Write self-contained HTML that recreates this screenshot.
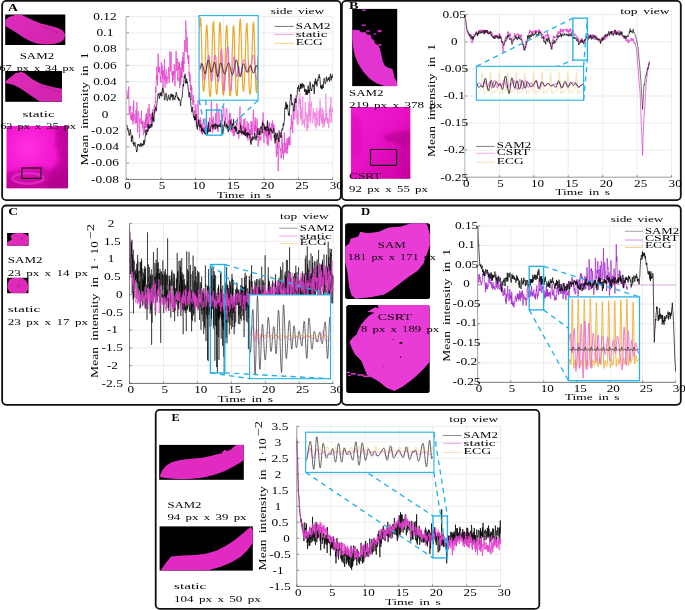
<!DOCTYPE html>
<html><head><meta charset="utf-8"><title>figure</title>
<style>html,body{margin:0;padding:0;background:#fff;}svg{display:block;will-change:transform;opacity:0.999;}text{font-family:"Liberation Serif",serif;}</style></head>
<body>
<svg width="685" height="610" viewBox="0 0 685 610">
<defs>
<linearGradient id="gA" x1="0" y1="0" x2="1" y2="1"><stop offset="0" stop-color="#e02cbc"/><stop offset="1" stop-color="#cf25aa"/></linearGradient>
<linearGradient id="gB2" x1="0" y1="0" x2="1" y2="1"><stop offset="0" stop-color="#f31bd3"/><stop offset="0.45" stop-color="#ea12c6"/><stop offset="1" stop-color="#c8009f"/></linearGradient>
<radialGradient id="gA3" cx="0.35" cy="0.35" r="0.75"><stop offset="0" stop-color="#ff2fe0"/><stop offset="0.6" stop-color="#f316cf"/><stop offset="1" stop-color="#c00498"/></radialGradient>
<filter id="bl" x="-5%" y="-5%" width="110%" height="110%"><feGaussianBlur stdDeviation="0.45"/></filter>
<filter id="bl2" x="-10%" y="-10%" width="120%" height="120%"><feGaussianBlur stdDeviation="1.6"/></filter>
<clipPath id="cA1"><rect x="5.2" y="14.5" width="60.1" height="30.5"/></clipPath>
<clipPath id="cA2"><rect x="5.2" y="71" width="56.8" height="30.8"/></clipPath>
<clipPath id="cA3"><rect x="6.5" y="126" width="61.5" height="62.3"/></clipPath>
<clipPath id="cB1"><rect x="352.2" y="8.9" width="45" height="77.2"/></clipPath>
<clipPath id="cB2"><rect x="350.9" y="107" width="59.4" height="71.8"/></clipPath>
<clipPath id="cC1"><rect x="7.1" y="233" width="21.4" height="12.7"/></clipPath>
<clipPath id="cC2"><rect x="7.1" y="277.8" width="21.4" height="15.4"/></clipPath>
<clipPath id="cD1"><rect x="345.1" y="223.2" width="85" height="75.8" rx="2.5"/></clipPath>
<clipPath id="cD2"><rect x="346.2" y="305.1" width="83.5" height="88" rx="2.5"/></clipPath>
<clipPath id="cE1"><rect x="159.2" y="444.9" width="84.6" height="34.9"/></clipPath>
<clipPath id="cE2"><rect x="159.6" y="526.4" width="93.2" height="44.2"/></clipPath>
<clipPath id="ciA"><rect x="199.1" y="15.6" width="59.00000000000003" height="84.60000000000001"/></clipPath>
<clipPath id="ciB"><rect x="476.4" y="66.3" width="107.20000000000005" height="33.900000000000006"/></clipPath>
<clipPath id="ciC"><rect x="249.6" y="294.9" width="81.00000000000003" height="83.80000000000001"/></clipPath>
<clipPath id="ciD"><rect x="568.5" y="296.9" width="71.0" height="83.80000000000001"/></clipPath>
<clipPath id="ciE"><rect x="305.7" y="432.2" width="128.2" height="40.19999999999999"/></clipPath>
</defs>
<rect x="0" y="0" width="685" height="610" fill="#fff"/>
<rect x="5.2" y="14.5" width="60.1" height="30.5" fill="#000"/>
<g clip-path="url(#cA1)" filter="url(#bl)">
<polygon points="4.9,20.2 9.0,16.9 14.8,15.1 21.3,15.1 26.2,16.9 32.8,20.2 41.0,23.4 49.2,25.6 57.4,27.7 63.1,30.5 65.1,34.6 64.3,38.7 61.0,42.1 54.1,44.1 45.9,44.6 37.7,43.8 30.3,41.3 23.0,37.2 15.6,32.3 9.0,28.2 4.9,25.7" fill="url(#gA)"/>
<path d="M40 26 Q50 29 58 33" stroke="#b91d97" stroke-width="2.2" fill="none" opacity="0.5"/>
</g>
<rect x="5.2" y="71" width="56.8" height="30.8" fill="#000"/>
<g clip-path="url(#cA2)" filter="url(#bl)">
<polygon points="4.9,81.8 15.6,73.0 20.5,71.8 24.6,73.0 32.0,78.9 41.0,83.8 52.5,87.0 63.1,89.0 63.1,103.4 43.0,103.4 36.9,99.8 27.9,93.6 19.7,88.0 13.1,84.8 4.9,83.1" fill="url(#gA)"/>
<path d="M40 86 Q50 89 60 92" stroke="#b91d97" stroke-width="2.2" fill="none" opacity="0.5"/>
</g>
<rect x="6.5" y="126" width="61.5" height="62.3" fill="url(#gA3)"/>
<g clip-path="url(#cA3)">
<path d="M56 126 L68 126 L68 189 L44 189 L52 170 L60 160 L55 145 Z" fill="#b0058c" opacity="0.55" filter="url(#bl2)"/>
<path d="M6 172 L40 166 L68 176 L68 189 L6 189 Z" fill="#b0058c" opacity="0.5" filter="url(#bl2)"/>
<ellipse cx="28" cy="178.5" rx="15.5" ry="5.2" fill="none" stroke="#f23fd6" stroke-width="2.4" opacity="0.55" filter="url(#bl)"/>
</g>
<rect x="21.8" y="168" width="19.1" height="10.4" fill="none" stroke="#111" stroke-width="1.1"/>
<rect x="352.2" y="8.9" width="45" height="77.2" fill="#000"/>
<g clip-path="url(#cB1)">
<polygon points="352.0,29.8 358.9,30.1 361.0,32.2 365.9,32.2 366.6,34.2 370.8,34.9 371.5,38.4 374.2,40.5 374.9,43.3 378.4,45.4 379.8,48.2 381.2,53.7 382.6,60.7 384.7,65.6 388.2,67.7 392.4,69.1 393.7,73.2 394.4,77.4 396.5,80.9 397.6,86.5 392.4,86.5 384.0,85.8 376.3,83.3 369.4,78.4 363.1,71.4 358.2,63.8 354.7,55.4 353.1,47.1 352.0,38.4" fill="#e235d0"/>
<rect x="377.7" y="30.1" width="3.8" height="2.1" fill="#d52fc4"/>
<rect x="373.6" y="33.3" width="2.8" height="1.3" fill="#d52fc4"/>
<rect x="361.7" y="24.5" width="4.2" height="1.4" fill="#d52fc4"/>
<rect x="361.7" y="9.6" width="4.2" height="1.3" fill="#d52fc4"/>
<rect x="378.4" y="44.0" width="3.1" height="1.7" fill="#d52fc4"/>
<rect x="365.9" y="30.3" width="4.2" height="1.4" fill="#d52fc4"/>
<rect x="371.5" y="39.8" width="2.5" height="1.1" fill="#d52fc4"/>
</g>
<rect x="350.9" y="107" width="59.4" height="71.8" fill="url(#gB2)"/>
<g clip-path="url(#cB2)">
<polygon points="382.7,135.6 392.4,133.2 410.6,129.6 410.6,148.1 403.6,146.3 395.2,143.5 386.8,140.7" fill="#b0008c" opacity="0.6" filter="url(#bl2)"/>
<polygon points="398.0,146.0 410.6,147.4 410.6,179.5 400.8,179.5 399.4,162.8" fill="#b8009a" opacity="0.35" filter="url(#bl2)"/>
<polygon points="350.9,113.9 358.9,116.7 363.1,134.9 360.3,155.8 350.9,158.6" fill="#c800a8" opacity="0.3" filter="url(#bl2)"/>
</g>
<rect x="370.5" y="149.5" width="26.1" height="15.8" rx="1" fill="none" stroke="#111" stroke-width="1.15"/>
<rect x="7.1" y="233" width="21.4" height="12.7" fill="#000"/>
<g clip-path="url(#cC1)" filter="url(#bl)">
<polygon points="6.8,245.9 6.8,242.2 11.7,239.7 10.4,236.1 13.5,233.6 20.9,232.6 26.4,234.6 28.7,237.3 28.7,242.8 27.0,245.9" fill="#dd2bb9"/>
<circle cx="22" cy="238.6" r="1.6" fill="#b81d98" opacity="0.6"/>
</g>
<rect x="7.1" y="277.8" width="21.4" height="15.4" fill="#000"/>
<g clip-path="url(#cC2)" filter="url(#bl)">
<polygon points="7.6,284.2 9.2,279.7 13.5,277.8 22.1,277.8 26.4,280.9 28.3,285.2 27.9,290.1 25.8,293.3 12.3,293.3 9.2,291.6 7.4,287.7" fill="#dd2bb9"/>
<circle cx="18.5" cy="285.8" r="1.8" fill="#b81d98" opacity="0.6"/>
</g>
<rect x="345.1" y="223.2" width="85" height="75.8" rx="2.5" fill="#000"/>
<g clip-path="url(#cD1)">
<polygon points="344.4,247.2 349.2,243.5 350.6,238.7 358.2,236.6 360.2,231.8 367.8,233.2 378.8,231.8 388.5,227.6 400.9,226.5 411.9,223.0 425.6,223.0 427.7,226.3 429.8,234.5 429.8,245.5 427.0,253.8 423.6,263.5 417.4,271.0 409.1,276.5 400.9,282.7 391.2,290.3 384.3,294.4 370.5,297.2 355.4,298.7 351.3,295.1 349.2,286.9 347.1,270.3 344.4,259.3" fill="#e93cd6"/>
</g>
<rect x="346.2" y="305.1" width="83.5" height="88" rx="2.5" fill="#000"/>
<g clip-path="url(#cD2)">
<polygon points="367.1,312.0 375.1,307.2 378.6,308.3 377.5,304.8 430.5,304.8 430.5,361.0 424.9,367.4 418.5,373.9 410.4,381.1 402.4,386.7 394.4,391.0 386.4,387.8 379.9,382.2 371.9,377.4 367.1,375.0 363.9,367.4 361.5,361.0 355.0,354.6 351.8,348.2 349.4,342.1 352.6,337.7 356.6,334.5 359.1,327.3 363.9,320.9 368.7,316.1 374.3,312.5" fill="#e93cd6"/>
<rect x="346.2" y="371.8" width="4.0" height="1.3" fill="#d936c8"/>
<rect x="351.0" y="373.1" width="4.8" height="1.6" fill="#d936c8"/>
<rect x="357.5" y="374.2" width="6.4" height="1.6" fill="#d936c8"/>
<rect x="363.1" y="375.5" width="7.2" height="1.6" fill="#d936c8"/>
<rect x="347.8" y="375.1" width="3.2" height="1.0" fill="#d936c8"/>
<ellipse cx="400.9" cy="343.0" rx="1.6" ry="1.0" fill="#000"/><circle cx="400.5" cy="357.0" r="0.7" fill="#000"/><circle cx="393.2" cy="339.4" r="0.5" fill="#000"/><circle cx="383" cy="366.5" r="0.4" fill="#000"/>
</g>
<rect x="159.2" y="444.9" width="84.6" height="34.9" fill="#000"/>
<g clip-path="url(#cE1)" filter="url(#bl)">
<polygon points="159.9,475.4 162.6,469.8 166.1,465.7 171.6,462.2 180.0,460.1 191.1,458.7 202.2,457.8 210.5,456.0 216.0,454.6 221.6,453.2 224.3,449.7 227.1,451.1 230.6,449.7 234.8,445.8 238.2,444.7 245.2,445.3 245.2,459.4 239.6,462.9 232.7,467.0 224.3,471.2 214.6,474.7 203.5,477.4 192.4,478.8 182.7,479.3 173.0,478.8 165.4,478.1 160.5,477.2" fill="#e02ac2"/>
</g>
<rect x="159.6" y="526.4" width="93.2" height="44.2" fill="#000"/>
<g clip-path="url(#cE2)" filter="url(#bl)">
<polygon points="159.6,572.1 165.7,562.9 171.1,556.5 182.6,555.6 194.9,554.9 205.6,553.7 216.3,550.7 225.5,546.1 234.7,539.9 242.4,533.8 248.5,528.4 251.3,527.1 253.9,533.8 253.9,541.5 247.0,550.7 240.8,556.8 231.6,562.2 220.9,566.8 210.2,569.8 201.0,572.1" fill="#e02ac2"/>
</g>
<rect x="2.15" y="0.85" width="338.75" height="199.35" rx="4.2" ry="4.2" fill="none" stroke="#111" stroke-width="1.8"/>
<rect x="341.9" y="0.85" width="338.9" height="199.35" rx="4.2" ry="4.2" fill="none" stroke="#111" stroke-width="1.8"/>
<rect x="2.15" y="205.5" width="338.75" height="199.3" rx="4.2" ry="4.2" fill="none" stroke="#111" stroke-width="1.8"/>
<rect x="341.9" y="205.5" width="338.9" height="199.3" rx="4.2" ry="4.2" fill="none" stroke="#111" stroke-width="1.8"/>
<rect x="155.7" y="409.9" width="383.59999999999997" height="199.0" rx="4.2" ry="4.2" fill="none" stroke="#111" stroke-width="1.8"/>
<text x="7.9" y="10.8" textLength="9.9" lengthAdjust="spacingAndGlyphs" font-size="10.6" font-weight="bold" fill="#000">A</text>
<text x="19.7" y="58.9" textLength="34.4" lengthAdjust="spacingAndGlyphs" font-size="9.2" fill="#000">SAM2</text>
<text x="-0.6" y="71.0" textLength="75.2" lengthAdjust="spacingAndGlyphs" font-size="9.2" fill="#000" word-spacing="1.5">67 px x 34 px</text>
<text x="22.6" y="116.7" textLength="32.2" lengthAdjust="spacingAndGlyphs" font-size="9.2" fill="#000">static</text>
<text x="0.2" y="128.8" textLength="75.8" lengthAdjust="spacingAndGlyphs" font-size="9.2" fill="#000" word-spacing="1.5">63 px x 35 px</text>
<text x="349.1" y="8.6" textLength="9.5" lengthAdjust="spacingAndGlyphs" font-size="10.2" font-weight="bold" fill="#000">B</text>
<text x="349.1" y="95.8" textLength="34.5" lengthAdjust="spacingAndGlyphs" font-size="9.2" fill="#000">SAM2</text>
<text x="349.1" y="108.4" textLength="93.4" lengthAdjust="spacingAndGlyphs" font-size="9.2" fill="#000" word-spacing="1.5">219 px x 378 px</text>
<text x="349.1" y="179.2" textLength="32.3" lengthAdjust="spacingAndGlyphs" font-size="9.2" fill="#000">CSRT</text>
<text x="349.1" y="191.9" textLength="78.8" lengthAdjust="spacingAndGlyphs" font-size="9.2" fill="#000" word-spacing="1.5">92 px x 55 px</text>
<text x="8.2" y="214.9" textLength="9.8" lengthAdjust="spacingAndGlyphs" font-size="10.6" font-weight="bold" fill="#000">C</text>
<text x="7.8" y="263.4" textLength="34.7" lengthAdjust="spacingAndGlyphs" font-size="9.2" fill="#000">SAM2</text>
<text x="7.8" y="275.6" textLength="80.1" lengthAdjust="spacingAndGlyphs" font-size="9.2" fill="#000" word-spacing="1.5">23 px x 14 px</text>
<text x="7.8" y="312.4" textLength="32.5" lengthAdjust="spacingAndGlyphs" font-size="9.2" fill="#000">static</text>
<text x="7.8" y="324.6" textLength="80.1" lengthAdjust="spacingAndGlyphs" font-size="9.2" fill="#000" word-spacing="1.5">23 px x 17 px</text>
<text x="361.0" y="214.9" textLength="9.2" lengthAdjust="spacingAndGlyphs" font-size="10.6" font-weight="bold" fill="#000">D</text>
<text x="377.8" y="248.0" textLength="28.0" lengthAdjust="spacingAndGlyphs" font-size="9.2" fill="#000">SAM</text>
<text x="347.8" y="260.3" textLength="88.2" lengthAdjust="spacingAndGlyphs" font-size="9.2" fill="#000" word-spacing="1.5">181 px x 171 px</text>
<text x="377.8" y="319.5" textLength="34.1" lengthAdjust="spacingAndGlyphs" font-size="9.2" fill="#000">CSRT</text>
<text x="348.3" y="331.8" textLength="90.8" lengthAdjust="spacingAndGlyphs" font-size="9.2" fill="#000" word-spacing="1.5">178 px x 189 px</text>
<text x="171.5" y="421.0" textLength="8.1" lengthAdjust="spacingAndGlyphs" font-size="10.6" font-weight="bold" fill="#000">E</text>
<text x="167.4" y="507.8" textLength="34.1" lengthAdjust="spacingAndGlyphs" font-size="9.2" fill="#000">SAM2</text>
<text x="167.4" y="520.4" textLength="79.1" lengthAdjust="spacingAndGlyphs" font-size="9.2" fill="#000" word-spacing="1.5">94 px x 39 px</text>
<text x="174.1" y="589.3" textLength="32.1" lengthAdjust="spacingAndGlyphs" font-size="9.2" fill="#000">static</text>
<text x="174.1" y="601.6" textLength="86.7" lengthAdjust="spacingAndGlyphs" font-size="9.2" fill="#000" word-spacing="1.5">104 px x 50 px</text>
<line x1="160.9" y1="16.6" x2="160.9" y2="179.4" stroke="#e3e3e3" stroke-width="0.7"/>
<line x1="195.3" y1="16.6" x2="195.3" y2="179.4" stroke="#e3e3e3" stroke-width="0.7"/>
<line x1="229.6" y1="16.6" x2="229.6" y2="179.4" stroke="#e3e3e3" stroke-width="0.7"/>
<line x1="264.0" y1="16.6" x2="264.0" y2="179.4" stroke="#e3e3e3" stroke-width="0.7"/>
<line x1="298.4" y1="16.6" x2="298.4" y2="179.4" stroke="#e3e3e3" stroke-width="0.7"/>
<line x1="332.7" y1="16.6" x2="332.7" y2="179.4" stroke="#e3e3e3" stroke-width="0.7"/>
<line x1="126.6" y1="179.4" x2="332.7" y2="179.4" stroke="#e3e3e3" stroke-width="0.7"/>
<line x1="126.6" y1="163.1" x2="332.7" y2="163.1" stroke="#e3e3e3" stroke-width="0.7"/>
<line x1="126.6" y1="146.8" x2="332.7" y2="146.8" stroke="#e3e3e3" stroke-width="0.7"/>
<line x1="126.6" y1="130.6" x2="332.7" y2="130.6" stroke="#e3e3e3" stroke-width="0.7"/>
<line x1="126.6" y1="114.3" x2="332.7" y2="114.3" stroke="#e3e3e3" stroke-width="0.7"/>
<line x1="126.6" y1="98.0" x2="332.7" y2="98.0" stroke="#e3e3e3" stroke-width="0.7"/>
<line x1="126.6" y1="81.7" x2="332.7" y2="81.7" stroke="#e3e3e3" stroke-width="0.7"/>
<line x1="126.6" y1="65.4" x2="332.7" y2="65.4" stroke="#e3e3e3" stroke-width="0.7"/>
<line x1="126.6" y1="49.2" x2="332.7" y2="49.2" stroke="#e3e3e3" stroke-width="0.7"/>
<line x1="126.6" y1="32.9" x2="332.7" y2="32.9" stroke="#e3e3e3" stroke-width="0.7"/>
<line x1="126.6" y1="16.6" x2="332.7" y2="16.6" stroke="#e3e3e3" stroke-width="0.7"/>
<path d="M126.6 93.0 L126.8 90.4 L127.1 92.3 L127.3 92.9 L127.5 97.3 L127.7 98.7 L128.0 95.3 L128.2 96.9 L128.4 95.9 L128.7 86.5 L128.9 96.8 L129.1 114.5 L129.3 114.2 L129.6 112.0 L129.8 106.8 L130.0 109.0 L130.3 105.8 L130.5 108.0 L130.7 113.2 L131.0 119.5 L131.2 114.2 L131.4 120.3 L131.6 117.8 L131.9 112.1 L132.1 118.4 L132.3 120.3 L132.6 121.4 L132.8 114.2 L133.0 124.5 L133.2 106.0 L133.5 110.9 L133.7 100.6 L133.9 120.5 L134.2 116.2 L134.4 113.9 L134.6 114.2 L134.8 115.9 L135.1 122.3 L135.3 123.7 L135.5 120.5 L135.8 114.5 L136.0 109.9 L136.2 114.1 L136.4 123.1 L136.7 113.7 L136.9 102.1 L137.1 113.7 L137.4 129.3 L137.6 132.2 L137.8 115.9 L138.0 114.2 L138.3 111.0 L138.5 114.3 L138.7 115.6 L139.0 127.8 L139.2 127.6 L139.4 138.2 L139.7 132.6 L139.9 118.0 L140.1 118.1 L140.3 122.3 L140.6 122.6 L140.8 122.6 L141.0 123.6 L141.3 117.7 L141.5 110.6 L141.7 124.3 L141.9 122.1 L142.2 122.4 L142.4 121.7 L142.6 128.5 L142.9 120.7 L143.1 129.2 L143.3 131.3 L143.5 135.2 L143.8 134.0 L144.0 127.1 L144.2 121.8 L144.5 132.5 L144.7 126.6 L144.9 127.6 L145.1 128.1 L145.4 118.9 L145.6 127.9 L145.8 117.2 L146.1 113.8 L146.3 121.5 L146.5 113.5 L146.8 127.6 L147.0 122.7 L147.2 127.4 L147.4 117.3 L147.7 119.1 L147.9 108.5 L148.1 124.1 L148.4 131.2 L148.6 119.2 L148.8 120.0 L149.0 104.2 L149.3 110.2 L149.5 116.4 L149.7 114.7 L150.0 124.7 L150.2 121.6 L150.4 117.0 L150.6 115.0 L150.9 113.8 L151.1 119.6 L151.3 118.1 L151.6 119.1 L151.8 116.9 L152.0 119.3 L152.2 125.4 L152.5 126.9 L152.7 121.9 L152.9 109.2 L153.2 115.6 L153.4 115.7 L153.6 118.6 L153.9 114.5 L154.1 113.0 L154.3 104.8 L154.5 111.9 L154.8 112.9 L155.0 108.7 L155.2 101.0 L155.5 102.5 L155.7 86.9 L155.9 92.4 L156.1 86.6 L156.4 77.1 L156.6 79.6 L156.8 66.6 L157.1 77.8 L157.3 74.4 L157.5 85.5 L157.7 78.8 L158.0 61.0 L158.2 53.8 L158.4 68.0 L158.7 71.7 L158.9 67.3 L159.1 71.8 L159.3 72.8 L159.6 66.8 L159.8 69.7 L160.0 72.0 L160.3 78.2 L160.5 81.3 L160.7 76.7 L160.9 82.9 L161.2 69.3 L161.4 62.1 L161.6 71.1 L161.9 74.0 L162.1 64.8 L162.3 78.2 L162.6 70.9 L162.8 88.3 L163.0 92.9 L163.2 90.4 L163.5 70.2 L163.7 73.4 L163.9 76.4 L164.2 80.2 L164.4 59.1 L164.6 74.3 L164.8 78.4 L165.1 87.7 L165.3 82.3 L165.5 75.4 L165.8 78.4 L166.0 72.6 L166.2 69.1 L166.4 81.8 L166.7 77.9 L166.9 84.0 L167.1 82.4 L167.4 77.6 L167.6 77.8 L167.8 76.6 L168.0 78.7 L168.3 73.9 L168.5 72.2 L168.7 67.0 L169.0 72.7 L169.2 83.1 L169.4 72.5 L169.7 68.4 L169.9 51.3 L170.1 59.1 L170.3 63.0 L170.6 71.3 L170.8 62.3 L171.0 51.9 L171.3 55.0 L171.5 59.6 L171.7 68.6 L171.9 75.0 L172.2 73.0 L172.4 78.0 L172.6 82.5 L172.9 71.2 L173.1 80.1 L173.3 71.5 L173.5 76.1 L173.8 71.5 L174.0 73.6 L174.2 64.1 L174.5 71.1 L174.7 80.8 L174.9 86.2 L175.1 86.2 L175.4 77.1 L175.6 67.2 L175.8 65.1 L176.1 50.9 L176.3 64.7 L176.5 71.0 L176.8 61.7 L177.0 62.6 L177.2 58.0 L177.4 66.1 L177.7 79.4 L177.9 77.9 L178.1 81.3 L178.4 66.7 L178.6 69.4 L178.8 61.8 L179.0 69.9 L179.3 68.2 L179.5 62.8 L179.7 88.1 L180.0 76.6 L180.2 80.6 L180.4 67.5 L180.6 84.6 L180.9 80.7 L181.1 80.8 L181.3 71.9 L181.6 77.6 L181.8 61.2 L182.0 77.8 L182.2 66.0 L182.5 68.5 L182.7 57.3 L182.9 70.1 L183.2 51.9 L183.4 66.4 L183.6 72.3 L183.8 61.2 L184.1 64.0 L184.3 62.2 L184.5 44.9 L184.8 40.0 L185.0 50.1 L185.2 51.8 L185.5 41.4 L185.7 20.5 L185.9 26.1 L186.1 31.9 L186.4 31.2 L186.6 34.7 L186.8 52.3 L187.1 37.1 L187.3 49.3 L187.5 49.1 L187.7 58.8 L188.0 55.3 L188.2 57.7 L188.4 64.0 L188.7 55.3 L188.9 59.2 L189.1 76.3 L189.3 71.7 L189.6 73.1 L189.8 82.5 L190.0 74.4 L190.3 86.4 L190.5 84.4 L190.7 90.0 L190.9 87.1 L191.2 100.2 L191.4 85.4 L191.6 90.1 L191.9 87.5 L192.1 97.1 L192.3 97.2 L192.6 99.3 L192.8 104.8 L193.0 97.7 L193.2 95.1 L193.5 95.1 L193.7 102.3 L193.9 100.0 L194.2 109.6 L194.4 116.9 L194.6 119.1 L194.8 110.2 L195.1 112.0 L195.3 116.1 L195.5 116.6 L195.8 104.5 L196.0 108.9 L196.2 110.1 L196.4 116.8 L196.7 124.2 L196.9 120.4 L197.1 127.6 L197.4 116.3 L197.6 115.3 L197.8 112.2 L198.0 100.3 L198.3 112.4 L198.5 124.2 L198.7 124.3 L199.0 120.0 L199.2 123.8 L199.4 130.5 L199.7 123.9 L199.9 123.6 L200.1 118.6 L200.3 117.6 L200.6 125.3 L200.8 120.0 L201.0 131.7 L201.3 132.9 L201.5 130.3 L201.7 133.5 L201.9 125.5 L202.2 128.6 L202.4 134.7 L202.6 128.9 L202.9 122.2 L203.1 132.1 L203.3 129.1 L203.5 131.2 L203.8 126.8 L204.0 129.2 L204.2 132.6 L204.5 129.3 L204.7 127.5 L204.9 118.3 L205.1 126.7 L205.4 132.2 L205.6 126.0 L205.8 126.5 L206.1 131.5 L206.3 126.0 L206.5 133.4 L206.8 130.8 L207.0 125.7 L207.2 127.4 L207.4 127.8 L207.7 132.2 L207.9 125.9 L208.1 124.5 L208.4 126.1 L208.6 128.5 L208.8 129.4 L209.0 132.0 L209.3 129.7 L209.5 126.1 L209.7 117.7 L210.0 122.3 L210.2 126.9 L210.4 128.2 L210.6 132.5 L210.9 123.2 L211.1 117.5 L211.3 101.2 L211.6 108.0 L211.8 122.3 L212.0 118.8 L212.2 127.6 L212.5 120.7 L212.7 132.5 L212.9 124.2 L213.2 116.4 L213.4 116.8 L213.6 124.6 L213.8 125.8 L214.1 129.8 L214.3 125.0 L214.5 126.5 L214.8 127.1 L215.0 123.6 L215.2 120.3 L215.5 117.7 L215.7 113.2 L215.9 124.2 L216.1 123.5 L216.4 120.1 L216.6 120.0 L216.8 103.5 L217.1 105.5 L217.3 120.0 L217.5 129.7 L217.7 124.6 L218.0 132.0 L218.2 128.5 L218.4 124.8 L218.7 120.9 L218.9 109.2 L219.1 111.1 L219.3 117.5 L219.6 118.7 L219.8 125.8 L220.0 126.6 L220.3 126.8 L220.5 120.1 L220.7 124.2 L220.9 128.0 L221.2 127.3 L221.4 128.1 L221.6 122.2 L221.9 124.3 L222.1 114.7 L222.3 120.7 L222.6 114.8 L222.8 117.2 L223.0 112.5 L223.2 106.4 L223.5 106.6 L223.7 108.3 L223.9 107.5 L224.2 120.4 L224.4 126.3 L224.6 125.4 L224.8 120.0 L225.1 123.2 L225.3 117.6 L225.5 120.1 L225.8 114.6 L226.0 111.8 L226.2 109.9 L226.4 111.3 L226.7 108.3 L226.9 108.6 L227.1 114.1 L227.4 124.1 L227.6 126.7 L227.8 128.6 L228.0 129.6 L228.3 128.4 L228.5 120.8 L228.7 122.6 L229.0 121.3 L229.2 118.9 L229.4 113.6 L229.6 120.3 L229.9 124.4 L230.1 113.0 L230.3 119.7 L230.6 127.9 L230.8 128.6 L231.0 132.1 L231.3 119.9 L231.5 118.7 L231.7 124.5 L231.9 125.3 L232.2 125.4 L232.4 130.0 L232.6 132.9 L232.9 132.7 L233.1 128.2 L233.3 136.1 L233.5 132.0 L233.8 129.8 L234.0 127.7 L234.2 127.1 L234.5 134.9 L234.7 135.6 L234.9 129.4 L235.1 130.5 L235.4 129.8 L235.6 129.1 L235.8 132.7 L236.1 128.7 L236.3 128.8 L236.5 122.3 L236.7 125.2 L237.0 123.0 L237.2 122.5 L237.4 117.6 L237.7 124.8 L237.9 124.6 L238.1 127.7 L238.4 129.0 L238.6 133.2 L238.8 138.5 L239.0 135.9 L239.3 131.2 L239.5 120.5 L239.7 115.4 L240.0 106.5 L240.2 124.4 L240.4 122.4 L240.6 127.8 L240.9 117.1 L241.1 117.7 L241.3 119.3 L241.6 129.2 L241.8 134.5 L242.0 135.4 L242.2 132.2 L242.5 128.1 L242.7 125.9 L242.9 126.2 L243.2 132.1 L243.4 124.2 L243.6 128.0 L243.8 118.9 L244.1 126.2 L244.3 135.7 L244.5 128.3 L244.8 119.5 L245.0 118.4 L245.2 127.8 L245.5 132.1 L245.7 127.0 L245.9 128.9 L246.1 131.4 L246.4 134.7 L246.6 128.8 L246.8 130.1 L247.1 121.2 L247.3 129.9 L247.5 132.1 L247.7 138.1 L248.0 140.4 L248.2 131.4 L248.4 123.0 L248.7 126.8 L248.9 131.3 L249.1 133.2 L249.3 138.3 L249.6 129.5 L249.8 134.2 L250.0 128.9 L250.3 134.1 L250.5 142.0 L250.7 140.3 L250.9 120.9 L251.2 126.7 L251.4 124.9 L251.6 135.0 L251.9 121.7 L252.1 125.6 L252.3 135.3 L252.5 139.2 L252.8 126.5 L253.0 121.4 L253.2 110.7 L253.5 109.8 L253.7 119.7 L253.9 128.9 L254.2 129.4 L254.4 135.0 L254.6 124.8 L254.8 132.2 L255.1 117.4 L255.3 130.8 L255.5 129.8 L255.8 121.1 L256.0 128.5 L256.2 127.3 L256.4 136.2 L256.7 134.6 L256.9 125.4 L257.1 118.4 L257.4 126.5 L257.6 131.7 L257.8 138.7 L258.0 146.6 L258.3 146.4 L258.5 144.4 L258.7 136.2 L259.0 137.5 L259.2 137.0 L259.4 128.1 L259.6 140.3 L259.9 140.9 L260.1 137.4 L260.3 137.0 L260.6 139.4 L260.8 140.3 L261.0 134.1 L261.3 128.2 L261.5 129.4 L261.7 128.7 L261.9 123.4 L262.2 124.6 L262.4 125.1 L262.6 120.8 L262.9 125.7 L263.1 112.4 L263.3 127.2 L263.5 132.9 L263.8 138.5 L264.0 142.9 L264.2 125.5 L264.5 133.9 L264.7 132.6 L264.9 127.5 L265.1 133.4 L265.4 136.0 L265.6 133.9 L265.8 128.7 L266.1 131.7 L266.3 138.1 L266.5 129.6 L266.7 134.2 L267.0 136.0 L267.2 144.4 L267.4 135.9 L267.7 124.5 L267.9 133.7 L268.1 145.7 L268.4 141.8 L268.6 137.1 L268.8 132.6 L269.0 127.3 L269.3 122.4 L269.5 125.7 L269.7 122.5 L270.0 136.4 L270.2 138.2 L270.4 134.9 L270.6 127.1 L270.9 137.8 L271.1 140.7 L271.3 138.0 L271.6 136.1 L271.8 123.7 L272.0 131.4 L272.2 122.4 L272.5 120.5 L272.7 128.0 L272.9 128.0 L273.2 123.8 L273.4 133.0 L273.6 133.0 L273.8 128.8 L274.1 124.8 L274.3 134.6 L274.5 140.6 L274.8 140.7 L275.0 137.2 L275.2 139.9 L275.5 141.3 L275.7 141.1 L275.9 140.6 L276.1 150.8 L276.4 156.7 L276.6 149.6 L276.8 148.9 L277.1 139.5 L277.3 148.3 L277.5 143.0 L277.7 153.9 L278.0 151.9 L278.2 171.1 L278.4 154.9 L278.7 139.2 L278.9 129.8 L279.1 139.9 L279.3 144.8 L279.6 147.9 L279.8 148.4 L280.0 148.8 L280.3 150.6 L280.5 148.1 L280.7 153.3 L280.9 157.2 L281.2 158.5 L281.4 155.4 L281.6 157.3 L281.9 135.0 L282.1 149.1 L282.3 153.6 L282.5 152.0 L282.8 142.6 L283.0 150.1 L283.2 155.1 L283.5 159.4 L283.7 151.6 L283.9 153.5 L284.2 139.7 L284.4 132.5 L284.6 146.0 L284.8 152.2 L285.1 152.2 L285.3 142.7 L285.5 148.5 L285.8 152.8 L286.0 153.2 L286.2 150.0 L286.4 147.8 L286.7 149.5 L286.9 138.6 L287.1 154.0 L287.4 145.8 L287.6 143.0 L287.8 148.8 L288.0 138.0 L288.3 145.3 L288.5 141.7 L288.7 137.6 L289.0 143.6 L289.2 144.6 L289.4 136.4 L289.6 140.4 L289.9 143.0 L290.1 145.4 L290.3 132.9 L290.6 127.7 L290.8 126.6 L291.0 129.5 L291.3 118.2 L291.5 114.9 L291.7 125.3 L291.9 121.0 L292.2 120.7 L292.4 121.8 L292.6 133.1 L292.9 131.8 L293.1 110.6 L293.3 112.6 L293.5 118.0 L293.8 120.0 L294.0 108.0 L294.2 98.6 L294.5 105.3 L294.7 103.9" fill="none" stroke="#e23fcc" stroke-width="0.7" stroke-linejoin="round"/>
<path d="M294.7 103.9 L294.9 118.5 L295.1 115.0 L295.4 104.1 L295.6 104.3 L295.8 95.2 L296.1 110.5 L296.3 105.2 L296.5 117.4 L296.7 115.8 L297.0 123.5 L297.2 124.1 L297.4 119.1 L297.7 110.2 L297.9 117.4 L298.1 124.9 L298.4 120.6 L298.6 116.2 L298.8 110.1 L299.0 98.3 L299.3 104.1 L299.5 101.7 L299.7 101.1 L300.0 92.8 L300.2 108.5 L300.4 99.6 L300.6 118.3 L300.9 111.5 L301.1 120.8 L301.3 106.8 L301.6 114.0 L301.8 113.9 L302.0 124.2 L302.2 125.4 L302.5 111.1 L302.7 96.3 L302.9 99.3 L303.2 123.0 L303.4 121.9 L303.6 123.9 L303.8 120.6 L304.1 121.7 L304.3 119.2 L304.5 127.2 L304.8 117.4 L305.0 116.0 L305.2 101.9 L305.4 116.9 L305.7 118.0 L305.9 120.2 L306.1 111.8 L306.4 115.4 L306.6 127.1 L306.8 130.8 L307.1 131.2 L307.3 124.8 L307.5 128.3 L307.7 114.1 L308.0 128.2 L308.2 123.3 L308.4 115.4 L308.7 102.4 L308.9 101.9 L309.1 121.5 L309.3 110.7 L309.6 116.0 L309.8 92.6 L310.0 103.8 L310.3 112.1 L310.5 123.4 L310.7 109.6 L310.9 103.9 L311.2 105.7 L311.4 101.3 L311.6 111.5 L311.9 112.9 L312.1 115.1 L312.3 120.5 L312.5 123.3 L312.8 121.0 L313.0 113.7 L313.2 107.8 L313.5 113.3 L313.7 112.4 L313.9 119.3 L314.2 114.0 L314.4 113.4 L314.6 111.8 L314.8 121.8 L315.1 126.6 L315.3 120.4 L315.5 112.9 L315.8 114.4 L316.0 119.9 L316.2 128.5 L316.4 115.1 L316.7 107.7 L316.9 120.4 L317.1 118.0 L317.4 125.0 L317.6 123.7 L317.8 125.0 L318.0 112.2 L318.3 110.9 L318.5 117.4 L318.7 118.1 L319.0 120.2 L319.2 126.7 L319.4 108.7 L319.6 125.0 L319.9 119.0 L320.1 99.3 L320.3 115.1 L320.6 117.4 L320.8 115.6 L321.0 108.6 L321.2 120.2 L321.5 116.1 L321.7 123.4 L321.9 110.0 L322.2 107.7 L322.4 122.9 L322.6 114.1 L322.9 127.7 L323.1 122.2 L323.3 124.1 L323.5 110.4 L323.8 122.7 L324.0 123.3 L324.2 117.8 L324.5 126.6 L324.7 118.5 L324.9 122.1 L325.1 118.4 L325.4 121.2 L325.6 109.4 L325.8 93.6 L326.1 99.9 L326.3 105.7 L326.5 119.8 L326.7 115.2 L327.0 112.7 L327.2 123.1 L327.4 117.7 L327.7 121.9 L327.9 123.8 L328.1 120.7 L328.3 118.5 L328.6 128.2 L328.8 127.1 L329.0 126.0 L329.3 111.1 L329.5 113.0 L329.7 108.5 L330.0 122.7 L330.2 117.0 L330.4 105.4 L330.6 111.7 L330.9 96.9 L331.1 101.6 L331.3 109.9 L331.6 122.4 L331.8 114.2 L332.0 111.6 L332.2 109.5 L332.5 111.8 L332.7 107.9" fill="none" stroke="#ee72dc" stroke-width="0.6" stroke-linejoin="round"/>
<path d="M126.6 125.1 L126.8 125.9 L127.1 125.3 L127.3 128.5 L127.5 129.5 L127.7 128.2 L128.0 128.1 L128.2 128.7 L128.4 129.9 L128.7 133.2 L128.9 134.5 L129.1 134.4 L129.3 135.6 L129.6 133.8 L129.8 134.2 L130.0 131.2 L130.3 129.4 L130.5 130.2 L130.7 133.2 L131.0 134.1 L131.2 135.2 L131.4 141.9 L131.6 139.9 L131.9 136.9 L132.1 138.3 L132.3 135.8 L132.6 135.5 L132.8 137.7 L133.0 142.5 L133.2 144.0 L133.5 142.5 L133.7 143.6 L133.9 146.0 L134.2 144.4 L134.4 144.5 L134.6 143.9 L134.8 142.2 L135.1 142.4 L135.3 145.2 L135.5 146.8 L135.8 146.3 L136.0 147.4 L136.2 148.5 L136.4 150.8 L136.7 152.1 L136.9 150.7 L137.1 151.3 L137.4 148.6 L137.6 144.5 L137.8 145.1 L138.0 145.5 L138.3 144.0 L138.5 144.3 L138.7 145.1 L139.0 145.4 L139.2 145.4 L139.4 145.9 L139.7 144.5 L139.9 145.7 L140.1 146.9 L140.3 145.2 L140.6 143.0 L140.8 143.6 L141.0 144.7 L141.3 143.6 L141.5 145.4 L141.7 146.4 L141.9 146.5 L142.2 144.6 L142.4 144.6 L142.6 145.1 L142.9 143.8 L143.1 145.5 L143.3 144.2 L143.5 141.9 L143.8 140.2 L144.0 144.0 L144.2 144.6 L144.5 141.5 L144.7 140.8 L144.9 141.5 L145.1 137.5 L145.4 136.2 L145.6 134.5 L145.8 129.9 L146.1 132.4 L146.3 135.0 L146.5 135.1 L146.8 133.9 L147.0 129.1 L147.2 129.4 L147.4 132.0 L147.7 131.2 L147.9 127.7 L148.1 124.0 L148.4 124.8 L148.6 126.1 L148.8 128.6 L149.0 126.2 L149.3 127.9 L149.5 128.4 L149.7 126.2 L150.0 124.6 L150.2 124.4 L150.4 124.5 L150.6 127.2 L150.9 127.9 L151.1 125.6 L151.3 124.1 L151.6 126.5 L151.8 124.0 L152.0 116.8 L152.2 113.1 L152.5 112.6 L152.7 118.1 L152.9 120.5 L153.2 120.8 L153.4 117.4 L153.6 118.5 L153.9 121.9 L154.1 116.5 L154.3 114.6 L154.5 113.1 L154.8 110.8 L155.0 110.4 L155.2 109.3 L155.5 108.6 L155.7 107.4 L155.9 110.8 L156.1 111.2 L156.4 111.0 L156.6 110.0 L156.8 104.3 L157.1 102.9 L157.3 100.1 L157.5 97.7 L157.7 95.8 L158.0 94.4 L158.2 95.2 L158.4 93.3 L158.7 94.9 L158.9 94.9 L159.1 95.3 L159.3 98.6 L159.6 97.9 L159.8 95.4 L160.0 92.6 L160.3 93.2 L160.5 95.4 L160.7 95.8 L160.9 92.5 L161.2 92.5 L161.4 92.6 L161.6 95.1 L161.9 96.3 L162.1 92.3 L162.3 89.5 L162.6 89.5 L162.8 87.8 L163.0 90.5 L163.2 90.7 L163.5 90.2 L163.7 91.4 L163.9 92.3 L164.2 95.1 L164.4 97.0 L164.6 99.0 L164.8 100.2 L165.1 97.9 L165.3 96.5 L165.5 95.7 L165.8 94.2 L166.0 93.3 L166.2 93.2 L166.4 95.1 L166.7 97.0 L166.9 98.8 L167.1 100.8 L167.4 100.6 L167.6 99.8 L167.8 99.8 L168.0 98.2 L168.3 95.5 L168.5 95.3 L168.7 94.8 L169.0 97.5 L169.2 98.5 L169.4 97.8 L169.7 98.0 L169.9 99.1 L170.1 100.3 L170.3 98.9 L170.6 95.2 L170.8 93.9 L171.0 95.1 L171.3 95.1 L171.5 97.1 L171.7 94.4 L171.9 93.9 L172.2 96.1 L172.4 95.2 L172.6 97.2 L172.9 100.3 L173.1 99.6 L173.3 94.8 L173.5 95.1 L173.8 97.2 L174.0 97.7 L174.2 99.2 L174.5 99.0 L174.7 99.8 L174.9 99.5 L175.1 97.8 L175.4 95.9 L175.6 97.2 L175.8 96.8 L176.1 92.4 L176.3 92.1 L176.5 94.0 L176.8 94.1 L177.0 95.4 L177.2 95.9 L177.4 96.5 L177.7 98.7 L177.9 98.8 L178.1 97.0 L178.4 98.7 L178.6 100.3 L178.8 99.2 L179.0 100.3 L179.3 98.9 L179.5 98.9 L179.7 100.5 L180.0 101.7 L180.2 102.6 L180.4 105.4 L180.6 106.1 L180.9 101.4 L181.1 101.3 L181.3 100.0 L181.6 98.6 L181.8 98.3 L182.0 97.6 L182.2 96.0 L182.5 91.5 L182.7 89.8 L182.9 87.3 L183.2 84.2 L183.4 86.2 L183.6 86.4 L183.8 82.4 L184.1 79.3 L184.3 76.0 L184.5 77.8 L184.8 77.5 L185.0 73.8 L185.2 75.5 L185.5 79.3 L185.7 83.4 L185.9 81.0 L186.1 80.7 L186.4 83.2 L186.6 78.6 L186.8 81.8 L187.1 82.9 L187.3 81.8 L187.5 83.2 L187.7 84.0 L188.0 86.9 L188.2 89.0 L188.4 90.1 L188.7 91.0 L188.9 95.5 L189.1 97.2 L189.3 92.6 L189.6 92.5 L189.8 93.4 L190.0 95.3 L190.3 97.6 L190.5 99.0 L190.7 100.7 L190.9 105.6 L191.2 106.6 L191.4 107.6 L191.6 109.1 L191.9 112.3 L192.1 108.5 L192.3 106.9 L192.6 110.1 L192.8 111.0 L193.0 112.6 L193.2 113.5 L193.5 116.6 L193.7 117.9 L193.9 118.0 L194.2 117.5 L194.4 116.1 L194.6 120.4 L194.8 118.1 L195.1 116.9 L195.3 117.2 L195.5 120.0 L195.8 119.5 L196.0 114.5 L196.2 120.6 L196.4 125.2 L196.7 125.0 L196.9 127.0 L197.1 127.6 L197.4 129.5 L197.6 125.4 L197.8 126.4 L198.0 124.9 L198.3 122.4 L198.5 123.9 L198.7 119.6 L199.0 121.9 L199.2 125.9 L199.4 125.6 L199.7 126.6 L199.9 125.5 L200.1 125.3 L200.3 127.8 L200.6 126.5 L200.8 124.5 L201.0 124.3 L201.3 129.9 L201.5 131.4 L201.7 127.8 L201.9 129.3 L202.2 130.8 L202.4 130.5 L202.6 129.4 L202.9 128.3 L203.1 131.0 L203.3 130.9 L203.5 132.1 L203.8 129.6 L204.0 129.5 L204.2 132.8 L204.5 132.8 L204.7 134.0 L204.9 132.3 L205.1 132.8 L205.4 130.8 L205.6 132.1 L205.8 134.6 L206.1 131.3 L206.3 129.7 L206.5 131.6 L206.8 129.1 L207.0 128.1 L207.2 129.9 L207.4 134.1 L207.7 134.3 L207.9 129.8 L208.1 126.6 L208.4 122.2 L208.6 121.9 L208.8 127.5 L209.0 131.8 L209.3 130.3 L209.5 130.3 L209.7 129.6 L210.0 130.5 L210.2 131.1 L210.4 130.9 L210.6 129.7 L210.9 127.4 L211.1 127.2 L211.3 126.4 L211.6 125.7 L211.8 125.2 L212.0 124.5 L212.2 125.7 L212.5 125.1 L212.7 124.9 L212.9 128.9 L213.2 125.6 L213.4 127.1 L213.6 126.2 L213.8 124.5 L214.1 125.8 L214.3 125.6 L214.5 126.2 L214.8 124.7 L215.0 123.4 L215.2 126.7 L215.5 129.3 L215.7 128.4 L215.9 124.0 L216.1 124.7 L216.4 126.1 L216.6 124.8 L216.8 124.7 L217.1 128.4 L217.3 128.2 L217.5 126.6 L217.7 126.9 L218.0 125.4 L218.2 126.3 L218.4 125.2 L218.7 126.1 L218.9 126.1 L219.1 126.8 L219.3 126.4 L219.6 125.3 L219.8 124.2 L220.0 125.2 L220.3 126.8 L220.5 125.5 L220.7 124.0 L220.9 123.3 L221.2 122.8 L221.4 123.2 L221.6 125.6 L221.9 126.9 L222.1 124.9 L222.3 125.9 L222.6 132.9 L222.8 133.6 L223.0 132.2 L223.2 131.1 L223.5 129.3 L223.7 129.4 L223.9 125.6 L224.2 124.4 L224.4 125.2 L224.6 123.8 L224.8 121.6 L225.1 125.0 L225.3 125.7 L225.5 126.1 L225.8 126.6 L226.0 125.3 L226.2 127.3 L226.4 126.6 L226.7 123.6 L226.9 125.6 L227.1 128.9 L227.4 127.8 L227.6 128.6 L227.8 125.7 L228.0 129.8 L228.3 132.1 L228.5 129.9 L228.7 127.6 L229.0 126.6 L229.2 130.0 L229.4 130.0 L229.6 127.5 L229.9 124.4 L230.1 123.8 L230.3 121.3 L230.6 120.5 L230.8 121.9 L231.0 125.3 L231.3 127.8 L231.5 128.8 L231.7 129.8 L231.9 128.9 L232.2 127.4 L232.4 123.8 L232.6 125.4 L232.9 123.8 L233.1 125.0 L233.3 123.9 L233.5 119.2 L233.8 125.2 L234.0 127.7 L234.2 127.2 L234.5 128.6 L234.7 128.8 L234.9 126.6 L235.1 128.2 L235.4 129.7 L235.6 125.8 L235.8 129.1 L236.1 131.5 L236.3 127.5 L236.5 128.2 L236.7 128.5 L237.0 130.3 L237.2 134.1 L237.4 133.1 L237.7 133.5 L237.9 133.2 L238.1 134.1 L238.4 132.3 L238.6 133.4 L238.8 132.3 L239.0 130.5 L239.3 132.3 L239.5 131.5 L239.7 130.5 L240.0 131.3 L240.2 133.1 L240.4 130.2 L240.6 124.8 L240.9 126.2 L241.1 127.4 L241.3 129.4 L241.6 131.4 L241.8 133.9 L242.0 132.2 L242.2 130.9 L242.5 131.9 L242.7 133.1 L242.9 133.5 L243.2 132.4 L243.4 132.4 L243.6 133.0 L243.8 134.4 L244.1 131.0 L244.3 131.9 L244.5 134.4 L244.8 135.1 L245.0 131.5 L245.2 128.7 L245.5 133.7 L245.7 136.1 L245.9 135.1 L246.1 133.0 L246.4 133.4 L246.6 133.1 L246.8 133.7 L247.1 137.5 L247.3 134.3 L247.5 135.1 L247.7 132.1 L248.0 133.3 L248.2 135.3 L248.4 133.5 L248.7 134.8 L248.9 134.0 L249.1 134.9 L249.3 134.4 L249.6 133.7 L249.8 136.0 L250.0 136.6 L250.3 140.6 L250.5 142.7 L250.7 141.9 L250.9 144.3 L251.2 144.6 L251.4 139.9 L251.6 139.6 L251.9 137.7 L252.1 139.6 L252.3 140.7 L252.5 137.4 L252.8 136.5 L253.0 136.6 L253.2 137.2 L253.5 137.4 L253.7 137.3 L253.9 139.6 L254.2 137.4 L254.4 137.4 L254.6 133.4 L254.8 133.0 L255.1 135.8 L255.3 138.1 L255.5 137.1 L255.8 138.1 L256.0 140.4 L256.2 138.6 L256.4 136.3 L256.7 138.0 L256.9 137.1 L257.1 135.6 L257.4 130.7 L257.6 129.7 L257.8 129.6 L258.0 128.3 L258.3 130.8 L258.5 133.8 L258.7 135.0 L259.0 134.5 L259.2 134.7 L259.4 132.7 L259.6 131.1 L259.9 135.0 L260.1 134.0 L260.3 127.6 L260.6 127.8 L260.8 126.5 L261.0 126.6 L261.3 127.1 L261.5 126.8 L261.7 127.8 L261.9 129.3 L262.2 133.4 L262.4 127.7 L262.6 122.3 L262.9 123.7 L263.1 124.3 L263.3 124.2 L263.5 125.1 L263.8 125.0 L264.0 124.3 L264.2 126.5 L264.5 129.2 L264.7 126.5 L264.9 129.6 L265.1 129.2 L265.4 126.8 L265.6 130.2 L265.8 130.7 L266.1 129.8 L266.3 130.6 L266.5 128.8 L266.7 126.4 L267.0 127.9 L267.2 123.2 L267.4 120.6 L267.7 124.1 L267.9 127.9 L268.1 131.2 L268.4 127.5 L268.6 129.4 L268.8 135.2 L269.0 133.9 L269.3 133.2 L269.5 132.6 L269.7 129.0 L270.0 129.0 L270.2 129.5 L270.4 129.3 L270.6 128.3 L270.9 129.0 L271.1 131.0 L271.3 129.8 L271.6 131.3 L271.8 130.9 L272.0 131.5 L272.2 133.3 L272.5 133.0 L272.7 132.2 L272.9 130.9 L273.2 131.0 L273.4 130.5 L273.6 128.7 L273.8 128.2 L274.1 132.6 L274.3 137.7 L274.5 135.0 L274.8 138.3 L275.0 143.2 L275.2 143.2 L275.5 139.9 L275.7 133.7 L275.9 132.6 L276.1 136.0 L276.4 135.4 L276.6 139.1 L276.8 139.9 L277.1 136.9 L277.3 133.1 L277.5 135.1 L277.7 136.0 L278.0 137.1 L278.2 139.1 L278.4 138.1 L278.7 138.7 L278.9 142.1 L279.1 139.1 L279.3 136.6 L279.6 134.2 L279.8 131.7 L280.0 132.5 L280.3 132.8 L280.5 136.1 L280.7 137.7 L280.9 136.7 L281.2 137.4 L281.4 137.0 L281.6 131.7 L281.9 129.5 L282.1 130.3 L282.3 129.1 L282.5 128.4 L282.8 129.2 L283.0 128.0 L283.2 123.3 L283.5 123.5 L283.7 125.7 L283.9 123.0 L284.2 122.6 L284.4 120.1 L284.6 113.5 L284.8 108.0 L285.1 109.0 L285.3 107.7 L285.5 104.5 L285.8 101.9 L286.0 102.2 L286.2 106.8 L286.4 109.3 L286.7 105.4 L286.9 103.8 L287.1 108.0 L287.4 106.2 L287.6 105.1 L287.8 109.1 L288.0 110.7 L288.3 111.9 L288.5 114.9 L288.7 113.6 L289.0 113.3 L289.2 116.1 L289.4 113.0 L289.6 109.8 L289.9 103.7 L290.1 100.4 L290.3 99.6 L290.6 94.2 L290.8 95.8 L291.0 95.7 L291.3 94.8 L291.5 101.1 L291.7 104.9 L291.9 105.2 L292.2 103.9 L292.4 102.9 L292.6 104.4 L292.9 104.3 L293.1 105.8 L293.3 110.4 L293.5 111.2 L293.8 109.9 L294.0 110.7 L294.2 109.3 L294.5 103.8 L294.7 102.5 L294.9 103.0 L295.1 102.6 L295.4 98.6 L295.6 99.3 L295.8 100.9 L296.1 103.1 L296.3 98.8 L296.5 97.6 L296.7 97.1 L297.0 95.5 L297.2 95.0 L297.4 89.2 L297.7 87.3 L297.9 87.6 L298.1 88.9 L298.4 87.7 L298.6 85.4 L298.8 87.2 L299.0 89.8 L299.3 91.7 L299.5 91.0 L299.7 88.5 L300.0 89.0 L300.2 86.4 L300.4 83.8 L300.6 88.7 L300.9 85.6 L301.1 84.1 L301.3 85.7 L301.6 85.0 L301.8 88.4 L302.0 84.9 L302.2 83.1 L302.5 86.4 L302.7 86.2 L302.9 87.6 L303.2 87.6 L303.4 85.1 L303.6 84.2 L303.8 85.7 L304.1 85.2 L304.3 87.0 L304.5 91.7 L304.8 90.9 L305.0 89.2 L305.2 90.3 L305.4 89.5 L305.7 91.4 L305.9 94.9 L306.1 89.6 L306.4 90.1 L306.6 94.5 L306.8 93.2 L307.1 90.1 L307.3 91.5 L307.5 94.7 L307.7 93.2 L308.0 89.6 L308.2 85.6 L308.4 92.9 L308.7 92.9 L308.9 89.6 L309.1 91.2 L309.3 92.8 L309.6 91.2 L309.8 86.5 L310.0 81.9 L310.3 83.9 L310.5 85.6 L310.7 87.2 L310.9 90.0 L311.2 91.0 L311.4 89.8 L311.6 91.0 L311.9 88.9 L312.1 87.8 L312.3 87.4 L312.5 84.4 L312.8 85.8 L313.0 86.1 L313.2 86.2 L313.5 84.9 L313.7 85.4 L313.9 87.9 L314.2 94.0 L314.4 92.7 L314.6 83.3 L314.8 81.4 L315.1 84.5 L315.3 80.0 L315.5 78.6 L315.8 80.1 L316.0 83.3 L316.2 84.3 L316.4 81.6 L316.7 84.5 L316.9 86.4 L317.1 84.7 L317.4 80.4 L317.6 79.5 L317.8 80.9 L318.0 80.8 L318.3 77.7 L318.5 76.9 L318.7 77.7 L319.0 75.1 L319.2 74.3 L319.4 75.1 L319.6 78.2 L319.9 77.5 L320.1 79.6 L320.3 84.0 L320.6 86.1 L320.8 88.2 L321.0 85.2 L321.2 85.1 L321.5 88.8 L321.7 86.6 L321.9 88.1 L322.2 89.2 L322.4 86.9 L322.6 87.6 L322.9 84.4 L323.1 87.9 L323.3 85.5 L323.5 81.7 L323.8 80.8 L324.0 78.3 L324.2 78.4 L324.5 80.3 L324.7 81.4 L324.9 83.0 L325.1 83.3 L325.4 84.1 L325.6 82.6 L325.8 82.5 L326.1 80.4 L326.3 77.0 L326.5 76.7 L326.7 79.7 L327.0 81.6 L327.2 81.0 L327.4 79.4 L327.7 79.2 L327.9 78.7 L328.1 78.5 L328.3 79.8 L328.6 77.4 L328.8 78.5 L329.0 78.8 L329.3 81.0 L329.5 81.3 L329.7 77.3 L330.0 77.9 L330.2 77.0 L330.4 74.0 L330.6 73.7 L330.9 78.2 L331.1 80.4 L331.3 79.0 L331.6 76.6 L331.8 75.9 L332.0 77.5 L332.2 77.6 L332.5 74.5 L332.7 74.7" fill="none" stroke="#000" stroke-width="0.72" stroke-linejoin="round"/>
<line x1="126.10" y1="16.6" x2="126.10" y2="179.45" stroke="#b8b8b8" stroke-width="1.2"/>
<line x1="125.50" y1="179.45" x2="332.7" y2="179.45" stroke="#666" stroke-width="0.8"/>
<line x1="126.6" y1="179.4" x2="126.6" y2="177.4" stroke="#555" stroke-width="0.6"/>
<line x1="160.9" y1="179.4" x2="160.9" y2="177.4" stroke="#555" stroke-width="0.6"/>
<line x1="195.3" y1="179.4" x2="195.3" y2="177.4" stroke="#555" stroke-width="0.6"/>
<line x1="229.6" y1="179.4" x2="229.6" y2="177.4" stroke="#555" stroke-width="0.6"/>
<line x1="264.0" y1="179.4" x2="264.0" y2="177.4" stroke="#555" stroke-width="0.6"/>
<line x1="298.4" y1="179.4" x2="298.4" y2="177.4" stroke="#555" stroke-width="0.6"/>
<line x1="332.7" y1="179.4" x2="332.7" y2="177.4" stroke="#555" stroke-width="0.6"/>
<line x1="126.6" y1="179.4" x2="129.0" y2="179.4" stroke="#555" stroke-width="0.6"/>
<line x1="126.6" y1="163.1" x2="129.0" y2="163.1" stroke="#555" stroke-width="0.6"/>
<line x1="126.6" y1="146.8" x2="129.0" y2="146.8" stroke="#555" stroke-width="0.6"/>
<line x1="126.6" y1="130.6" x2="129.0" y2="130.6" stroke="#555" stroke-width="0.6"/>
<line x1="126.6" y1="114.3" x2="129.0" y2="114.3" stroke="#555" stroke-width="0.6"/>
<line x1="126.6" y1="98.0" x2="129.0" y2="98.0" stroke="#555" stroke-width="0.6"/>
<line x1="126.6" y1="81.7" x2="129.0" y2="81.7" stroke="#555" stroke-width="0.6"/>
<line x1="126.6" y1="65.4" x2="129.0" y2="65.4" stroke="#555" stroke-width="0.6"/>
<line x1="126.6" y1="49.2" x2="129.0" y2="49.2" stroke="#555" stroke-width="0.6"/>
<line x1="126.6" y1="32.9" x2="129.0" y2="32.9" stroke="#555" stroke-width="0.6"/>
<line x1="126.6" y1="16.6" x2="129.0" y2="16.6" stroke="#555" stroke-width="0.6"/>
<text x="91.0" y="182.7" textLength="27.9" lengthAdjust="spacingAndGlyphs" font-size="9.8" fill="#000">-0.08</text>
<text x="91.0" y="166.4" textLength="27.9" lengthAdjust="spacingAndGlyphs" font-size="9.8" fill="#000">-0.06</text>
<text x="91.0" y="150.1" textLength="27.9" lengthAdjust="spacingAndGlyphs" font-size="9.8" fill="#000">-0.04</text>
<text x="91.0" y="133.8" textLength="27.9" lengthAdjust="spacingAndGlyphs" font-size="9.8" fill="#000">-0.02</text>
<text x="101.7" y="117.5" textLength="6.6" lengthAdjust="spacingAndGlyphs" font-size="9.8" fill="#000">0</text>
<text x="93.3" y="101.2" textLength="23.3" lengthAdjust="spacingAndGlyphs" font-size="9.8" fill="#000">0.02</text>
<text x="93.3" y="85.0" textLength="23.3" lengthAdjust="spacingAndGlyphs" font-size="9.8" fill="#000">0.04</text>
<text x="93.3" y="68.7" textLength="23.3" lengthAdjust="spacingAndGlyphs" font-size="9.8" fill="#000">0.06</text>
<text x="93.3" y="52.4" textLength="23.3" lengthAdjust="spacingAndGlyphs" font-size="9.8" fill="#000">0.08</text>
<text x="96.6" y="36.1" textLength="16.8" lengthAdjust="spacingAndGlyphs" font-size="9.8" fill="#000">0.1</text>
<text x="93.3" y="19.9" textLength="23.3" lengthAdjust="spacingAndGlyphs" font-size="9.8" fill="#000">0.12</text>
<text x="124.3" y="188.8" textLength="6.6" lengthAdjust="spacingAndGlyphs" font-size="9.8" fill="#000">0</text>
<text x="158.7" y="188.8" textLength="6.6" lengthAdjust="spacingAndGlyphs" font-size="9.8" fill="#000">5</text>
<text x="192.3" y="188.8" textLength="13.1" lengthAdjust="spacingAndGlyphs" font-size="9.8" fill="#000">10</text>
<text x="226.7" y="188.8" textLength="13.1" lengthAdjust="spacingAndGlyphs" font-size="9.8" fill="#000">15</text>
<text x="261.1" y="188.8" textLength="13.1" lengthAdjust="spacingAndGlyphs" font-size="9.8" fill="#000">20</text>
<text x="295.4" y="188.8" textLength="13.1" lengthAdjust="spacingAndGlyphs" font-size="9.8" fill="#000">25</text>
<text x="329.8" y="188.8" textLength="13.1" lengthAdjust="spacingAndGlyphs" font-size="9.8" fill="#000">30</text>
<text x="216.7" y="197.5" textLength="54.5" lengthAdjust="spacingAndGlyphs" font-size="9.2" fill="#000" word-spacing="1.5">Time in s</text>
<text transform="translate(88.0,165.6) rotate(-90)" x="0" y="0" textLength="113.0" lengthAdjust="spacingAndGlyphs" font-size="11.0" word-spacing="2.2">Mean intensity in 1</text>
<line x1="199.1" y1="15.6" x2="206.4" y2="110.1" stroke="#25b2e8" stroke-width="1.35" stroke-dasharray="5.2 4.2"/>
<line x1="258.1" y1="15.6" x2="221.5" y2="110.1" stroke="#25b2e8" stroke-width="1.35" stroke-dasharray="5.2 4.2"/>
<line x1="199.1" y1="100.2" x2="206.4" y2="135.2" stroke="#25b2e8" stroke-width="1.35" stroke-dasharray="5.2 4.2"/>
<line x1="258.1" y1="100.2" x2="221.5" y2="135.2" stroke="#25b2e8" stroke-width="1.35" stroke-dasharray="5.2 4.2"/>
<rect x="206.4" y="110.1" width="15.1" height="25.1" fill="none" stroke="#25b2e8" stroke-width="1.35"/>
<rect x="199.1" y="15.6" width="59.0" height="84.6" fill="#fff"/>
<g clip-path="url(#ciA)">
<line x1="199.1" y1="48.9" x2="258.1" y2="48.9" stroke="#e6e6e6" stroke-width="0.6"/>
<line x1="199.1" y1="81.4" x2="258.1" y2="81.4" stroke="#e6e6e6" stroke-width="0.6"/>
<line x1="223.5" y1="15.6" x2="223.5" y2="100.2" stroke="#e6e6e6" stroke-width="0.6"/>
<path d="M199.5 27.1 L199.6 27.1 L199.6 27.1 L199.6 27.0 L199.7 26.8 L199.7 26.6 L199.8 26.3 L199.8 25.9 L199.8 25.5 L199.9 25.0 L199.9 24.4 L200.0 23.8 L200.0 23.2 L200.0 22.6 L200.1 21.9 L200.1 21.3 L200.1 20.6 L200.2 20.0 L200.2 19.5 L200.3 19.0 L200.3 18.6 L200.3 18.2 L200.4 18.0 L200.4 17.8 L200.5 17.8 L200.6 18.2 L200.7 19.4 L200.8 21.3 L201.0 23.9 L201.1 27.1 L201.2 31.0 L201.4 35.3 L201.5 39.9 L201.6 44.9 L201.8 50.0 L201.9 55.2 L202.0 60.3 L202.1 65.2 L202.3 69.9 L202.4 74.2 L202.5 78.1 L202.7 81.5 L202.8 84.4 L202.9 86.8 L203.1 88.6 L203.2 89.8 L203.3 90.6 L203.4 91.0 L203.6 91.1 L203.7 91.0 L203.8 90.7 L204.0 90.0 L204.1 88.8 L204.2 87.2 L204.4 85.1 L204.5 82.5 L204.6 79.4 L204.7 75.8 L204.9 71.9 L205.0 67.7 L205.1 63.2 L205.3 58.6 L205.4 53.9 L205.5 49.3 L205.7 44.8 L205.8 40.6 L205.9 36.7 L206.0 33.3 L206.2 30.3 L206.3 27.9 L206.4 26.2 L206.6 25.2 L206.7 24.8 L206.8 25.2 L207.0 26.3 L207.1 28.2 L207.3 30.8 L207.4 34.0 L207.6 37.7 L207.7 41.9 L207.8 46.5 L208.0 51.3 L208.1 56.3 L208.3 61.4 L208.4 66.4 L208.6 71.2 L208.7 75.8 L208.8 80.0 L209.0 83.9 L209.1 87.2 L209.3 90.0 L209.4 92.3 L209.6 94.1 L209.7 95.3 L209.8 96.1 L210.0 96.5 L210.1 96.5 L210.3 96.4 L210.4 96.1 L210.5 95.3 L210.7 94.0 L210.8 92.1 L210.9 89.7 L211.1 86.8 L211.2 83.3 L211.4 79.3 L211.5 74.9 L211.6 70.1 L211.8 65.1 L211.9 59.8 L212.0 54.6 L212.2 49.4 L212.3 44.3 L212.4 39.5 L212.6 35.1 L212.7 31.2 L212.9 27.9 L213.0 25.2 L213.1 23.3 L213.3 22.1 L213.4 21.7 L213.5 22.1 L213.7 23.2 L213.8 25.1 L213.9 27.7 L214.1 30.9 L214.2 34.7 L214.4 39.0 L214.5 43.6 L214.6 48.5 L214.8 53.5 L214.9 58.7 L215.0 63.7 L215.2 68.6 L215.3 73.2 L215.4 77.5 L215.6 81.4 L215.7 84.8 L215.9 87.6 L216.0 89.9 L216.1 91.7 L216.3 93.0 L216.4 93.7 L216.5 94.1 L216.7 94.2 L216.8 94.1 L216.9 93.7 L217.1 93.0 L217.2 91.7 L217.4 90.0 L217.5 87.7 L217.6 84.8 L217.8 81.5 L217.9 77.6 L218.0 73.4 L218.2 68.8 L218.3 63.9 L218.4 58.9 L218.6 53.8 L218.7 48.8 L218.9 43.9 L219.0 39.3 L219.1 35.1 L219.3 31.3 L219.4 28.1 L219.5 25.6 L219.7 23.7 L219.8 22.5 L219.9 22.2 L220.1 22.5 L220.2 23.7 L220.4 25.6 L220.5 28.2 L220.6 31.4 L220.8 35.2 L220.9 39.5 L221.0 44.2 L221.2 49.1 L221.3 54.2 L221.4 59.3 L221.6 64.4 L221.7 69.3 L221.9 73.9 L222.0 78.2 L222.1 82.1 L222.3 85.5 L222.4 88.4 L222.5 90.7 L222.7 92.5 L222.8 93.7 L222.9 94.5 L223.1 94.9 L223.2 95.0 L223.4 94.9 L223.5 94.5 L223.6 93.8 L223.8 92.6 L223.9 90.9 L224.1 88.7 L224.2 85.9 L224.4 82.7 L224.5 78.9 L224.6 74.8 L224.8 70.4 L224.9 65.7 L225.1 60.8 L225.2 55.9 L225.4 51.0 L225.5 46.3 L225.6 41.9 L225.8 37.8 L225.9 34.2 L226.1 31.1 L226.2 28.6 L226.4 26.8 L226.5 25.7 L226.6 25.3 L226.8 25.7 L226.9 26.8 L227.1 28.6 L227.2 31.1 L227.4 34.3 L227.5 37.9 L227.6 42.1 L227.8 46.6 L227.9 51.3 L228.1 56.2 L228.2 61.2 L228.4 66.1 L228.5 70.9 L228.7 75.4 L228.8 79.5 L228.9 83.3 L229.1 86.6 L229.2 89.4 L229.4 91.6 L229.5 93.3 L229.7 94.6 L229.8 95.3 L229.9 95.7 L230.1 95.7 L230.2 95.7 L230.4 95.3 L230.5 94.6 L230.7 93.4 L230.8 91.6 L230.9 89.4 L231.1 86.6 L231.2 83.3 L231.4 79.6 L231.5 75.5 L231.7 71.0 L231.8 66.3 L231.9 61.4 L232.1 56.4 L232.2 51.5 L232.4 46.8 L232.5 42.3 L232.7 38.2 L232.8 34.5 L232.9 31.4 L233.1 28.9 L233.2 27.1 L233.4 26.0 L233.5 25.6 L233.6 26.0 L233.8 27.1 L233.9 28.9 L234.1 31.4 L234.2 34.5 L234.3 38.2 L234.5 42.3 L234.6 46.8 L234.7 51.5 L234.9 56.4 L235.0 61.4 L235.1 66.3 L235.3 71.0 L235.4 75.5 L235.6 79.6 L235.7 83.3 L235.8 86.6 L236.0 89.4 L236.1 91.6 L236.2 93.4 L236.4 94.6 L236.5 95.3 L236.6 95.7 L236.8 95.7 L236.9 95.7 L237.1 95.3 L237.2 94.5 L237.4 93.1 L237.5 91.3 L237.6 88.8 L237.8 85.8 L237.9 82.2 L238.1 78.1 L238.2 73.6 L238.4 68.7 L238.5 63.5 L238.6 58.2 L238.8 52.7 L238.9 47.4 L239.1 42.2 L239.2 37.3 L239.4 32.8 L239.5 28.8 L239.6 25.4 L239.8 22.7 L239.9 20.7 L240.1 19.5 L240.2 19.0 L240.4 19.4 L240.5 20.6 L240.6 22.5 L240.8 25.0 L240.9 28.2 L241.0 32.0 L241.2 36.2 L241.3 40.8 L241.4 45.7 L241.6 50.7 L241.7 55.8 L241.9 60.8 L242.0 65.6 L242.1 70.2 L242.3 74.5 L242.4 78.3 L242.5 81.7 L242.7 84.5 L242.8 86.9 L242.9 88.6 L243.1 89.9 L243.2 90.6 L243.4 91.0 L243.5 91.1 L243.6 91.0 L243.8 90.7 L243.9 89.9 L244.0 88.8 L244.2 87.1 L244.3 84.9 L244.4 82.2 L244.6 79.1 L244.7 75.5 L244.9 71.5 L245.0 67.1 L245.1 62.6 L245.3 57.8 L245.4 53.1 L245.5 48.3 L245.7 43.7 L245.8 39.4 L245.9 35.4 L246.1 31.9 L246.2 28.9 L246.4 26.5 L246.5 24.7 L246.6 23.6 L246.8 23.3 L246.9 23.6 L247.0 24.8 L247.2 26.6 L247.3 29.1 L247.4 32.3 L247.6 36.0 L247.7 40.2 L247.9 44.7 L248.0 49.5 L248.1 54.4 L248.3 59.4 L248.4 64.4 L248.5 69.1 L248.7 73.7 L248.8 77.9 L248.9 81.7 L249.1 85.0 L249.2 87.8 L249.4 90.0 L249.5 91.8 L249.6 93.0 L249.8 93.8 L249.9 94.1 L250.0 94.2 L250.2 94.1 L250.3 93.7 L250.5 93.0 L250.6 91.7 L250.8 90.0 L250.9 87.7 L251.0 84.8 L251.2 81.5 L251.3 77.6 L251.5 73.4 L251.6 68.8 L251.8 63.9 L251.9 58.9 L252.0 53.8 L252.2 48.8 L252.3 43.9 L252.5 39.3 L252.6 35.1 L252.8 31.3 L252.9 28.1 L253.0 25.6 L253.2 23.7 L253.3 22.5 L253.5 22.2 L253.6 22.5 L253.7 23.7 L253.9 25.5 L254.0 28.0 L254.1 31.1 L254.2 34.8 L254.4 38.9 L254.5 43.4 L254.6 48.2 L254.8 53.1 L254.9 58.1 L255.0 63.0 L255.2 67.8 L255.3 72.3 L255.4 76.4 L255.5 80.2 L255.7 83.5 L255.8 86.2 L255.9 88.5 L256.1 90.2 L256.2 91.4 L256.3 92.2 L256.5 92.6 L256.6 92.6 L256.6 92.6 L256.7 92.4 L256.8 92.0 L256.8 91.4 L256.9 90.5 L256.9 89.4 L257.0 88.0 L257.1 86.3 L257.1 84.4 L257.2 82.3 L257.2 80.0 L257.3 77.6 L257.3 75.1 L257.4 72.5 L257.5 70.0 L257.5 67.6 L257.6 65.3 L257.6 63.2 L257.7 61.3 L257.8 59.7 L257.8 58.5 L257.9 57.5 L257.9 57.0 L258.0 56.8" fill="none" stroke="#eba92a" stroke-width="1.2" stroke-linejoin="round"/>
<path d="M199.4 66.9 L199.4 66.9 L199.5 66.8 L199.6 66.8 L199.7 66.6 L199.8 66.5 L199.8 66.3 L199.9 66.1 L200.0 65.9 L200.1 65.7 L200.1 65.5 L200.2 65.2 L200.3 65.0 L200.4 64.7 L200.5 64.5 L200.5 64.2 L200.6 64.0 L200.7 63.8 L200.8 63.6 L200.8 63.4 L200.9 63.3 L201.0 63.2 L201.1 63.1 L201.2 63.0 L201.2 63.0 L201.4 63.1 L201.5 63.3 L201.6 63.7 L201.8 64.2 L201.9 64.8 L202.0 65.5 L202.1 66.4 L202.3 67.3 L202.4 68.3 L202.5 69.4 L202.7 70.5 L202.8 71.6 L202.9 72.7 L203.1 73.8 L203.2 74.9 L203.3 75.9 L203.4 76.8 L203.6 77.6 L203.7 78.4 L203.8 79.0 L204.0 79.5 L204.1 79.9 L204.2 80.1 L204.4 80.2 L204.5 80.1 L204.7 79.7 L204.9 79.2 L205.1 78.5 L205.3 77.6 L205.5 76.5 L205.7 75.3 L205.9 73.9 L206.1 72.5 L206.3 70.9 L206.5 69.3 L206.7 67.7 L206.9 66.1 L207.1 64.5 L207.3 62.9 L207.5 61.4 L207.7 60.1 L207.9 58.9 L208.1 57.8 L208.3 56.9 L208.4 56.2 L208.6 55.6 L208.8 55.3 L209.0 55.2 L209.1 55.3 L209.2 55.7 L209.3 56.2 L209.4 57.0 L209.5 58.0 L209.6 59.1 L209.7 60.4 L209.8 61.8 L209.9 63.4 L210.0 65.0 L210.1 66.7 L210.2 68.5 L210.3 70.2 L210.4 71.9 L210.5 73.5 L210.6 75.1 L210.7 76.5 L210.8 77.8 L210.9 79.0 L211.0 79.9 L211.1 80.7 L211.2 81.3 L211.3 81.6 L211.4 81.7 L211.5 81.6 L211.7 81.3 L211.9 80.7 L212.0 79.9 L212.2 79.0 L212.3 77.8 L212.5 76.5 L212.7 75.1 L212.8 73.5 L213.0 71.9 L213.2 70.2 L213.3 68.5 L213.5 66.7 L213.6 65.0 L213.8 63.4 L214.0 61.8 L214.1 60.4 L214.3 59.1 L214.5 58.0 L214.6 57.0 L214.8 56.2 L214.9 55.7 L215.1 55.3 L215.3 55.2 L215.4 55.3 L215.5 55.7 L215.7 56.2 L215.8 57.0 L215.9 58.0 L216.0 59.1 L216.2 60.4 L216.3 61.8 L216.4 63.4 L216.6 65.0 L216.7 66.7 L216.8 68.5 L217.0 70.2 L217.1 71.9 L217.2 73.5 L217.3 75.1 L217.5 76.5 L217.6 77.8 L217.7 79.0 L217.9 79.9 L218.0 80.7 L218.1 81.3 L218.3 81.6 L218.4 81.7 L218.5 81.6 L218.6 81.2 L218.8 80.5 L218.9 79.5 L219.0 78.3 L219.2 76.9 L219.3 75.3 L219.4 73.5 L219.6 71.6 L219.7 69.6 L219.8 67.5 L219.9 65.3 L220.1 63.2 L220.2 61.1 L220.3 59.1 L220.5 57.2 L220.6 55.4 L220.7 53.8 L220.9 52.4 L221.0 51.2 L221.1 50.2 L221.2 49.5 L221.4 49.1 L221.5 49.0 L221.6 49.2 L221.7 49.7 L221.8 50.6 L221.9 51.8 L222.0 53.3 L222.1 55.1 L222.2 57.2 L222.3 59.5 L222.4 62.0 L222.5 64.6 L222.6 67.3 L222.7 70.0 L222.8 72.8 L222.9 75.5 L223.0 78.1 L223.1 80.5 L223.2 82.8 L223.3 84.9 L223.4 86.7 L223.5 88.3 L223.6 89.5 L223.6 90.4 L223.7 90.9 L223.8 91.1 L224.0 90.9 L224.2 90.3 L224.3 89.4 L224.5 88.1 L224.7 86.5 L224.8 84.6 L225.0 82.4 L225.1 80.0 L225.3 77.4 L225.5 74.6 L225.6 71.8 L225.8 68.9 L226.0 66.0 L226.1 63.1 L226.3 60.4 L226.4 57.7 L226.6 55.3 L226.8 53.1 L226.9 51.2 L227.1 49.6 L227.3 48.3 L227.4 47.4 L227.6 46.8 L227.7 46.6 L227.9 46.8 L228.0 47.4 L228.1 48.3 L228.2 49.6 L228.3 51.2 L228.4 53.1 L228.6 55.3 L228.7 57.7 L228.8 60.4 L228.9 63.1 L229.0 66.0 L229.1 68.9 L229.3 71.8 L229.4 74.6 L229.5 77.4 L229.6 80.0 L229.7 82.4 L229.8 84.6 L230.0 86.5 L230.1 88.1 L230.2 89.4 L230.3 90.3 L230.4 90.9 L230.5 91.1 L230.7 90.9 L230.8 90.5 L231.0 89.8 L231.1 88.8 L231.3 87.5 L231.4 86.0 L231.5 84.4 L231.7 82.5 L231.8 80.5 L232.0 78.4 L232.1 76.2 L232.3 73.9 L232.4 71.7 L232.5 69.5 L232.7 67.4 L232.8 65.3 L233.0 63.5 L233.1 61.8 L233.3 60.3 L233.4 59.1 L233.5 58.1 L233.7 57.4 L233.8 56.9 L234.0 56.8 L234.1 56.9 L234.2 57.1 L234.3 57.5 L234.4 58.1 L234.6 58.9 L234.7 59.7 L234.8 60.7 L234.9 61.8 L235.0 63.0 L235.1 64.3 L235.3 65.6 L235.4 66.9 L235.5 68.2 L235.6 69.5 L235.7 70.8 L235.8 72.0 L236.0 73.1 L236.1 74.1 L236.2 74.9 L236.3 75.7 L236.4 76.3 L236.5 76.7 L236.7 77.0 L236.8 77.0 L236.9 77.0 L236.9 76.9 L237.0 76.6 L237.1 76.3 L237.2 75.9 L237.3 75.4 L237.3 74.9 L237.4 74.3 L237.5 73.7 L237.6 73.0 L237.6 72.3 L237.7 71.6 L237.8 70.9 L237.9 70.2 L238.0 69.5 L238.0 68.9 L238.1 68.3 L238.2 67.7 L238.3 67.3 L238.3 66.9 L238.4 66.5 L238.5 66.3 L238.6 66.2 L238.7 66.1 L238.7 66.2 L238.8 66.3 L238.9 66.5 L239.0 66.8 L239.0 67.1 L239.1 67.5 L239.2 68.0 L239.3 68.5 L239.4 69.0 L239.4 69.6 L239.5 70.2 L239.6 70.8 L239.7 71.4 L239.7 72.0 L239.8 72.6 L239.9 73.1 L240.0 73.7 L240.1 74.1 L240.1 74.5 L240.2 74.9 L240.3 75.1 L240.4 75.3 L240.4 75.4 L240.5 75.5 L240.7 75.4 L240.8 75.2 L240.9 74.9 L241.0 74.4 L241.2 73.9 L241.3 73.2 L241.4 72.4 L241.6 71.6 L241.7 70.7 L241.8 69.7 L242.0 68.7 L242.1 67.7 L242.2 66.7 L242.3 65.7 L242.5 64.7 L242.6 63.8 L242.7 62.9 L242.9 62.2 L243.0 61.5 L243.1 60.9 L243.3 60.5 L243.4 60.2 L243.5 60.0 L243.6 59.9 L243.9 59.9 L244.1 60.1 L244.3 60.4 L244.5 60.7 L244.7 61.2 L244.9 61.7 L245.1 62.3 L245.4 63.0 L245.6 63.7 L245.8 64.5 L246.0 65.3 L246.2 66.1 L246.4 66.9 L246.6 67.7 L246.9 68.5 L247.1 69.2 L247.3 69.9 L247.5 70.5 L247.7 71.1 L247.9 71.5 L248.1 71.9 L248.4 72.2 L248.6 72.3 L248.8 72.4 L249.0 72.3 L249.2 72.1 L249.4 71.7 L249.6 71.2 L249.8 70.6 L250.0 69.9 L250.2 69.0 L250.3 68.1 L250.5 67.1 L250.7 66.0 L250.9 64.9 L251.1 63.8 L251.3 62.7 L251.5 61.6 L251.7 60.5 L251.9 59.5 L252.1 58.6 L252.3 57.7 L252.5 57.0 L252.7 56.4 L252.9 55.9 L253.1 55.5 L253.3 55.3 L253.5 55.2 L253.6 55.3 L253.8 55.6 L253.9 56.2 L254.0 56.9 L254.2 57.8 L254.3 58.9 L254.5 60.1 L254.6 61.4 L254.8 62.9 L254.9 64.5 L255.0 66.1 L255.2 67.7 L255.3 69.3 L255.5 70.9 L255.6 72.5 L255.8 73.9 L255.9 75.3 L256.0 76.5 L256.2 77.6 L256.3 78.5 L256.5 79.2 L256.6 79.7 L256.8 80.1 L256.9 80.2 L256.9 80.2 L257.0 80.1 L257.0 80.1 L257.1 80.1 L257.1 80.0 L257.2 79.9 L257.2 79.9 L257.3 79.8 L257.3 79.7 L257.4 79.6 L257.4 79.5 L257.4 79.4 L257.5 79.3 L257.5 79.2 L257.6 79.1 L257.6 79.0 L257.7 78.9 L257.7 78.8 L257.8 78.8 L257.8 78.7 L257.9 78.7 L257.9 78.6 L257.9 78.6 L258.0 78.6" fill="none" stroke="#e64fd0" stroke-width="0.9" stroke-linejoin="round"/>
<path d="M199.4 70.0 L199.5 70.0 L199.6 69.9 L199.7 69.8 L199.8 69.6 L199.9 69.4 L200.0 69.1 L200.1 68.8 L200.2 68.5 L200.4 68.1 L200.5 67.7 L200.6 67.3 L200.7 66.9 L200.8 66.5 L200.9 66.1 L201.0 65.7 L201.1 65.3 L201.2 65.0 L201.4 64.7 L201.5 64.4 L201.6 64.2 L201.7 64.0 L201.8 63.9 L201.9 63.8 L202.0 63.8 L202.1 63.8 L202.3 64.0 L202.4 64.2 L202.5 64.5 L202.7 64.8 L202.8 65.3 L202.9 65.8 L203.1 66.3 L203.2 66.9 L203.3 67.5 L203.4 68.2 L203.6 68.9 L203.7 69.5 L203.8 70.2 L204.0 70.8 L204.1 71.4 L204.2 71.9 L204.4 72.4 L204.5 72.9 L204.6 73.2 L204.7 73.5 L204.9 73.8 L205.0 73.9 L205.1 73.9 L205.3 73.9 L205.4 73.7 L205.5 73.4 L205.7 73.0 L205.8 72.5 L205.9 71.9 L206.0 71.2 L206.2 70.4 L206.3 69.6 L206.4 68.7 L206.6 67.8 L206.7 66.9 L206.8 66.0 L207.0 65.1 L207.1 64.2 L207.2 63.4 L207.3 62.6 L207.5 61.9 L207.6 61.3 L207.7 60.8 L207.9 60.4 L208.0 60.1 L208.1 60.0 L208.3 59.9 L208.4 59.9 L208.5 60.1 L208.6 60.4 L208.8 60.7 L208.9 61.2 L209.0 61.7 L209.2 62.3 L209.3 63.0 L209.4 63.7 L209.6 64.5 L209.7 65.3 L209.8 66.1 L209.9 66.9 L210.1 67.7 L210.2 68.5 L210.3 69.2 L210.5 69.9 L210.6 70.5 L210.7 71.1 L210.9 71.5 L211.0 71.9 L211.1 72.2 L211.2 72.3 L211.4 72.4 L211.5 72.3 L211.6 72.2 L211.8 72.0 L211.9 71.7 L212.0 71.3 L212.1 70.9 L212.3 70.4 L212.4 69.8 L212.5 69.2 L212.7 68.6 L212.8 68.0 L212.9 67.3 L213.1 66.6 L213.2 66.0 L213.3 65.4 L213.4 64.8 L213.6 64.2 L213.7 63.7 L213.8 63.3 L214.0 62.9 L214.1 62.6 L214.2 62.4 L214.4 62.3 L214.5 62.2 L214.6 62.3 L214.7 62.5 L214.9 62.8 L215.0 63.2 L215.1 63.8 L215.3 64.4 L215.4 65.1 L215.5 65.9 L215.7 66.8 L215.8 67.7 L215.9 68.7 L216.0 69.6 L216.2 70.6 L216.3 71.6 L216.4 72.5 L216.6 73.3 L216.7 74.1 L216.8 74.9 L217.0 75.5 L217.1 76.0 L217.2 76.5 L217.3 76.8 L217.5 77.0 L217.6 77.0 L217.7 77.0 L217.9 76.8 L218.0 76.5 L218.1 76.1 L218.3 75.6 L218.4 75.0 L218.5 74.3 L218.6 73.5 L218.8 72.7 L218.9 71.8 L219.0 70.9 L219.2 70.0 L219.3 69.1 L219.4 68.2 L219.6 67.3 L219.7 66.5 L219.8 65.8 L219.9 65.1 L220.1 64.5 L220.2 63.9 L220.3 63.5 L220.5 63.2 L220.6 63.1 L220.7 63.0 L220.9 63.1 L221.0 63.2 L221.2 63.4 L221.4 63.7 L221.5 64.1 L221.7 64.6 L221.9 65.1 L222.0 65.7 L222.2 66.4 L222.3 67.1 L222.5 67.8 L222.7 68.5 L222.8 69.2 L223.0 69.9 L223.2 70.6 L223.3 71.2 L223.5 71.8 L223.6 72.3 L223.8 72.8 L224.0 73.2 L224.1 73.5 L224.3 73.7 L224.5 73.9 L224.6 73.9 L224.8 73.9 L224.9 73.7 L225.1 73.5 L225.3 73.2 L225.4 72.8 L225.6 72.3 L225.8 71.8 L225.9 71.2 L226.1 70.6 L226.2 69.9 L226.4 69.2 L226.6 68.5 L226.7 67.8 L226.9 67.1 L227.1 66.4 L227.2 65.7 L227.4 65.1 L227.5 64.6 L227.7 64.1 L227.9 63.7 L228.0 63.4 L228.2 63.2 L228.4 63.1 L228.5 63.0 L228.7 63.1 L228.8 63.2 L229.0 63.5 L229.2 63.8 L229.3 64.2 L229.5 64.7 L229.7 65.3 L229.8 65.9 L230.0 66.6 L230.1 67.3 L230.3 68.1 L230.5 68.9 L230.6 69.6 L230.8 70.4 L231.0 71.1 L231.1 71.8 L231.3 72.4 L231.4 73.0 L231.6 73.5 L231.8 73.9 L231.9 74.3 L232.1 74.5 L232.3 74.7 L232.4 74.7 L232.6 74.6 L232.7 74.4 L232.9 74.1 L233.1 73.7 L233.2 73.2 L233.4 72.5 L233.6 71.8 L233.7 71.0 L233.9 70.1 L234.0 69.2 L234.2 68.3 L234.4 67.3 L234.5 66.3 L234.7 65.4 L234.9 64.5 L235.0 63.6 L235.2 62.8 L235.3 62.1 L235.5 61.4 L235.7 60.9 L235.8 60.5 L236.0 60.1 L236.2 60.0 L236.3 59.9 L236.5 60.0 L236.6 60.2 L236.8 60.5 L237.0 61.0 L237.1 61.7 L237.3 62.4 L237.5 63.2 L237.6 64.2 L237.8 65.2 L237.9 66.2 L238.1 67.3 L238.3 68.5 L238.4 69.6 L238.6 70.7 L238.8 71.7 L238.9 72.8 L239.1 73.7 L239.2 74.5 L239.4 75.3 L239.6 75.9 L239.7 76.4 L239.9 76.7 L240.1 77.0 L240.2 77.0 L240.3 77.0 L240.5 76.8 L240.6 76.5 L240.7 76.2 L240.9 75.7 L241.0 75.1 L241.1 74.4 L241.3 73.7 L241.4 73.0 L241.5 72.1 L241.6 71.3 L241.8 70.4 L241.9 69.5 L242.0 68.7 L242.2 67.9 L242.3 67.1 L242.4 66.4 L242.6 65.7 L242.7 65.2 L242.8 64.7 L242.9 64.3 L243.1 64.0 L243.2 63.8 L243.3 63.8 L243.5 63.8 L243.7 63.9 L243.8 64.1 L244.0 64.4 L244.1 64.7 L244.3 65.0 L244.5 65.5 L244.6 65.9 L244.8 66.4 L245.0 67.0 L245.1 67.5 L245.3 68.1 L245.4 68.6 L245.6 69.2 L245.8 69.7 L245.9 70.2 L246.1 70.7 L246.3 71.1 L246.4 71.5 L246.6 71.8 L246.7 72.0 L246.9 72.2 L247.1 72.3 L247.2 72.4 L247.4 72.3 L247.5 72.2 L247.6 72.1 L247.7 71.9 L247.9 71.6 L248.0 71.3 L248.1 71.0 L248.3 70.6 L248.4 70.2 L248.5 69.8 L248.7 69.3 L248.8 68.9 L248.9 68.4 L249.0 67.9 L249.2 67.5 L249.3 67.1 L249.4 66.7 L249.6 66.4 L249.7 66.1 L249.8 65.8 L250.0 65.6 L250.1 65.5 L250.2 65.4 L250.3 65.3 L250.5 65.4 L250.6 65.5 L250.7 65.6 L250.9 65.9 L251.0 66.2 L251.1 66.5 L251.3 66.9 L251.4 67.3 L251.5 67.8 L251.6 68.2 L251.8 68.7 L251.9 69.2 L252.0 69.8 L252.2 70.3 L252.3 70.7 L252.4 71.2 L252.6 71.6 L252.7 72.0 L252.8 72.3 L252.9 72.6 L253.1 72.8 L253.2 73.0 L253.3 73.1 L253.5 73.1 L253.6 73.1 L253.7 73.0 L253.9 72.8 L254.0 72.6 L254.1 72.3 L254.2 72.0 L254.4 71.6 L254.5 71.2 L254.6 70.7 L254.8 70.3 L254.9 69.8 L255.0 69.2 L255.2 68.7 L255.3 68.2 L255.4 67.8 L255.5 67.3 L255.7 66.9 L255.8 66.5 L255.9 66.2 L256.1 65.9 L256.2 65.6 L256.3 65.5 L256.5 65.4 L256.6 65.3 L256.6 65.4 L256.7 65.4 L256.8 65.5 L256.8 65.6 L256.9 65.8 L256.9 65.9 L257.0 66.1 L257.1 66.3 L257.1 66.6 L257.2 66.8 L257.2 67.0 L257.3 67.3 L257.3 67.6 L257.4 67.8 L257.5 68.0 L257.5 68.3 L257.6 68.5 L257.6 68.7 L257.7 68.8 L257.8 69.0 L257.8 69.1 L257.9 69.2 L257.9 69.2 L258.0 69.2" fill="none" stroke="#111" stroke-width="0.85" stroke-linejoin="round"/>
</g>
<rect x="199.1" y="15.6" width="59.0" height="84.6" fill="none" stroke="#25b2e8" stroke-width="1.1"/>
<text x="270.7" y="13.8" textLength="53.5" lengthAdjust="spacingAndGlyphs" font-size="9.2" fill="#000" word-spacing="1.5">side view</text>
<line x1="274.6" y1="26.4" x2="293.7" y2="26.4" stroke="#444" stroke-width="0.75"/>
<text x="295.7" y="28.9" textLength="34.8" lengthAdjust="spacingAndGlyphs" font-size="9.2" fill="#000">SAM2</text>
<line x1="274.6" y1="34.4" x2="293.7" y2="34.4" stroke="#f07fe2" stroke-width="0.75"/>
<text x="295.7" y="36.8" textLength="31.7" lengthAdjust="spacingAndGlyphs" font-size="9.2" fill="#000">static</text>
<line x1="274.6" y1="43.3" x2="293.7" y2="43.3" stroke="#f2bd55" stroke-width="0.75"/>
<text x="295.7" y="45.0" textLength="27.3" lengthAdjust="spacingAndGlyphs" font-size="9.2" fill="#000">ECG</text>
<line x1="499.4" y1="14.7" x2="499.4" y2="177.2" stroke="#e3e3e3" stroke-width="0.7"/>
<line x1="533.8" y1="14.7" x2="533.8" y2="177.2" stroke="#e3e3e3" stroke-width="0.7"/>
<line x1="568.2" y1="14.7" x2="568.2" y2="177.2" stroke="#e3e3e3" stroke-width="0.7"/>
<line x1="602.7" y1="14.7" x2="602.7" y2="177.2" stroke="#e3e3e3" stroke-width="0.7"/>
<line x1="637.1" y1="14.7" x2="637.1" y2="177.2" stroke="#e3e3e3" stroke-width="0.7"/>
<line x1="671.5" y1="14.7" x2="671.5" y2="177.2" stroke="#e3e3e3" stroke-width="0.7"/>
<line x1="465.0" y1="177.2" x2="671.5" y2="177.2" stroke="#e3e3e3" stroke-width="0.7"/>
<line x1="465.0" y1="150.1" x2="671.5" y2="150.1" stroke="#e3e3e3" stroke-width="0.7"/>
<line x1="465.0" y1="123.0" x2="671.5" y2="123.0" stroke="#e3e3e3" stroke-width="0.7"/>
<line x1="465.0" y1="96.0" x2="671.5" y2="96.0" stroke="#e3e3e3" stroke-width="0.7"/>
<line x1="465.0" y1="68.9" x2="671.5" y2="68.9" stroke="#e3e3e3" stroke-width="0.7"/>
<line x1="465.0" y1="41.8" x2="671.5" y2="41.8" stroke="#e3e3e3" stroke-width="0.7"/>
<line x1="465.0" y1="14.7" x2="671.5" y2="14.7" stroke="#e3e3e3" stroke-width="0.7"/>
<path d="M465.0 15.1 L465.2 17.5 L465.5 19.0 L465.7 20.9 L465.9 22.9 L466.1 24.1 L466.4 26.1 L466.6 27.2 L466.8 28.8 L467.1 30.0 L467.3 32.2 L467.5 32.6 L467.8 33.3 L468.0 33.0 L468.2 33.6 L468.4 32.3 L468.7 35.0 L468.9 33.5 L469.1 33.7 L469.4 33.9 L469.6 35.1 L469.8 33.4 L470.0 36.5 L470.3 38.1 L470.5 37.4 L470.7 38.6 L471.0 37.2 L471.2 40.1 L471.4 42.3 L471.7 42.8 L471.9 42.9 L472.1 43.3 L472.3 43.0 L472.6 41.3 L472.8 41.7 L473.0 40.1 L473.3 37.8 L473.5 38.2 L473.7 36.1 L473.9 34.2 L474.2 35.2 L474.4 34.4 L474.6 34.9 L474.9 34.9 L475.1 34.6 L475.3 34.7 L475.6 34.3 L475.8 35.6 L476.0 33.6 L476.2 34.3 L476.5 31.6 L476.7 31.4 L476.9 32.5 L477.2 34.4 L477.4 34.4 L477.6 36.2 L477.8 32.9 L478.1 33.6 L478.3 33.9 L478.5 33.2 L478.8 33.9 L479.0 33.0 L479.2 31.4 L479.5 30.4 L479.7 29.7 L479.9 32.0 L480.1 30.0 L480.4 31.2 L480.6 30.9 L480.8 30.0 L481.1 31.2 L481.3 33.3 L481.5 32.2 L481.7 29.5 L482.0 31.8 L482.2 31.7 L482.4 29.8 L482.7 31.3 L482.9 32.0 L483.1 30.8 L483.4 31.2 L483.6 31.7 L483.8 30.8 L484.0 32.2 L484.3 31.0 L484.5 29.5 L484.7 31.2 L485.0 31.1 L485.2 31.1 L485.4 31.5 L485.6 32.7 L485.9 31.6 L486.1 31.0 L486.3 32.2 L486.6 31.2 L486.8 30.3 L487.0 30.5 L487.3 32.9 L487.5 31.1 L487.7 32.5 L487.9 31.3 L488.2 33.6 L488.4 31.2 L488.6 32.6 L488.9 33.1 L489.1 32.9 L489.3 34.0 L489.6 32.8 L489.8 32.7 L490.0 32.4 L490.2 33.5 L490.5 32.6 L490.7 31.8 L490.9 33.2 L491.2 32.0 L491.4 31.7 L491.6 34.9 L491.8 35.2 L492.1 32.7 L492.3 35.2 L492.5 36.6 L492.8 38.0 L493.0 37.1 L493.2 38.0 L493.5 35.9 L493.7 35.9 L493.9 34.9 L494.1 35.0 L494.4 36.9 L494.6 36.4 L494.8 36.4 L495.1 36.9 L495.3 38.3 L495.5 37.4 L495.7 35.4 L496.0 36.9 L496.2 36.3 L496.4 35.2 L496.7 37.3 L496.9 36.8 L497.1 37.0 L497.4 37.1 L497.6 35.2 L497.8 36.3 L498.0 36.7 L498.3 38.7 L498.5 37.5 L498.7 37.0 L499.0 35.8 L499.2 33.2 L499.4 36.7 L499.6 36.7 L499.9 33.9 L500.1 37.5 L500.3 35.8 L500.6 36.8 L500.8 37.1 L501.0 39.1 L501.3 39.2 L501.5 42.2 L501.7 40.7 L501.9 41.7 L502.2 43.4 L502.4 45.8 L502.6 47.8 L502.9 52.1 L503.1 51.9 L503.3 49.7 L503.5 46.3 L503.8 45.3 L504.0 43.9 L504.2 43.8 L504.5 41.1 L504.7 42.3 L504.9 40.5 L505.2 38.9 L505.4 37.3 L505.6 38.5 L505.8 37.8 L506.1 36.1 L506.3 37.0 L506.5 38.4 L506.8 38.6 L507.0 36.4 L507.2 35.9 L507.4 32.9 L507.7 33.1 L507.9 31.4 L508.1 32.2 L508.4 33.4 L508.6 32.3 L508.8 33.3 L509.1 36.0 L509.3 33.7 L509.5 34.9 L509.7 34.2 L510.0 35.7 L510.2 34.2 L510.4 33.8 L510.7 37.0 L510.9 37.7 L511.1 38.0 L511.3 39.3 L511.6 38.6 L511.8 43.1 L512.0 40.8 L512.3 40.1 L512.5 40.6 L512.7 39.1 L513.0 37.5 L513.2 36.7 L513.4 36.5 L513.6 36.6 L513.9 36.7 L514.1 36.1 L514.3 36.3 L514.6 33.0 L514.8 33.3 L515.0 34.7 L515.2 35.7 L515.5 37.7 L515.7 37.5 L515.9 35.8 L516.2 36.5 L516.4 36.0 L516.6 34.3 L516.9 33.8 L517.1 34.7 L517.3 34.3 L517.5 34.3 L517.8 33.6 L518.0 34.2 L518.2 34.1 L518.5 35.0 L518.7 34.3 L518.9 35.5 L519.1 34.4 L519.4 36.3 L519.6 35.4 L519.8 35.6 L520.1 37.1 L520.3 35.4 L520.5 34.9 L520.8 37.1 L521.0 35.7 L521.2 34.7 L521.4 34.6 L521.7 35.7 L521.9 39.8 L522.1 39.5 L522.4 40.3 L522.6 43.3 L522.8 44.7 L523.0 45.8 L523.3 46.3 L523.5 50.0 L523.7 49.5 L524.0 48.7 L524.2 49.2 L524.4 46.6 L524.7 47.2 L524.9 47.4 L525.1 46.0 L525.3 43.8 L525.6 41.3 L525.8 42.8 L526.0 42.3 L526.3 42.7 L526.5 41.1 L526.7 41.6 L527.0 41.8 L527.2 40.1 L527.4 39.2 L527.6 36.6 L527.9 35.1 L528.1 36.5 L528.3 36.8 L528.6 34.2 L528.8 34.3 L529.0 34.1 L529.2 32.0 L529.5 33.6 L529.7 32.1 L529.9 29.9 L530.2 32.4 L530.4 30.8 L530.6 31.8 L530.9 31.1 L531.1 31.1 L531.3 32.7 L531.5 32.1 L531.8 33.2 L532.0 31.8 L532.2 33.5 L532.5 32.4 L532.7 31.1 L532.9 32.8 L533.1 33.6 L533.4 33.7 L533.6 32.4 L533.8 31.6 L534.1 31.9 L534.3 30.8 L534.5 31.7 L534.8 30.4 L535.0 30.3 L535.2 30.3 L535.4 31.7 L535.7 31.9 L535.9 30.2 L536.1 30.4 L536.4 33.0 L536.6 32.3 L536.8 30.8 L537.0 30.4 L537.3 30.3 L537.5 31.6 L537.7 31.3 L538.0 32.3 L538.2 31.9 L538.4 30.7 L538.7 31.8 L538.9 30.1 L539.1 29.2 L539.3 30.3 L539.6 32.5 L539.8 31.2 L540.0 31.1 L540.3 31.6 L540.5 31.3 L540.7 31.0 L540.9 31.3 L541.2 33.7 L541.4 33.3 L541.6 34.4 L541.9 33.6 L542.1 34.0 L542.3 35.2 L542.6 34.0 L542.8 34.4 L543.0 34.2 L543.2 35.5 L543.5 37.5 L543.7 36.0 L543.9 38.5 L544.2 39.5 L544.4 37.2 L544.6 36.9 L544.8 38.8 L545.1 37.3 L545.3 35.4 L545.5 36.0 L545.8 35.1 L546.0 35.3 L546.2 35.1 L546.5 36.1 L546.7 35.3 L546.9 34.7 L547.1 35.1 L547.4 32.5 L547.6 37.4 L547.8 33.9 L548.1 36.3 L548.3 37.7 L548.5 35.6 L548.7 35.3 L549.0 37.5 L549.2 37.2 L549.4 38.2 L549.7 40.7 L549.9 41.2 L550.1 42.4 L550.4 43.7 L550.6 46.8 L550.8 46.4 L551.0 49.6 L551.3 48.8 L551.5 47.3 L551.7 46.0 L552.0 41.9 L552.2 43.7 L552.4 40.6 L552.6 40.6 L552.9 41.0 L553.1 37.8 L553.3 38.3 L553.6 35.8 L553.8 35.9 L554.0 38.1 L554.3 36.5 L554.5 37.9 L554.7 37.9 L554.9 37.5 L555.2 37.9 L555.4 38.0 L555.6 37.6 L555.9 37.7 L556.1 36.6 L556.3 37.3 L556.5 35.1 L556.8 36.5 L557.0 36.2 L557.2 33.9 L557.5 32.9 L557.7 31.8 L557.9 31.7 L558.2 31.6 L558.4 31.4 L558.6 32.0 L558.8 34.1 L559.1 32.9 L559.3 32.6 L559.5 32.6 L559.8 31.4 L560.0 33.8 L560.2 31.7 L560.4 28.7 L560.7 32.1 L560.9 29.4 L561.1 29.2 L561.4 29.9 L561.6 30.4 L561.8 31.0 L562.1 32.1 L562.3 29.5 L562.5 30.2 L562.7 29.5 L563.0 32.3 L563.2 32.2 L563.4 32.7 L563.7 29.5 L563.9 29.6 L564.1 30.1 L564.3 29.7 L564.6 30.5 L564.8 30.8 L565.0 30.5 L565.3 30.4 L565.5 29.8 L565.7 28.5 L566.0 30.1 L566.2 30.4 L566.4 30.1 L566.6 29.9 L566.9 32.2 L567.1 28.8 L567.3 29.1 L567.6 30.7 L567.8 30.7 L568.0 32.2 L568.2 30.3 L568.5 31.2 L568.7 30.8 L568.9 32.7 L569.2 30.5 L569.4 29.1 L569.6 31.6 L569.9 30.3 L570.1 29.2 L570.3 30.1 L570.5 30.8 L570.8 28.4 L571.0 30.1 L571.2 31.6 L571.5 34.4 L571.7 32.5 L571.9 33.2 L572.2 33.6 L572.4 30.9 L572.6 33.5 L572.8 32.5 L573.1 30.1 L573.3 32.8 L573.5 33.2 L573.8 35.0 L574.0 35.3 L574.2 36.2 L574.4 34.3 L574.7 34.9 L574.9 33.7 L575.1 34.1 L575.4 35.1 L575.6 35.2 L575.8 35.8 L576.1 35.2 L576.3 35.4 L576.5 35.9 L576.7 35.7 L577.0 36.7 L577.2 37.0 L577.4 36.8 L577.7 39.1 L577.9 38.8 L578.1 40.3 L578.3 39.1 L578.6 38.3 L578.8 39.4 L579.0 39.5 L579.3 40.5 L579.5 41.2 L579.7 43.1 L580.0 41.3 L580.2 41.3 L580.4 41.3 L580.6 42.7 L580.9 42.8 L581.1 39.5 L581.3 38.5 L581.6 41.5 L581.8 41.4 L582.0 39.8 L582.2 38.6 L582.5 42.2 L582.7 41.8 L582.9 40.2 L583.2 41.7 L583.4 42.3 L583.6 41.3 L583.9 43.0 L584.1 42.4 L584.3 39.5 L584.5 43.1 L584.8 40.3 L585.0 41.3 L585.2 38.9 L585.5 39.4 L585.7 39.1 L585.9 36.3 L586.1 36.8 L586.4 36.6 L586.6 38.5 L586.8 36.7 L587.1 37.6 L587.3 35.8 L587.5 36.8 L587.8 36.5 L588.0 34.0 L588.2 36.1 L588.4 36.5 L588.7 38.2 L588.9 35.3 L589.1 35.3 L589.4 37.2 L589.6 35.4 L589.8 35.9 L590.0 35.0 L590.3 35.9 L590.5 34.1 L590.7 37.9 L591.0 38.0 L591.2 37.0 L591.4 35.9 L591.7 36.5 L591.9 35.2 L592.1 35.9 L592.3 37.8 L592.6 34.3 L592.8 34.8 L593.0 35.6 L593.3 35.6 L593.5 35.5 L593.7 37.2 L593.9 36.3 L594.2 35.9 L594.4 37.5 L594.6 38.1 L594.9 40.0 L595.1 39.5 L595.3 39.1 L595.6 37.8 L595.8 35.5 L596.0 36.5 L596.2 37.0 L596.5 37.7 L596.7 36.7 L596.9 37.2 L597.2 37.4 L597.4 36.9 L597.6 39.6 L597.8 39.8 L598.1 39.5 L598.3 40.9 L598.5 41.5 L598.8 41.0 L599.0 40.6 L599.2 38.7 L599.5 39.5 L599.7 39.1 L599.9 40.7 L600.1 41.2 L600.4 39.9 L600.6 41.6 L600.8 41.5 L601.1 39.2 L601.3 40.6 L601.5 40.0 L601.7 37.5 L602.0 38.0 L602.2 38.2 L602.4 37.6 L602.7 39.5 L602.9 37.2 L603.1 38.2 L603.4 38.1 L603.6 37.9 L603.8 36.7 L604.0 40.0 L604.3 37.9 L604.5 36.8 L604.7 39.5 L605.0 38.7 L605.2 38.0 L605.4 38.8 L605.6 34.1 L605.9 35.8 L606.1 36.2 L606.3 37.0 L606.6 37.5 L606.8 38.1 L607.0 37.6 L607.3 36.9 L607.5 34.5 L607.7 35.9 L607.9 34.2 L608.2 33.1 L608.4 34.1 L608.6 33.3 L608.9 32.7 L609.1 34.3 L609.3 34.6 L609.5 35.6 L609.8 34.5 L610.0 32.1 L610.2 32.4 L610.5 32.1 L610.7 31.9 L610.9 33.4 L611.2 32.9 L611.4 31.2 L611.6 32.9 L611.8 33.3 L612.1 34.1 L612.3 33.7 L612.5 31.3 L612.8 32.0 L613.0 31.7 L613.2 31.7 L613.5 31.2 L613.7 32.5 L613.9 31.1 L614.1 33.5 L614.4 32.3 L614.6 33.1 L614.8 32.1 L615.1 33.4 L615.3 32.9 L615.5 30.7 L615.7 31.1 L616.0 31.7 L616.2 31.1 L616.4 34.6 L616.7 34.1 L616.9 31.2 L617.1 34.0 L617.4 34.3 L617.6 32.3 L617.8 34.8 L618.0 32.6 L618.3 32.3 L618.5 31.7 L618.7 31.2 L619.0 30.1 L619.2 30.8 L619.4 30.9 L619.6 34.0 L619.9 33.8 L620.1 33.4 L620.3 31.6 L620.6 31.8 L620.8 32.4 L621.0 34.0 L621.3 33.5 L621.5 35.5 L621.7 35.4 L621.9 35.9 L622.2 36.2 L622.4 36.2 L622.6 35.7 L622.9 36.3 L623.1 37.2 L623.3 36.6 L623.5 38.3 L623.8 36.8 L624.0 36.3 L624.2 35.9 L624.5 37.1 L624.7 35.4 L624.9 36.2 L625.2 36.2 L625.4 38.1 L625.6 39.7 L625.8 40.4 L626.1 41.0 L626.3 41.2 L626.5 39.9 L626.8 38.3 L627.0 40.1 L627.2 40.0 L627.4 41.5 L627.7 40.9 L627.9 40.4 L628.1 41.8 L628.4 43.3 L628.6 41.9 L628.8 39.5 L629.1 40.4 L629.3 40.7 L629.5 40.8 L629.7 41.9 L630.0 41.2 L630.2 39.7 L630.4 39.5 L630.7 38.8 L630.9 38.8 L631.1 38.2 L631.3 38.1 L631.6 39.1 L631.8 41.0 L632.0 39.2 L632.3 38.9 L632.5 39.0 L632.7 40.6 L633.0 40.5 L633.2 38.5 L633.4 41.1 L633.6 40.8 L633.9 42.7 L634.1 42.5 L634.3 41.9 L634.6 42.7 L634.8 43.5 L635.0 44.0 L635.2 42.9 L635.5 45.3 L635.7 46.4 L635.9 47.4 L636.2 47.4 L636.4 48.1 L636.6 50.4 L636.9 53.0 L637.1 55.6 L637.3 58.2 L637.5 62.2 L637.8 65.6 L638.0 66.5 L638.2 69.6 L638.5 73.0 L638.7 76.5 L638.9 78.2 L639.1 81.9 L639.4 84.5 L639.6 88.3 L639.8 89.3 L640.1 92.2 L640.3 98.0 L640.5 104.1 L640.8 109.9 L641.0 116.6 L641.2 122.3 L641.4 126.7 L641.7 133.0 L641.9 137.7 L642.1 143.8 L642.4 148.9 L642.6 155.4 L642.8 148.7 L643.0 140.4 L643.3 133.9 L643.5 127.1 L643.7 121.3 L644.0 117.3 L644.2 114.7 L644.4 111.5 L644.7 108.7 L644.9 105.3 L645.1 100.5 L645.3 97.3 L645.6 93.4 L645.8 89.2 L646.0 84.8 L646.3 82.9 L646.5 79.9 L646.7 78.4 L646.9 76.4 L647.2 75.0 L647.4 72.6 L647.6 71.7 L647.9 69.4 L648.1 68.2 L648.3 67.0 L648.6 66.1 L648.8 63.8 L649.0 65.3 L649.2 61.6 L649.5 63.3" fill="none" stroke="#e23fcc" stroke-width="0.75" stroke-linejoin="round"/>
<path d="M465.0 15.1 L465.2 16.9 L465.5 18.8 L465.7 20.6 L465.9 21.9 L466.1 24.6 L466.4 25.1 L466.6 26.4 L466.8 28.9 L467.1 30.4 L467.3 31.3 L467.5 31.4 L467.8 31.0 L468.0 32.1 L468.2 31.8 L468.4 33.4 L468.7 34.1 L468.9 35.2 L469.1 35.1 L469.4 34.8 L469.6 34.9 L469.8 36.4 L470.0 34.9 L470.3 35.8 L470.5 36.6 L470.7 36.2 L471.0 34.5 L471.2 36.3 L471.4 37.1 L471.7 38.7 L471.9 36.0 L472.1 38.8 L472.3 37.9 L472.6 36.5 L472.8 40.3 L473.0 36.5 L473.3 37.5 L473.5 38.6 L473.7 37.4 L473.9 36.7 L474.2 36.6 L474.4 36.0 L474.6 36.8 L474.9 34.9 L475.1 34.8 L475.3 34.2 L475.6 35.0 L475.8 33.1 L476.0 31.8 L476.2 33.3 L476.5 32.7 L476.7 33.3 L476.9 34.1 L477.2 33.3 L477.4 35.9 L477.6 34.4 L477.8 33.1 L478.1 34.8 L478.3 33.8 L478.5 30.9 L478.8 33.3 L479.0 32.9 L479.2 31.5 L479.5 32.5 L479.7 33.4 L479.9 33.3 L480.1 33.6 L480.4 33.4 L480.6 31.9 L480.8 31.4 L481.1 32.8 L481.3 31.7 L481.5 33.0 L481.7 32.0 L482.0 32.0 L482.2 32.4 L482.4 31.7 L482.7 32.2 L482.9 33.3 L483.1 31.0 L483.4 30.8 L483.6 30.4 L483.8 31.8 L484.0 34.3 L484.3 30.1 L484.5 32.2 L484.7 33.5 L485.0 31.7 L485.2 33.0 L485.4 30.7 L485.6 31.9 L485.9 30.0 L486.1 30.7 L486.3 31.4 L486.6 31.1 L486.8 30.1 L487.0 33.2 L487.3 30.1 L487.5 31.7 L487.7 33.2 L487.9 33.2 L488.2 34.3 L488.4 33.2 L488.6 33.0 L488.9 34.1 L489.1 32.8 L489.3 33.1 L489.6 33.0 L489.8 31.9 L490.0 33.5 L490.2 32.2 L490.5 31.0 L490.7 34.2 L490.9 34.4 L491.2 35.6 L491.4 34.6 L491.6 35.5 L491.8 35.7 L492.1 37.0 L492.3 36.7 L492.5 36.5 L492.8 36.8 L493.0 36.1 L493.2 36.2 L493.5 37.4 L493.7 38.6 L493.9 36.8 L494.1 36.9 L494.4 38.5 L494.6 37.2 L494.8 38.8 L495.1 37.4 L495.3 37.4 L495.5 35.2 L495.7 36.5 L496.0 36.1 L496.2 35.8 L496.4 35.9 L496.7 35.5 L496.9 37.9 L497.1 36.2 L497.4 36.4 L497.6 36.1 L497.8 36.2 L498.0 38.5 L498.3 38.5 L498.5 39.1 L498.7 38.7 L499.0 36.5 L499.2 37.9 L499.4 38.3 L499.6 35.3 L499.9 38.4 L500.1 37.1 L500.3 37.1 L500.6 38.4 L500.8 36.7 L501.0 37.1 L501.3 38.6 L501.5 38.7 L501.7 39.9 L501.9 42.1 L502.2 41.1 L502.4 43.1 L502.6 43.0 L502.9 42.0 L503.1 42.6 L503.3 45.2 L503.5 44.7 L503.8 45.7 L504.0 45.2 L504.2 44.7 L504.5 43.7 L504.7 43.0 L504.9 42.9 L505.2 40.9 L505.4 39.6 L505.6 40.6 L505.8 40.7 L506.1 40.4 L506.3 40.7 L506.5 40.1 L506.8 40.1 L507.0 37.5 L507.2 38.5 L507.4 37.6 L507.7 35.6 L507.9 37.1 L508.1 34.9 L508.4 36.8 L508.6 36.3 L508.8 34.9 L509.1 36.6 L509.3 38.6 L509.5 39.2 L509.7 38.7 L510.0 40.0 L510.2 38.3 L510.4 38.7 L510.7 38.9 L510.9 38.9 L511.1 38.9 L511.3 40.5 L511.6 42.6 L511.8 42.9 L512.0 44.7 L512.3 44.0 L512.5 42.9 L512.7 42.4 L513.0 40.8 L513.2 41.2 L513.4 41.0 L513.6 40.2 L513.9 39.2 L514.1 40.2 L514.3 38.5 L514.6 38.6 L514.8 38.8 L515.0 37.4 L515.2 35.5 L515.5 38.2 L515.7 37.8 L515.9 38.5 L516.2 38.8 L516.4 38.8 L516.6 36.9 L516.9 39.3 L517.1 37.9 L517.3 38.5 L517.5 39.8 L517.8 38.4 L518.0 37.3 L518.2 38.1 L518.5 35.8 L518.7 37.7 L518.9 37.9 L519.1 39.0 L519.4 38.2 L519.6 38.9 L519.8 36.8 L520.1 39.4 L520.3 38.5 L520.5 38.7 L520.8 39.5 L521.0 39.7 L521.2 40.1 L521.4 39.2 L521.7 40.8 L521.9 41.4 L522.1 42.1 L522.4 43.0 L522.6 44.4 L522.8 44.0 L523.0 43.5 L523.3 45.4 L523.5 44.9 L523.7 47.1 L524.0 48.0 L524.2 49.5 L524.4 48.7 L524.7 50.3 L524.9 50.7 L525.1 49.5 L525.3 46.4 L525.6 47.7 L525.8 47.6 L526.0 44.8 L526.3 44.2 L526.5 45.0 L526.7 42.0 L527.0 42.5 L527.2 40.1 L527.4 39.2 L527.6 36.4 L527.9 38.1 L528.1 35.6 L528.3 37.9 L528.6 38.0 L528.8 39.1 L529.0 38.6 L529.2 37.2 L529.5 35.2 L529.7 36.7 L529.9 38.3 L530.2 35.2 L530.4 35.1 L530.6 36.5 L530.9 34.5 L531.1 34.2 L531.3 34.6 L531.5 36.8 L531.8 35.3 L532.0 35.5 L532.2 33.0 L532.5 33.9 L532.7 35.2 L532.9 34.2 L533.1 34.1 L533.4 36.0 L533.6 35.5 L533.8 34.8 L534.1 34.5 L534.3 34.1 L534.5 34.7 L534.8 34.9 L535.0 33.2 L535.2 32.3 L535.4 33.7 L535.7 32.6 L535.9 31.4 L536.1 34.6 L536.4 35.4 L536.6 35.9 L536.8 35.0 L537.0 34.0 L537.3 34.4 L537.5 35.1 L537.7 34.0 L538.0 34.4 L538.2 34.4 L538.4 32.2 L538.7 34.8 L538.9 32.9 L539.1 33.5 L539.3 33.2 L539.6 31.5 L539.8 32.7 L540.0 33.1 L540.3 32.9 L540.5 32.1 L540.7 32.4 L540.9 34.7 L541.2 35.1 L541.4 34.7 L541.6 36.6 L541.9 38.4 L542.1 37.9 L542.3 37.7 L542.6 37.1 L542.8 38.0 L543.0 36.3 L543.2 38.5 L543.5 37.8 L543.7 41.2 L543.9 40.3 L544.2 42.5 L544.4 42.2 L544.6 41.1 L544.8 41.0 L545.1 41.6 L545.3 43.0 L545.5 42.2 L545.8 44.5 L546.0 39.1 L546.2 39.2 L546.5 40.0 L546.7 40.8 L546.9 38.0 L547.1 40.2 L547.4 39.5 L547.6 42.0 L547.8 40.8 L548.1 39.2 L548.3 38.2 L548.5 39.6 L548.7 38.5 L549.0 38.1 L549.2 41.8 L549.4 40.1 L549.7 43.2 L549.9 42.3 L550.1 44.0 L550.4 43.6 L550.6 45.6 L550.8 45.5 L551.0 45.5 L551.3 47.2 L551.5 47.2 L551.7 49.1 L552.0 49.4 L552.2 46.8 L552.4 46.3 L552.6 43.5 L552.9 43.2 L553.1 42.3 L553.3 44.1 L553.6 42.0 L553.8 40.0 L554.0 40.2 L554.3 40.3 L554.5 40.3 L554.7 43.6 L554.9 41.4 L555.2 41.2 L555.4 41.8 L555.6 42.3 L555.9 41.2 L556.1 41.2 L556.3 39.1 L556.5 39.7 L556.8 40.2 L557.0 39.9 L557.2 39.0 L557.5 37.1 L557.7 37.7 L557.9 34.5 L558.2 37.7 L558.4 36.9 L558.6 36.4 L558.8 36.1 L559.1 37.0 L559.3 36.2 L559.5 35.4 L559.8 35.5 L560.0 36.5 L560.2 35.7 L560.4 35.1 L560.7 33.2 L560.9 36.4 L561.1 35.8 L561.4 34.6 L561.6 37.2 L561.8 34.6 L562.1 33.7 L562.3 35.5 L562.5 35.2 L562.7 34.2 L563.0 35.1 L563.2 35.0 L563.4 35.6 L563.7 35.3 L563.9 35.8 L564.1 34.7 L564.3 33.1 L564.6 34.6 L564.8 35.0 L565.0 34.0 L565.3 34.5 L565.5 34.7 L565.7 34.8 L566.0 35.5 L566.2 35.0 L566.4 33.7 L566.6 34.5 L566.9 35.6 L567.1 35.4 L567.3 35.1 L567.6 35.8 L567.8 33.8 L568.0 33.7 L568.2 35.8 L568.5 35.5 L568.7 36.4 L568.9 34.4 L569.2 33.3 L569.4 35.6 L569.6 35.3 L569.9 35.9 L570.1 34.6 L570.3 35.3 L570.5 35.7 L570.8 36.3 L571.0 33.4 L571.2 34.6 L571.5 35.8 L571.7 35.8 L571.9 35.2 L572.2 36.2 L572.4 36.6 L572.6 38.7 L572.8 36.5 L573.1 36.7 L573.3 37.3 L573.5 38.6 L573.8 38.8 L574.0 37.4 L574.2 38.7 L574.4 37.3 L574.7 38.3 L574.9 37.9 L575.1 38.8 L575.4 38.2 L575.6 38.4 L575.8 37.8 L576.1 37.1 L576.3 39.5 L576.5 40.8 L576.7 39.2 L577.0 40.2 L577.2 40.0 L577.4 40.1 L577.7 39.6 L577.9 41.9 L578.1 40.5 L578.3 41.4 L578.6 45.0 L578.8 43.7 L579.0 44.7 L579.3 44.1 L579.5 44.0 L579.7 44.0 L580.0 42.2 L580.2 41.8 L580.4 42.5 L580.6 42.8 L580.9 40.3 L581.1 40.9 L581.3 42.1 L581.6 39.6 L581.8 39.8 L582.0 41.3 L582.2 40.1 L582.5 41.5 L582.7 42.8 L582.9 41.3 L583.2 42.0 L583.4 43.2 L583.6 44.2 L583.9 43.5 L584.1 42.4 L584.3 41.0 L584.5 40.0 L584.8 40.0 L585.0 39.4 L585.2 40.7 L585.5 39.7 L585.7 39.6 L585.9 38.0 L586.1 38.0 L586.4 36.9 L586.6 37.4 L586.8 35.9 L587.1 37.9 L587.3 36.3 L587.5 37.2 L587.8 37.3 L588.0 38.3 L588.2 37.6 L588.4 39.6 L588.7 38.1 L588.9 38.2 L589.1 37.5 L589.4 38.2 L589.6 36.6 L589.8 36.5 L590.0 38.2 L590.3 34.9 L590.5 36.1 L590.7 37.2 L591.0 35.3 L591.2 36.1 L591.4 39.5 L591.7 38.2 L591.9 38.3 L592.1 37.0 L592.3 38.0 L592.6 37.1 L592.8 36.9 L593.0 39.2 L593.3 36.3 L593.5 35.0 L593.7 36.2 L593.9 35.2 L594.2 35.1 L594.4 36.2 L594.6 36.7 L594.9 37.2 L595.1 38.1 L595.3 35.9 L595.6 37.6 L595.8 38.3 L596.0 38.0 L596.2 37.4 L596.5 39.7 L596.7 39.2 L596.9 38.6 L597.2 38.6 L597.4 40.1 L597.6 40.0 L597.8 38.2 L598.1 38.5 L598.3 40.2 L598.5 39.7 L598.8 40.1 L599.0 40.1 L599.2 39.5 L599.5 38.9 L599.7 39.7 L599.9 39.3 L600.1 42.2 L600.4 43.9 L600.6 41.3 L600.8 42.9 L601.1 41.9 L601.3 40.9 L601.5 40.8 L601.7 40.3 L602.0 38.7 L602.2 41.0 L602.4 37.9 L602.7 40.7 L602.9 37.5 L603.1 38.5 L603.4 39.6 L603.6 38.1 L603.8 38.0 L604.0 38.1 L604.3 35.3 L604.5 36.1 L604.7 36.1 L605.0 36.9 L605.2 36.6 L605.4 34.8 L605.6 34.5 L605.9 35.0 L606.1 36.4 L606.3 36.7 L606.6 36.6 L606.8 34.2 L607.0 34.4 L607.3 35.1 L607.5 34.7 L607.7 35.9 L607.9 33.8 L608.2 33.9 L608.4 33.8 L608.6 31.2 L608.9 32.3 L609.1 33.6 L609.3 35.0 L609.5 35.4 L609.8 33.0 L610.0 33.2 L610.2 31.7 L610.5 33.0 L610.7 32.5 L610.9 33.5 L611.2 31.2 L611.4 34.5 L611.6 32.2 L611.8 31.5 L612.1 34.0 L612.3 34.7 L612.5 34.8 L612.8 35.3 L613.0 33.8 L613.2 35.0 L613.5 35.5 L613.7 34.8 L613.9 33.0 L614.1 33.7 L614.4 33.0 L614.6 29.7 L614.8 31.4 L615.1 30.9 L615.3 29.9 L615.5 31.5 L615.7 34.4 L616.0 33.6 L616.2 35.0 L616.4 34.0 L616.7 32.5 L616.9 34.8 L617.1 31.6 L617.4 31.8 L617.6 32.5 L617.8 33.4 L618.0 33.1 L618.3 32.8 L618.5 32.7 L618.7 33.2 L619.0 35.7 L619.2 34.2 L619.4 34.3 L619.6 33.3 L619.9 34.1 L620.1 32.4 L620.3 35.2 L620.6 33.5 L620.8 33.1 L621.0 33.6 L621.3 31.3 L621.5 34.5 L621.7 33.7 L621.9 32.9 L622.2 32.1 L622.4 35.8 L622.6 36.1 L622.9 36.2 L623.1 35.8 L623.3 35.8 L623.5 36.3 L623.8 35.5 L624.0 36.6 L624.2 36.0 L624.5 38.2 L624.7 37.1 L624.9 36.8 L625.2 39.1 L625.4 36.8 L625.6 35.9 L625.8 37.1 L626.1 36.7 L626.3 37.1 L626.5 38.2 L626.8 36.2 L627.0 37.0 L627.2 35.6 L627.4 35.3 L627.7 35.1 L627.9 36.6 L628.1 36.9 L628.4 35.3 L628.6 35.2 L628.8 35.0 L629.1 33.6 L629.3 31.1 L629.5 32.0 L629.7 33.2 L630.0 30.7 L630.2 28.5 L630.4 32.0 L630.7 30.6 L630.9 31.9 L631.1 31.1 L631.3 30.8 L631.6 30.9 L631.8 32.5 L632.0 31.1 L632.3 31.5 L632.5 32.4 L632.7 33.2 L633.0 32.4 L633.2 29.0 L633.4 31.3 L633.6 31.1 L633.9 32.5 L634.1 32.2 L634.3 32.7 L634.6 32.9 L634.8 33.8 L635.0 34.6 L635.2 35.0 L635.5 35.8 L635.7 37.1 L635.9 37.9 L636.2 38.0 L636.4 39.7 L636.6 40.2 L636.9 41.9 L637.1 42.9 L637.3 42.8 L637.5 45.4 L637.8 46.2 L638.0 46.6 L638.2 49.5 L638.5 52.7 L638.7 54.9 L638.9 58.0 L639.1 60.2 L639.4 62.5 L639.6 64.5 L639.8 67.1 L640.1 70.8 L640.3 72.9 L640.5 77.1 L640.8 79.4 L641.0 82.6 L641.2 86.5 L641.4 90.4 L641.7 93.2 L641.9 97.3 L642.1 101.0 L642.4 105.1 L642.6 109.5 L642.8 105.6 L643.0 102.2 L643.3 96.7 L643.5 92.7 L643.7 90.0 L644.0 84.3 L644.2 84.5 L644.4 85.2 L644.7 83.9 L644.9 80.7 L645.1 79.7 L645.3 77.5 L645.6 75.8 L645.8 75.8 L646.0 76.1 L646.3 74.6 L646.5 74.9 L646.7 71.7 L646.9 71.3 L647.2 69.7 L647.4 70.1 L647.6 69.0 L647.9 67.5 L648.1 68.9 L648.3 66.7 L648.6 66.2 L648.8 64.5 L649.0 64.3 L649.2 62.5 L649.5 62.3" fill="none" stroke="#111" stroke-width="0.6" stroke-linejoin="round"/>
<line x1="464.80" y1="14.7" x2="464.80" y2="177.20" stroke="#b4b4b4" stroke-width="1.0"/>
<line x1="464.30" y1="177.20" x2="671.5" y2="177.20" stroke="#8a8a8a" stroke-width="0.8"/>
<line x1="465.0" y1="177.2" x2="465.0" y2="175.2" stroke="#555" stroke-width="0.6"/>
<line x1="499.4" y1="177.2" x2="499.4" y2="175.2" stroke="#555" stroke-width="0.6"/>
<line x1="533.8" y1="177.2" x2="533.8" y2="175.2" stroke="#555" stroke-width="0.6"/>
<line x1="568.2" y1="177.2" x2="568.2" y2="175.2" stroke="#555" stroke-width="0.6"/>
<line x1="602.7" y1="177.2" x2="602.7" y2="175.2" stroke="#555" stroke-width="0.6"/>
<line x1="637.1" y1="177.2" x2="637.1" y2="175.2" stroke="#555" stroke-width="0.6"/>
<line x1="671.5" y1="177.2" x2="671.5" y2="175.2" stroke="#555" stroke-width="0.6"/>
<line x1="465.0" y1="177.2" x2="467.4" y2="177.2" stroke="#555" stroke-width="0.6"/>
<line x1="465.0" y1="150.1" x2="467.4" y2="150.1" stroke="#555" stroke-width="0.6"/>
<line x1="465.0" y1="123.0" x2="467.4" y2="123.0" stroke="#555" stroke-width="0.6"/>
<line x1="465.0" y1="96.0" x2="467.4" y2="96.0" stroke="#555" stroke-width="0.6"/>
<line x1="465.0" y1="68.9" x2="467.4" y2="68.9" stroke="#555" stroke-width="0.6"/>
<line x1="465.0" y1="41.8" x2="467.4" y2="41.8" stroke="#555" stroke-width="0.6"/>
<line x1="465.0" y1="14.7" x2="467.4" y2="14.7" stroke="#555" stroke-width="0.6"/>
<text x="440.2" y="180.5" textLength="28.0" lengthAdjust="spacingAndGlyphs" font-size="9.8" fill="#000">-0.25</text>
<text x="443.5" y="153.4" textLength="21.4" lengthAdjust="spacingAndGlyphs" font-size="9.8" fill="#000">-0.2</text>
<text x="440.2" y="126.3" textLength="28.0" lengthAdjust="spacingAndGlyphs" font-size="9.8" fill="#000">-0.15</text>
<text x="443.5" y="99.2" textLength="21.4" lengthAdjust="spacingAndGlyphs" font-size="9.8" fill="#000">-0.1</text>
<text x="440.2" y="72.1" textLength="28.0" lengthAdjust="spacingAndGlyphs" font-size="9.8" fill="#000">-0.05</text>
<text x="450.9" y="45.0" textLength="6.5" lengthAdjust="spacingAndGlyphs" font-size="9.8" fill="#000">0</text>
<text x="442.5" y="17.9" textLength="23.4" lengthAdjust="spacingAndGlyphs" font-size="9.8" fill="#000">0.05</text>
<text x="462.9" y="187.2" textLength="6.5" lengthAdjust="spacingAndGlyphs" font-size="9.8" fill="#000">0</text>
<text x="497.3" y="187.2" textLength="6.5" lengthAdjust="spacingAndGlyphs" font-size="9.8" fill="#000">5</text>
<text x="530.9" y="187.2" textLength="13.1" lengthAdjust="spacingAndGlyphs" font-size="9.8" fill="#000">10</text>
<text x="565.3" y="187.2" textLength="13.1" lengthAdjust="spacingAndGlyphs" font-size="9.8" fill="#000">15</text>
<text x="599.7" y="187.2" textLength="13.1" lengthAdjust="spacingAndGlyphs" font-size="9.8" fill="#000">20</text>
<text x="634.1" y="187.2" textLength="13.1" lengthAdjust="spacingAndGlyphs" font-size="9.8" fill="#000">25</text>
<text x="668.6" y="187.2" textLength="13.1" lengthAdjust="spacingAndGlyphs" font-size="9.8" fill="#000">30</text>
<text x="555.3" y="195.2" textLength="54.8" lengthAdjust="spacingAndGlyphs" font-size="9.2" fill="#000" word-spacing="1.5">Time in s</text>
<text transform="translate(435.3,156.9) rotate(-90)" x="0" y="0" textLength="112.9" lengthAdjust="spacingAndGlyphs" font-size="11.0" word-spacing="2.2">Mean intensity in 1</text>
<line x1="476.4" y1="66.3" x2="572.9" y2="18.2" stroke="#25b2e8" stroke-width="1.35" stroke-dasharray="5.2 4.2"/>
<line x1="583.6" y1="66.3" x2="587.4" y2="18.2" stroke="#25b2e8" stroke-width="1.35" stroke-dasharray="5.2 4.2"/>
<line x1="476.4" y1="100.2" x2="572.9" y2="60.1" stroke="#25b2e8" stroke-width="1.35" stroke-dasharray="5.2 4.2"/>
<line x1="583.6" y1="100.2" x2="587.4" y2="60.1" stroke="#25b2e8" stroke-width="1.35" stroke-dasharray="5.2 4.2"/>
<rect x="572.9" y="18.2" width="14.5" height="41.9" fill="none" stroke="#25b2e8" stroke-width="1.35"/>
<rect x="476.4" y="66.3" width="107.2" height="33.9" fill="#fff"/>
<g clip-path="url(#ciB)">
<line x1="499.5" y1="66.3" x2="499.5" y2="100.2" stroke="#e6e6e6" stroke-width="0.6"/>
<line x1="533.6" y1="66.3" x2="533.6" y2="100.2" stroke="#e6e6e6" stroke-width="0.6"/>
<line x1="568.0" y1="66.3" x2="568.0" y2="100.2" stroke="#e6e6e6" stroke-width="0.6"/>
<path d="M476.6 94.5 L477.3 94.2 L477.9 93.4 L478.6 92.2 L479.3 91.1 L480.0 90.3 L480.6 90.0 L480.9 88.8 L481.2 85.7 L481.5 81.3 L481.8 77.0 L482.0 73.8 L482.3 72.6 L482.6 74.0 L482.9 77.8 L483.1 83.1 L483.4 88.3 L483.7 92.2 L483.9 93.6 L484.2 93.4 L484.4 93.0 L484.6 92.4 L484.9 91.8 L485.1 91.4 L485.3 91.2 L485.5 91.3 L485.7 91.5 L485.9 91.9 L486.1 92.2 L486.3 92.5 L486.5 92.6 L486.8 92.4 L487.0 92.0 L487.2 91.4 L487.5 90.8 L487.7 90.4 L487.9 90.2 L488.1 90.2 L488.3 90.2 L488.4 90.1 L488.6 90.0 L488.8 90.0 L488.9 90.0 L489.2 88.8 L489.5 85.7 L489.8 81.3 L490.1 77.0 L490.4 73.8 L490.6 72.6 L490.9 74.0 L491.2 77.8 L491.4 83.1 L491.7 88.3 L492.0 92.2 L492.2 93.6 L492.5 93.4 L492.7 93.0 L492.9 92.4 L493.2 91.8 L493.4 91.4 L493.6 91.2 L493.8 91.3 L494.0 91.5 L494.2 91.9 L494.4 92.2 L494.6 92.5 L494.8 92.6 L495.1 92.4 L495.3 92.0 L495.5 91.4 L495.8 90.8 L496.0 90.4 L496.2 90.2 L496.5 90.2 L496.7 90.2 L497.0 90.1 L497.2 90.0 L497.5 90.0 L497.7 90.0 L498.0 88.8 L498.3 85.7 L498.6 81.3 L498.8 77.0 L499.1 73.8 L499.4 72.6 L499.7 74.0 L499.9 77.8 L500.2 83.1 L500.5 88.3 L500.7 92.2 L501.0 93.6 L501.2 93.4 L501.5 93.0 L501.7 92.4 L501.9 91.8 L502.2 91.4 L502.4 91.2 L502.6 91.3 L502.8 91.5 L503.0 91.9 L503.2 92.2 L503.4 92.5 L503.6 92.6 L503.8 92.4 L504.1 92.0 L504.3 91.4 L504.5 90.8 L504.8 90.4 L505.0 90.2 L505.2 90.2 L505.3 90.2 L505.5 90.1 L505.7 90.0 L505.9 90.0 L506.0 90.0 L506.3 88.8 L506.6 85.7 L506.9 81.3 L507.2 77.0 L507.4 73.8 L507.7 72.6 L508.0 74.0 L508.3 77.8 L508.5 83.1 L508.8 88.3 L509.1 92.2 L509.3 93.6 L509.6 93.4 L509.8 93.0 L510.0 92.4 L510.3 91.8 L510.5 91.4 L510.7 91.2 L510.9 91.3 L511.1 91.5 L511.3 91.9 L511.5 92.2 L511.7 92.5 L511.9 92.6 L512.2 92.4 L512.4 92.0 L512.6 91.4 L512.9 90.8 L513.1 90.4 L513.3 90.2 L513.6 90.2 L513.8 90.2 L514.1 90.1 L514.3 90.0 L514.5 90.0 L514.8 90.0 L515.1 88.8 L515.3 85.7 L515.6 81.3 L515.9 77.0 L516.2 73.8 L516.5 72.6 L516.7 74.0 L517.0 77.8 L517.3 83.1 L517.5 88.3 L517.8 92.2 L518.1 93.6 L518.3 93.4 L518.5 93.0 L518.8 92.4 L519.0 91.8 L519.2 91.4 L519.5 91.2 L519.7 91.3 L519.9 91.5 L520.1 91.9 L520.3 92.2 L520.5 92.5 L520.7 92.6 L520.9 92.4 L521.1 92.0 L521.4 91.4 L521.6 90.8 L521.8 90.4 L522.1 90.2 L522.3 90.2 L522.4 90.2 L522.6 90.1 L522.8 90.0 L522.9 90.0 L523.1 90.0 L523.4 88.8 L523.7 85.7 L524.0 81.3 L524.2 77.0 L524.5 73.8 L524.8 72.6 L525.1 74.0 L525.3 77.8 L525.6 83.1 L525.9 88.3 L526.1 92.2 L526.4 93.6 L526.6 93.4 L526.9 93.0 L527.1 92.4 L527.3 91.8 L527.6 91.4 L527.8 91.2 L528.0 91.3 L528.2 91.5 L528.4 91.9 L528.6 92.2 L528.8 92.5 L529.0 92.6 L529.2 92.4 L529.5 92.0 L529.7 91.4 L529.9 90.8 L530.2 90.4 L530.4 90.2 L530.6 90.2 L530.9 90.2 L531.1 90.1 L531.4 90.0 L531.6 90.0 L531.9 90.0 L532.1 88.8 L532.4 85.7 L532.7 81.3 L533.0 77.0 L533.3 73.8 L533.6 72.6 L533.8 74.0 L534.1 77.8 L534.4 83.1 L534.6 88.3 L534.9 92.2 L535.2 93.6 L535.4 93.4 L535.6 93.0 L535.9 92.4 L536.1 91.8 L536.3 91.4 L536.6 91.2 L536.8 91.3 L537.0 91.5 L537.2 91.9 L537.4 92.2 L537.6 92.5 L537.8 92.6 L538.0 92.4 L538.2 92.0 L538.5 91.4 L538.7 90.8 L538.9 90.4 L539.2 90.2 L539.4 90.2 L539.6 90.2 L539.8 90.1 L540.0 90.0 L540.2 90.0 L540.4 90.0 L540.7 88.8 L541.0 85.7 L541.2 81.3 L541.5 77.0 L541.8 73.8 L542.1 72.6 L542.4 74.0 L542.6 77.8 L542.9 83.1 L543.2 88.3 L543.4 92.2 L543.7 93.6 L543.9 93.4 L544.2 93.0 L544.4 92.4 L544.6 91.8 L544.9 91.4 L545.1 91.2 L545.3 91.3 L545.5 91.5 L545.7 91.9 L545.9 92.2 L546.1 92.5 L546.3 92.6 L546.5 92.4 L546.8 92.0 L547.0 91.4 L547.2 90.8 L547.5 90.4 L547.7 90.2 L547.9 90.2 L548.1 90.2 L548.3 90.1 L548.5 90.0 L548.7 90.0 L548.9 90.0 L549.2 88.8 L549.5 85.7 L549.7 81.3 L550.0 77.0 L550.3 73.8 L550.6 72.6 L550.9 74.0 L551.1 77.8 L551.4 83.1 L551.7 88.3 L551.9 92.2 L552.2 93.6 L552.4 93.4 L552.7 93.0 L552.9 92.4 L553.1 91.8 L553.4 91.4 L553.6 91.2 L553.8 91.3 L554.0 91.5 L554.2 91.9 L554.4 92.2 L554.6 92.5 L554.8 92.6 L555.0 92.4 L555.3 92.0 L555.5 91.4 L555.7 90.8 L556.0 90.4 L556.2 90.2 L556.4 90.2 L556.7 90.2 L556.9 90.1 L557.2 90.0 L557.4 90.0 L557.6 90.0 L557.9 88.8 L558.2 85.7 L558.5 81.3 L558.8 77.0 L559.1 73.8 L559.3 72.6 L559.6 74.0 L559.9 77.8 L560.1 83.1 L560.4 88.3 L560.7 92.2 L560.9 93.6 L561.2 93.4 L561.4 93.0 L561.6 92.4 L561.9 91.8 L562.1 91.4 L562.3 91.2 L562.5 91.3 L562.7 91.5 L562.9 91.9 L563.1 92.2 L563.3 92.5 L563.5 92.6 L563.8 92.4 L564.0 92.0 L564.2 91.4 L564.5 90.8 L564.7 90.4 L564.9 90.2 L565.1 90.2 L565.3 90.2 L565.5 90.1 L565.7 90.0 L565.9 90.0 L566.1 90.0 L566.4 88.8 L566.7 85.7 L567.0 81.3 L567.3 77.0 L567.6 73.8 L567.8 72.6 L568.1 74.0 L568.4 77.8 L568.6 83.1 L568.9 88.3 L569.2 92.2 L569.4 93.6 L569.7 93.4 L569.9 93.0 L570.1 92.4 L570.4 91.8 L570.6 91.4 L570.8 91.2 L571.0 91.3 L571.2 91.5 L571.4 91.9 L571.6 92.2 L571.8 92.5 L572.0 92.6 L572.3 92.4 L572.5 92.0 L572.7 91.4 L573.0 90.8 L573.2 90.4 L573.4 90.2 L573.7 90.2 L573.9 90.2 L574.1 90.1 L574.3 90.0 L574.5 90.0 L574.7 90.0 L575.0 88.8 L575.3 85.7 L575.6 81.3 L575.9 77.0 L576.1 73.8 L576.4 72.6 L576.7 74.0 L577.0 77.8 L577.2 83.1 L577.5 88.3 L577.8 92.2 L578.0 93.6 L578.3 93.4 L578.5 93.0 L578.7 92.4 L579.0 91.8 L579.2 91.4 L579.4 91.2 L579.6 91.3 L579.8 91.5 L580.0 91.9 L580.2 92.2 L580.4 92.5 L580.6 92.6 L580.9 92.4 L581.1 92.0 L581.3 91.4 L581.6 90.8 L581.8 90.4 L582.0 90.2 L582.2 90.1 L582.4 89.9 L582.6 89.6 L582.8 89.3 L583.0 89.1 L583.2 89.0" fill="none" stroke="#f8d8a0" stroke-width="0.75" stroke-linejoin="round"/>
<path d="M476.5 85.6 L476.8 85.5 L477.2 85.2 L477.5 84.7 L477.9 84.1 L478.2 83.5 L478.6 83.0 L478.9 82.7 L479.3 82.6 L479.6 82.8 L480.0 83.2 L480.4 83.9 L480.8 84.8 L481.2 85.6 L481.6 86.3 L481.9 86.8 L482.3 87.0 L482.6 86.7 L482.9 86.1 L483.1 85.1 L483.4 83.9 L483.7 82.7 L484.0 81.7 L484.2 81.1 L484.5 80.8 L484.8 81.1 L485.2 81.8 L485.5 82.9 L485.8 84.1 L486.2 85.4 L486.5 86.4 L486.8 87.2 L487.1 87.4 L487.5 87.2 L487.8 86.6 L488.1 85.8 L488.5 84.8 L488.8 83.8 L489.1 82.9 L489.4 82.3 L489.8 82.1 L490.0 82.4 L490.3 83.0 L490.6 84.0 L490.9 85.2 L491.1 86.4 L491.4 87.4 L491.7 88.0 L492.0 88.3 L492.3 88.0 L492.6 87.1 L492.9 85.7 L493.3 84.1 L493.6 82.5 L493.9 81.2 L494.3 80.3 L494.6 80.0 L494.9 80.3 L495.2 81.1 L495.6 82.4 L495.9 83.9 L496.2 85.4 L496.6 86.7 L496.9 87.5 L497.2 87.8 L497.5 87.7 L497.8 87.1 L498.0 86.4 L498.3 85.4 L498.6 84.5 L498.9 83.7 L499.1 83.2 L499.4 83.0 L499.7 83.2 L499.9 83.5 L500.2 84.1 L500.5 84.8 L500.8 85.4 L501.0 86.0 L501.3 86.4 L501.6 86.5 L501.9 86.3 L502.2 85.5 L502.6 84.4 L502.9 83.0 L503.2 81.7 L503.6 80.5 L503.9 79.8 L504.2 79.5 L504.5 79.9 L504.9 80.8 L505.2 82.2 L505.5 83.9 L505.9 85.6 L506.2 87.0 L506.5 87.9 L506.8 88.3 L507.2 88.1 L507.5 87.6 L507.8 86.9 L508.2 86.1 L508.5 85.2 L508.8 84.5 L509.1 84.1 L509.5 83.9 L509.7 83.9 L509.9 84.1 L510.1 84.2 L510.3 84.4 L510.6 84.6 L510.8 84.8 L511.0 84.9 L511.2 84.9 L511.6 84.8 L511.9 84.3 L512.2 83.5 L512.5 82.7 L512.9 81.8 L513.2 81.1 L513.5 80.6 L513.9 80.4 L514.3 80.8 L514.7 81.8 L515.2 83.4 L515.6 85.2 L516.0 87.1 L516.5 88.6 L516.9 89.7 L517.4 90.0 L517.7 89.6 L518.0 88.4 L518.3 86.6 L518.7 84.6 L519.0 82.5 L519.3 80.7 L519.7 79.5 L520.0 79.1 L520.3 79.5 L520.6 80.6 L521.0 82.2 L521.3 84.1 L521.6 86.0 L522.0 87.7 L522.3 88.8 L522.6 89.2 L523.0 88.8 L523.4 87.9 L523.8 86.4 L524.1 84.8 L524.5 83.1 L524.9 81.7 L525.3 80.7 L525.7 80.4 L526.0 80.7 L526.3 81.5 L526.7 82.7 L527.0 84.1 L527.3 85.5 L527.6 86.7 L528.0 87.6 L528.3 87.8 L528.6 87.6 L529.0 87.1 L529.3 86.2 L529.6 85.2 L529.9 84.2 L530.3 83.4 L530.6 82.8 L530.9 82.6 L531.2 82.8 L531.5 83.2 L531.7 83.9 L532.0 84.8 L532.3 85.6 L532.5 86.3 L532.8 86.8 L533.1 87.0 L533.4 86.7 L533.8 85.9 L534.2 84.8 L534.6 83.5 L535.0 82.1 L535.4 81.0 L535.7 80.2 L536.1 80.0 L536.5 80.3 L536.9 81.3 L537.3 82.8 L537.7 84.6 L538.0 86.3 L538.4 87.8 L538.8 88.8 L539.2 89.2 L539.6 88.9 L540.0 88.2 L540.3 87.1 L540.7 85.9 L541.1 84.6 L541.5 83.5 L541.9 82.8 L542.3 82.6 L542.6 82.7 L543.0 83.2 L543.4 83.8 L543.8 84.6 L544.2 85.3 L544.6 85.9 L544.9 86.4 L545.3 86.5 L545.7 86.4 L546.0 86.0 L546.3 85.4 L546.6 84.8 L547.0 84.1 L547.3 83.5 L547.6 83.2 L548.0 83.0 L548.4 83.2 L548.8 83.5 L549.3 84.1 L549.7 84.8 L550.1 85.4 L550.6 86.0 L551.0 86.4 L551.5 86.5 L551.9 86.4 L552.3 86.1 L552.8 85.7 L553.2 85.2 L553.6 84.7 L554.1 84.3 L554.5 84.0 L555.0 83.9 L555.5 83.9 L555.9 83.8 L556.4 83.6 L556.9 83.5 L557.4 83.3 L557.9 83.1 L558.4 83.1 L558.9 83.0 L559.3 83.2 L559.7 83.6 L560.1 84.2 L560.4 85.0 L560.8 85.7 L561.2 86.4 L561.6 86.8 L562.0 87.0 L562.4 86.8 L562.8 86.4 L563.3 85.9 L563.7 85.2 L564.2 84.5 L564.6 84.0 L565.0 83.6 L565.5 83.5 L565.9 83.5 L566.2 83.8 L566.6 84.1 L567.0 84.6 L567.4 85.0 L567.8 85.3 L568.2 85.6 L568.5 85.6 L569.0 85.5 L569.4 85.3 L569.9 84.8 L570.3 84.3 L570.7 83.8 L571.2 83.4 L571.6 83.1 L572.0 83.0 L572.4 83.0 L572.7 83.0 L573.0 82.9 L573.4 82.8 L573.7 82.7 L574.0 82.6 L574.3 82.6 L574.7 82.6 L575.1 82.8 L575.5 83.3 L576.0 84.1 L576.4 85.0 L576.9 85.9 L577.3 86.7 L577.7 87.2 L578.2 87.4 L578.8 87.3 L579.4 87.0 L580.0 86.5 L580.6 85.9 L581.2 85.3 L581.8 84.8 L582.4 84.5 L583.0 84.3" fill="none" stroke="#e64fd0" stroke-width="0.8" stroke-linejoin="round"/>
<path d="M476.5 83.0 L476.7 83.2 L477.0 83.7 L477.3 84.4 L477.6 85.2 L477.9 86.0 L478.2 86.8 L478.5 87.2 L478.8 87.4 L479.1 87.3 L479.4 87.1 L479.6 86.9 L479.9 86.5 L480.2 86.2 L480.5 85.9 L480.7 85.7 L481.0 85.6 L481.2 85.7 L481.4 85.9 L481.7 86.2 L481.9 86.5 L482.1 86.9 L482.3 87.1 L482.5 87.3 L482.8 87.4 L483.1 87.1 L483.4 86.1 L483.7 84.6 L484.1 82.8 L484.4 81.0 L484.7 79.6 L485.1 78.6 L485.4 78.2 L485.8 78.7 L486.2 80.1 L486.5 82.1 L486.9 84.6 L487.3 87.0 L487.7 89.0 L488.1 90.4 L488.5 90.9 L488.8 90.5 L489.1 89.4 L489.4 87.7 L489.8 85.6 L490.1 83.6 L490.4 81.9 L490.8 80.8 L491.1 80.4 L491.4 80.7 L491.7 81.4 L492.1 82.6 L492.4 83.9 L492.7 85.2 L493.1 86.4 L493.4 87.1 L493.7 87.4 L494.0 87.2 L494.4 86.6 L494.7 85.6 L495.0 84.6 L495.3 83.5 L495.7 82.5 L496.0 81.9 L496.3 81.7 L496.7 81.9 L497.0 82.3 L497.3 82.9 L497.6 83.7 L498.0 84.4 L498.3 85.1 L498.6 85.5 L499.0 85.6 L499.1 85.6 L499.3 85.4 L499.5 85.1 L499.6 84.8 L499.8 84.4 L499.9 84.2 L500.1 84.0 L500.3 83.9 L500.6 84.1 L500.8 84.7 L501.1 85.7 L501.4 86.7 L501.6 87.8 L501.9 88.8 L502.2 89.4 L502.5 89.6 L502.8 89.1 L503.2 87.6 L503.6 85.4 L504.0 82.8 L504.4 80.2 L504.8 78.0 L505.1 76.5 L505.5 76.0 L506.0 76.7 L506.4 78.6 L506.8 81.4 L507.3 84.8 L507.7 88.1 L508.2 91.0 L508.6 92.9 L509.0 93.5 L509.4 92.9 L509.7 91.2 L510.1 88.7 L510.4 85.6 L510.8 82.6 L511.1 80.1 L511.5 78.4 L511.8 77.8 L512.2 78.2 L512.6 79.3 L512.9 81.0 L513.3 83.0 L513.6 85.0 L514.0 86.7 L514.4 87.9 L514.7 88.3 L515.0 88.0 L515.3 87.2 L515.5 86.0 L515.8 84.6 L516.1 83.1 L516.4 81.9 L516.6 81.1 L516.9 80.8 L517.2 81.1 L517.6 82.1 L517.9 83.4 L518.2 85.0 L518.6 86.6 L518.9 87.9 L519.2 88.8 L519.5 89.2 L519.9 88.8 L520.2 87.9 L520.5 86.4 L520.9 84.8 L521.2 83.1 L521.5 81.7 L521.8 80.7 L522.2 80.4 L522.6 80.7 L522.9 81.5 L523.3 82.8 L523.7 84.3 L524.1 85.8 L524.5 87.1 L524.9 88.0 L525.2 88.3 L525.5 88.0 L525.8 87.3 L526.1 86.2 L526.3 85.0 L526.6 83.7 L526.9 82.7 L527.2 82.0 L527.4 81.7 L527.9 81.9 L528.3 82.5 L528.7 83.3 L529.2 84.3 L529.6 85.3 L530.1 86.2 L530.5 86.8 L530.9 87.0 L531.1 86.9 L531.4 86.7 L531.6 86.4 L531.8 86.1 L532.0 85.8 L532.2 85.5 L532.4 85.3 L532.6 85.2 L533.1 85.0 L533.5 84.6 L533.9 83.9 L534.4 83.0 L534.8 82.2 L535.3 81.5 L535.7 81.0 L536.1 80.8 L536.5 81.1 L536.8 82.0 L537.1 83.3 L537.4 84.8 L537.8 86.3 L538.1 87.6 L538.4 88.4 L538.8 88.7 L539.1 88.4 L539.5 87.7 L539.9 86.6 L540.3 85.2 L540.7 83.9 L541.1 82.7 L541.4 82.0 L541.8 81.7 L542.2 81.9 L542.6 82.3 L543.0 83.1 L543.4 83.9 L543.7 84.7 L544.1 85.4 L544.5 85.9 L544.9 86.1 L545.3 86.0 L545.7 85.7 L546.0 85.3 L546.4 84.8 L546.8 84.3 L547.2 83.8 L547.6 83.6 L548.0 83.5 L548.3 83.5 L548.7 83.8 L549.1 84.1 L549.5 84.6 L549.9 85.0 L550.3 85.3 L550.6 85.6 L551.0 85.6 L551.3 85.6 L551.6 85.5 L551.8 85.4 L552.1 85.2 L552.4 85.0 L552.7 84.9 L552.9 84.8 L553.2 84.8 L553.5 84.9 L553.9 85.2 L554.2 85.6 L554.5 86.1 L554.9 86.6 L555.2 87.0 L555.5 87.3 L555.8 87.4 L556.2 87.2 L556.5 86.4 L556.8 85.4 L557.2 84.1 L557.5 82.9 L557.8 81.8 L558.1 81.1 L558.5 80.8 L558.9 81.1 L559.3 81.9 L559.8 83.1 L560.2 84.6 L560.7 86.0 L561.1 87.2 L561.5 88.0 L562.0 88.3 L562.4 88.0 L562.7 87.3 L563.1 86.1 L563.5 84.8 L563.9 83.4 L564.3 82.3 L564.7 81.5 L565.0 81.3 L565.4 81.5 L565.8 82.2 L566.2 83.2 L566.6 84.3 L567.0 85.5 L567.3 86.5 L567.7 87.2 L568.1 87.4 L568.4 87.2 L568.8 86.6 L569.1 85.8 L569.4 84.8 L569.7 83.8 L570.1 82.9 L570.4 82.3 L570.7 82.1 L571.1 82.3 L571.4 82.7 L571.7 83.2 L572.0 83.9 L572.4 84.6 L572.7 85.1 L573.0 85.5 L573.4 85.6 L573.6 85.5 L573.9 85.3 L574.2 84.8 L574.5 84.3 L574.7 83.8 L575.0 83.4 L575.3 83.1 L575.5 83.0 L575.9 83.2 L576.3 83.6 L576.7 84.2 L577.1 85.0 L577.5 85.7 L577.8 86.4 L578.2 86.8 L578.6 87.0 L579.2 86.9 L579.7 86.6 L580.3 86.2 L580.8 85.6 L581.3 85.1 L581.9 84.7 L582.4 84.4 L583.0 84.3" fill="none" stroke="#222" stroke-width="0.85" stroke-linejoin="round"/>
</g>
<rect x="476.4" y="66.3" width="107.2" height="33.9" fill="none" stroke="#25b2e8" stroke-width="1.1"/>
<text x="620.2" y="14.0" textLength="49.4" lengthAdjust="spacingAndGlyphs" font-size="9.2" fill="#000" word-spacing="1.5">top view</text>
<line x1="475.9" y1="146.4" x2="494.5" y2="146.4" stroke="#555" stroke-width="0.75"/>
<text x="496.8" y="147.5" textLength="34.3" lengthAdjust="spacingAndGlyphs" font-size="9.2" fill="#000">SAM2</text>
<line x1="475.9" y1="153.3" x2="494.5" y2="153.3" stroke="#f48de6" stroke-width="0.75"/>
<text x="496.8" y="155.4" textLength="33.0" lengthAdjust="spacingAndGlyphs" font-size="9.2" fill="#000">CSRT</text>
<line x1="475.9" y1="162.3" x2="494.5" y2="162.3" stroke="#f9d59c" stroke-width="0.75"/>
<text x="496.8" y="163.5" textLength="26.8" lengthAdjust="spacingAndGlyphs" font-size="9.2" fill="#000">ECG</text>
<line x1="163.5" y1="223.5" x2="163.5" y2="383.4" stroke="#e3e3e3" stroke-width="0.7"/>
<line x1="197.4" y1="223.5" x2="197.4" y2="383.4" stroke="#e3e3e3" stroke-width="0.7"/>
<line x1="231.4" y1="223.5" x2="231.4" y2="383.4" stroke="#e3e3e3" stroke-width="0.7"/>
<line x1="265.3" y1="223.5" x2="265.3" y2="383.4" stroke="#e3e3e3" stroke-width="0.7"/>
<line x1="299.2" y1="223.5" x2="299.2" y2="383.4" stroke="#e3e3e3" stroke-width="0.7"/>
<line x1="333.1" y1="223.5" x2="333.1" y2="383.4" stroke="#e3e3e3" stroke-width="0.7"/>
<line x1="129.6" y1="383.4" x2="333.1" y2="383.4" stroke="#e3e3e3" stroke-width="0.7"/>
<line x1="129.6" y1="365.6" x2="333.1" y2="365.6" stroke="#e3e3e3" stroke-width="0.7"/>
<line x1="129.6" y1="347.9" x2="333.1" y2="347.9" stroke="#e3e3e3" stroke-width="0.7"/>
<line x1="129.6" y1="330.1" x2="333.1" y2="330.1" stroke="#e3e3e3" stroke-width="0.7"/>
<line x1="129.6" y1="312.3" x2="333.1" y2="312.3" stroke="#e3e3e3" stroke-width="0.7"/>
<line x1="129.6" y1="294.6" x2="333.1" y2="294.6" stroke="#e3e3e3" stroke-width="0.7"/>
<line x1="129.6" y1="276.8" x2="333.1" y2="276.8" stroke="#e3e3e3" stroke-width="0.7"/>
<line x1="129.6" y1="259.0" x2="333.1" y2="259.0" stroke="#e3e3e3" stroke-width="0.7"/>
<line x1="129.6" y1="241.3" x2="333.1" y2="241.3" stroke="#e3e3e3" stroke-width="0.7"/>
<line x1="129.6" y1="223.5" x2="333.1" y2="223.5" stroke="#e3e3e3" stroke-width="0.7"/>
<path d="M129.6 260.4 L129.7 261.2 L129.9 232.4 L130.0 258.2 L130.1 274.0 L130.3 266.6 L130.4 263.3 L130.5 254.8 L130.7 255.4 L130.8 274.6 L131.0 266.9 L131.1 242.6 L131.2 257.7 L131.4 241.8 L131.5 250.5 L131.6 261.2 L131.8 274.6 L131.9 260.3 L132.0 239.7 L132.2 293.4 L132.3 272.3 L132.4 254.6 L132.6 272.8 L132.7 276.9 L132.9 274.9 L133.0 258.6 L133.1 299.5 L133.3 249.7 L133.4 263.5 L133.5 313.7 L133.7 281.4 L133.8 282.7 L133.9 287.2 L134.1 297.4 L134.2 288.2 L134.3 260.6 L134.5 264.7 L134.6 274.1 L134.8 274.7 L134.9 288.6 L135.0 279.6 L135.2 271.9 L135.3 275.1 L135.4 269.8 L135.6 280.7 L135.7 277.4 L135.8 273.8 L136.0 282.3 L136.1 275.0 L136.2 274.5 L136.4 277.9 L136.5 270.4 L136.7 263.7 L136.8 278.1 L136.9 299.1 L137.1 297.7 L137.2 269.0 L137.3 281.8 L137.5 271.6 L137.6 255.0 L137.7 283.9 L137.9 261.3 L138.0 287.8 L138.1 288.5 L138.3 294.2 L138.4 282.4 L138.6 271.1 L138.7 271.1 L138.8 280.1 L139.0 301.5 L139.1 285.5 L139.2 290.9 L139.4 281.0 L139.5 289.6 L139.6 272.4 L139.8 271.0 L139.9 270.8 L140.0 273.0 L140.2 261.8 L140.3 276.8 L140.5 308.1 L140.6 287.6 L140.7 264.0 L140.9 262.8 L141.0 301.5 L141.1 295.9 L141.3 261.1 L141.4 276.8 L141.5 258.7 L141.7 259.0 L141.8 280.1 L141.9 287.0 L142.1 298.1 L142.2 278.2 L142.4 306.2 L142.5 281.0 L142.6 281.6 L142.8 268.6 L142.9 280.0 L143.0 298.4 L143.2 280.4 L143.3 292.0 L143.4 272.6 L143.6 296.3 L143.7 284.9 L143.8 284.9 L144.0 280.2 L144.1 304.1 L144.3 275.1 L144.4 277.2 L144.5 286.9 L144.7 266.0 L144.8 280.3 L144.9 268.9 L145.1 308.3 L145.2 277.3 L145.3 284.7 L145.5 273.6 L145.6 267.8 L145.7 284.8 L145.9 290.8 L146.0 289.8 L146.2 309.6 L146.3 297.6 L146.4 301.0 L146.6 284.7 L146.7 289.4 L146.8 291.0 L147.0 319.8 L147.1 307.6 L147.2 292.9 L147.4 291.0 L147.5 232.4 L147.6 306.2 L147.8 309.1 L147.9 299.9 L148.1 280.3 L148.2 277.4 L148.3 281.6 L148.5 264.4 L148.6 269.3 L148.7 276.6 L148.9 287.4 L149.0 282.5 L149.1 293.5 L149.3 280.2 L149.4 267.1 L149.5 292.8 L149.7 285.2 L149.8 289.2 L149.9 304.4 L150.1 306.1 L150.2 313.6 L150.4 280.5 L150.5 274.6 L150.6 274.6 L150.8 310.0 L150.9 302.1 L151.0 275.8 L151.2 289.1 L151.3 270.4 L151.4 269.4 L151.6 344.9 L151.7 303.9 L151.8 295.0 L152.0 301.7 L152.1 322.7 L152.3 301.3 L152.4 296.7 L152.5 274.7 L152.7 287.7 L152.8 287.4 L152.9 288.6 L153.1 302.5 L153.2 265.7 L153.3 265.5 L153.5 252.1 L153.6 273.6 L153.7 277.2 L153.9 296.9 L154.0 291.9 L154.2 296.0 L154.3 296.4 L154.4 276.9 L154.6 281.0 L154.7 290.6 L154.8 263.1 L155.0 296.4 L155.1 309.8 L155.2 308.6 L155.4 315.4 L155.5 276.6 L155.6 292.7 L155.8 286.4 L155.9 270.3 L156.1 259.8 L156.2 279.4 L156.3 273.4 L156.5 291.6 L156.6 289.0 L156.7 286.0 L156.9 302.7 L157.0 263.3 L157.1 300.7 L157.3 247.8 L157.4 294.3 L157.5 294.4 L157.7 291.9 L157.8 268.7 L158.0 282.9 L158.1 296.7 L158.2 278.8 L158.4 262.2 L158.5 272.3 L158.6 274.2 L158.8 276.8 L158.9 279.0 L159.0 273.3 L159.2 288.8 L159.3 277.0 L159.4 273.2 L159.6 303.1 L159.7 278.7 L159.9 284.0 L160.0 268.7 L160.1 292.6 L160.3 292.8 L160.4 289.5 L160.5 294.4 L160.7 342.9 L160.8 292.0 L160.9 271.5 L161.1 285.5 L161.2 277.7 L161.3 271.5 L161.5 272.6 L161.6 276.5 L161.8 280.7 L161.9 286.5 L162.0 297.9 L162.2 293.4 L162.3 297.5 L162.4 274.1 L162.6 284.6 L162.7 290.3 L162.8 260.4 L163.0 285.4 L163.1 275.2 L163.2 305.1 L163.4 295.4 L163.5 301.1 L163.7 313.1 L163.8 295.4 L163.9 296.9 L164.1 303.5 L164.2 298.5 L164.3 271.3 L164.5 303.4 L164.6 275.7 L164.7 273.6 L164.9 278.0 L165.0 295.0 L165.1 303.5 L165.3 282.6 L165.4 269.0 L165.6 298.4 L165.7 291.0 L165.8 285.2 L166.0 276.1 L166.1 296.4 L166.2 287.6 L166.4 274.1 L166.5 301.5 L166.6 291.0 L166.8 308.1 L166.9 292.3 L167.0 289.3 L167.2 293.8 L167.3 301.1 L167.5 297.8 L167.6 238.4 L167.7 284.5 L167.9 275.4 L168.0 300.9 L168.1 292.5 L168.3 308.3 L168.4 302.2 L168.5 293.8 L168.7 300.9 L168.8 310.9 L168.9 291.1 L169.1 284.3 L169.2 290.8 L169.4 275.8 L169.5 285.4 L169.6 279.2 L169.8 281.9 L169.9 288.0 L170.0 303.2 L170.2 280.7 L170.3 292.7 L170.4 302.4 L170.6 306.8 L170.7 298.4 L170.8 317.6 L171.0 281.7 L171.1 278.8 L171.2 275.4 L171.4 286.0 L171.5 282.6 L171.7 271.9 L171.8 280.3 L171.9 270.0 L172.1 285.8 L172.2 278.4 L172.3 300.4 L172.5 306.6 L172.6 303.1 L172.7 302.2 L172.9 302.3 L173.0 312.0 L173.1 310.2 L173.3 304.6 L173.4 288.5 L173.6 273.1 L173.7 290.7 L173.8 281.4 L174.0 282.4 L174.1 290.1 L174.2 311.8 L174.4 295.3 L174.5 274.2 L174.6 321.1 L174.8 294.9 L174.9 288.2 L175.0 308.0 L175.2 310.5 L175.3 293.3 L175.5 297.4 L175.6 288.6 L175.7 291.7 L175.9 302.4 L176.0 296.9 L176.1 304.6 L176.3 277.9 L176.4 295.5 L176.5 301.0 L176.7 287.9 L176.8 279.9 L176.9 295.3 L177.1 278.9 L177.2 253.1 L177.4 282.5 L177.5 272.5 L177.6 290.0 L177.8 316.4 L177.9 302.9 L178.0 270.7 L178.2 307.3 L178.3 293.7 L178.4 304.4 L178.6 293.8 L178.7 309.6 L178.8 301.7 L179.0 260.9 L179.1 269.0 L179.3 280.8 L179.4 290.7 L179.5 283.0 L179.7 303.1 L179.8 286.7 L179.9 287.5 L180.1 300.4 L180.2 260.6 L180.3 283.4 L180.5 266.9 L180.6 290.7 L180.7 308.1 L180.9 316.0 L181.0 273.3 L181.2 272.1 L181.3 304.9 L181.4 276.7 L181.6 302.2 L181.7 258.3 L181.8 294.7 L182.0 285.9 L182.1 290.8 L182.2 294.4 L182.4 273.2 L182.5 298.4 L182.6 309.4 L182.8 280.1 L182.9 318.1 L183.1 318.5 L183.2 334.3 L183.3 301.8 L183.5 291.9 L183.6 274.5 L183.7 298.5 L183.9 292.2 L184.0 311.1 L184.1 300.3 L184.3 287.6 L184.4 279.1 L184.5 309.7 L184.7 300.8 L184.8 283.7 L185.0 284.1 L185.1 305.1 L185.2 298.7 L185.4 313.0 L185.5 286.6 L185.6 296.7 L185.8 285.4 L185.9 310.1 L186.0 291.5 L186.2 292.0 L186.3 331.2 L186.4 289.8 L186.6 292.9 L186.7 251.3 L186.9 278.7 L187.0 310.4 L187.1 302.9 L187.3 304.5 L187.4 281.2 L187.5 309.2 L187.7 269.0 L187.8 303.7 L187.9 301.9 L188.1 298.1 L188.2 299.1 L188.3 271.2 L188.5 277.0 L188.6 289.2 L188.8 306.8 L188.9 299.5 L189.0 251.9 L189.2 307.7 L189.3 312.0 L189.4 308.2 L189.6 306.6 L189.7 310.8 L189.8 300.0 L190.0 288.1 L190.1 299.0 L190.2 287.5 L190.4 265.0 L190.5 307.0 L190.7 312.3 L190.8 302.7 L190.9 275.5 L191.1 274.2 L191.2 309.4 L191.3 293.8 L191.5 290.4 L191.6 331.4 L191.7 297.4 L191.9 319.9 L192.0 303.1 L192.1 295.7 L192.3 321.1 L192.4 298.2 L192.5 305.9 L192.7 283.4 L192.8 271.0 L193.0 293.5 L193.1 255.6 L193.2 285.2 L193.4 289.8 L193.5 315.4 L193.6 310.4 L193.8 309.3 L193.9 292.6 L194.0 313.2 L194.2 281.4 L194.3 280.6 L194.4 296.0 L194.6 292.0 L194.7 266.1 L194.9 285.9 L195.0 322.1 L195.1 305.3 L195.3 298.4 L195.4 289.5 L195.5 294.9 L195.7 267.0 L195.8 288.0 L195.9 288.6 L196.1 276.2 L196.2 283.4 L196.3 306.3 L196.5 296.2 L196.6 291.4 L196.8 288.5 L196.9 282.1 L197.0 304.8 L197.2 287.6 L197.3 298.2 L197.4 278.8 L197.6 270.8 L197.7 308.2 L197.8 291.5 L198.0 292.9 L198.1 304.8 L198.2 309.5 L198.4 294.1 L198.5 273.0 L198.7 280.7 L198.8 294.4 L198.9 271.8 L199.1 277.5 L199.2 299.0 L199.3 296.5 L199.5 320.0 L199.6 313.7 L199.7 302.4 L199.9 299.5 L200.0 290.2 L200.1 290.3 L200.3 282.9 L200.4 282.0 L200.6 306.2 L200.7 305.7 L200.8 303.6 L201.0 329.7 L201.1 296.2 L201.2 284.1 L201.4 310.7 L201.5 293.8 L201.6 276.7 L201.8 293.7 L201.9 306.0 L202.0 314.6 L202.2 303.6 L202.3 297.4 L202.5 292.8 L202.6 305.2 L202.7 290.8 L202.9 321.5 L203.0 309.3 L203.1 304.4 L203.3 307.2 L203.4 293.6 L203.5 306.3 L203.7 334.1 L203.8 291.9 L203.9 288.2 L204.1 297.9 L204.2 310.6 L204.4 298.8 L204.5 326.2 L204.6 314.7 L204.8 300.1 L204.9 306.9 L205.0 328.5 L205.2 297.2 L205.3 282.5 L205.4 265.3 L205.6 299.0 L205.7 284.1 L205.8 314.7 L206.0 341.1 L206.1 309.7 L206.3 309.3 L206.4 305.4 L206.5 314.9 L206.7 311.9 L206.8 307.9 L206.9 296.3 L207.1 311.0 L207.2 318.6 L207.3 285.8 L207.5 359.7 L207.6 288.1 L207.7 297.6 L207.9 285.7 L208.0 304.2 L208.2 361.1 L208.3 306.2 L208.4 296.2 L208.6 269.0 L208.7 288.9 L208.8 293.6 L209.0 315.2 L209.1 286.7 L209.2 290.1 L209.4 312.2 L209.5 290.1 L209.6 305.2 L209.8 292.3 L209.9 326.8 L210.1 325.5 L210.2 297.4 L210.3 319.8 L210.5 313.6 L210.6 270.8 L210.7 315.8 L210.9 307.5 L211.0 325.9 L211.1 295.2 L211.3 316.4 L211.4 292.2 L211.5 318.9 L211.7 267.2 L211.8 309.2 L211.9 275.5 L212.1 307.0 L212.2 301.8 L212.4 305.8 L212.5 309.2 L212.6 300.1 L212.8 298.4 L212.9 286.4 L213.0 277.5 L213.2 267.0 L213.3 292.7 L213.4 328.7 L213.6 288.0 L213.7 325.1 L213.8 278.7 L214.0 303.8 L214.1 271.2 L214.3 297.8 L214.4 289.3 L214.5 274.7 L214.7 277.7 L214.8 350.3 L214.9 360.7 L215.1 302.5 L215.2 325.3 L215.3 297.7 L215.5 293.2 L215.6 275.3 L215.7 305.4 L215.9 314.4 L216.0 326.3 L216.2 297.3 L216.3 305.9 L216.4 329.2 L216.6 367.1 L216.7 295.9 L216.8 334.9 L217.0 292.8 L217.1 293.3 L217.2 307.6 L217.4 373.2 L217.5 318.0 L217.6 317.8 L217.8 297.1 L217.9 288.3 L218.1 316.7 L218.2 293.9 L218.3 320.5 L218.5 284.5 L218.6 337.1 L218.7 286.6 L218.9 296.4 L219.0 360.1 L219.1 295.7 L219.3 300.4 L219.4 319.1 L219.5 304.6 L219.7 302.7 L219.8 314.2 L220.0 293.8 L220.1 316.6 L220.2 311.7 L220.4 293.1 L220.5 291.4 L220.6 273.7 L220.8 313.5 L220.9 271.4 L221.0 277.2 L221.2 338.7 L221.3 293.6 L221.4 289.1 L221.6 319.6 L221.7 304.3 L221.9 300.6 L222.0 296.8 L222.1 302.2 L222.3 327.1 L222.4 298.8 L222.5 346.0 L222.7 286.9 L222.8 285.5 L222.9 322.3 L223.1 313.6 L223.2 318.5 L223.3 309.6 L223.5 322.1 L223.6 330.1 L223.8 322.0 L223.9 356.8 L224.0 294.0 L224.2 374.5 L224.3 321.8 L224.4 314.1 L224.6 306.0 L224.7 287.8 L224.8 298.7 L225.0 312.9 L225.1 343.5 L225.2 289.4 L225.4 282.7 L225.5 310.0 L225.7 305.8 L225.8 288.7 L225.9 316.7 L226.1 337.7 L226.2 304.8 L226.3 322.9 L226.5 312.2 L226.6 267.0 L226.7 280.1 L226.9 301.0 L227.0 343.3 L227.1 297.1 L227.3 284.6 L227.4 309.4 L227.6 310.3 L227.7 292.4 L227.8 285.2 L228.0 299.5 L228.1 322.5 L228.2 306.6 L228.4 310.9 L228.5 316.9 L228.6 288.0 L228.8 294.5 L228.9 299.7 L229.0 294.4 L229.2 312.7 L229.3 334.3 L229.5 307.4 L229.6 280.5 L229.7 304.6 L229.9 312.3 L230.0 325.0 L230.1 304.3 L230.3 302.4 L230.4 282.1 L230.5 312.1 L230.7 285.6 L230.8 317.8 L230.9 303.2 L231.1 303.4 L231.2 308.3 L231.4 329.2 L231.5 292.8 L231.6 291.2 L231.8 280.6 L231.9 282.0 L232.0 273.9 L232.2 320.2 L232.3 278.2 L232.4 296.8 L232.6 288.6 L232.7 327.1 L232.8 308.4 L233.0 298.8 L233.1 291.8 L233.2 280.0 L233.4 313.2 L233.5 311.9 L233.7 304.6 L233.8 302.1 L233.9 321.9 L234.1 322.9 L234.2 334.3 L234.3 322.8 L234.5 301.7 L234.6 310.7 L234.7 327.2 L234.9 302.3 L235.0 304.0 L235.1 297.7 L235.3 308.7 L235.4 289.1 L235.6 300.5 L235.7 322.6 L235.8 312.4 L236.0 305.4 L236.1 300.3 L236.2 297.3 L236.4 291.9 L236.5 292.3 L236.6 287.6 L236.8 289.4 L236.9 304.8 L237.0 282.5 L237.2 305.0 L237.3 295.0 L237.5 297.2 L237.6 289.3 L237.7 289.6 L237.9 304.7 L238.0 291.0 L238.1 299.7 L238.3 289.5 L238.4 323.9 L238.5 306.6 L238.7 308.7 L238.8 303.3 L238.9 315.5 L239.1 308.1 L239.2 293.7 L239.4 303.6 L239.5 303.6 L239.6 317.7 L239.8 324.4 L239.9 292.2 L240.0 294.7 L240.2 298.3 L240.3 289.9 L240.4 294.5 L240.6 318.9 L240.7 285.2 L240.8 297.1 L241.0 305.2 L241.1 312.6 L241.3 320.7 L241.4 307.8 L241.5 296.5 L241.7 288.3 L241.8 310.9 L241.9 278.0 L242.1 311.2 L242.2 286.7 L242.3 303.0 L242.5 311.2 L242.6 285.9 L242.7 316.0 L242.9 313.8 L243.0 310.1 L243.2 292.4 L243.3 294.6 L243.4 296.9 L243.6 287.2 L243.7 320.2 L243.8 306.5 L244.0 287.0 L244.1 337.1 L244.2 312.0 L244.4 304.2 L244.5 277.3 L244.6 285.6 L244.8 288.9 L244.9 302.1 L245.1 300.8 L245.2 272.8 L245.3 306.8 L245.5 307.4 L245.6 285.5 L245.7 292.7 L245.9 310.7 L246.0 289.1 L246.1 311.4 L246.3 320.9 L246.4 275.4 L246.5 306.2 L246.7 296.9 L246.8 298.9 L247.0 307.6 L247.1 303.3 L247.2 322.6 L247.4 314.4 L247.5 295.1 L247.6 288.3 L247.8 289.6 L247.9 290.8 L248.0 298.9 L248.2 292.0 L248.3 297.6 L248.4 349.2 L248.6 305.3 L248.7 308.2 L248.9 318.2 L249.0 303.2 L249.1 288.9 L249.3 276.2 L249.4 309.6 L249.5 280.2 L249.7 303.6 L249.8 315.2 L249.9 280.9 L250.1 293.3 L250.2 295.8 L250.3 307.6 L250.5 293.8 L250.6 312.8 L250.8 293.5 L250.9 320.3 L251.0 295.7 L251.2 273.8 L251.3 289.4 L251.4 278.7 L251.6 265.2 L251.7 282.8 L251.8 310.3 L252.0 299.3 L252.1 307.4 L252.2 281.4 L252.4 291.7 L252.5 294.4 L252.6 317.5 L252.8 288.9 L252.9 297.0 L253.1 291.7 L253.2 300.2 L253.3 304.8 L253.5 295.8 L253.6 290.4 L253.7 295.1 L253.9 297.0 L254.0 301.8 L254.1 299.2 L254.3 288.5 L254.4 310.3 L254.5 313.4 L254.7 301.9 L254.8 280.4 L255.0 319.4 L255.1 288.3 L255.2 340.8 L255.4 305.9 L255.5 289.2 L255.6 298.1 L255.8 286.2 L255.9 282.0 L256.0 315.8 L256.2 293.8 L256.3 284.4 L256.4 294.7 L256.6 279.0 L256.7 289.7 L256.9 296.6 L257.0 310.1 L257.1 302.6 L257.3 299.1 L257.4 289.0 L257.5 299.8 L257.7 305.8 L257.8 289.5 L257.9 279.0 L258.1 288.3 L258.2 315.1 L258.3 305.5 L258.5 308.7 L258.6 304.5 L258.8 300.9 L258.9 287.3 L259.0 311.2 L259.2 280.3 L259.3 285.5 L259.4 297.3 L259.6 303.9 L259.7 292.3 L259.8 311.3 L260.0 278.2 L260.1 285.9 L260.2 318.6 L260.4 292.0 L260.5 300.7 L260.7 309.2 L260.8 311.0 L260.9 289.7 L261.1 298.4 L261.2 305.1 L261.3 289.9 L261.5 298.8 L261.6 310.0 L261.7 266.7 L261.9 323.9 L262.0 319.2 L262.1 286.8 L262.3 299.2 L262.4 300.1 L262.6 309.3 L262.7 281.2 L262.8 293.1 L263.0 284.9 L263.1 279.9 L263.2 300.9 L263.4 301.2 L263.5 314.2 L263.6 289.0 L263.8 289.0 L263.9 299.6 L264.0 282.5 L264.2 295.8 L264.3 306.1 L264.5 315.0 L264.6 307.2 L264.7 306.5 L264.9 294.9 L265.0 285.3 L265.1 255.3 L265.3 325.4 L265.4 306.6 L265.5 298.4 L265.7 331.2 L265.8 299.1 L265.9 304.9 L266.1 301.2 L266.2 294.2 L266.4 308.7 L266.5 301.1 L266.6 297.5 L266.8 292.6 L266.9 307.1 L267.0 297.8 L267.2 306.1 L267.3 292.5 L267.4 302.6 L267.6 296.6 L267.7 301.8 L267.8 317.4 L268.0 300.2 L268.1 289.9 L268.3 267.2 L268.4 297.4 L268.5 279.0 L268.7 297.0 L268.8 299.4 L268.9 305.7 L269.1 285.4 L269.2 283.6 L269.3 300.0 L269.5 281.0 L269.6 301.8 L269.7 304.1 L269.9 290.6 L270.0 288.0 L270.2 333.8 L270.3 286.5 L270.4 286.3 L270.6 305.2 L270.7 288.0 L270.8 294.6 L271.0 296.9 L271.1 296.3 L271.2 299.9 L271.4 293.3 L271.5 300.5 L271.6 296.6 L271.8 298.5 L271.9 298.8 L272.1 295.0 L272.2 283.8 L272.3 288.4 L272.5 280.5 L272.6 292.9 L272.7 305.6 L272.9 289.1 L273.0 294.0 L273.1 296.7 L273.3 297.3 L273.4 306.5 L273.5 310.1 L273.7 297.1 L273.8 317.5 L273.9 315.9 L274.1 301.4 L274.2 309.0 L274.4 309.8 L274.5 297.2 L274.6 301.2 L274.8 301.9 L274.9 288.5 L275.0 283.7 L275.2 293.3 L275.3 280.4 L275.4 300.9 L275.6 274.2 L275.7 290.0 L275.8 289.7 L276.0 306.3 L276.1 291.4 L276.3 297.9 L276.4 295.1 L276.5 288.0 L276.7 300.9 L276.8 324.2 L276.9 285.7 L277.1 288.4 L277.2 289.3 L277.3 311.9 L277.5 292.7 L277.6 305.5 L277.7 289.6 L277.9 297.0 L278.0 291.9 L278.2 279.8 L278.3 310.0 L278.4 280.9 L278.6 282.9 L278.7 288.4 L278.8 309.0 L279.0 296.4 L279.1 277.7 L279.2 296.7 L279.4 294.2 L279.5 285.0 L279.6 299.8 L279.8 296.1 L279.9 294.2 L280.1 306.1 L280.2 285.7 L280.3 276.5 L280.5 266.7 L280.6 302.0 L280.7 298.1 L280.9 304.7 L281.0 286.5 L281.1 302.7 L281.3 269.8 L281.4 307.0 L281.5 290.9 L281.7 304.3 L281.8 304.2 L282.0 313.1 L282.1 301.6 L282.2 289.2 L282.4 284.0 L282.5 298.0 L282.6 317.5 L282.8 262.3 L282.9 323.3 L283.0 293.1 L283.2 291.5 L283.3 301.7 L283.4 307.7 L283.6 297.6 L283.7 282.3 L283.9 292.5 L284.0 295.9 L284.1 283.1 L284.3 299.5 L284.4 291.4 L284.5 296.9 L284.7 316.3 L284.8 299.8 L284.9 274.7 L285.1 293.7 L285.2 271.6 L285.3 289.1 L285.5 287.3 L285.6 303.4 L285.8 300.4 L285.9 276.9 L286.0 297.6 L286.2 277.7 L286.3 292.0 L286.4 259.9 L286.6 313.0 L286.7 293.8 L286.8 301.8 L287.0 308.0 L287.1 296.0 L287.2 284.6 L287.4 275.9 L287.5 260.1 L287.7 286.9 L287.8 289.4 L287.9 307.8 L288.1 311.1 L288.2 292.8 L288.3 310.5 L288.5 281.0 L288.6 270.7 L288.7 277.4 L288.9 311.1 L289.0 293.6 L289.1 277.0 L289.3 296.3 L289.4 311.6 L289.6 247.3 L289.7 296.4 L289.8 290.9 L290.0 286.5 L290.1 295.2 L290.2 272.1 L290.4 292.5 L290.5 292.6 L290.6 285.8 L290.8 291.9 L290.9 294.0 L291.0 290.4 L291.2 313.2 L291.3 278.9 L291.5 305.7 L291.6 313.3 L291.7 291.6 L291.9 283.6 L292.0 286.5 L292.1 305.3 L292.3 310.2 L292.4 295.9 L292.5 292.9 L292.7 287.1 L292.8 296.2 L292.9 292.9 L293.1 305.2 L293.2 306.9 L293.3 276.4 L293.5 277.0 L293.6 279.9 L293.8 279.9 L293.9 298.1 L294.0 296.3 L294.2 304.3 L294.3 283.8 L294.4 273.5 L294.6 293.1 L294.7 284.1 L294.8 292.2 L295.0 273.1 L295.1 302.9 L295.2 304.7 L295.4 295.6 L295.5 288.9 L295.7 292.4 L295.8 265.7 L295.9 297.4 L296.1 287.6 L296.2 282.6 L296.3 284.2 L296.5 295.1 L296.6 281.2 L296.7 291.0 L296.9 301.8 L297.0 272.2 L297.1 316.2 L297.3 306.8 L297.4 305.6 L297.6 297.5 L297.7 284.8 L297.8 298.2 L298.0 280.5 L298.1 278.9 L298.2 277.2 L298.4 292.5 L298.5 267.4 L298.6 283.0 L298.8 281.9 L298.9 289.9 L299.0 300.8 L299.2 287.5 L299.3 290.5 L299.5 298.7 L299.6 304.5 L299.7 280.5 L299.9 300.9 L300.0 289.8 L300.1 287.6 L300.3 298.9 L300.4 280.3 L300.5 301.7 L300.7 314.8 L300.8 289.6 L300.9 289.7 L301.1 296.0 L301.2 286.0 L301.4 282.2 L301.5 286.1 L301.6 277.7 L301.8 302.2 L301.9 292.8 L302.0 297.2 L302.2 289.5 L302.3 287.1 L302.4 271.3 L302.6 294.0 L302.7 279.6 L302.8 286.6 L303.0 280.2 L303.1 299.7 L303.3 303.4 L303.4 294.1 L303.5 317.1 L303.7 298.4 L303.8 301.7 L303.9 273.6 L304.1 303.6 L304.2 297.3 L304.3 311.0 L304.5 289.0 L304.6 276.5 L304.7 289.9 L304.9 278.2 L305.0 273.8 L305.2 286.5 L305.3 258.6 L305.4 299.8 L305.6 291.5 L305.7 306.9 L305.8 282.0 L306.0 255.6 L306.1 293.5 L306.2 281.8 L306.4 292.5 L306.5 272.7 L306.6 301.2 L306.8 273.5 L306.9 291.0 L307.1 304.2 L307.2 274.5 L307.3 246.3 L307.5 271.3 L307.6 264.5 L307.7 273.5 L307.9 300.4 L308.0 268.2 L308.1 287.0 L308.3 270.3 L308.4 277.6 L308.5 287.5 L308.7 298.6 L308.8 291.0 L309.0 276.9 L309.1 299.3 L309.2 260.3 L309.4 288.7 L309.5 308.5 L309.6 287.9 L309.8 303.2 L309.9 273.9 L310.0 284.2 L310.2 311.7 L310.3 276.3 L310.4 280.4 L310.6 285.8 L310.7 294.2 L310.9 289.4 L311.0 253.4 L311.1 305.8 L311.3 275.9 L311.4 273.2 L311.5 291.0 L311.7 298.4 L311.8 307.2 L311.9 276.7 L312.1 300.0 L312.2 277.7 L312.3 264.8 L312.5 256.3 L312.6 288.4 L312.8 263.2 L312.9 262.6 L313.0 301.3 L313.2 314.3 L313.3 292.8 L313.4 269.3 L313.6 274.9 L313.7 293.7 L313.8 303.7 L314.0 304.1 L314.1 319.8 L314.2 285.4 L314.4 285.4 L314.5 266.7 L314.6 260.9 L314.8 324.1 L314.9 272.9 L315.1 273.5 L315.2 287.7 L315.3 282.3 L315.5 288.0 L315.6 294.9 L315.7 267.3 L315.9 278.3 L316.0 261.7 L316.1 288.2 L316.3 282.7 L316.4 284.2 L316.5 288.5 L316.7 291.5 L316.8 272.4 L317.0 290.8 L317.1 263.7 L317.2 259.4 L317.4 290.7 L317.5 265.1 L317.6 276.7 L317.8 282.1 L317.9 309.6 L318.0 283.6 L318.2 270.9 L318.3 287.5 L318.4 272.3 L318.6 249.9 L318.7 274.9 L318.9 272.4 L319.0 271.0 L319.1 263.3 L319.3 289.4 L319.4 277.3 L319.5 290.4 L319.7 286.3 L319.8 293.9 L319.9 284.1 L320.1 284.3 L320.2 282.0 L320.3 267.8 L320.5 283.7 L320.6 295.9 L320.8 292.2 L320.9 294.3 L321.0 277.4 L321.2 264.5 L321.3 286.9 L321.4 276.5 L321.6 265.1 L321.7 270.8 L321.8 283.1 L322.0 273.2 L322.1 285.6 L322.2 262.7 L322.4 286.0 L322.5 259.8 L322.7 282.8 L322.8 268.0 L322.9 273.5 L323.1 279.4 L323.2 285.4 L323.3 305.4 L323.5 296.2 L323.6 291.6 L323.7 288.3 L323.9 301.1 L324.0 254.4 L324.1 276.0 L324.3 287.7 L324.4 270.5 L324.6 279.5 L324.7 292.2 L324.8 281.3 L325.0 277.1 L325.1 272.4 L325.2 299.4 L325.4 272.6 L325.5 275.1 L325.6 279.5 L325.8 277.5 L325.9 266.7 L326.0 272.7 L326.2 282.4 L326.3 270.2 L326.5 254.7 L326.6 279.6 L326.7 287.8 L326.9 332.1 L327.0 282.9 L327.1 273.1 L327.3 268.4 L327.4 268.1 L327.5 280.1 L327.7 275.7 L327.8 266.4 L327.9 279.4 L328.1 320.6 L328.2 241.8 L328.4 270.4 L328.5 276.3 L328.6 269.9 L328.8 256.9 L328.9 300.8 L329.0 297.2 L329.2 283.7 L329.3 310.0 L329.4 277.8 L329.6 263.9 L329.7 288.1 L329.8 276.1 L330.0 248.5 L330.1 275.4 L330.3 293.6 L330.4 281.6 L330.5 252.6 L330.7 271.6 L330.8 289.4 L330.9 269.3 L331.1 265.5 L331.2 254.9 L331.3 256.2 L331.5 249.0 L331.6 296.6 L331.7 303.2 L331.9 273.5 L332.0 282.1 L332.2 287.9 L332.3 281.2 L332.4 277.3 L332.6 274.9 L332.7 303.5 L332.8 275.5 L333.0 278.5 L333.1 284.8" fill="none" stroke="#000" stroke-width="0.5" stroke-linejoin="round"/>
<path d="M129.6 225.8 L129.8 235.8 L130.1 237.7 L130.3 246.4 L130.5 257.0 L130.7 256.0 L131.0 260.9 L131.2 267.5 L131.4 267.7 L131.6 276.5 L131.9 271.4 L132.1 275.1 L132.3 284.6 L132.5 272.1 L132.8 284.7 L133.0 281.5 L133.2 277.5 L133.4 284.5 L133.7 282.9 L133.9 291.7 L134.1 286.1 L134.3 285.1 L134.6 290.3 L134.8 290.3 L135.0 297.3 L135.3 280.1 L135.5 294.4 L135.7 300.0 L135.9 302.9 L136.2 296.4 L136.4 293.5 L136.6 296.7 L136.8 297.4 L137.1 289.3 L137.3 300.7 L137.5 304.1 L137.7 300.1 L138.0 292.3 L138.2 288.1 L138.4 295.7 L138.6 301.3 L138.9 299.3 L139.1 303.2 L139.3 294.9 L139.5 308.8 L139.8 301.0 L140.0 294.5 L140.2 299.7 L140.5 303.6 L140.7 296.7 L140.9 297.0 L141.1 293.5 L141.4 293.4 L141.6 295.7 L141.8 296.5 L142.0 299.8 L142.3 291.4 L142.5 295.2 L142.7 299.4 L142.9 291.2 L143.2 292.0 L143.4 304.0 L143.6 302.1 L143.8 304.9 L144.1 299.0 L144.3 305.5 L144.5 300.1 L144.7 295.6 L145.0 301.1 L145.2 299.0 L145.4 291.7 L145.7 286.8 L145.9 291.0 L146.1 294.6 L146.3 298.3 L146.6 298.9 L146.8 293.9 L147.0 309.8 L147.2 302.0 L147.5 297.7 L147.7 288.2 L147.9 299.2 L148.1 288.2 L148.4 289.5 L148.6 296.9 L148.8 299.7 L149.0 302.2 L149.3 295.5 L149.5 289.0 L149.7 305.0 L149.9 292.2 L150.2 292.3 L150.4 304.1 L150.6 300.2 L150.9 295.0 L151.1 292.3 L151.3 288.1 L151.5 301.4 L151.8 294.4 L152.0 289.8 L152.2 285.2 L152.4 292.9 L152.7 293.7 L152.9 304.8 L153.1 294.4 L153.3 298.0 L153.6 301.8 L153.8 294.4 L154.0 280.5 L154.2 289.8 L154.5 298.7 L154.7 292.2 L154.9 285.3 L155.2 291.7 L155.4 283.5 L155.6 289.9 L155.8 312.4 L156.1 295.4 L156.3 298.0 L156.5 302.7 L156.7 300.4 L157.0 299.0 L157.2 298.6 L157.4 298.8 L157.6 289.6 L157.9 293.9 L158.1 293.0 L158.3 289.5 L158.5 294.9 L158.8 294.4 L159.0 279.6 L159.2 313.1 L159.4 301.3 L159.7 292.8 L159.9 295.1 L160.1 287.3 L160.4 291.5 L160.6 293.4 L160.8 293.9 L161.0 304.6 L161.3 300.2 L161.5 301.1 L161.7 298.4 L161.9 301.2 L162.2 298.6 L162.4 303.5 L162.6 303.3 L162.8 300.6 L163.1 299.2 L163.3 301.4 L163.5 307.6 L163.7 304.6 L164.0 296.1 L164.2 301.6 L164.4 297.7 L164.6 306.7 L164.9 302.5 L165.1 301.0 L165.3 308.6 L165.6 309.7 L165.8 307.3 L166.0 307.6 L166.2 311.5 L166.5 306.5 L166.7 302.0 L166.9 298.8 L167.1 297.8 L167.4 295.5 L167.6 300.3 L167.8 294.6 L168.0 297.7 L168.3 293.0 L168.5 293.4 L168.7 297.9 L168.9 294.2 L169.2 304.0 L169.4 305.4 L169.6 292.6 L169.8 304.6 L170.1 302.6 L170.3 311.3 L170.5 303.8 L170.8 307.1 L171.0 285.6 L171.2 298.0 L171.4 301.8 L171.7 295.2 L171.9 301.6 L172.1 294.8 L172.3 305.4 L172.6 293.0 L172.8 293.6 L173.0 306.8 L173.2 311.3 L173.5 301.7 L173.7 310.5 L173.9 305.1 L174.1 296.2 L174.4 302.4 L174.6 302.6 L174.8 303.7 L175.0 308.0 L175.3 302.3 L175.5 307.7 L175.7 295.7 L176.0 293.8 L176.2 299.6 L176.4 291.4 L176.6 295.1 L176.9 297.3 L177.1 299.5 L177.3 291.6 L177.5 295.7 L177.8 301.2 L178.0 296.9 L178.2 300.7 L178.4 294.6 L178.7 295.7 L178.9 293.7 L179.1 296.1 L179.3 300.6 L179.6 299.1 L179.8 292.1 L180.0 308.2 L180.2 307.7 L180.5 309.1 L180.7 306.6 L180.9 304.4 L181.2 312.0 L181.4 303.0 L181.6 297.2 L181.8 303.8 L182.1 302.7 L182.3 298.9 L182.5 301.5 L182.7 302.2 L183.0 293.5 L183.2 303.5 L183.4 291.3 L183.6 298.1 L183.9 295.6 L184.1 299.1 L184.3 300.4 L184.5 296.7 L184.8 301.3 L185.0 303.8 L185.2 289.9 L185.4 306.1 L185.7 288.7 L185.9 294.6 L186.1 294.8 L186.4 291.1 L186.6 290.9 L186.8 292.7 L187.0 305.6 L187.3 303.0 L187.5 297.1 L187.7 296.3 L187.9 297.1 L188.2 304.1 L188.4 298.3 L188.6 291.6 L188.8 299.9 L189.1 293.7 L189.3 304.6 L189.5 294.6 L189.7 287.1 L190.0 299.1 L190.2 291.1 L190.4 297.1 L190.7 298.2 L190.9 298.6 L191.1 302.2 L191.3 299.8 L191.6 298.4 L191.8 298.1 L192.0 299.7 L192.2 304.2 L192.5 298.1 L192.7 296.6 L192.9 297.7 L193.1 291.0 L193.4 300.9 L193.6 296.1 L193.8 293.1 L194.0 301.6 L194.3 295.8 L194.5 304.8 L194.7 292.7 L194.9 307.0 L195.2 309.3 L195.4 304.4 L195.6 296.5 L195.9 304.2 L196.1 296.6 L196.3 305.3 L196.5 307.4 L196.8 302.3 L197.0 298.0 L197.2 297.8 L197.4 302.5 L197.7 310.9 L197.9 301.3 L198.1 297.6 L198.3 289.5 L198.6 295.6 L198.8 293.6 L199.0 300.7 L199.2 302.6 L199.5 294.0 L199.7 297.6 L199.9 302.6 L200.1 300.5 L200.4 298.9 L200.6 301.8 L200.8 297.8 L201.1 293.8 L201.3 305.6 L201.5 288.4 L201.7 288.9 L202.0 292.6 L202.2 289.6 L202.4 307.8 L202.6 305.9 L202.9 306.6 L203.1 305.6 L203.3 306.8 L203.5 307.2 L203.8 301.2 L204.0 303.8 L204.2 306.5 L204.4 299.0 L204.7 293.7 L204.9 296.2 L205.1 293.9 L205.3 293.3 L205.6 287.2 L205.8 296.4 L206.0 297.5 L206.3 300.6 L206.5 306.5 L206.7 293.8 L206.9 293.9 L207.2 298.0 L207.4 299.5 L207.6 290.6 L207.8 292.6 L208.1 302.1 L208.3 297.7 L208.5 294.4 L208.7 295.2 L209.0 302.2 L209.2 289.6 L209.4 307.2 L209.6 304.9 L209.9 304.5 L210.1 300.9 L210.3 305.1 L210.5 307.5 L210.8 295.1 L211.0 300.0 L211.2 297.6 L211.5 296.7 L211.7 305.7 L211.9 306.4 L212.1 300.1 L212.4 299.9 L212.6 299.3 L212.8 294.6 L213.0 297.9 L213.3 302.3 L213.5 291.0 L213.7 300.6 L213.9 300.9 L214.2 307.5 L214.4 299.3 L214.6 309.0 L214.8 301.2 L215.1 299.6 L215.3 304.9 L215.5 306.3 L215.7 301.2 L216.0 302.2 L216.2 301.0 L216.4 308.7 L216.7 302.7 L216.9 304.2 L217.1 292.6 L217.3 296.1 L217.6 302.8 L217.8 297.4 L218.0 300.3 L218.2 299.6 L218.5 302.8 L218.7 294.7 L218.9 297.3 L219.1 303.6 L219.4 306.1 L219.6 294.8 L219.8 301.7 L220.0 292.7 L220.3 302.4 L220.5 311.0 L220.7 309.0 L220.9 311.5 L221.2 306.5 L221.4 302.7 L221.6 307.9 L221.9 301.9 L222.1 302.1 L222.3 301.2 L222.5 289.9 L222.8 293.0 L223.0 306.5 L223.2 295.8 L223.4 300.5 L223.7 307.5 L223.9 300.5 L224.1 312.7 L224.3 303.8 L224.6 303.7 L224.8 298.0 L225.0 305.9 L225.2 298.7 L225.5 305.8 L225.7 294.5 L225.9 292.8 L226.1 299.1 L226.4 320.0 L226.6 289.6 L226.8 313.5 L227.1 303.4 L227.3 293.8 L227.5 303.7 L227.7 304.7 L228.0 299.8 L228.2 306.0 L228.4 301.9 L228.6 300.3 L228.9 297.3 L229.1 305.7 L229.3 307.3 L229.5 312.0 L229.8 305.1 L230.0 300.3 L230.2 308.8 L230.4 301.2 L230.7 294.1 L230.9 300.0 L231.1 300.1 L231.4 293.9 L231.6 300.6 L231.8 304.3 L232.0 300.0 L232.3 299.3 L232.5 296.2 L232.7 308.2 L232.9 307.3 L233.2 302.1 L233.4 302.1 L233.6 293.9 L233.8 292.7 L234.1 307.1 L234.3 304.0 L234.5 300.5 L234.7 296.3 L235.0 297.4 L235.2 298.7 L235.4 311.4 L235.6 307.2 L235.9 304.1 L236.1 298.9 L236.3 294.8 L236.6 294.0 L236.8 300.2 L237.0 301.0 L237.2 303.4 L237.5 292.7 L237.7 296.4 L237.9 296.1 L238.1 293.7 L238.4 299.3 L238.6 300.8 L238.8 301.5 L239.0 299.7 L239.3 295.5 L239.5 297.5 L239.7 299.5 L239.9 289.5 L240.2 296.9 L240.4 305.9 L240.6 305.7 L240.8 297.6 L241.1 294.4 L241.3 298.7 L241.5 301.0 L241.8 302.0 L242.0 304.4 L242.2 311.1 L242.4 309.0 L242.7 306.4 L242.9 308.7 L243.1 291.9 L243.3 298.9 L243.6 296.2 L243.8 304.2 L244.0 298.0 L244.2 299.8 L244.5 295.3 L244.7 306.4 L244.9 308.2 L245.1 302.1 L245.4 301.2 L245.6 301.6 L245.8 295.5 L246.0 302.1 L246.3 300.7 L246.5 297.3 L246.7 291.2 L247.0 295.4 L247.2 302.2 L247.4 300.4 L247.6 295.3 L247.9 293.0 L248.1 297.0 L248.3 296.7 L248.5 303.9 L248.8 299.2 L249.0 294.7 L249.2 296.7 L249.4 298.7 L249.7 300.6 L249.9 293.6 L250.1 297.5 L250.3 295.1 L250.6 311.6 L250.8 293.2 L251.0 304.3 L251.2 298.9 L251.5 294.4 L251.7 286.8 L251.9 298.9 L252.2 297.9 L252.4 301.4 L252.6 295.6 L252.8 303.8 L253.1 293.4 L253.3 290.4 L253.5 290.8 L253.7 299.2 L254.0 297.3 L254.2 304.0 L254.4 300.9 L254.6 288.6 L254.9 285.2 L255.1 303.9 L255.3 310.5 L255.5 303.1 L255.8 295.7 L256.0 294.3 L256.2 288.3 L256.4 298.1 L256.7 287.7 L256.9 285.4 L257.1 303.6 L257.4 287.5 L257.6 301.5 L257.8 303.9 L258.0 295.9 L258.3 298.1 L258.5 298.8 L258.7 293.8 L258.9 301.7 L259.2 293.9 L259.4 302.0 L259.6 293.6 L259.8 297.9 L260.1 299.2 L260.3 295.4 L260.5 297.8 L260.7 293.6 L261.0 307.0 L261.2 301.6 L261.4 292.8 L261.6 293.3 L261.9 284.8 L262.1 286.7 L262.3 298.9 L262.6 297.6 L262.8 309.8 L263.0 299.9 L263.2 303.2 L263.5 292.8 L263.7 292.4 L263.9 298.2 L264.1 284.9 L264.4 295.3 L264.6 290.1 L264.8 289.3 L265.0 291.0 L265.3 294.3 L265.5 292.2 L265.7 299.6 L265.9 294.8 L266.2 293.1 L266.4 292.3 L266.6 290.7 L266.8 290.5 L267.1 298.1 L267.3 304.1 L267.5 287.6 L267.8 302.8 L268.0 289.5 L268.2 293.9 L268.4 298.6 L268.7 299.4 L268.9 295.5 L269.1 291.4 L269.3 297.5 L269.6 296.9 L269.8 294.6 L270.0 285.9 L270.2 290.2 L270.5 299.8 L270.7 310.7 L270.9 293.3 L271.1 287.7 L271.4 290.2 L271.6 305.4 L271.8 292.7 L272.1 286.7 L272.3 297.6 L272.5 293.6 L272.7 293.5 L273.0 294.4 L273.2 289.2 L273.4 282.1 L273.6 285.7 L273.9 283.3 L274.1 293.8 L274.3 291.5 L274.5 302.1 L274.8 288.6 L275.0 290.7 L275.2 290.5 L275.4 287.0 L275.7 292.4 L275.9 288.3 L276.1 293.6 L276.3 300.0 L276.6 307.5 L276.8 304.1 L277.0 285.6 L277.3 282.0 L277.5 286.3 L277.7 281.4 L277.9 308.3 L278.2 294.8 L278.4 288.6 L278.6 281.2 L278.8 285.6 L279.1 284.1 L279.3 283.8 L279.5 286.0 L279.7 289.4 L280.0 289.9 L280.2 292.7 L280.4 285.0 L280.6 289.6 L280.9 297.2 L281.1 300.9 L281.3 289.2 L281.5 300.5 L281.8 290.4 L282.0 279.7 L282.2 301.7 L282.5 291.0 L282.7 289.8 L282.9 294.2 L283.1 294.6 L283.4 287.8 L283.6 295.7 L283.8 291.9 L284.0 280.6 L284.3 290.3 L284.5 299.7 L284.7 291.2 L284.9 293.8 L285.2 299.0 L285.4 296.7 L285.6 287.9 L285.8 289.4 L286.1 292.3 L286.3 292.2 L286.5 291.0 L286.7 289.2 L287.0 284.5 L287.2 284.3 L287.4 277.4 L287.7 286.5 L287.9 296.1 L288.1 288.3 L288.3 301.5 L288.6 279.5 L288.8 272.6 L289.0 286.8 L289.2 273.4 L289.5 281.1 L289.7 288.2 L289.9 291.4 L290.1 294.7 L290.4 292.4 L290.6 295.5 L290.8 281.2 L291.0 297.5 L291.3 284.0 L291.5 277.7 L291.7 294.6 L291.9 286.4 L292.2 272.7 L292.4 285.7 L292.6 281.3 L292.9 283.1 L293.1 291.2 L293.3 290.7 L293.5 307.7 L293.8 285.3 L294.0 282.8 L294.2 277.7 L294.4 277.9 L294.7 279.6 L294.9 294.6 L295.1 300.9 L295.3 295.6 L295.6 298.6 L295.8 282.8 L296.0 288.7 L296.2 281.0 L296.5 290.8 L296.7 278.5 L296.9 284.7 L297.1 304.9 L297.4 287.3 L297.6 291.4 L297.8 284.3 L298.1 286.9 L298.3 288.0 L298.5 274.0 L298.7 281.3 L299.0 287.6 L299.2 281.8 L299.4 282.4 L299.6 297.5 L299.9 287.1 L300.1 282.9 L300.3 278.2 L300.5 277.1 L300.8 285.7 L301.0 273.1 L301.2 280.8 L301.4 290.4 L301.7 283.1 L301.9 281.1 L302.1 284.2 L302.3 281.6 L302.6 291.5 L302.8 292.7 L303.0 279.3 L303.3 284.1 L303.5 289.9 L303.7 288.4 L303.9 284.0 L304.2 283.0 L304.4 286.0 L304.6 291.5 L304.8 298.9 L305.1 290.0 L305.3 290.2 L305.5 275.2 L305.7 284.5 L306.0 273.8 L306.2 286.8 L306.4 283.5 L306.6 286.5 L306.9 297.8 L307.1 293.5 L307.3 294.2 L307.5 280.6 L307.8 282.6 L308.0 297.0 L308.2 297.7 L308.5 282.6 L308.7 287.0 L308.9 282.7 L309.1 272.3 L309.4 273.0 L309.6 275.0 L309.8 285.7 L310.0 284.9 L310.3 282.7 L310.5 289.0 L310.7 289.5 L310.9 288.5 L311.2 278.7 L311.4 287.0 L311.6 287.0 L311.8 295.6 L312.1 283.9 L312.3 286.1 L312.5 277.4 L312.8 297.0 L313.0 277.9 L313.2 273.6 L313.4 289.0 L313.7 269.1 L313.9 267.0 L314.1 272.4 L314.3 284.9 L314.6 291.0 L314.8 283.6 L315.0 273.5 L315.2 276.2 L315.5 280.8 L315.7 267.0 L315.9 273.3 L316.1 274.1 L316.4 291.4 L316.6 277.7 L316.8 288.7 L317.0 283.2 L317.3 283.6 L317.5 277.5 L317.7 281.3 L318.0 281.6 L318.2 298.5 L318.4 293.7 L318.6 263.1 L318.9 278.3 L319.1 278.8 L319.3 277.8 L319.5 298.8 L319.8 278.8 L320.0 286.8 L320.2 278.0 L320.4 264.1 L320.7 287.6 L320.9 295.8 L321.1 272.4 L321.3 284.7 L321.6 270.2 L321.8 271.9 L322.0 276.7 L322.2 277.7 L322.5 285.4 L322.7 291.9 L322.9 276.7 L323.2 291.0 L323.4 279.8 L323.6 282.5 L323.8 276.7 L324.1 270.2 L324.3 267.2 L324.5 275.4 L324.7 270.0 L325.0 270.5 L325.2 285.4 L325.4 265.6 L325.6 267.8 L325.9 284.6 L326.1 268.9 L326.3 267.0 L326.5 273.9 L326.8 291.6 L327.0 272.4 L327.2 290.4 L327.4 297.8 L327.7 280.4 L327.9 290.5 L328.1 285.9 L328.4 281.9 L328.6 266.3 L328.8 275.2 L329.0 271.9 L329.3 273.6 L329.5 289.8 L329.7 270.7 L329.9 278.4 L330.2 276.0 L330.4 282.0 L330.6 275.0 L330.8 284.3 L331.1 296.5 L331.3 291.4 L331.5 288.2 L331.7 285.1 L332.0 260.7 L332.2 284.3 L332.4 283.7 L332.6 290.7 L332.9 292.3 L333.1 278.9" fill="none" stroke="#e63fd0" stroke-width="0.6" stroke-linejoin="round"/>
<line x1="129.50" y1="223.5" x2="129.50" y2="383.45" stroke="#666" stroke-width="0.8"/>
<line x1="129.10" y1="383.45" x2="333.1" y2="383.45" stroke="#555" stroke-width="0.8"/>
<line x1="129.6" y1="383.4" x2="129.6" y2="381.4" stroke="#555" stroke-width="0.6"/>
<line x1="163.5" y1="383.4" x2="163.5" y2="381.4" stroke="#555" stroke-width="0.6"/>
<line x1="197.4" y1="383.4" x2="197.4" y2="381.4" stroke="#555" stroke-width="0.6"/>
<line x1="231.4" y1="383.4" x2="231.4" y2="381.4" stroke="#555" stroke-width="0.6"/>
<line x1="265.3" y1="383.4" x2="265.3" y2="381.4" stroke="#555" stroke-width="0.6"/>
<line x1="299.2" y1="383.4" x2="299.2" y2="381.4" stroke="#555" stroke-width="0.6"/>
<line x1="333.1" y1="383.4" x2="333.1" y2="381.4" stroke="#555" stroke-width="0.6"/>
<line x1="129.6" y1="383.4" x2="132.0" y2="383.4" stroke="#555" stroke-width="0.6"/>
<line x1="129.6" y1="365.6" x2="132.0" y2="365.6" stroke="#555" stroke-width="0.6"/>
<line x1="129.6" y1="347.9" x2="132.0" y2="347.9" stroke="#555" stroke-width="0.6"/>
<line x1="129.6" y1="330.1" x2="132.0" y2="330.1" stroke="#555" stroke-width="0.6"/>
<line x1="129.6" y1="312.3" x2="132.0" y2="312.3" stroke="#555" stroke-width="0.6"/>
<line x1="129.6" y1="294.6" x2="132.0" y2="294.6" stroke="#555" stroke-width="0.6"/>
<line x1="129.6" y1="276.8" x2="132.0" y2="276.8" stroke="#555" stroke-width="0.6"/>
<line x1="129.6" y1="259.0" x2="132.0" y2="259.0" stroke="#555" stroke-width="0.6"/>
<line x1="129.6" y1="241.3" x2="132.0" y2="241.3" stroke="#555" stroke-width="0.6"/>
<line x1="129.6" y1="223.5" x2="132.0" y2="223.5" stroke="#555" stroke-width="0.6"/>
<text x="101.6" y="386.6" textLength="21.4" lengthAdjust="spacingAndGlyphs" font-size="9.8" fill="#000">-2.5</text>
<text x="106.7" y="368.9" textLength="11.2" lengthAdjust="spacingAndGlyphs" font-size="9.8" fill="#000">-2</text>
<text x="101.6" y="351.1" textLength="21.4" lengthAdjust="spacingAndGlyphs" font-size="9.8" fill="#000">-1.5</text>
<text x="106.7" y="333.4" textLength="11.2" lengthAdjust="spacingAndGlyphs" font-size="9.8" fill="#000">-1</text>
<text x="101.6" y="315.6" textLength="21.4" lengthAdjust="spacingAndGlyphs" font-size="9.8" fill="#000">-0.5</text>
<text x="116.0" y="297.8" textLength="6.6" lengthAdjust="spacingAndGlyphs" font-size="9.8" fill="#000">0</text>
<text x="103.9" y="280.1" textLength="16.8" lengthAdjust="spacingAndGlyphs" font-size="9.8" fill="#000">0.5</text>
<text x="107.8" y="262.3" textLength="6.6" lengthAdjust="spacingAndGlyphs" font-size="9.8" fill="#000">1</text>
<text x="103.9" y="244.5" textLength="16.8" lengthAdjust="spacingAndGlyphs" font-size="9.8" fill="#000">1.5</text>
<text x="107.8" y="226.8" textLength="6.6" lengthAdjust="spacingAndGlyphs" font-size="9.8" fill="#000">2</text>
<text x="127.6" y="392.8" textLength="6.6" lengthAdjust="spacingAndGlyphs" font-size="9.8" fill="#000">0</text>
<text x="161.5" y="392.8" textLength="6.6" lengthAdjust="spacingAndGlyphs" font-size="9.8" fill="#000">5</text>
<text x="194.3" y="392.8" textLength="13.1" lengthAdjust="spacingAndGlyphs" font-size="9.8" fill="#000">10</text>
<text x="228.2" y="392.8" textLength="13.1" lengthAdjust="spacingAndGlyphs" font-size="9.8" fill="#000">15</text>
<text x="262.1" y="392.8" textLength="13.1" lengthAdjust="spacingAndGlyphs" font-size="9.8" fill="#000">20</text>
<text x="296.0" y="392.8" textLength="13.1" lengthAdjust="spacingAndGlyphs" font-size="9.8" fill="#000">25</text>
<text x="329.9" y="392.8" textLength="13.1" lengthAdjust="spacingAndGlyphs" font-size="9.8" fill="#000">30</text>
<text x="217.5" y="401.6" textLength="55.5" lengthAdjust="spacingAndGlyphs" font-size="9.2" fill="#000" word-spacing="1.5">Time in s</text>
<line x1="210.4" y1="264.5" x2="249.6" y2="294.9" stroke="#25b2e8" stroke-width="1.35" stroke-dasharray="5.2 4.2"/>
<line x1="224.8" y1="264.5" x2="330.6" y2="294.9" stroke="#25b2e8" stroke-width="1.35" stroke-dasharray="5.2 4.2"/>
<line x1="210.4" y1="372.9" x2="249.6" y2="378.7" stroke="#25b2e8" stroke-width="1.35" stroke-dasharray="5.2 4.2"/>
<rect x="210.4" y="264.5" width="14.4" height="108.4" fill="none" stroke="#25b2e8" stroke-width="1.35"/>
<rect x="249.6" y="294.9" width="81.0" height="83.8" fill="#fff"/>
<g clip-path="url(#ciC)">
<line x1="265.0" y1="294.9" x2="265.0" y2="378.7" stroke="#e9e9e9" stroke-width="0.6"/>
<line x1="299.0" y1="294.9" x2="299.0" y2="378.7" stroke="#e9e9e9" stroke-width="0.6"/>
<line x1="249.6" y1="329.8" x2="330.6" y2="329.8" stroke="#e9e9e9" stroke-width="0.6"/>
<line x1="249.6" y1="347.5" x2="330.6" y2="347.5" stroke="#e9e9e9" stroke-width="0.6"/>
<path d="M249.2 336.7 L249.5 336.6 L249.8 336.1 L250.1 335.2 L250.4 334.2 L250.7 333.0 L251.0 331.7 L251.3 330.4 L251.6 329.1 L251.9 328.1 L252.2 327.3 L252.5 326.8 L252.8 326.6 L252.9 326.9 L253.1 327.6 L253.3 328.8 L253.4 330.3 L253.6 332.1 L253.7 334.0 L253.9 335.9 L254.0 337.7 L254.2 339.2 L254.3 340.4 L254.5 341.1 L254.7 341.4 L254.8 341.2 L255.0 340.6 L255.2 339.6 L255.3 338.3 L255.5 336.8 L255.7 335.2 L255.8 333.6 L256.0 332.1 L256.2 330.8 L256.3 329.8 L256.5 329.2 L256.7 328.9 L256.9 329.2 L257.1 330.0 L257.3 331.2 L257.5 332.8 L257.7 334.7 L257.9 336.7 L258.0 338.7 L258.2 340.6 L258.4 342.2 L258.6 343.5 L258.8 344.3 L259.0 344.5 L259.2 344.3 L259.4 343.8 L259.6 342.9 L259.8 341.8 L260.0 340.5 L260.2 339.1 L260.4 337.7 L260.6 336.3 L260.8 335.2 L261.0 334.3 L261.2 333.8 L261.4 333.6 L261.6 333.7 L261.9 333.9 L262.1 334.3 L262.4 334.8 L262.7 335.3 L262.9 336.0 L263.2 336.6 L263.4 337.1 L263.7 337.6 L264.0 338.0 L264.2 338.2 L264.5 338.3 L264.8 338.2 L265.1 337.9 L265.4 337.4 L265.8 336.7 L266.1 336.0 L266.4 335.2 L266.7 334.4 L267.1 333.6 L267.4 333.0 L267.7 332.5 L268.0 332.2 L268.4 332.1 L268.6 332.2 L268.9 332.5 L269.1 333.1 L269.4 333.8 L269.7 334.7 L269.9 335.6 L270.2 336.5 L270.4 337.3 L270.7 338.0 L271.0 338.6 L271.2 338.9 L271.5 339.1 L271.9 339.0 L272.3 338.8 L272.6 338.5 L273.0 338.1 L273.4 337.6 L273.8 337.1 L274.2 336.6 L274.6 336.1 L275.0 335.7 L275.4 335.4 L275.8 335.2 L276.2 335.2 L276.5 335.3 L276.9 335.5 L277.3 335.9 L277.7 336.3 L278.1 336.9 L278.5 337.5 L278.9 338.1 L279.3 338.7 L279.7 339.2 L280.0 339.5 L280.4 339.8 L280.8 339.8 L281.2 339.8 L281.6 339.6 L282.0 339.4 L282.4 339.1 L282.8 338.7 L283.2 338.3 L283.6 337.9 L283.9 337.5 L284.3 337.2 L284.7 336.9 L285.1 336.8 L285.5 336.7 L285.9 336.8 L286.3 336.9 L286.7 337.2 L287.1 337.5 L287.4 337.9 L287.8 338.3 L288.2 338.7 L288.6 339.1 L289.0 339.4 L289.4 339.6 L289.8 339.8 L290.2 339.8 L290.7 339.8 L291.2 339.6 L291.7 339.4 L292.2 339.1 L292.8 338.7 L293.3 338.3 L293.8 337.9 L294.3 337.5 L294.8 337.2 L295.4 336.9 L295.9 336.8 L296.4 336.7 L296.8 336.8 L297.2 336.9 L297.6 337.1 L298.0 337.3 L298.3 337.6 L298.7 337.9 L299.1 338.2 L299.5 338.5 L299.9 338.7 L300.3 338.9 L300.7 339.0 L301.1 339.1 L301.6 339.0 L302.1 338.9 L302.6 338.6 L303.2 338.3 L303.7 337.9 L304.2 337.5 L304.7 337.1 L305.2 336.7 L305.7 336.4 L306.3 336.2 L306.8 336.0 L307.3 336.0 L307.8 336.0 L308.3 336.1 L308.9 336.3 L309.4 336.5 L309.9 336.8 L310.4 337.1 L310.9 337.4 L311.5 337.7 L312.0 337.9 L312.5 338.1 L313.0 338.2 L313.5 338.3 L314.1 338.3 L314.6 338.5 L315.1 338.7 L315.6 339.1 L316.1 339.4 L316.7 339.8 L317.2 340.2 L317.7 340.6 L318.2 340.9 L318.7 341.2 L319.2 341.3 L319.8 341.4 L320.0 341.2 L320.3 340.7 L320.5 339.9 L320.8 338.9 L321.1 337.6 L321.3 336.3 L321.6 335.0 L321.8 333.8 L322.1 332.8 L322.4 332.0 L322.6 331.4 L322.9 331.3 L323.1 331.4 L323.4 332.0 L323.7 332.8 L323.9 333.8 L324.2 335.0 L324.4 336.3 L324.7 337.6 L325.0 338.9 L325.2 339.9 L325.5 340.7 L325.7 341.2 L326.0 341.4 L326.4 341.3 L326.8 341.2 L327.2 340.9 L327.7 340.6 L328.1 340.2 L328.5 339.8 L328.9 339.4 L329.3 339.1 L329.7 338.7 L330.2 338.5 L330.6 338.3 L331.0 338.3" fill="none" stroke="#ee7fe0" stroke-width="0.8" stroke-linejoin="round"/>
<path d="M249.2 336.7 L249.3 336.9 L249.4 337.5 L249.5 338.4 L249.6 339.7 L249.7 341.1 L249.7 342.8 L249.8 344.5 L249.9 346.3 L250.0 347.9 L250.1 349.4 L250.2 350.6 L250.3 351.5 L250.4 352.1 L250.5 352.3 L250.6 351.8 L250.8 350.2 L251.0 347.6 L251.1 344.2 L251.3 340.2 L251.5 335.7 L251.6 330.9 L251.8 326.1 L252.0 321.6 L252.1 317.5 L252.3 314.1 L252.5 311.6 L252.6 310.0 L252.8 309.5 L253.0 310.3 L253.1 312.7 L253.3 316.5 L253.5 321.6 L253.6 327.8 L253.8 334.6 L254.0 341.8 L254.1 349.0 L254.3 355.8 L254.5 361.9 L254.6 367.1 L254.8 370.9 L255.0 373.3 L255.1 374.1 L255.3 373.1 L255.5 370.3 L255.6 365.6 L255.8 359.5 L256.0 352.1 L256.1 343.8 L256.3 335.2 L256.5 326.5 L256.6 318.3 L256.8 310.9 L257.0 304.7 L257.1 300.1 L257.3 297.2 L257.5 296.2 L257.6 297.1 L257.8 299.9 L258.0 304.2 L258.1 310.0 L258.3 317.0 L258.5 324.7 L258.6 332.8 L258.8 341.0 L259.0 348.7 L259.1 355.7 L259.3 361.5 L259.5 365.8 L259.6 368.5 L259.8 369.4 L260.0 368.9 L260.2 367.2 L260.4 364.5 L260.6 360.9 L260.7 356.7 L260.9 351.9 L261.1 346.9 L261.3 341.8 L261.5 337.1 L261.7 332.8 L261.9 329.2 L262.1 326.5 L262.3 324.8 L262.4 324.3 L262.6 324.7 L262.8 326.0 L263.0 328.2 L263.2 331.0 L263.4 334.4 L263.6 338.2 L263.8 342.2 L264.0 346.2 L264.2 350.0 L264.4 353.3 L264.6 356.2 L264.8 358.3 L265.0 359.6 L265.2 360.1 L265.5 359.6 L265.7 358.0 L265.9 355.4 L266.1 352.0 L266.4 348.0 L266.6 343.4 L266.8 338.7 L267.0 333.9 L267.3 329.4 L267.5 325.3 L267.7 321.9 L267.9 319.4 L268.1 317.8 L268.4 317.3 L268.6 317.7 L268.7 319.0 L268.9 321.0 L269.1 323.7 L269.3 327.0 L269.5 330.6 L269.7 334.4 L269.9 338.2 L270.1 341.8 L270.3 345.1 L270.4 347.8 L270.6 349.8 L270.8 351.1 L271.0 351.5 L271.2 351.2 L271.4 350.3 L271.6 348.8 L271.8 346.8 L272.0 344.5 L272.2 341.8 L272.4 339.1 L272.6 336.3 L272.8 333.7 L273.0 331.3 L273.2 329.3 L273.4 327.8 L273.6 326.9 L273.8 326.6 L274.0 326.9 L274.1 328.0 L274.3 329.6 L274.5 331.7 L274.7 334.3 L274.8 337.2 L275.0 340.2 L275.2 343.3 L275.3 346.1 L275.5 348.7 L275.7 350.9 L275.8 352.5 L276.0 353.5 L276.2 353.9 L276.3 353.3 L276.5 351.7 L276.7 349.1 L276.8 345.7 L277.0 341.5 L277.2 336.9 L277.3 332.1 L277.5 327.2 L277.7 322.6 L277.8 318.5 L278.0 315.0 L278.2 312.4 L278.3 310.8 L278.5 310.2 L278.7 311.0 L278.9 313.3 L279.2 317.0 L279.4 322.0 L279.6 327.9 L279.8 334.5 L280.0 341.4 L280.3 348.3 L280.5 354.9 L280.7 360.8 L280.9 365.8 L281.2 369.5 L281.4 371.8 L281.6 372.6 L281.7 371.7 L281.9 369.2 L282.0 365.2 L282.1 359.8 L282.3 353.4 L282.4 346.2 L282.5 338.7 L282.7 331.1 L282.8 324.0 L282.9 317.6 L283.1 312.2 L283.2 308.2 L283.3 305.6 L283.5 304.8 L283.7 305.5 L283.9 307.5 L284.1 310.7 L284.3 314.9 L284.5 320.0 L284.7 325.7 L284.9 331.7 L285.1 337.6 L285.3 343.3 L285.5 348.4 L285.7 352.7 L285.9 355.9 L286.1 357.9 L286.3 358.5 L286.5 358.1 L286.7 356.6 L286.9 354.4 L287.2 351.4 L287.4 347.7 L287.6 343.7 L287.8 339.5 L288.1 335.2 L288.3 331.2 L288.5 327.6 L288.7 324.5 L288.9 322.3 L289.2 320.9 L289.4 320.4 L289.6 320.7 L289.7 321.8 L289.9 323.5 L290.1 325.8 L290.2 328.5 L290.4 331.6 L290.6 334.8 L290.7 338.0 L290.9 341.0 L291.1 343.8 L291.2 346.0 L291.4 347.8 L291.6 348.8 L291.7 349.2 L291.9 348.9 L292.1 348.0 L292.2 346.6 L292.4 344.8 L292.6 342.6 L292.7 340.1 L292.9 337.5 L293.1 334.9 L293.2 332.4 L293.4 330.2 L293.6 328.4 L293.7 327.0 L293.9 326.1 L294.1 325.8 L294.2 326.1 L294.4 326.9 L294.6 328.2 L294.7 329.9 L294.9 332.0 L295.1 334.3 L295.2 336.7 L295.4 339.2 L295.6 341.5 L295.7 343.5 L295.9 345.3 L296.1 346.6 L296.2 347.4 L296.4 347.6 L296.6 347.4 L296.8 346.8 L297.0 345.8 L297.2 344.6 L297.3 343.0 L297.5 341.3 L297.7 339.5 L297.9 337.6 L298.1 335.9 L298.3 334.4 L298.5 333.1 L298.7 332.1 L298.9 331.5 L299.0 331.3 L299.3 331.5 L299.5 332.0 L299.7 332.9 L299.9 334.1 L300.1 335.5 L300.3 337.0 L300.5 338.7 L300.7 340.3 L300.9 341.9 L301.1 343.3 L301.3 344.5 L301.5 345.3 L301.7 345.9 L301.9 346.1 L302.0 345.8 L302.2 344.8 L302.4 343.4 L302.5 341.4 L302.7 339.0 L302.9 336.4 L303.0 333.6 L303.2 330.8 L303.4 328.2 L303.5 325.8 L303.7 323.9 L303.9 322.4 L304.0 321.5 L304.2 321.2 L304.4 321.6 L304.6 323.0 L304.8 325.2 L304.9 328.2 L305.1 331.7 L305.3 335.7 L305.5 339.8 L305.7 344.0 L305.9 348.0 L306.1 351.5 L306.3 354.5 L306.5 356.7 L306.6 358.1 L306.8 358.5 L307.0 358.0 L307.1 356.5 L307.3 354.1 L307.4 350.9 L307.6 347.1 L307.7 342.8 L307.9 338.3 L308.0 333.8 L308.1 329.5 L308.3 325.7 L308.4 322.5 L308.6 320.0 L308.7 318.5 L308.9 318.0 L309.1 318.4 L309.3 319.6 L309.5 321.4 L309.8 323.9 L310.0 326.9 L310.2 330.1 L310.4 333.6 L310.6 337.1 L310.9 340.4 L311.1 343.3 L311.3 345.8 L311.5 347.6 L311.8 348.8 L312.0 349.2 L312.1 349.0 L312.3 348.3 L312.5 347.2 L312.6 345.8 L312.8 344.1 L313.0 342.2 L313.1 340.2 L313.3 338.2 L313.5 336.3 L313.6 334.6 L313.8 333.2 L314.0 332.2 L314.1 331.5 L314.3 331.3 L314.5 331.4 L314.7 331.8 L314.9 332.5 L315.1 333.3 L315.3 334.4 L315.4 335.5 L315.6 336.7 L315.8 337.9 L316.0 339.1 L316.2 340.1 L316.4 341.0 L316.6 341.6 L316.8 342.0 L317.0 342.2 L317.2 342.1 L317.4 341.7 L317.6 341.1 L317.8 340.3 L318.0 339.3 L318.2 338.2 L318.4 337.1 L318.6 336.0 L318.8 334.9 L319.0 334.0 L319.2 333.2 L319.4 332.6 L319.6 332.2 L319.8 332.1 L319.9 332.2 L320.1 332.6 L320.3 333.3 L320.4 334.3 L320.6 335.4 L320.8 336.6 L320.9 337.9 L321.1 339.2 L321.3 340.4 L321.4 341.5 L321.6 342.5 L321.8 343.2 L321.9 343.6 L322.1 343.7 L322.3 343.5 L322.5 342.7 L322.8 341.4 L323.0 339.6 L323.2 337.6 L323.4 335.3 L323.7 332.8 L323.9 330.4 L324.1 328.1 L324.3 326.0 L324.6 324.3 L324.8 323.0 L325.0 322.2 L325.2 321.9 L325.4 322.4 L325.6 323.7 L325.7 325.9 L325.9 328.8 L326.1 332.3 L326.2 336.2 L326.4 340.2 L326.6 344.3 L326.7 348.2 L326.9 351.6 L327.1 354.5 L327.2 356.7 L327.4 358.1 L327.6 358.5 L327.7 358.0 L327.9 356.5 L328.1 354.0 L328.2 350.8 L328.4 346.9 L328.6 342.5 L328.7 337.9 L328.9 333.3 L329.1 328.9 L329.2 325.0 L329.4 321.8 L329.6 319.3 L329.7 317.8 L329.9 317.3 L330.0 317.4 L330.0 317.9 L330.1 318.7 L330.2 319.8 L330.3 321.0 L330.4 322.4 L330.4 323.9 L330.5 325.4 L330.6 326.8 L330.7 328.0 L330.7 329.1 L330.8 329.8 L330.9 330.3 L331.0 330.5" fill="none" stroke="#3a3a3a" stroke-width="0.75" stroke-linejoin="round"/>
<path d="M250.4 336.0 L250.5 335.9 L250.7 335.7 L250.8 335.6 L250.9 335.5 L251.1 335.4 L251.2 335.3 L251.3 335.2 L251.5 335.1 L251.6 335.1 L251.7 335.0 L251.9 335.0 L252.0 335.0 L252.1 335.0 L252.3 335.1 L252.4 335.1 L252.5 335.2 L252.7 335.3 L252.8 335.4 L252.9 335.5 L253.1 335.6 L253.2 335.7 L253.3 335.9 L253.4 336.0 L253.6 336.1 L253.7 336.3 L253.8 336.4 L254.0 336.5 L254.1 336.6 L254.2 336.7 L254.4 336.8 L254.5 336.9 L254.6 336.9 L254.8 337.0 L254.9 337.0 L255.0 337.0 L255.2 337.0 L255.3 336.9 L255.4 336.9 L255.6 336.8 L255.7 336.7 L255.8 336.6 L256.0 336.5 L256.1 336.4 L256.2 336.3 L256.4 336.1 L256.5 336.0 L256.6 335.9 L256.8 335.7 L256.9 335.6 L257.0 335.5 L257.2 335.4 L257.3 335.3 L257.4 335.2 L257.6 335.1 L257.7 335.1 L257.8 335.0 L258.0 335.0 L258.1 335.0 L258.2 335.0 L258.4 335.1 L258.5 335.1 L258.6 335.2 L258.8 335.3 L258.9 335.4 L259.0 335.5 L259.1 335.6 L259.3 335.7 L259.4 335.8 L259.5 336.0 L259.7 336.1 L259.8 336.3 L259.9 336.4 L260.1 336.5 L260.2 336.6 L260.3 336.7 L260.5 336.8 L260.6 336.9 L260.7 336.9 L260.9 337.0 L261.0 337.0 L261.1 337.0 L261.3 337.0 L261.4 336.9 L261.5 336.9 L261.7 336.8 L261.8 336.7 L261.9 336.6 L262.1 336.5 L262.2 336.4 L262.3 336.3 L262.5 336.2 L262.6 336.0 L262.7 335.9 L262.9 335.8 L263.0 335.6 L263.1 335.5 L263.3 335.4 L263.4 335.3 L263.5 335.2 L263.7 335.1 L263.8 335.1 L263.9 335.0 L264.1 335.0 L264.2 335.0 L264.3 335.0 L264.5 335.0 L264.6 335.1 L264.7 335.2 L264.8 335.3 L265.0 335.3 L265.1 335.5 L265.2 335.6 L265.4 335.7 L265.5 335.8 L265.6 336.0 L265.8 336.1 L265.9 336.2 L266.0 336.4 L266.2 336.5 L266.3 336.6 L266.4 336.7 L266.6 336.8 L266.7 336.9 L266.8 336.9 L267.0 337.0 L267.1 337.0 L267.2 337.0 L267.4 337.0 L267.5 337.0 L267.6 336.9 L267.8 336.8 L267.9 336.8 L268.0 336.7 L268.2 336.5 L268.3 336.4 L268.4 336.3 L268.6 336.2 L268.7 336.0 L268.8 335.9 L269.0 335.8 L269.1 335.6 L269.2 335.5 L269.4 335.4 L269.5 335.3 L269.6 335.2 L269.8 335.1 L269.9 335.1 L270.0 335.0 L270.2 335.0 L270.3 335.0 L270.4 335.0 L270.5 335.0 L270.7 335.1 L270.8 335.2 L270.9 335.2 L271.1 335.3 L271.2 335.5 L271.3 335.6 L271.5 335.7 L271.6 335.8 L271.7 336.0 L271.9 336.1 L272.0 336.2 L272.1 336.4 L272.3 336.5 L272.4 336.6 L272.5 336.7 L272.7 336.8 L272.8 336.9 L272.9 336.9 L273.1 337.0 L273.2 337.0 L273.3 337.0 L273.5 337.0 L273.6 337.0 L273.7 336.9 L273.9 336.8 L274.0 336.8 L274.1 336.7 L274.3 336.6 L274.4 336.4 L274.5 336.3 L274.7 336.2 L274.8 336.0 L274.9 335.9 L275.1 335.8 L275.2 335.6 L275.3 335.5 L275.5 335.4 L275.6 335.3 L275.7 335.2 L275.9 335.1 L276.0 335.1 L276.1 335.0 L276.2 335.0 L276.4 335.0 L276.5 335.0 L276.6 335.0 L276.8 335.1 L276.9 335.2 L277.0 335.2 L277.2 335.3 L277.3 335.4 L277.4 335.6 L277.6 335.7 L277.7 335.8 L277.8 336.0 L278.0 336.1 L278.1 336.2 L278.2 336.4 L278.4 336.5 L278.5 336.6 L278.6 336.7 L278.8 336.8 L278.9 336.9 L279.0 336.9 L279.2 337.0 L279.3 337.0 L279.4 337.0 L279.6 337.0 L279.7 337.0 L279.8 336.9 L280.0 336.8 L280.1 336.8 L280.2 336.7 L280.4 336.6 L280.5 336.4 L280.6 336.3 L280.8 336.2 L280.9 336.1 L281.0 335.9 L281.2 335.8 L281.3 335.7 L281.4 335.5 L281.6 335.4 L281.7 335.3 L281.8 335.2 L281.9 335.1 L282.1 335.1 L282.2 335.0 L282.3 335.0 L282.5 335.0 L282.6 335.0 L282.7 335.0 L282.9 335.1 L283.0 335.2 L283.1 335.2 L283.3 335.3 L283.4 335.4 L283.5 335.5 L283.7 335.7 L283.8 335.8 L283.9 335.9 L284.1 336.1 L284.2 336.2 L284.3 336.3 L284.5 336.5 L284.6 336.6 L284.7 336.7 L284.9 336.8 L285.0 336.9 L285.1 336.9 L285.3 337.0 L285.4 337.0 L285.5 337.0 L285.7 337.0 L285.8 337.0 L285.9 336.9 L286.1 336.9 L286.2 336.8 L286.3 336.7 L286.5 336.6 L286.6 336.5 L286.7 336.3 L286.9 336.2 L287.0 336.1 L287.1 335.9 L287.3 335.8 L287.4 335.7 L287.5 335.5 L287.6 335.4 L287.8 335.3 L287.9 335.2 L288.0 335.1 L288.2 335.1 L288.3 335.0 L288.4 335.0 L288.6 335.0 L288.7 335.0 L288.8 335.0 L289.0 335.1 L289.1 335.1 L289.2 335.2 L289.4 335.3 L289.5 335.4 L289.6 335.5 L289.8 335.7 L289.9 335.8 L290.0 335.9 L290.2 336.1 L290.3 336.2 L290.4 336.3 L290.6 336.5 L290.7 336.6 L290.8 336.7 L291.0 336.8 L291.1 336.9 L291.2 336.9 L291.4 337.0 L291.5 337.0 L291.6 337.0 L291.8 337.0 L291.9 337.0 L292.0 336.9 L292.2 336.9 L292.3 336.8 L292.4 336.7 L292.6 336.6 L292.7 336.5 L292.8 336.3 L292.9 336.2 L293.1 336.1 L293.2 335.9 L293.3 335.8 L293.5 335.7 L293.6 335.5 L293.7 335.4 L293.9 335.3 L294.0 335.2 L294.1 335.1 L294.3 335.1 L294.4 335.0 L294.5 335.0 L294.7 335.0 L294.8 335.0 L294.9 335.0 L295.1 335.1 L295.2 335.1 L295.3 335.2 L295.5 335.3 L295.6 335.4 L295.7 335.5 L295.9 335.7 L296.0 335.8 L296.1 335.9 L296.3 336.1 L296.4 336.2 L296.5 336.3 L296.7 336.5 L296.8 336.6 L296.9 336.7 L297.1 336.8 L297.2 336.8 L297.3 336.9 L297.5 337.0 L297.6 337.0 L297.7 337.0 L297.9 337.0 L298.0 337.0 L298.1 336.9 L298.3 336.9 L298.4 336.8 L298.5 336.7 L298.6 336.6 L298.8 336.5 L298.9 336.3 L299.0 336.2 L299.2 336.1 L299.3 335.9 L299.4 335.8 L299.6 335.7 L299.7 335.6 L299.8 335.4 L300.0 335.3 L300.1 335.2 L300.2 335.2 L300.4 335.1 L300.5 335.0 L300.6 335.0 L300.8 335.0 L300.9 335.0 L301.0 335.0 L301.2 335.1 L301.3 335.1 L301.4 335.2 L301.6 335.3 L301.7 335.4 L301.8 335.5 L302.0 335.6 L302.1 335.8 L302.2 335.9 L302.4 336.0 L302.5 336.2 L302.6 336.3 L302.8 336.4 L302.9 336.6 L303.0 336.7 L303.2 336.8 L303.3 336.8 L303.4 336.9 L303.6 337.0 L303.7 337.0 L303.8 337.0 L304.0 337.0 L304.1 337.0 L304.2 336.9 L304.3 336.9 L304.5 336.8 L304.6 336.7 L304.7 336.6 L304.9 336.5 L305.0 336.4 L305.1 336.2 L305.3 336.1 L305.4 336.0 L305.5 335.8 L305.7 335.7 L305.8 335.6 L305.9 335.4 L306.1 335.3 L306.2 335.2 L306.3 335.2 L306.5 335.1 L306.6 335.0 L306.7 335.0 L306.9 335.0 L307.0 335.0 L307.1 335.0 L307.3 335.1 L307.4 335.1 L307.5 335.2 L307.7 335.3 L307.8 335.4 L307.9 335.5 L308.1 335.6 L308.2 335.8 L308.3 335.9 L308.5 336.0 L308.6 336.2 L308.7 336.3 L308.9 336.4 L309.0 336.5 L309.1 336.7 L309.3 336.8 L309.4 336.8 L309.5 336.9 L309.7 337.0 L309.8 337.0 L309.9 337.0 L310.0 337.0 L310.2 337.0 L310.3 336.9 L310.4 336.9 L310.6 336.8 L310.7 336.7 L310.8 336.6 L311.0 336.5 L311.1 336.4 L311.2 336.2 L311.4 336.1 L311.5 336.0 L311.6 335.8 L311.8 335.7 L311.9 335.6 L312.0 335.5 L312.2 335.3 L312.3 335.2 L312.4 335.2 L312.6 335.1 L312.7 335.0 L312.8 335.0 L313.0 335.0 L313.1 335.0 L313.2 335.0 L313.4 335.1 L313.5 335.1 L313.6 335.2 L313.8 335.3 L313.9 335.4 L314.0 335.5 L314.2 335.6 L314.3 335.8 L314.4 335.9 L314.6 336.0 L314.7 336.2 L314.8 336.3 L315.0 336.4 L315.1 336.5 L315.2 336.7 L315.4 336.7 L315.5 336.8 L315.6 336.9 L315.7 337.0 L315.9 337.0 L316.0 337.0 L316.1 337.0 L316.3 337.0 L316.4 336.9 L316.5 336.9 L316.7 336.8 L316.8 336.7 L316.9 336.6 L317.1 336.5 L317.2 336.4 L317.3 336.2 L317.5 336.1 L317.6 336.0 L317.7 335.8 L317.9 335.7 L318.0 335.6 L318.1 335.5 L318.3 335.4 L318.4 335.3 L318.5 335.2 L318.7 335.1 L318.8 335.1 L318.9 335.0 L319.1 335.0 L319.2 335.0 L319.3 335.0 L319.5 335.1 L319.6 335.1 L319.7 335.2 L319.9 335.3 L320.0 335.4 L320.1 335.5 L320.3 335.6 L320.4 335.7 L320.5 335.9 L320.7 336.0 L320.8 336.2 L320.9 336.3 L321.1 336.4 L321.2 336.5 L321.3 336.6 L321.4 336.7 L321.6 336.8 L321.7 336.9 L321.8 336.9 L322.0 337.0 L322.1 337.0 L322.2 337.0 L322.4 337.0 L322.5 336.9 L322.6 336.9 L322.8 336.8 L322.9 336.7 L323.0 336.6 L323.2 336.5 L323.3 336.4 L323.4 336.3 L323.6 336.1 L323.7 336.0 L323.8 335.9 L324.0 335.7 L324.1 335.6 L324.2 335.5 L324.4 335.4 L324.5 335.3 L324.6 335.2 L324.8 335.1 L324.9 335.1 L325.0 335.0 L325.2 335.0 L325.3 335.0 L325.4 335.0 L325.6 335.1 L325.7 335.1 L325.8 335.2 L326.0 335.3 L326.1 335.4 L326.2 335.5 L326.4 335.6 L326.5 335.7 L326.6 335.9 L326.8 336.0 L326.9 336.1 L327.0 336.3 L327.1 336.4 L327.3 336.5 L327.4 336.6 L327.5 336.7 L327.7 336.8 L327.8 336.9 L327.9 336.9 L328.1 337.0 L328.2 337.0 L328.3 337.0 L328.5 337.0 L328.6 336.9 L328.7 336.9 L328.9 336.8 L329.0 336.7 L329.1 336.6 L329.3 336.5 L329.4 336.4 L329.5 336.3 L329.7 336.1 L329.8 336.0" fill="none" stroke="#ecab2e" stroke-width="0.7" stroke-linejoin="round"/>
</g>
<line x1="224.8" y1="372.9" x2="330.6" y2="378.7" stroke="#25b2e8" stroke-width="1.35" stroke-dasharray="5.2 4.2"/>
<rect x="249.6" y="294.9" width="81.0" height="83.8" fill="none" stroke="#25b2e8" stroke-width="1.1"/>
<text x="280.0" y="218.5" textLength="48.7" lengthAdjust="spacingAndGlyphs" font-size="9.2" fill="#000" word-spacing="1.5">top view</text>
<line x1="279.2" y1="228.2" x2="297.5" y2="228.2" stroke="#777" stroke-width="0.75"/>
<text x="299.8" y="230.5" textLength="34.3" lengthAdjust="spacingAndGlyphs" font-size="9.2" fill="#000">SAM2</text>
<line x1="279.2" y1="236.1" x2="297.5" y2="236.1" stroke="#f48de6" stroke-width="0.75"/>
<text x="299.8" y="238.5" textLength="32.0" lengthAdjust="spacingAndGlyphs" font-size="9.2" fill="#000">static</text>
<line x1="279.2" y1="243.5" x2="297.5" y2="243.5" stroke="#f9d59c" stroke-width="0.75"/>
<text x="299.8" y="245.3" textLength="26.9" lengthAdjust="spacingAndGlyphs" font-size="9.2" fill="#000">ECG</text>
<text transform="translate(98.3,377.9) rotate(-90)" x="0" y="0" textLength="114.0" lengthAdjust="spacingAndGlyphs" font-size="11.0" word-spacing="2.2">Mean intensity in 1</text>
<text transform="translate(98.3,261.2) rotate(-90)" x="0" y="0" textLength="3.0" lengthAdjust="spacingAndGlyphs" font-size="11.0" word-spacing="2.2">·</text>
<text transform="translate(98.3,254.4) rotate(-90)" x="0" y="0" textLength="13.1" lengthAdjust="spacingAndGlyphs" font-size="11.0" word-spacing="2.2">10</text>
<text transform="translate(94.1,239.6) rotate(-90)" x="0" y="0" textLength="15.6" lengthAdjust="spacingAndGlyphs" font-size="11.0" word-spacing="2.2">−2</text>
<line x1="510.8" y1="226.0" x2="510.8" y2="382.3" stroke="#e3e3e3" stroke-width="0.7"/>
<line x1="543.7" y1="226.0" x2="543.7" y2="382.3" stroke="#e3e3e3" stroke-width="0.7"/>
<line x1="576.7" y1="226.0" x2="576.7" y2="382.3" stroke="#e3e3e3" stroke-width="0.7"/>
<line x1="609.7" y1="226.0" x2="609.7" y2="382.3" stroke="#e3e3e3" stroke-width="0.7"/>
<line x1="642.6" y1="226.0" x2="642.6" y2="382.3" stroke="#e3e3e3" stroke-width="0.7"/>
<line x1="675.6" y1="226.0" x2="675.6" y2="382.3" stroke="#e3e3e3" stroke-width="0.7"/>
<line x1="477.8" y1="382.3" x2="675.6" y2="382.3" stroke="#e3e3e3" stroke-width="0.7"/>
<line x1="477.8" y1="362.8" x2="675.6" y2="362.8" stroke="#e3e3e3" stroke-width="0.7"/>
<line x1="477.8" y1="343.2" x2="675.6" y2="343.2" stroke="#e3e3e3" stroke-width="0.7"/>
<line x1="477.8" y1="323.7" x2="675.6" y2="323.7" stroke="#e3e3e3" stroke-width="0.7"/>
<line x1="477.8" y1="304.1" x2="675.6" y2="304.1" stroke="#e3e3e3" stroke-width="0.7"/>
<line x1="477.8" y1="284.6" x2="675.6" y2="284.6" stroke="#e3e3e3" stroke-width="0.7"/>
<line x1="477.8" y1="265.1" x2="675.6" y2="265.1" stroke="#e3e3e3" stroke-width="0.7"/>
<line x1="477.8" y1="245.5" x2="675.6" y2="245.5" stroke="#e3e3e3" stroke-width="0.7"/>
<line x1="477.8" y1="226.0" x2="675.6" y2="226.0" stroke="#e3e3e3" stroke-width="0.7"/>
<line x1="627.5" y1="285.0" x2="675.6" y2="285.0" stroke="#dda6ec" stroke-width="0.9"/>
<path d="M477.8 274.8 L478.0 275.7 L478.2 275.2 L478.5 278.7 L478.7 282.6 L478.9 280.4 L479.1 274.8 L479.3 273.9 L479.6 278.7 L479.8 279.4 L480.0 276.8 L480.2 282.4 L480.4 280.3 L480.7 280.6 L480.9 282.0 L481.1 284.4 L481.3 285.2 L481.5 284.0 L481.8 282.3 L482.0 282.9 L482.2 281.9 L482.4 281.4 L482.6 274.0 L482.9 275.0 L483.1 271.5 L483.3 269.3 L483.5 270.3 L483.7 274.2 L484.0 271.0 L484.2 278.1 L484.4 281.4 L484.6 281.6 L484.8 281.4 L485.1 285.0 L485.3 287.3 L485.5 292.3 L485.7 284.7 L485.9 282.7 L486.2 289.3 L486.4 286.9 L486.6 282.9 L486.8 284.0 L487.0 287.6 L487.3 289.2 L487.5 286.1 L487.7 285.5 L487.9 287.1 L488.1 287.3 L488.3 276.4 L488.6 272.4 L488.8 275.1 L489.0 274.0 L489.2 278.5 L489.4 282.8 L489.7 274.0 L489.9 274.2 L490.1 281.5 L490.3 283.6 L490.5 282.2 L490.8 283.9 L491.0 284.6 L491.2 284.5 L491.4 282.1 L491.6 286.0 L491.9 287.7 L492.1 284.8 L492.3 285.6 L492.5 289.5 L492.7 287.1 L493.0 282.5 L493.2 284.3 L493.4 287.6 L493.6 286.1 L493.8 288.5 L494.1 286.9 L494.3 287.3 L494.5 286.6 L494.7 288.4 L494.9 290.0 L495.2 289.7 L495.4 282.7 L495.6 281.5 L495.8 280.3 L496.0 274.4 L496.3 275.8 L496.5 284.3 L496.7 287.7 L496.9 283.2 L497.1 281.7 L497.4 285.2 L497.6 283.0 L497.8 289.2 L498.0 287.5 L498.2 284.8 L498.5 281.8 L498.7 278.9 L498.9 281.1 L499.1 287.1 L499.3 288.4 L499.6 287.9 L499.8 289.8 L500.0 286.9 L500.2 285.3 L500.4 287.3 L500.7 283.4 L500.9 288.7 L501.1 288.9 L501.3 291.5 L501.5 285.9 L501.8 287.4 L502.0 292.3 L502.2 292.5 L502.4 287.1 L502.6 291.4 L502.9 293.0 L503.1 296.1 L503.3 295.1 L503.5 291.4 L503.7 291.4 L504.0 290.0 L504.2 290.8 L504.4 295.0 L504.6 291.1 L504.8 288.2 L505.1 292.1 L505.3 298.0 L505.5 302.0 L505.7 301.7 L505.9 298.1 L506.2 304.1 L506.4 299.9 L506.6 293.7 L506.8 294.8 L507.0 298.4 L507.3 293.3 L507.5 289.2 L507.7 286.0 L507.9 289.2 L508.1 293.5 L508.3 295.0 L508.6 294.4 L508.8 298.7 L509.0 301.1 L509.2 298.8 L509.4 295.3 L509.7 290.2 L509.9 289.2 L510.1 296.3 L510.3 299.2 L510.5 295.3 L510.8 297.9 L511.0 295.4 L511.2 297.1 L511.4 304.2 L511.6 291.9 L511.9 293.0 L512.1 301.2 L512.3 303.9 L512.5 302.5 L512.7 305.4 L513.0 301.3 L513.2 305.1 L513.4 305.7 L513.6 304.1 L513.8 307.4 L514.1 305.3 L514.3 302.8 L514.5 303.8 L514.7 302.3 L514.9 299.5 L515.2 297.0 L515.4 295.9 L515.6 295.6 L515.8 299.3 L516.0 299.1 L516.3 301.8 L516.5 298.0 L516.7 298.9 L516.9 298.4 L517.1 294.5 L517.4 293.7 L517.6 298.9 L517.8 296.9 L518.0 293.5 L518.2 295.6 L518.5 300.4 L518.7 299.8 L518.9 294.4 L519.1 297.9 L519.3 298.7 L519.6 293.0 L519.8 290.6 L520.0 294.8 L520.2 301.1 L520.4 296.3 L520.7 293.1 L520.9 294.5 L521.1 298.2 L521.3 296.8 L521.5 293.3 L521.8 291.7 L522.0 296.6 L522.2 291.7 L522.4 290.3 L522.6 297.8 L522.9 305.4 L523.1 305.2 L523.3 304.5 L523.5 300.9 L523.7 294.2 L524.0 296.1 L524.2 299.2 L524.4 299.0 L524.6 298.9 L524.8 296.9 L525.1 297.0 L525.3 298.5 L525.5 300.3 L525.7 298.4 L525.9 298.1 L526.2 305.7 L526.4 302.0 L526.6 299.4 L526.8 300.0 L527.0 299.3 L527.2 289.2 L527.5 288.3 L527.7 288.4 L527.9 284.7 L528.1 293.7 L528.3 297.8 L528.6 291.7 L528.8 292.9 L529.0 293.4 L529.2 289.7 L529.4 283.3 L529.7 282.8 L529.9 290.9 L530.1 297.0 L530.3 291.2 L530.5 291.5 L530.8 292.6 L531.0 295.5 L531.2 294.4 L531.4 291.5 L531.6 286.1 L531.9 289.5 L532.1 296.3 L532.3 295.4 L532.5 292.5 L532.7 293.8 L533.0 293.0 L533.2 296.4 L533.4 296.2 L533.6 291.3 L533.8 289.6 L534.1 292.9 L534.3 294.0 L534.5 294.4 L534.7 297.9 L534.9 296.4 L535.2 295.7 L535.4 299.5 L535.6 293.7 L535.8 296.8 L536.0 293.9 L536.3 289.6 L536.5 291.5 L536.7 288.0 L536.9 285.5 L537.1 294.0 L537.4 298.8 L537.6 299.1 L537.8 293.6 L538.0 295.9 L538.2 295.8 L538.5 292.8 L538.7 286.3 L538.9 281.2 L539.1 278.1 L539.3 280.1 L539.6 284.7 L539.8 291.2 L540.0 288.6 L540.2 290.9 L540.4 287.3 L540.7 277.2 L540.9 276.8 L541.1 281.3 L541.3 284.1 L541.5 284.8 L541.8 293.0 L542.0 290.3 L542.2 287.6 L542.4 288.3 L542.6 286.1 L542.9 287.1 L543.1 289.5 L543.3 291.3 L543.5 296.0 L543.7 302.8 L544.0 296.9 L544.2 295.3 L544.4 297.5 L544.6 294.7 L544.8 290.7 L545.1 298.5 L545.3 297.3 L545.5 293.1 L545.7 293.1 L545.9 296.6 L546.2 286.5 L546.4 286.6 L546.6 296.2 L546.8 295.1 L547.0 289.5 L547.2 296.5 L547.5 289.3 L547.7 295.0 L547.9 295.5 L548.1 293.5 L548.3 296.5 L548.6 296.4 L548.8 292.3 L549.0 296.2 L549.2 295.7 L549.4 295.3 L549.7 292.7 L549.9 294.7 L550.1 291.7 L550.3 298.2 L550.5 299.0 L550.8 297.1 L551.0 292.6 L551.2 289.0 L551.4 288.0 L551.6 287.9 L551.9 285.6 L552.1 284.7 L552.3 284.2 L552.5 295.0 L552.7 292.1 L553.0 292.9 L553.2 295.6 L553.4 293.6 L553.6 292.8 L553.8 289.4 L554.1 293.0 L554.3 297.5 L554.5 300.6 L554.7 299.8 L554.9 296.3 L555.2 295.4 L555.4 299.7 L555.6 299.2 L555.8 297.7 L556.0 300.1 L556.3 299.5 L556.5 296.3 L556.7 288.7 L556.9 287.4 L557.1 289.3 L557.4 283.6 L557.6 281.0 L557.8 289.4 L558.0 293.2 L558.2 292.1 L558.5 288.9 L558.7 295.1 L558.9 293.2 L559.1 291.6 L559.3 285.4 L559.6 287.1 L559.8 288.2 L560.0 283.7 L560.2 286.5 L560.4 293.8 L560.7 292.3 L560.9 291.5 L561.1 287.8 L561.3 288.1 L561.5 293.0 L561.8 293.4 L562.0 286.8 L562.2 290.4 L562.4 294.1 L562.6 293.6 L562.9 292.8 L563.1 299.0 L563.3 290.4 L563.5 289.1 L563.7 292.5 L564.0 286.1 L564.2 283.0 L564.4 292.5 L564.6 294.3 L564.8 290.1 L565.1 290.2 L565.3 291.5 L565.5 299.0 L565.7 299.5 L565.9 300.2 L566.2 299.6 L566.4 291.5 L566.6 287.0 L566.8 283.4 L567.0 287.9 L567.2 290.4 L567.5 294.9 L567.7 294.2 L567.9 293.6 L568.1 295.5 L568.3 293.2 L568.6 290.2 L568.8 293.5 L569.0 297.5 L569.2 297.3 L569.4 292.3 L569.7 288.9 L569.9 287.1 L570.1 288.5 L570.3 285.7 L570.5 281.2 L570.8 284.8 L571.0 285.1 L571.2 285.0 L571.4 286.8 L571.6 287.0 L571.9 278.7 L572.1 276.8 L572.3 282.5 L572.5 281.1 L572.7 279.2 L573.0 280.6 L573.2 280.2 L573.4 285.0 L573.6 287.1 L573.8 283.4 L574.1 291.3 L574.3 289.7 L574.5 287.8 L574.7 289.3 L574.9 293.2 L575.2 294.2 L575.4 292.6 L575.6 292.1 L575.8 292.8 L576.0 286.9 L576.3 283.9 L576.5 281.7 L576.7 281.9 L576.9 279.2 L577.1 281.7 L577.4 285.4 L577.6 284.3 L577.8 292.3 L578.0 296.2 L578.2 292.5 L578.5 293.1 L578.7 289.6 L578.9 279.5 L579.1 284.9 L579.3 287.2 L579.6 279.5 L579.8 283.2 L580.0 288.1 L580.2 276.9 L580.4 273.3 L580.7 276.1 L580.9 275.5 L581.1 273.6 L581.3 278.6 L581.5 276.3 L581.8 275.7 L582.0 278.6 L582.2 276.7 L582.4 278.2 L582.6 286.1 L582.9 285.8 L583.1 283.4 L583.3 288.0 L583.5 290.1 L583.7 286.3 L584.0 287.2 L584.2 289.3 L584.4 289.7 L584.6 277.6 L584.8 276.1 L585.1 279.7 L585.3 287.8 L585.5 286.6 L585.7 286.3 L585.9 289.3 L586.2 280.1 L586.4 276.4 L586.6 284.2 L586.8 271.7 L587.0 267.1 L587.2 271.3 L587.5 276.2 L587.7 281.1 L587.9 283.4 L588.1 284.5 L588.3 287.2 L588.6 289.9 L588.8 285.9 L589.0 270.6 L589.2 259.2 L589.4 271.9 L589.7 289.8 L589.9 290.2 L590.1 286.2 L590.3 281.6 L590.5 286.3 L590.8 272.2 L591.0 268.9 L591.2 271.4 L591.4 269.0 L591.6 268.0 L591.9 279.9 L592.1 281.2 L592.3 272.3 L592.5 272.2 L592.7 271.1 L593.0 283.0 L593.2 282.3 L593.4 281.7 L593.6 286.1 L593.8 294.7 L594.1 285.9 L594.3 282.3 L594.5 282.0 L594.7 285.5 L594.9 282.5 L595.2 269.0 L595.4 257.8 L595.6 260.4 L595.8 271.4 L596.0 279.7 L596.3 277.5 L596.5 276.0 L596.7 277.5 L596.9 271.0 L597.1 270.0 L597.4 273.2 L597.6 269.7 L597.8 261.2 L598.0 272.9 L598.2 289.9 L598.5 280.7 L598.7 275.3 L598.9 273.7 L599.1 269.2 L599.3 271.3 L599.6 279.2 L599.8 284.7 L600.0 283.4 L600.2 265.6 L600.4 269.4 L600.7 284.7 L600.9 278.1 L601.1 270.6 L601.3 261.1 L601.5 262.7 L601.8 267.8 L602.0 268.0 L602.2 280.3 L602.4 273.8 L602.6 274.7 L602.9 273.2 L603.1 265.8 L603.3 262.3 L603.5 248.3 L603.7 266.4 L604.0 271.0 L604.2 283.1 L604.4 276.4 L604.6 267.0 L604.8 262.5 L605.1 268.6 L605.3 269.5 L605.5 271.7 L605.7 278.1 L605.9 276.9 L606.2 284.2 L606.4 284.0 L606.6 291.0 L606.8 283.5 L607.0 274.5 L607.2 258.2 L607.5 262.4 L607.7 264.6 L607.9 269.2 L608.1 267.6 L608.3 274.5 L608.6 280.7 L608.8 282.8 L609.0 272.5 L609.2 274.4 L609.4 295.4 L609.7 291.7 L609.9 279.9 L610.1 289.6 L610.3 287.9 L610.5 283.1 L610.8 271.3 L611.0 260.4 L611.2 272.5 L611.4 280.3 L611.6 278.8 L611.9 286.8 L612.1 283.4 L612.3 275.7 L612.5 280.8 L612.7 278.8 L613.0 279.1 L613.2 280.7 L613.4 285.1 L613.6 281.7 L613.8 272.9 L614.1 268.5 L614.3 277.6 L614.5 275.8 L614.7 283.7 L614.9 293.5 L615.2 280.4 L615.4 276.5 L615.6 271.8 L615.8 268.3 L616.0 262.5 L616.3 244.4 L616.5 262.1 L616.7 259.9 L616.9 256.5 L617.1 263.9 L617.4 277.8 L617.6 278.6 L617.8 280.2 L618.0 285.0 L618.2 281.8 L618.5 279.2 L618.7 277.7 L618.9 274.1 L619.1 275.9 L619.3 270.1 L619.6 277.6 L619.8 280.2 L620.0 271.2 L620.2 279.9 L620.4 281.8 L620.7 280.5 L620.9 278.1 L621.1 284.2 L621.3 282.4 L621.5 279.6 L621.8 278.0 L622.0 277.5 L622.2 283.7 L622.4 282.8 L622.6 286.6 L622.9 286.0 L623.1 286.1 L623.3 288.0 L623.5 287.4 L623.7 284.7 L624.0 278.0 L624.2 279.1 L624.4 281.5 L624.6 282.9 L624.8 283.4 L625.1 282.5 L625.3 280.5 L625.5 282.5 L625.7 283.6 L625.9 284.9 L626.2 286.0 L626.4 286.6 L626.6 288.3 L626.8 286.7 L627.0 289.7 L627.2 287.3 L627.5 286.7" fill="none" stroke="#9f22c8" stroke-width="0.7" stroke-linejoin="round"/>
<path d="M477.8 226.5 L478.0 231.4 L478.2 238.1 L478.5 242.0 L478.7 246.8 L478.9 249.5 L479.1 253.0 L479.3 258.0 L479.6 261.2 L479.8 264.5 L480.0 264.1 L480.2 264.7 L480.4 266.5 L480.7 266.7 L480.9 264.5 L481.1 266.0 L481.3 268.4 L481.5 268.7 L481.8 267.0 L482.0 266.4 L482.2 265.8 L482.4 269.4 L482.6 271.9 L482.9 269.8 L483.1 272.0 L483.3 272.4 L483.5 272.4 L483.7 275.2 L484.0 271.8 L484.2 271.9 L484.4 276.3 L484.6 275.3 L484.8 274.8 L485.1 276.0 L485.3 274.5 L485.5 270.3 L485.7 269.3 L485.9 271.1 L486.2 271.1 L486.4 270.8 L486.6 270.2 L486.8 273.6 L487.0 274.3 L487.3 271.8 L487.5 269.8 L487.7 271.4 L487.9 273.1 L488.1 274.2 L488.3 276.8 L488.6 275.8 L488.8 277.5 L489.0 274.7 L489.2 275.1 L489.4 276.3 L489.7 275.1 L489.9 275.0 L490.1 273.4 L490.3 278.7 L490.5 277.7 L490.8 275.8 L491.0 273.8 L491.2 272.3 L491.4 275.1 L491.6 281.0 L491.9 279.5 L492.1 274.7 L492.3 280.4 L492.5 278.9 L492.7 274.7 L493.0 277.0 L493.2 277.5 L493.4 275.0 L493.6 277.6 L493.8 277.1 L494.1 277.5 L494.3 277.2 L494.5 274.7 L494.7 273.3 L494.9 271.5 L495.2 273.9 L495.4 274.7 L495.6 277.6 L495.8 278.2 L496.0 278.3 L496.3 280.6 L496.5 277.8 L496.7 278.8 L496.9 279.5 L497.1 281.0 L497.4 283.1 L497.6 279.7 L497.8 276.9 L498.0 279.5 L498.2 279.6 L498.5 276.4 L498.7 275.8 L498.9 277.1 L499.1 281.6 L499.3 280.6 L499.6 280.2 L499.8 280.4 L500.0 280.1 L500.2 278.3 L500.4 277.7 L500.7 281.9 L500.9 284.8 L501.1 285.9 L501.3 288.8 L501.5 291.4 L501.8 283.2 L502.0 281.3 L502.2 282.0 L502.4 282.4 L502.6 284.7 L502.9 285.7 L503.1 281.8 L503.3 280.9 L503.5 280.0 L503.7 280.4 L504.0 281.9 L504.2 278.1 L504.4 283.2 L504.6 284.5 L504.8 284.5 L505.1 286.3 L505.3 284.8 L505.5 281.5 L505.7 277.7 L505.9 278.9 L506.2 278.7 L506.4 277.7 L506.6 279.0 L506.8 281.6 L507.0 280.8 L507.3 272.7 L507.5 274.6 L507.7 280.8 L507.9 281.4 L508.1 278.8 L508.3 274.3 L508.6 273.6 L508.8 273.7 L509.0 275.9 L509.2 276.6 L509.4 277.0 L509.7 277.2 L509.9 272.6 L510.1 276.3 L510.3 277.3 L510.5 277.5 L510.8 281.2 L511.0 282.5 L511.2 282.6 L511.4 282.1 L511.6 279.7 L511.9 274.0 L512.1 274.3 L512.3 278.9 L512.5 277.3 L512.7 276.1 L513.0 277.1 L513.2 275.3 L513.4 275.4 L513.6 277.7 L513.8 279.2 L514.1 276.4 L514.3 277.1 L514.5 279.7 L514.7 279.0 L514.9 277.9 L515.2 279.1 L515.4 279.0 L515.6 279.0 L515.8 282.8 L516.0 281.1 L516.3 280.1 L516.5 276.3 L516.7 275.3 L516.9 280.9 L517.1 280.7 L517.4 277.6 L517.6 276.7 L517.8 280.1 L518.0 279.9 L518.2 278.8 L518.5 280.2 L518.7 284.2 L518.9 283.5 L519.1 286.1 L519.3 287.7 L519.6 280.9 L519.8 280.5 L520.0 282.6 L520.2 285.1 L520.4 287.2 L520.7 287.0 L520.9 287.1 L521.1 289.0 L521.3 285.2 L521.5 278.0 L521.8 280.9 L522.0 281.9 L522.2 283.3 L522.4 284.2 L522.6 283.9 L522.9 284.6 L523.1 280.7 L523.3 283.5 L523.5 283.1 L523.7 277.7 L524.0 278.0 L524.2 280.8 L524.4 281.1 L524.6 281.1 L524.8 280.6 L525.1 279.9 L525.3 286.1 L525.5 286.1 L525.7 282.9 L525.9 281.5 L526.2 280.4 L526.4 280.5 L526.6 281.1 L526.8 285.0 L527.0 283.7 L527.2 280.2 L527.5 280.1 L527.7 281.0 L527.9 282.0 L528.1 282.6 L528.3 285.0 L528.6 286.3 L528.8 286.6 L529.0 285.4 L529.2 282.8 L529.4 281.8 L529.7 279.3 L529.9 279.2 L530.1 285.7 L530.3 283.4 L530.5 279.0 L530.8 281.1 L531.0 282.1 L531.2 283.1 L531.4 279.1 L531.6 282.4 L531.9 281.7 L532.1 280.0 L532.3 282.9 L532.5 280.0 L532.7 274.9 L533.0 276.4 L533.2 281.8 L533.4 278.4 L533.6 277.3 L533.8 277.2 L534.1 276.7 L534.3 278.5 L534.5 277.8 L534.7 274.5 L534.9 276.7 L535.2 279.8 L535.4 276.7 L535.6 275.0 L535.8 275.9 L536.0 278.1 L536.3 279.5 L536.5 278.6 L536.7 275.7 L536.9 274.8 L537.1 278.1 L537.4 278.9 L537.6 276.5 L537.8 271.3 L538.0 274.1 L538.2 275.0 L538.5 271.9 L538.7 269.3 L538.9 268.9 L539.1 270.3 L539.3 273.1 L539.6 279.4 L539.8 282.2 L540.0 282.0 L540.2 278.7 L540.4 278.2 L540.7 279.3 L540.9 276.1 L541.1 279.3 L541.3 284.9 L541.5 277.7 L541.8 276.1 L542.0 282.0 L542.2 284.2 L542.4 282.4 L542.6 279.2 L542.9 279.8 L543.1 284.3 L543.3 284.8 L543.5 282.8 L543.7 282.5 L544.0 285.0 L544.2 284.4 L544.4 278.6 L544.6 281.2 L544.8 282.2 L545.1 277.1 L545.3 276.6 L545.5 279.0 L545.7 280.8 L545.9 281.3 L546.2 282.1 L546.4 283.3 L546.6 284.2 L546.8 283.9 L547.0 287.0 L547.2 283.4 L547.5 283.9 L547.7 284.4 L547.9 284.4 L548.1 286.2 L548.3 280.9 L548.6 285.3 L548.8 286.7 L549.0 285.5 L549.2 286.2 L549.4 282.6 L549.7 284.1 L549.9 288.0 L550.1 283.2 L550.3 279.2 L550.5 281.6 L550.8 282.9 L551.0 282.5 L551.2 281.0 L551.4 281.0 L551.6 283.3 L551.9 282.1 L552.1 279.6 L552.3 280.6 L552.5 278.6 L552.7 277.6 L553.0 283.0 L553.2 281.7 L553.4 281.6 L553.6 283.6 L553.8 283.6 L554.1 283.4 L554.3 285.0 L554.5 287.8 L554.7 286.9 L554.9 289.1 L555.2 285.9 L555.4 282.9 L555.6 286.2 L555.8 284.5 L556.0 285.8 L556.3 285.0 L556.5 279.8 L556.7 283.9 L556.9 284.5 L557.1 282.0 L557.4 282.7 L557.6 281.4 L557.8 284.2 L558.0 287.8 L558.2 288.2 L558.5 286.8 L558.7 282.5 L558.9 279.7 L559.1 280.5 L559.3 280.5 L559.6 285.1 L559.8 291.2 L560.0 290.6 L560.2 288.8 L560.4 289.2 L560.7 290.6 L560.9 286.5 L561.1 284.5 L561.3 284.1 L561.5 285.3 L561.8 289.5 L562.0 288.2 L562.2 289.6 L562.4 291.1 L562.6 289.3 L562.9 287.7 L563.1 284.0 L563.3 282.9 L563.5 283.8 L563.7 286.1 L564.0 285.3 L564.2 285.0 L564.4 287.6 L564.6 290.4 L564.8 291.1 L565.1 287.3 L565.3 286.4 L565.5 287.8 L565.7 288.5 L565.9 290.6 L566.2 288.3 L566.4 285.8 L566.6 290.2 L566.8 288.9 L567.0 288.2 L567.2 288.2 L567.5 284.3 L567.7 285.7 L567.9 289.4 L568.1 289.0 L568.3 287.1 L568.6 283.4 L568.8 281.0 L569.0 282.2 L569.2 288.0 L569.4 289.5 L569.7 283.3 L569.9 282.7 L570.1 282.4 L570.3 283.8 L570.5 283.4 L570.8 282.3 L571.0 284.6 L571.2 284.8 L571.4 286.5 L571.6 285.0 L571.9 282.5 L572.1 283.9 L572.3 284.1 L572.5 284.1 L572.7 282.3 L573.0 282.7 L573.2 284.1 L573.4 282.5 L573.6 284.4 L573.8 283.7 L574.1 280.9 L574.3 281.2 L574.5 281.5 L574.7 280.3 L574.9 282.3 L575.2 282.7 L575.4 281.4 L575.6 284.4 L575.8 285.2 L576.0 281.6 L576.3 283.6 L576.5 283.3 L576.7 280.6 L576.9 284.2 L577.1 282.3 L577.4 284.4 L577.6 287.5 L577.8 288.0 L578.0 286.6 L578.2 285.1 L578.5 287.6 L578.7 288.7 L578.9 288.7 L579.1 287.3 L579.3 288.7 L579.6 288.1 L579.8 289.0 L580.0 290.0 L580.2 286.3 L580.4 284.3 L580.7 289.9 L580.9 288.0 L581.1 285.5 L581.3 285.5 L581.5 283.3 L581.8 284.6 L582.0 288.6 L582.2 291.2 L582.4 288.6 L582.6 288.2 L582.9 289.0 L583.1 287.9 L583.3 286.0 L583.5 285.9 L583.7 285.3 L584.0 283.1 L584.2 286.4 L584.4 286.9 L584.6 284.3 L584.8 284.6 L585.1 282.2 L585.3 284.1 L585.5 284.9 L585.7 280.9 L585.9 278.6 L586.2 282.4 L586.4 283.8 L586.6 282.5 L586.8 284.5 L587.0 285.4 L587.2 285.6 L587.5 283.5 L587.7 284.1 L587.9 284.2 L588.1 283.7 L588.3 285.5 L588.6 282.1 L588.8 281.3 L589.0 284.1 L589.2 283.3 L589.4 281.5 L589.7 281.4 L589.9 280.2 L590.1 282.3 L590.3 286.1 L590.5 282.6 L590.8 282.6 L591.0 283.8 L591.2 285.5 L591.4 288.7 L591.6 287.3 L591.9 286.5 L592.1 283.4 L592.3 284.3 L592.5 287.6 L592.7 284.8 L593.0 284.4 L593.2 282.7 L593.4 283.1 L593.6 285.3 L593.8 285.4 L594.1 282.9 L594.3 280.3 L594.5 281.5 L594.7 280.9 L594.9 283.6 L595.2 283.2 L595.4 281.2 L595.6 280.1 L595.8 281.0 L596.0 285.5 L596.3 288.1 L596.5 283.4 L596.7 284.8 L596.9 290.3 L597.1 288.6 L597.4 283.6 L597.6 282.9 L597.8 285.9 L598.0 280.3 L598.2 279.7 L598.5 281.8 L598.7 277.8 L598.9 278.0 L599.1 279.9 L599.3 277.6 L599.6 281.4 L599.8 283.8 L600.0 279.9 L600.2 278.1 L600.4 281.3 L600.7 282.8 L600.9 282.7 L601.1 284.9 L601.3 285.9 L601.5 284.1 L601.8 282.0 L602.0 282.6 L602.2 287.8 L602.4 290.9 L602.6 286.0 L602.9 281.1 L603.1 281.7 L603.3 287.8 L603.5 288.4 L603.7 284.9 L604.0 280.8 L604.2 279.0 L604.4 279.7 L604.6 282.3 L604.8 279.9 L605.1 280.3 L605.3 282.7 L605.5 280.4 L605.7 282.5 L605.9 283.3 L606.2 281.4 L606.4 281.8 L606.6 283.9 L606.8 282.3 L607.0 277.5 L607.2 275.1 L607.5 279.5 L607.7 279.5 L607.9 279.1 L608.1 278.9 L608.3 280.3 L608.6 278.5 L608.8 277.3 L609.0 282.2 L609.2 280.7 L609.4 277.9 L609.7 277.7 L609.9 280.8 L610.1 283.6 L610.3 283.2 L610.5 285.1 L610.8 286.3 L611.0 280.3 L611.2 281.0 L611.4 288.2 L611.6 286.3 L611.9 282.2 L612.1 280.6 L612.3 279.1 L612.5 279.9 L612.7 282.6 L613.0 282.1 L613.2 280.7 L613.4 281.4 L613.6 277.2 L613.8 277.6 L614.1 277.6 L614.3 280.6 L614.5 282.9 L614.7 281.3 L614.9 283.5 L615.2 280.3 L615.4 277.5 L615.6 278.9 L615.8 279.6 L616.0 279.8 L616.3 283.7 L616.5 282.7 L616.7 280.4 L616.9 280.1 L617.1 279.8 L617.4 279.4 L617.6 280.8 L617.8 282.7 L618.0 280.2 L618.2 277.9 L618.5 281.5 L618.7 282.5 L618.9 277.6 L619.1 277.2 L619.3 278.0 L619.6 278.9 L619.8 278.8 L620.0 279.0 L620.2 281.5 L620.4 278.4 L620.7 275.7 L620.9 281.1 L621.1 280.1 L621.3 279.4 L621.5 279.8 L621.8 282.1 L622.0 283.6 L622.2 279.1 L622.4 276.1 L622.6 274.9 L622.9 275.2 L623.1 275.2 L623.3 279.4 L623.5 284.0 L623.7 288.2 L624.0 285.7 L624.2 282.4 L624.4 280.3 L624.6 280.9 L624.8 281.0 L625.1 282.9 L625.3 282.7 L625.5 278.8 L625.7 279.2 L625.9 276.8 L626.2 279.9 L626.4 278.9 L626.6 278.3 L626.8 279.5 L627.0 277.4 L627.2 278.9 L627.5 280.4 L627.7 280.1 L627.9 279.1 L628.1 282.6 L628.3 280.6 L628.6 275.7 L628.8 276.8 L629.0 278.1 L629.2 277.7 L629.4 278.7 L629.7 276.6 L629.9 278.8 L630.1 280.4 L630.3 279.6 L630.5 281.5 L630.8 280.7 L631.0 283.8 L631.2 287.4 L631.4 285.1 L631.6 284.6 L631.9 285.3 L632.1 279.2 L632.3 277.0 L632.5 279.0 L632.7 283.3 L633.0 282.7 L633.2 279.3 L633.4 279.2 L633.6 278.2 L633.8 275.5 L634.1 276.3 L634.3 276.6 L634.5 279.4 L634.7 281.7 L634.9 281.5 L635.2 278.5 L635.4 276.2 L635.6 277.8 L635.8 276.5 L636.0 276.8 L636.3 274.5 L636.5 273.9 L636.7 276.6 L636.9 278.2 L637.1 276.6 L637.4 281.2 L637.6 281.4 L637.8 278.9 L638.0 281.3 L638.2 279.9 L638.5 278.9 L638.7 279.0 L638.9 284.0 L639.1 284.3 L639.3 278.9 L639.6 277.7 L639.8 276.8 L640.0 271.2 L640.2 267.0 L640.4 264.2 L640.7 258.8 L640.9 258.7 L641.1 259.7 L641.3 255.1 L641.5 255.3 L641.8 256.9 L642.0 259.3 L642.2 255.7 L642.4 251.5 L642.6 256.6 L642.9 254.5 L643.1 253.1 L643.3 254.6 L643.5 256.2 L643.7 254.7 L644.0 252.6 L644.2 254.4 L644.4 255.5 L644.6 253.3 L644.8 253.9 L645.1 258.5 L645.3 255.9 L645.5 257.6 L645.7 259.2 L645.9 261.6 L646.1 264.8 L646.4 264.8 L646.6 264.4 L646.8 262.8 L647.0 266.3 L647.2 268.5 L647.5 270.8 L647.7 271.8 L647.9 273.7 L648.1 273.5 L648.3 273.4 L648.6 274.5 L648.8 270.9 L649.0 271.1 L649.2 273.3 L649.4 271.9 L649.7 277.4 L649.9 279.4 L650.1 273.7 L650.3 277.9 L650.5 281.0 L650.8 272.6 L651.0 271.3 L651.2 277.9 L651.4 277.1 L651.6 278.3 L651.9 278.7 L652.1 276.4 L652.3 277.6 L652.5 275.4 L652.7 273.2 L653.0 274.6 L653.2 278.9 L653.4 292.8 L653.6 305.9 L653.8 318.4 L654.1 330.8 L654.3 342.3 L654.5 337.5 L654.7 333.6 L654.9 328.4 L655.2 328.1 L655.4 323.5 L655.6 319.1 L655.8 320.3 L656.0 315.1 L656.3 312.5 L656.5 310.5 L656.7 306.7 L656.9 308.9 L657.1 306.8 L657.4 310.6 L657.6 315.2 L657.8 316.1 L658.0 319.0 L658.2 321.1 L658.5 317.5 L658.7 315.1 L658.9 319.4 L659.1 319.9 L659.3 310.6 L659.6 308.4 L659.8 317.4 L660.0 318.7 L660.2 314.2 L660.4 313.8 L660.7 316.6 L660.9 316.2 L661.1 318.5 L661.3 318.9 L661.5 314.9 L661.8 315.0 L662.0 318.4 L662.2 324.6 L662.4 323.8 L662.6 315.0 L662.9 319.0 L663.1 320.9 L663.3 322.2 L663.5 322.5 L663.7 319.9 L664.0 324.8 L664.2 323.4 L664.4 316.2 L664.6 316.6 L664.8 321.4 L665.1 321.2 L665.3 319.1 L665.5 317.5 L665.7 317.9 L665.9 318.8 L666.1 315.8 L666.4 315.0 L666.6 316.1 L666.8 317.3 L667.0 318.1 L667.2 317.2 L667.5 316.6 L667.7 315.7 L667.9 311.6 L668.1 311.6 L668.3 315.4 L668.6 319.5 L668.8 316.3 L669.0 312.9 L669.2 313.6 L669.4 312.2 L669.7 315.2 L669.9 314.7 L670.1 315.7 L670.3 318.7 L670.5 313.4 L670.8 313.9 L671.0 316.0 L671.2 312.5 L671.4 314.0 L671.6 309.3 L671.9 307.4 L672.1 307.7 L672.3 302.8 L672.5 306.3 L672.7 311.1 L673.0 311.9 L673.2 316.1 L673.4 320.3 L673.6 324.6 L673.8 331.5 L674.1 337.1 L674.3 343.6 L674.5 349.5 L674.7 354.6 L674.9 359.2 L675.2 363.3 L675.4 367.2 L675.6 371.3" fill="none" stroke="#000" stroke-width="0.7" stroke-linejoin="round"/>
<line x1="477.60" y1="226.0" x2="477.60" y2="382.35" stroke="#999" stroke-width="0.9"/>
<line x1="477.15" y1="382.35" x2="675.6" y2="382.35" stroke="#555" stroke-width="0.75"/>
<line x1="477.8" y1="382.3" x2="477.8" y2="380.3" stroke="#555" stroke-width="0.6"/>
<line x1="510.8" y1="382.3" x2="510.8" y2="380.3" stroke="#555" stroke-width="0.6"/>
<line x1="543.7" y1="382.3" x2="543.7" y2="380.3" stroke="#555" stroke-width="0.6"/>
<line x1="576.7" y1="382.3" x2="576.7" y2="380.3" stroke="#555" stroke-width="0.6"/>
<line x1="609.7" y1="382.3" x2="609.7" y2="380.3" stroke="#555" stroke-width="0.6"/>
<line x1="642.6" y1="382.3" x2="642.6" y2="380.3" stroke="#555" stroke-width="0.6"/>
<line x1="675.6" y1="382.3" x2="675.6" y2="380.3" stroke="#555" stroke-width="0.6"/>
<line x1="477.8" y1="382.3" x2="480.2" y2="382.3" stroke="#555" stroke-width="0.6"/>
<line x1="477.8" y1="362.8" x2="480.2" y2="362.8" stroke="#555" stroke-width="0.6"/>
<line x1="477.8" y1="343.2" x2="480.2" y2="343.2" stroke="#555" stroke-width="0.6"/>
<line x1="477.8" y1="323.7" x2="480.2" y2="323.7" stroke="#555" stroke-width="0.6"/>
<line x1="477.8" y1="304.1" x2="480.2" y2="304.1" stroke="#555" stroke-width="0.6"/>
<line x1="477.8" y1="284.6" x2="480.2" y2="284.6" stroke="#555" stroke-width="0.6"/>
<line x1="477.8" y1="265.1" x2="480.2" y2="265.1" stroke="#555" stroke-width="0.6"/>
<line x1="477.8" y1="245.5" x2="480.2" y2="245.5" stroke="#555" stroke-width="0.6"/>
<line x1="477.8" y1="226.0" x2="480.2" y2="226.0" stroke="#555" stroke-width="0.6"/>
<text x="452.6" y="384.9" textLength="28.0" lengthAdjust="spacingAndGlyphs" font-size="9.8" fill="#000">-0.25</text>
<text x="455.9" y="365.4" textLength="21.4" lengthAdjust="spacingAndGlyphs" font-size="9.8" fill="#000">-0.2</text>
<text x="452.6" y="345.9" textLength="28.0" lengthAdjust="spacingAndGlyphs" font-size="9.8" fill="#000">-0.15</text>
<text x="455.9" y="326.3" textLength="21.4" lengthAdjust="spacingAndGlyphs" font-size="9.8" fill="#000">-0.1</text>
<text x="452.6" y="306.8" textLength="28.0" lengthAdjust="spacingAndGlyphs" font-size="9.8" fill="#000">-0.05</text>
<text x="463.3" y="287.3" textLength="6.5" lengthAdjust="spacingAndGlyphs" font-size="9.8" fill="#000">0</text>
<text x="454.9" y="267.7" textLength="23.4" lengthAdjust="spacingAndGlyphs" font-size="9.8" fill="#000">0.05</text>
<text x="458.2" y="248.2" textLength="16.8" lengthAdjust="spacingAndGlyphs" font-size="9.8" fill="#000">0.1</text>
<text x="454.9" y="228.7" textLength="23.4" lengthAdjust="spacingAndGlyphs" font-size="9.8" fill="#000">0.15</text>
<text x="475.8" y="391.6" textLength="6.5" lengthAdjust="spacingAndGlyphs" font-size="9.8" fill="#000">0</text>
<text x="508.8" y="391.6" textLength="6.5" lengthAdjust="spacingAndGlyphs" font-size="9.8" fill="#000">5</text>
<text x="540.8" y="391.6" textLength="13.1" lengthAdjust="spacingAndGlyphs" font-size="9.8" fill="#000">10</text>
<text x="573.8" y="391.6" textLength="13.1" lengthAdjust="spacingAndGlyphs" font-size="9.8" fill="#000">15</text>
<text x="606.7" y="391.6" textLength="13.1" lengthAdjust="spacingAndGlyphs" font-size="9.8" fill="#000">20</text>
<text x="639.7" y="391.6" textLength="13.1" lengthAdjust="spacingAndGlyphs" font-size="9.8" fill="#000">25</text>
<text x="672.7" y="391.6" textLength="13.1" lengthAdjust="spacingAndGlyphs" font-size="9.8" fill="#000">30</text>
<text x="564.7" y="400.0" textLength="54.8" lengthAdjust="spacingAndGlyphs" font-size="9.2" fill="#000" word-spacing="1.5">Time in s</text>
<text transform="translate(450.0,361.8) rotate(-90)" x="0" y="0" textLength="112.8" lengthAdjust="spacingAndGlyphs" font-size="11.0" word-spacing="2.2">Mean intensity in 1</text>
<line x1="543.6" y1="266.4" x2="639.5" y2="296.9" stroke="#25b2e8" stroke-width="1.35" stroke-dasharray="5.2 4.2"/>
<line x1="529.2" y1="309.9" x2="568.5" y2="380.7" stroke="#25b2e8" stroke-width="1.35" stroke-dasharray="5.2 4.2"/>
<line x1="543.6" y1="309.9" x2="639.5" y2="380.7" stroke="#25b2e8" stroke-width="1.35" stroke-dasharray="5.2 4.2"/>
<rect x="529.2" y="266.4" width="14.4" height="43.5" fill="none" stroke="#25b2e8" stroke-width="1.35"/>
<rect x="568.5" y="296.9" width="71.0" height="83.8" fill="#fff"/>
<g clip-path="url(#ciD)">
<line x1="577.8" y1="296.9" x2="577.8" y2="380.7" stroke="#e9e9e9" stroke-width="0.6"/>
<line x1="611.0" y1="296.9" x2="611.0" y2="380.7" stroke="#e9e9e9" stroke-width="0.6"/>
<line x1="568.5" y1="304.2" x2="639.5" y2="304.2" stroke="#e9e9e9" stroke-width="0.6"/>
<line x1="568.5" y1="323.8" x2="639.5" y2="323.8" stroke="#e9e9e9" stroke-width="0.6"/>
<line x1="568.5" y1="343.4" x2="639.5" y2="343.4" stroke="#e9e9e9" stroke-width="0.6"/>
<line x1="568.5" y1="363.0" x2="639.5" y2="363.0" stroke="#e9e9e9" stroke-width="0.6"/>
<path d="M568.3 363.9 L568.5 363.8 L568.7 363.5 L568.9 363.0 L569.0 362.3 L569.2 361.6 L569.4 360.9 L569.6 360.3 L569.8 359.8 L569.9 359.5 L570.1 359.4 L570.2 359.5 L570.3 359.9 L570.4 360.5 L570.4 361.2 L570.5 362.0 L570.6 362.8 L570.7 363.6 L570.7 364.2 L570.8 364.5 L570.9 364.7 L571.0 363.1 L571.2 358.4 L571.3 351.1 L571.4 342.0 L571.6 331.9 L571.7 321.7 L571.8 312.6 L572.0 305.3 L572.1 300.6 L572.2 299.0 L572.4 300.7 L572.5 305.7 L572.7 313.3 L572.8 323.0 L573.0 333.7 L573.1 344.5 L573.3 354.1 L573.4 361.8 L573.6 366.7 L573.8 368.4 L573.9 368.2 L574.0 367.6 L574.2 366.7 L574.3 365.6 L574.4 364.3 L574.6 363.0 L574.7 361.8 L574.8 360.9 L575.0 360.3 L575.1 360.1 L575.2 360.3 L575.4 360.7 L575.5 361.4 L575.6 362.2 L575.7 363.2 L575.8 364.1 L576.0 364.9 L576.1 365.6 L576.2 366.0 L576.3 366.2 L576.4 366.1 L576.4 366.0 L576.5 365.8 L576.6 365.5 L576.6 365.3 L576.7 365.0 L576.7 364.7 L576.8 364.5 L576.9 364.4 L576.9 364.4 L577.1 362.8 L577.2 358.1 L577.3 350.9 L577.5 341.8 L577.6 331.7 L577.7 321.6 L577.9 312.5 L578.0 305.3 L578.1 300.6 L578.3 299.0 L578.4 300.7 L578.6 305.6 L578.7 313.3 L578.9 322.9 L579.0 333.6 L579.2 344.3 L579.3 353.9 L579.5 361.5 L579.6 366.4 L579.8 368.1 L579.9 367.9 L580.1 367.3 L580.2 366.4 L580.3 365.3 L580.5 364.0 L580.6 362.7 L580.7 361.5 L580.9 360.6 L581.0 360.0 L581.1 359.8 L581.3 360.0 L581.4 360.4 L581.5 361.1 L581.6 361.9 L581.7 362.9 L581.9 363.8 L582.0 364.6 L582.1 365.3 L582.2 365.7 L582.4 365.9 L582.4 365.8 L582.5 365.8 L582.5 365.6 L582.6 365.5 L582.7 365.3 L582.7 365.1 L582.8 364.9 L582.8 364.8 L582.9 364.7 L583.0 364.7 L583.1 363.1 L583.2 358.4 L583.4 351.2 L583.5 342.1 L583.6 332.0 L583.8 321.9 L583.9 312.8 L584.0 305.6 L584.2 300.9 L584.3 299.3 L584.5 301.0 L584.6 305.9 L584.8 313.6 L584.9 323.2 L585.1 333.9 L585.2 344.6 L585.4 354.2 L585.5 361.8 L585.7 366.7 L585.8 368.4 L586.0 368.2 L586.1 367.6 L586.2 366.7 L586.4 365.6 L586.5 364.3 L586.6 363.0 L586.8 361.8 L586.9 360.9 L587.0 360.3 L587.2 360.1 L587.3 360.3 L587.4 360.7 L587.5 361.4 L587.7 362.2 L587.8 363.2 L587.9 364.1 L588.0 364.9 L588.1 365.6 L588.3 366.0 L588.4 366.2 L588.4 366.1 L588.5 366.0 L588.6 365.7 L588.6 365.4 L588.7 365.0 L588.7 364.7 L588.8 364.4 L588.9 364.1 L588.9 364.0 L589.0 363.9 L589.1 362.3 L589.3 357.6 L589.4 350.4 L589.5 341.2 L589.7 331.1 L589.8 321.0 L589.9 311.8 L590.1 304.5 L590.2 299.9 L590.3 298.3 L590.5 300.0 L590.6 304.9 L590.8 312.6 L591.0 322.3 L591.1 333.0 L591.3 343.7 L591.4 353.4 L591.6 361.1 L591.7 366.0 L591.9 367.7 L592.0 367.5 L592.1 366.9 L592.3 366.0 L592.4 364.8 L592.5 363.5 L592.7 362.3 L592.8 361.1 L592.9 360.2 L593.1 359.6 L593.2 359.4 L593.3 359.5 L593.5 360.0 L593.6 360.6 L593.7 361.5 L593.8 362.4 L593.9 363.3 L594.1 364.2 L594.2 364.8 L594.3 365.3 L594.4 365.4 L594.5 365.4 L594.5 365.2 L594.6 365.0 L594.7 364.6 L594.7 364.3 L594.8 363.9 L594.8 363.6 L594.9 363.4 L595.0 363.2 L595.0 363.2 L595.2 361.7 L595.3 357.4 L595.4 350.6 L595.6 342.2 L595.7 332.8 L595.8 323.4 L596.0 314.9 L596.1 308.2 L596.2 303.8 L596.4 302.4 L596.5 303.9 L596.7 308.5 L596.8 315.7 L597.0 324.7 L597.1 334.6 L597.3 344.6 L597.4 353.6 L597.6 360.8 L597.7 365.3 L597.9 366.9 L598.0 366.7 L598.2 366.1 L598.3 365.2 L598.4 364.1 L598.6 362.8 L598.7 361.5 L598.8 360.3 L599.0 359.4 L599.1 358.8 L599.2 358.6 L599.4 358.8 L599.5 359.2 L599.6 359.9 L599.7 360.7 L599.9 361.6 L600.0 362.6 L600.1 363.4 L600.2 364.1 L600.3 364.5 L600.5 364.7 L600.5 364.7 L600.6 364.7 L600.6 364.7 L600.7 364.7 L600.8 364.7 L600.8 364.7 L600.9 364.7 L600.9 364.7 L601.0 364.7 L601.1 364.7 L601.2 363.1 L601.3 358.6 L601.5 351.6 L601.6 342.8 L601.7 333.0 L601.9 323.2 L602.0 314.4 L602.1 307.3 L602.3 302.8 L602.4 301.3 L602.6 302.9 L602.7 307.7 L602.9 315.1 L603.0 324.5 L603.2 334.9 L603.3 345.2 L603.5 354.6 L603.6 362.0 L603.8 366.8 L603.9 368.4 L604.1 368.2 L604.2 367.6 L604.3 366.7 L604.5 365.6 L604.6 364.3 L604.7 363.0 L604.9 361.8 L605.0 360.9 L605.1 360.3 L605.3 360.1 L605.4 360.3 L605.5 360.7 L605.6 361.4 L605.8 362.2 L605.9 363.2 L606.0 364.1 L606.1 364.9 L606.2 365.6 L606.4 366.0 L606.5 366.2 L606.6 366.1 L606.7 366.0 L606.8 365.7 L606.9 365.4 L606.9 365.0 L607.0 364.7 L607.1 364.4 L607.2 364.1 L607.3 364.0 L607.4 363.9 L607.5 362.4 L607.7 357.9 L607.8 350.9 L607.9 342.1 L608.1 332.4 L608.2 322.6 L608.3 313.8 L608.5 306.9 L608.6 302.4 L608.8 300.8 L608.9 302.5 L609.1 307.2 L609.2 314.6 L609.4 323.9 L609.5 334.3 L609.7 344.6 L609.8 353.9 L610.0 361.3 L610.1 366.0 L610.3 367.7 L610.4 367.5 L610.5 366.9 L610.7 366.0 L610.8 364.8 L610.9 363.5 L611.1 362.3 L611.2 361.1 L611.3 360.2 L611.5 359.6 L611.6 359.4 L611.7 359.5 L611.9 360.0 L612.0 360.6 L612.1 361.5 L612.2 362.4 L612.3 363.3 L612.5 364.2 L612.6 364.8 L612.7 365.3 L612.8 365.4 L612.9 365.4 L612.9 365.2 L613.0 365.0 L613.1 364.6 L613.1 364.3 L613.2 363.9 L613.2 363.6 L613.3 363.4 L613.4 363.2 L613.4 363.2 L613.6 361.6 L613.7 357.2 L613.8 350.3 L614.0 341.6 L614.1 332.0 L614.2 322.4 L614.4 313.7 L614.5 306.8 L614.7 302.4 L614.8 300.8 L614.9 302.5 L615.1 307.2 L615.2 314.5 L615.4 323.7 L615.5 333.9 L615.7 344.1 L615.8 353.3 L616.0 360.6 L616.1 365.3 L616.3 366.9 L616.4 366.7 L616.6 366.1 L616.7 365.2 L616.8 364.1 L617.0 362.8 L617.1 361.5 L617.2 360.3 L617.4 359.4 L617.5 358.8 L617.7 358.6 L617.8 358.8 L617.9 359.2 L618.0 359.9 L618.1 360.7 L618.3 361.6 L618.4 362.6 L618.5 363.4 L618.6 364.1 L618.7 364.5 L618.9 364.7 L618.9 364.6 L619.0 364.4 L619.0 364.2 L619.1 363.9 L619.2 363.5 L619.2 363.2 L619.3 362.9 L619.3 362.6 L619.4 362.5 L619.5 362.4 L619.6 360.9 L619.7 356.4 L619.9 349.5 L620.0 340.8 L620.1 331.1 L620.3 321.4 L620.4 312.7 L620.6 305.8 L620.7 301.3 L620.8 299.8 L621.0 301.4 L621.1 306.1 L621.3 313.5 L621.4 322.7 L621.6 333.0 L621.7 343.2 L621.9 352.5 L622.0 359.8 L622.2 364.5 L622.3 366.2 L622.5 366.0 L622.6 365.4 L622.7 364.5 L622.9 363.3 L623.0 362.0 L623.1 360.7 L623.3 359.6 L623.4 358.7 L623.6 358.1 L623.7 357.9 L623.8 358.0 L623.9 358.5 L624.1 359.1 L624.2 360.0 L624.3 360.9 L624.4 361.8 L624.5 362.7 L624.7 363.3 L624.8 363.8 L624.9 363.9 L625.0 363.9 L625.0 363.7 L625.1 363.4 L625.1 363.1 L625.2 362.8 L625.3 362.4 L625.3 362.1 L625.4 361.9 L625.4 361.7 L625.5 361.6 L625.6 360.1 L625.8 355.7 L625.9 348.8 L626.0 340.1 L626.2 330.5 L626.3 320.9 L626.5 312.2 L626.6 305.3 L626.7 300.9 L626.9 299.3 L627.0 301.0 L627.2 305.6 L627.3 313.0 L627.5 322.2 L627.6 332.4 L627.8 342.6 L627.9 351.8 L628.1 359.1 L628.2 363.8 L628.4 365.4 L628.5 365.2 L628.6 364.6 L628.8 363.7 L628.9 362.6 L629.0 361.3 L629.2 360.0 L629.3 358.8 L629.5 357.9 L629.6 357.3 L629.7 357.1 L629.8 357.3 L630.0 357.7 L630.1 358.4 L630.2 359.2 L630.3 360.1 L630.4 361.1 L630.6 361.9 L630.7 362.6 L630.8 363.0 L630.9 363.2 L631.0 363.1 L631.1 362.9 L631.2 362.5 L631.3 362.1 L631.4 361.6 L631.5 361.2 L631.6 360.8 L631.7 360.4 L631.7 360.2 L631.8 360.1 L632.0 358.7 L632.1 354.6 L632.2 348.2 L632.4 340.1 L632.5 331.1 L632.7 322.1 L632.8 314.0 L632.9 307.6 L633.1 303.5 L633.2 302.1 L633.3 303.6 L633.5 308.0 L633.6 314.8 L633.8 323.4 L633.9 333.0 L634.1 342.5 L634.3 351.2 L634.4 358.0 L634.6 362.4 L634.7 363.9 L634.8 363.7 L635.0 363.1 L635.1 362.2 L635.2 361.0 L635.4 359.8 L635.5 358.5 L635.7 357.3 L635.8 356.4 L635.9 355.8 L636.1 355.6 L636.2 355.8 L636.3 356.2 L636.4 356.9 L636.5 357.7 L636.7 358.6 L636.8 359.6 L636.9 360.4 L637.0 361.1 L637.1 361.5 L637.3 361.6 L637.5 361.6 L637.7 361.3 L637.9 360.9 L638.2 360.3 L638.4 359.8 L638.6 359.2 L638.9 358.7 L639.1 358.2 L639.3 358.0 L639.5 357.9" fill="none" stroke="#eeae38" stroke-width="0.9" stroke-linejoin="round"/>
<path d="M568.3 342.8 L568.5 342.6 L568.6 342.2 L568.8 341.5 L569.0 340.5 L569.1 339.4 L569.3 338.3 L569.5 337.1 L569.6 336.0 L569.8 335.1 L570.0 334.3 L570.1 333.9 L570.3 333.7 L570.4 334.1 L570.5 335.1 L570.7 336.6 L570.8 338.6 L570.9 341.0 L571.0 343.5 L571.2 346.1 L571.3 348.4 L571.4 350.5 L571.5 352.0 L571.7 353.0 L571.8 353.4 L572.0 352.9 L572.2 351.7 L572.4 349.7 L572.6 347.1 L572.9 344.1 L573.1 340.9 L573.3 337.7 L573.5 334.7 L573.7 332.1 L573.9 330.1 L574.1 328.9 L574.4 328.5 L574.5 329.2 L574.6 331.3 L574.7 334.8 L574.9 339.2 L575.0 344.4 L575.1 350.0 L575.2 355.5 L575.4 360.7 L575.5 365.2 L575.6 368.6 L575.7 370.7 L575.9 371.5 L576.1 371.0 L576.3 369.5 L576.5 367.3 L576.7 364.3 L576.9 360.8 L577.1 357.1 L577.3 353.4 L577.5 350.0 L577.7 347.0 L577.9 344.7 L578.1 343.3 L578.3 342.8 L578.4 343.2 L578.5 344.5 L578.5 346.5 L578.6 349.2 L578.7 352.3 L578.8 355.6 L578.9 358.9 L579.0 362.0 L579.1 364.7 L579.2 366.7 L579.2 368.0 L579.3 368.4 L579.5 367.7 L579.7 365.5 L579.8 361.9 L580.0 357.3 L580.2 351.9 L580.3 346.2 L580.5 340.4 L580.6 335.1 L580.8 330.4 L581.0 326.9 L581.1 324.7 L581.3 323.9 L581.4 324.9 L581.6 327.6 L581.7 331.9 L581.9 337.5 L582.0 344.1 L582.2 351.1 L582.4 358.1 L582.5 364.7 L582.7 370.3 L582.8 374.6 L583.0 377.3 L583.1 378.2 L583.3 377.3 L583.4 374.4 L583.6 369.8 L583.7 363.9 L583.9 357.0 L584.0 349.6 L584.2 342.2 L584.3 335.2 L584.5 329.3 L584.6 324.8 L584.8 321.9 L584.9 320.9 L585.1 321.7 L585.2 324.2 L585.4 328.1 L585.6 333.2 L585.7 339.1 L585.9 345.4 L586.1 351.8 L586.2 357.7 L586.4 362.8 L586.5 366.7 L586.7 369.1 L586.9 369.9 L587.0 369.1 L587.2 366.8 L587.4 363.1 L587.5 358.3 L587.7 352.6 L587.9 346.6 L588.0 340.5 L588.2 334.9 L588.3 330.0 L588.5 326.3 L588.7 324.0 L588.8 323.2 L589.0 323.9 L589.2 326.2 L589.4 329.8 L589.5 334.5 L589.7 339.9 L589.9 345.8 L590.1 351.7 L590.2 357.1 L590.4 361.8 L590.6 365.4 L590.8 367.7 L591.0 368.4 L591.1 367.8 L591.3 366.1 L591.5 363.2 L591.7 359.6 L591.9 355.3 L592.1 350.7 L592.3 346.1 L592.5 341.8 L592.6 338.2 L592.8 335.4 L593.0 333.6 L593.2 333.0 L593.4 333.5 L593.7 335.0 L593.9 337.3 L594.1 340.3 L594.3 343.9 L594.6 347.7 L594.8 351.5 L595.0 355.0 L595.3 358.1 L595.5 360.4 L595.7 361.9 L595.9 362.4 L596.1 361.9 L596.3 360.6 L596.5 358.4 L596.7 355.6 L596.9 352.3 L597.1 348.8 L597.2 345.3 L597.4 342.0 L597.6 339.2 L597.8 337.1 L598.0 335.7 L598.2 335.2 L598.3 335.7 L598.5 337.2 L598.6 339.4 L598.8 342.4 L598.9 345.9 L599.1 349.6 L599.2 353.3 L599.4 356.7 L599.6 359.7 L599.7 362.0 L599.9 363.4 L600.0 363.9 L600.2 363.4 L600.4 362.0 L600.6 359.8 L600.8 356.9 L600.9 353.6 L601.1 350.0 L601.3 346.3 L601.5 343.0 L601.7 340.1 L601.9 337.9 L602.1 336.5 L602.3 336.0 L602.5 336.3 L602.8 337.3 L603.1 338.8 L603.3 340.7 L603.6 343.0 L603.9 345.4 L604.1 347.9 L604.4 350.1 L604.6 352.1 L604.9 353.6 L605.2 354.5 L605.4 354.9 L605.6 354.6 L605.8 353.6 L606.0 352.2 L606.2 350.3 L606.4 348.1 L606.6 345.8 L606.8 343.5 L606.9 341.3 L607.1 339.4 L607.3 338.0 L607.5 337.1 L607.7 336.8 L607.9 337.2 L608.1 338.4 L608.3 340.3 L608.6 342.8 L608.8 345.7 L609.0 348.8 L609.2 351.9 L609.4 354.9 L609.6 357.4 L609.8 359.3 L610.0 360.5 L610.3 360.9 L610.5 360.5 L610.8 359.5 L611.1 357.8 L611.4 355.6 L611.6 353.1 L611.9 350.3 L612.2 347.6 L612.5 345.1 L612.8 342.9 L613.0 341.2 L613.3 340.1 L613.6 339.8 L613.7 340.0 L613.9 340.7 L614.1 341.8 L614.2 343.2 L614.4 344.8 L614.6 346.6 L614.7 348.3 L614.9 350.0 L615.1 351.4 L615.2 352.4 L615.4 353.1 L615.5 353.4 L615.7 353.1 L615.8 352.2 L616.0 350.8 L616.1 349.0 L616.3 346.9 L616.4 344.7 L616.6 342.4 L616.8 340.3 L616.9 338.5 L617.1 337.2 L617.2 336.3 L617.4 336.0 L617.8 336.6 L618.2 338.3 L618.6 341.0 L619.0 344.5 L619.4 348.6 L619.8 353.0 L620.3 357.4 L620.7 361.5 L621.1 365.0 L621.5 367.7 L621.9 369.4 L622.3 369.9 L622.5 369.2 L622.6 367.1 L622.8 363.6 L622.9 359.2 L623.1 354.0 L623.2 348.4 L623.4 342.9 L623.5 337.7 L623.7 333.2 L623.8 329.8 L624.0 327.7 L624.1 326.9 L624.3 327.6 L624.5 329.5 L624.6 332.6 L624.8 336.6 L625.0 341.2 L625.1 346.2 L625.3 351.2 L625.5 355.8 L625.6 359.8 L625.8 362.8 L625.9 364.8 L626.1 365.4 L626.3 364.8 L626.5 363.1 L626.7 360.3 L626.9 356.7 L627.0 352.6 L627.2 348.1 L627.4 343.6 L627.6 339.4 L627.8 335.8 L628.0 333.0 L628.2 331.3 L628.4 330.7 L628.5 331.2 L628.6 332.7 L628.7 335.1 L628.9 338.3 L629.0 341.9 L629.1 345.8 L629.2 349.7 L629.4 353.4 L629.5 356.5 L629.6 358.9 L629.8 360.4 L629.9 360.9 L630.0 360.5 L630.2 359.5 L630.3 357.8 L630.5 355.6 L630.6 353.1 L630.8 350.3 L630.9 347.6 L631.1 345.1 L631.2 342.9 L631.4 341.2 L631.5 340.1 L631.7 339.8 L631.9 340.1 L632.0 340.9 L632.2 342.2 L632.3 343.9 L632.5 345.9 L632.7 348.1 L632.8 350.2 L633.0 352.2 L633.2 353.9 L633.3 355.3 L633.5 356.1 L633.6 356.4 L633.8 356.1 L634.0 355.5 L634.2 354.4 L634.4 353.0 L634.6 351.3 L634.8 349.6 L635.0 347.8 L635.2 346.2 L635.3 344.8 L635.5 343.7 L635.7 343.0 L635.9 342.8 L636.1 343.0 L636.3 343.5 L636.5 344.3 L636.7 345.4 L636.9 346.7 L637.0 348.1 L637.2 349.4 L637.4 350.7 L637.6 351.8 L637.8 352.6 L638.0 353.2 L638.2 353.4 L638.3 353.3 L638.4 353.1 L638.5 352.9 L638.6 352.6 L638.7 352.2 L638.9 351.8 L639.0 351.5 L639.1 351.1 L639.2 350.8 L639.3 350.5 L639.4 350.4 L639.5 350.3" fill="none" stroke="#ea66d4" stroke-width="0.85" stroke-linejoin="round"/>
<path d="M568.3 350.0 L568.6 350.0 L568.8 349.9 L569.1 349.8 L569.4 349.6 L569.6 349.4 L569.9 349.3 L570.2 349.2 L570.4 349.1 L570.6 349.2 L570.8 349.4 L571.0 349.7 L571.2 350.0 L571.4 350.4 L571.6 350.7 L571.8 350.9 L571.9 350.9 L572.1 350.8 L572.2 350.4 L572.4 349.7 L572.5 349.0 L572.7 348.2 L572.8 347.6 L573.0 347.2 L573.1 347.0 L573.3 347.1 L573.4 347.5 L573.6 348.0 L573.8 348.7 L573.9 349.3 L574.1 349.8 L574.2 350.2 L574.4 350.3 L574.6 350.3 L574.9 350.2 L575.1 350.0 L575.4 349.7 L575.7 349.5 L575.9 349.3 L576.2 349.2 L576.5 349.1 L576.7 349.2 L576.8 349.4 L577.0 349.7 L577.2 350.0 L577.4 350.4 L577.6 350.7 L577.8 350.9 L578.0 350.9 L578.1 350.8 L578.3 350.4 L578.4 349.7 L578.6 349.0 L578.7 348.2 L578.9 347.6 L579.0 347.2 L579.2 347.0 L579.3 347.1 L579.5 347.5 L579.6 348.0 L579.8 348.7 L579.9 349.3 L580.1 349.8 L580.2 350.2 L580.4 350.3 L580.7 350.3 L580.9 350.2 L581.2 350.0 L581.4 349.7 L581.7 349.5 L582.0 349.3 L582.2 349.2 L582.5 349.1 L582.7 349.2 L582.9 349.4 L583.1 349.7 L583.3 350.0 L583.4 350.4 L583.6 350.7 L583.8 350.9 L584.0 350.9 L584.2 350.8 L584.3 350.4 L584.5 349.7 L584.6 349.0 L584.8 348.2 L584.9 347.6 L585.1 347.2 L585.2 347.0 L585.4 347.1 L585.5 347.5 L585.7 348.0 L585.8 348.7 L586.0 349.3 L586.1 349.8 L586.3 350.2 L586.4 350.3 L586.7 350.3 L587.0 350.2 L587.2 350.0 L587.5 349.7 L587.7 349.5 L588.0 349.3 L588.3 349.2 L588.5 349.1 L588.7 349.2 L588.9 349.4 L589.1 349.7 L589.3 350.0 L589.5 350.4 L589.7 350.7 L589.9 350.9 L590.0 350.9 L590.2 350.8 L590.3 350.4 L590.5 349.7 L590.6 349.0 L590.8 348.2 L591.0 347.6 L591.1 347.2 L591.3 347.0 L591.4 347.1 L591.6 347.5 L591.7 348.0 L591.9 348.7 L592.0 349.3 L592.2 349.8 L592.3 350.2 L592.5 350.3 L592.7 350.3 L593.0 350.2 L593.3 350.0 L593.5 349.7 L593.8 349.5 L594.0 349.3 L594.3 349.2 L594.6 349.1 L594.8 349.2 L594.9 349.4 L595.1 349.7 L595.3 350.0 L595.5 350.4 L595.7 350.7 L595.9 350.9 L596.1 350.9 L596.2 350.8 L596.4 350.4 L596.5 349.7 L596.7 349.0 L596.8 348.2 L597.0 347.6 L597.1 347.2 L597.3 347.0 L597.4 347.1 L597.6 347.5 L597.7 348.0 L597.9 348.7 L598.0 349.3 L598.2 349.8 L598.3 350.2 L598.5 350.3 L598.8 350.3 L599.0 350.2 L599.3 350.0 L599.6 349.7 L599.8 349.5 L600.1 349.3 L600.3 349.2 L600.6 349.1 L600.8 349.2 L601.0 349.4 L601.2 349.7 L601.4 350.0 L601.5 350.4 L601.7 350.7 L601.9 350.9 L602.1 350.9 L602.3 350.8 L602.4 350.4 L602.6 349.7 L602.7 349.0 L602.9 348.2 L603.0 347.6 L603.2 347.2 L603.3 347.0 L603.5 347.1 L603.6 347.5 L603.8 348.0 L603.9 348.7 L604.1 349.3 L604.2 349.8 L604.4 350.2 L604.5 350.3 L604.8 350.3 L605.1 350.2 L605.4 350.0 L605.7 349.7 L606.0 349.5 L606.3 349.3 L606.6 349.2 L606.9 349.1 L607.1 349.2 L607.3 349.4 L607.5 349.7 L607.7 350.0 L607.9 350.4 L608.1 350.7 L608.3 350.9 L608.5 350.9 L608.6 350.8 L608.8 350.4 L608.9 349.7 L609.1 349.0 L609.2 348.2 L609.4 347.6 L609.5 347.2 L609.7 347.0 L609.8 347.1 L610.0 347.5 L610.1 348.0 L610.3 348.7 L610.4 349.3 L610.6 349.8 L610.7 350.2 L610.9 350.3 L611.1 350.3 L611.4 350.2 L611.7 350.0 L611.9 349.7 L612.2 349.5 L612.5 349.3 L612.7 349.2 L613.0 349.1 L613.2 349.2 L613.4 349.4 L613.5 349.7 L613.7 350.0 L613.9 350.4 L614.1 350.7 L614.3 350.9 L614.5 350.9 L614.6 350.8 L614.8 350.4 L614.9 349.7 L615.1 349.0 L615.2 348.2 L615.4 347.6 L615.5 347.2 L615.7 347.0 L615.8 347.1 L616.0 347.5 L616.1 348.0 L616.3 348.7 L616.4 349.3 L616.6 349.8 L616.8 350.2 L616.9 350.3 L617.2 350.3 L617.4 350.2 L617.7 350.0 L618.0 349.7 L618.2 349.5 L618.5 349.3 L618.7 349.2 L619.0 349.1 L619.2 349.2 L619.4 349.4 L619.6 349.7 L619.8 350.0 L620.0 350.4 L620.1 350.7 L620.3 350.9 L620.5 350.9 L620.7 350.8 L620.8 350.4 L621.0 349.7 L621.1 349.0 L621.3 348.2 L621.4 347.6 L621.6 347.2 L621.7 347.0 L621.9 347.1 L622.0 347.5 L622.2 348.0 L622.3 348.7 L622.5 349.3 L622.6 349.8 L622.8 350.2 L622.9 350.3 L623.2 350.3 L623.5 350.2 L623.7 350.0 L624.0 349.7 L624.3 349.5 L624.5 349.3 L624.8 349.2 L625.0 349.1 L625.2 349.2 L625.4 349.4 L625.6 349.7 L625.8 350.0 L626.0 350.4 L626.2 350.7 L626.4 350.9 L626.6 350.9 L626.7 350.8 L626.9 350.4 L627.0 349.7 L627.2 349.0 L627.3 348.2 L627.5 347.6 L627.6 347.2 L627.8 347.0 L627.9 347.1 L628.1 347.5 L628.2 348.0 L628.4 348.7 L628.5 349.3 L628.7 349.8 L628.8 350.2 L629.0 350.3 L629.3 350.3 L629.6 350.2 L629.9 350.0 L630.2 349.7 L630.5 349.5 L630.8 349.3 L631.1 349.2 L631.4 349.1 L631.6 349.2 L631.8 349.4 L632.0 349.7 L632.1 350.0 L632.3 350.4 L632.5 350.7 L632.7 350.9 L632.9 350.9 L633.0 350.8 L633.2 350.4 L633.3 349.7 L633.5 349.0 L633.6 348.2 L633.8 347.6 L633.9 347.2 L634.1 347.0 L634.3 347.1 L634.4 347.5 L634.6 348.0 L634.7 348.7 L634.9 349.3 L635.0 349.8 L635.2 350.2 L635.3 350.3 L635.8 350.3 L636.4 350.2 L636.9 350.0 L637.4 349.7 L637.9 349.5 L638.5 349.3 L639.0 349.2 L639.5 349.1" fill="none" stroke="#222" stroke-width="0.7" stroke-linejoin="round"/>
</g>
<rect x="568.5" y="296.9" width="71.0" height="83.8" fill="none" stroke="#25b2e8" stroke-width="1.3"/>
<text x="610.8" y="221.6" textLength="52.6" lengthAdjust="spacingAndGlyphs" font-size="9.2" fill="#000" word-spacing="1.5">side view</text>
<line x1="624.9" y1="231.3" x2="643.0" y2="231.3" stroke="#888" stroke-width="0.75"/>
<text x="644.9" y="234.0" textLength="34.3" lengthAdjust="spacingAndGlyphs" font-size="9.2" fill="#000">SAM2</text>
<line x1="624.9" y1="240.0" x2="643.0" y2="240.0" stroke="#cc6cee" stroke-width="0.75"/>
<text x="644.9" y="241.2" textLength="33.7" lengthAdjust="spacingAndGlyphs" font-size="9.2" fill="#000">CSRT</text>
<line x1="624.9" y1="247.4" x2="643.0" y2="247.4" stroke="#f1b850" stroke-width="0.75"/>
<text x="644.9" y="248.2" textLength="26.9" lengthAdjust="spacingAndGlyphs" font-size="9.2" fill="#000">ECG</text>
<line x1="330.8" y1="426.3" x2="330.8" y2="586.3" stroke="#e3e3e3" stroke-width="0.7"/>
<line x1="364.8" y1="426.3" x2="364.8" y2="586.3" stroke="#e3e3e3" stroke-width="0.7"/>
<line x1="398.7" y1="426.3" x2="398.7" y2="586.3" stroke="#e3e3e3" stroke-width="0.7"/>
<line x1="432.6" y1="426.3" x2="432.6" y2="586.3" stroke="#e3e3e3" stroke-width="0.7"/>
<line x1="466.6" y1="426.3" x2="466.6" y2="586.3" stroke="#e3e3e3" stroke-width="0.7"/>
<line x1="500.5" y1="426.3" x2="500.5" y2="586.3" stroke="#e3e3e3" stroke-width="0.7"/>
<line x1="296.9" y1="586.3" x2="500.5" y2="586.3" stroke="#e3e3e3" stroke-width="0.7"/>
<line x1="296.9" y1="570.3" x2="500.5" y2="570.3" stroke="#e3e3e3" stroke-width="0.7"/>
<line x1="296.9" y1="554.3" x2="500.5" y2="554.3" stroke="#e3e3e3" stroke-width="0.7"/>
<line x1="296.9" y1="538.3" x2="500.5" y2="538.3" stroke="#e3e3e3" stroke-width="0.7"/>
<line x1="296.9" y1="522.3" x2="500.5" y2="522.3" stroke="#e3e3e3" stroke-width="0.7"/>
<line x1="296.9" y1="506.3" x2="500.5" y2="506.3" stroke="#e3e3e3" stroke-width="0.7"/>
<line x1="296.9" y1="490.3" x2="500.5" y2="490.3" stroke="#e3e3e3" stroke-width="0.7"/>
<line x1="296.9" y1="474.3" x2="500.5" y2="474.3" stroke="#e3e3e3" stroke-width="0.7"/>
<line x1="296.9" y1="458.3" x2="500.5" y2="458.3" stroke="#e3e3e3" stroke-width="0.7"/>
<line x1="296.9" y1="442.3" x2="500.5" y2="442.3" stroke="#e3e3e3" stroke-width="0.7"/>
<line x1="296.9" y1="426.3" x2="500.5" y2="426.3" stroke="#e3e3e3" stroke-width="0.7"/>
<path d="M296.9 440.3 L297.1 451.5 L297.4 455.0 L297.6 458.7 L297.8 471.9 L298.0 479.7 L298.3 485.2 L298.5 494.4 L298.7 494.3 L298.9 496.9 L299.2 502.4 L299.4 508.5 L299.6 512.3 L299.8 512.6 L300.1 515.6 L300.3 515.7 L300.5 515.4 L300.7 520.1 L301.0 522.5 L301.2 518.9 L301.4 522.2 L301.7 523.8 L301.9 526.8 L302.1 524.1 L302.3 530.1 L302.6 529.6 L302.8 523.3 L303.0 531.3 L303.2 533.5 L303.5 534.3 L303.7 531.3 L303.9 541.2 L304.1 530.1 L304.4 536.0 L304.6 531.7 L304.8 522.5 L305.0 531.0 L305.3 533.6 L305.5 528.1 L305.7 531.4 L305.9 538.4 L306.2 537.2 L306.4 523.6 L306.6 535.1 L306.9 531.9 L307.1 542.8 L307.3 540.2 L307.5 548.9 L307.8 532.7 L308.0 541.8 L308.2 533.4 L308.4 536.7 L308.7 538.2 L308.9 542.6 L309.1 546.2 L309.3 537.2 L309.6 527.8 L309.8 545.4 L310.0 534.3 L310.2 538.5 L310.5 538.8 L310.7 533.7 L310.9 543.0 L311.2 539.2 L311.4 527.8 L311.6 538.1 L311.8 534.9 L312.1 541.7 L312.3 534.8 L312.5 516.9 L312.7 533.8 L313.0 540.7 L313.2 535.8 L313.4 537.6 L313.6 536.4 L313.9 529.9 L314.1 536.8 L314.3 531.7 L314.5 541.2 L314.8 535.1 L315.0 525.0 L315.2 541.0 L315.5 544.8 L315.7 536.9 L315.9 539.1 L316.1 521.9 L316.4 535.3 L316.6 532.3 L316.8 542.2 L317.0 527.0 L317.3 532.3 L317.5 538.3 L317.7 531.5 L317.9 536.4 L318.2 536.3 L318.4 535.0 L318.6 537.6 L318.8 525.3 L319.1 529.4 L319.3 527.9 L319.5 532.2 L319.7 538.1 L320.0 527.4 L320.2 541.2 L320.4 533.3 L320.7 550.2 L320.9 531.4 L321.1 532.3 L321.3 527.5 L321.6 537.6 L321.8 530.8 L322.0 535.4 L322.2 543.9 L322.5 537.7 L322.7 540.1 L322.9 538.3 L323.1 539.0 L323.4 533.2 L323.6 535.2 L323.8 533.2 L324.0 534.7 L324.3 548.7 L324.5 538.0 L324.7 537.4 L325.0 544.1 L325.2 540.8 L325.4 542.0 L325.6 535.3 L325.9 539.6 L326.1 534.7 L326.3 544.9 L326.5 539.4 L326.8 540.1 L327.0 538.8 L327.2 553.0 L327.4 527.1 L327.7 542.7 L327.9 543.0 L328.1 539.7 L328.3 539.2 L328.6 542.9 L328.8 539.1 L329.0 541.0 L329.2 541.4 L329.5 541.6 L329.7 544.2 L329.9 542.5 L330.2 543.1 L330.4 555.7 L330.6 543.6 L330.8 536.6 L331.1 548.9 L331.3 544.7 L331.5 547.1 L331.7 542.6 L332.0 547.0 L332.2 540.3 L332.4 546.5 L332.6 541.3 L332.9 549.3 L333.1 541.2 L333.3 547.0 L333.5 536.6 L333.8 547.7 L334.0 541.8 L334.2 550.2 L334.5 547.0 L334.7 545.6 L334.9 547.9 L335.1 548.7 L335.4 545.6 L335.6 556.7 L335.8 548.1 L336.0 563.4 L336.3 543.2 L336.5 546.0 L336.7 550.9 L336.9 538.1 L337.2 546.7 L337.4 552.9 L337.6 541.7 L337.8 551.5 L338.1 549.7 L338.3 556.1 L338.5 559.4 L338.8 549.3 L339.0 549.4 L339.2 548.1 L339.4 543.1 L339.7 550.4 L339.9 549.9 L340.1 548.4 L340.3 554.7 L340.6 558.3 L340.8 552.8 L341.0 552.9 L341.2 542.4 L341.5 552.0 L341.7 560.4 L341.9 553.1 L342.1 561.6 L342.4 552.7 L342.6 553.7 L342.8 551.0 L343.0 562.5 L343.3 563.3 L343.5 558.7 L343.7 554.5 L344.0 554.1 L344.2 557.4 L344.4 558.3 L344.6 566.9 L344.9 550.4 L345.1 555.5 L345.3 556.1 L345.5 550.9 L345.8 547.9 L346.0 553.5 L346.2 564.3 L346.4 558.4 L346.7 554.9 L346.9 555.9 L347.1 562.6 L347.3 556.2 L347.6 550.2 L347.8 560.1 L348.0 549.6 L348.3 552.4 L348.5 564.7 L348.7 556.9 L348.9 554.8 L349.2 566.3 L349.4 556.1 L349.6 559.4 L349.8 557.3 L350.1 561.5 L350.3 566.9 L350.5 567.8 L350.7 561.0 L351.0 545.8 L351.2 555.1 L351.4 552.5 L351.6 569.8 L351.9 559.3 L352.1 567.1 L352.3 553.3 L352.6 562.9 L352.8 565.5 L353.0 562.1 L353.2 549.9 L353.5 545.6 L353.7 561.2 L353.9 554.0 L354.1 549.6 L354.4 549.9 L354.6 556.2 L354.8 546.5 L355.0 559.5 L355.3 557.9 L355.5 553.8 L355.7 554.4 L355.9 555.0 L356.2 552.6 L356.4 554.5 L356.6 553.7 L356.8 565.6 L357.1 548.9 L357.3 556.0 L357.5 560.7 L357.8 550.9 L358.0 557.8 L358.2 555.0 L358.4 551.6 L358.7 562.5 L358.9 556.3 L359.1 559.8 L359.3 559.8 L359.6 564.3 L359.8 560.1 L360.0 556.9 L360.2 560.8 L360.5 554.3 L360.7 550.0 L360.9 548.6 L361.1 542.8 L361.4 555.6 L361.6 556.4 L361.8 554.8 L362.1 561.8 L362.3 559.1 L362.5 556.7 L362.7 563.6 L363.0 551.5 L363.2 545.7 L363.4 551.2 L363.6 562.0 L363.9 561.3 L364.1 555.8 L364.3 552.0 L364.5 558.3 L364.8 547.5 L365.0 545.0 L365.2 553.4 L365.4 549.6 L365.7 540.9 L365.9 553.3 L366.1 555.2 L366.4 551.5 L366.6 553.4 L366.8 555.3 L367.0 556.9 L367.3 555.1 L367.5 543.2 L367.7 553.4 L367.9 549.9 L368.2 550.2 L368.4 551.5 L368.6 557.0 L368.8 554.3 L369.1 550.1 L369.3 553.7 L369.5 551.8 L369.7 538.6 L370.0 544.2 L370.2 545.4 L370.4 551.2 L370.6 546.2 L370.9 552.7 L371.1 547.1 L371.3 547.9 L371.6 549.0 L371.8 539.2 L372.0 548.2 L372.2 554.3 L372.5 550.4 L372.7 547.6 L372.9 542.1 L373.1 552.0 L373.4 546.5 L373.6 546.0 L373.8 539.4 L374.0 544.5 L374.3 538.3 L374.5 542.7 L374.7 543.1 L374.9 549.5 L375.2 551.2 L375.4 540.0 L375.6 542.0 L375.9 542.4 L376.1 543.0 L376.3 554.7 L376.5 541.6 L376.8 544.7 L377.0 545.7 L377.2 543.1 L377.4 547.0 L377.7 538.8 L377.9 534.2 L378.1 538.0 L378.3 540.5 L378.6 539.9 L378.8 530.8 L379.0 537.8 L379.2 540.2 L379.5 534.3 L379.7 550.0 L379.9 557.2 L380.1 534.8 L380.4 540.7 L380.6 535.6 L380.8 547.0 L381.1 538.5 L381.3 539.4 L381.5 543.3 L381.7 530.6 L382.0 535.1 L382.2 528.9 L382.4 539.1 L382.6 537.3 L382.9 533.6 L383.1 531.4 L383.3 526.1 L383.5 532.9 L383.8 539.3 L384.0 535.0 L384.2 534.7 L384.4 537.8 L384.7 540.4 L384.9 532.0 L385.1 530.1 L385.4 540.8 L385.6 533.7 L385.8 535.8 L386.0 534.6 L386.3 535.6 L386.5 532.3 L386.7 530.0 L386.9 534.4 L387.2 528.0 L387.4 536.2 L387.6 532.2 L387.8 522.1 L388.1 542.2 L388.3 528.2 L388.5 528.0 L388.7 535.1 L389.0 537.3 L389.2 530.7 L389.4 529.5 L389.7 527.0 L389.9 529.5 L390.1 537.5 L390.3 536.2 L390.6 531.1 L390.8 530.8 L391.0 529.3 L391.2 526.4 L391.5 529.1 L391.7 535.1 L391.9 532.5 L392.1 537.9 L392.4 526.5 L392.6 525.0 L392.8 524.3 L393.0 523.9 L393.3 525.7 L393.5 528.4 L393.7 533.7 L393.9 531.8 L394.2 522.9 L394.4 517.9 L394.6 525.0 L394.9 534.7 L395.1 527.9 L395.3 533.8 L395.5 533.2 L395.8 527.4 L396.0 530.3 L396.2 523.1 L396.4 535.4 L396.7 529.8 L396.9 530.2 L397.1 530.3 L397.3 540.9 L397.6 520.9 L397.8 529.0 L398.0 537.7 L398.2 524.0 L398.5 519.0 L398.7 525.6 L398.9 525.5 L399.2 534.2 L399.4 534.5 L399.6 521.1 L399.8 515.3 L400.1 534.4 L400.3 534.8 L400.5 512.2 L400.7 520.5 L401.0 532.1 L401.2 520.9 L401.4 524.3 L401.6 514.5 L401.9 522.2 L402.1 514.6 L402.3 522.4 L402.5 529.6 L402.8 526.2 L403.0 531.0 L403.2 532.7 L403.5 522.3 L403.7 518.9 L403.9 518.7 L404.1 523.4 L404.4 529.7 L404.6 524.5 L404.8 519.0 L405.0 518.3 L405.3 514.4 L405.5 523.8 L405.7 520.8 L405.9 524.3 L406.2 534.6 L406.4 535.4 L406.6 530.9 L406.8 528.5 L407.1 532.4 L407.3 520.3 L407.5 528.8 L407.7 522.6 L408.0 521.7 L408.2 527.8 L408.4 528.2 L408.7 526.7 L408.9 530.4 L409.1 529.4 L409.3 522.8 L409.6 527.2 L409.8 521.4 L410.0 525.1 L410.2 534.3 L410.5 534.8 L410.7 534.6 L410.9 541.3 L411.1 533.2 L411.4 533.5 L411.6 530.9 L411.8 520.8 L412.0 528.2 L412.3 539.0 L412.5 531.0 L412.7 533.1 L413.0 539.6 L413.2 534.0 L413.4 534.5 L413.6 532.2 L413.9 529.2 L414.1 532.3 L414.3 521.8 L414.5 533.1 L414.8 532.5 L415.0 530.5 L415.2 535.1 L415.4 537.9 L415.7 540.2 L415.9 521.3 L416.1 529.5 L416.3 533.2 L416.6 514.3 L416.8 542.2 L417.0 538.2 L417.3 544.6 L417.5 534.3 L417.7 530.9 L417.9 538.8 L418.2 537.3 L418.4 535.6 L418.6 537.0 L418.8 537.0 L419.1 525.8 L419.3 526.5 L419.5 535.5 L419.7 544.8 L420.0 537.3 L420.2 540.4 L420.4 535.5 L420.6 536.2 L420.9 534.4 L421.1 530.2 L421.3 533.6 L421.5 530.3 L421.8 542.4 L422.0 534.4 L422.2 535.7 L422.5 537.0 L422.7 534.0 L422.9 534.7 L423.1 541.8 L423.4 537.6 L423.6 542.7 L423.8 536.4 L424.0 538.2 L424.3 538.0 L424.5 541.0 L424.7 540.0 L424.9 542.3 L425.2 535.7 L425.4 537.1 L425.6 527.6 L425.8 543.0 L426.1 530.2 L426.3 538.7 L426.5 536.1 L426.8 537.3 L427.0 544.6 L427.2 533.6 L427.4 546.5 L427.7 531.5 L427.9 534.0 L428.1 535.9 L428.3 540.5 L428.6 529.5 L428.8 536.4 L429.0 541.1 L429.2 541.9 L429.5 530.3 L429.7 532.6 L429.9 554.0 L430.1 533.0 L430.4 534.0 L430.6 548.2 L430.8 536.8 L431.0 538.9 L431.3 535.7 L431.5 523.5 L431.7 535.1 L432.0 538.4 L432.2 539.8 L432.4 539.1 L432.6 530.6 L432.9 539.3 L433.1 534.5 L433.3 544.3 L433.5 538.4 L433.8 530.9 L434.0 535.2 L434.2 538.7 L434.4 527.2 L434.7 531.8 L434.9 537.9 L435.1 531.7 L435.3 539.1 L435.6 533.1 L435.8 542.2 L436.0 536.6 L436.3 545.1 L436.5 537.1 L436.7 536.6 L436.9 535.4 L437.2 537.1 L437.4 535.4 L437.6 537.6 L437.8 533.0 L438.1 552.4 L438.3 532.9 L438.5 536.6 L438.7 539.0 L439.0 539.9 L439.2 532.9 L439.4 542.8 L439.6 551.2 L439.9 549.2 L440.1 546.2 L440.3 536.0 L440.6 539.8 L440.8 538.1 L441.0 543.6 L441.2 535.0 L441.5 539.3 L441.7 509.2 L441.9 546.1 L442.1 536.8 L442.4 544.5 L442.6 543.7 L442.8 539.2 L443.0 533.7 L443.3 539.5 L443.5 547.0 L443.7 537.7 L443.9 546.1 L444.2 537.2 L444.4 538.7 L444.6 546.3 L444.8 541.6 L445.1 542.1 L445.3 539.6 L445.5 541.1 L445.8 548.9 L446.0 546.1 L446.2 548.1 L446.4 543.1 L446.7 563.3 L446.9 550.1 L447.1 544.8 L447.3 548.5 L447.6 539.7 L447.8 548.9 L448.0 549.3 L448.2 544.7 L448.5 535.8 L448.7 537.7 L448.9 540.1 L449.1 535.7 L449.4 539.4 L449.6 542.6 L449.8 544.5 L450.1 539.8 L450.3 539.0 L450.5 534.4 L450.7 531.9 L451.0 539.8 L451.2 540.4 L451.4 535.9 L451.6 537.9 L451.9 531.9 L452.1 538.1 L452.3 534.8 L452.5 543.5 L452.8 533.5 L453.0 540.5 L453.2 539.8 L453.4 537.5 L453.7 533.0 L453.9 541.1 L454.1 531.5 L454.4 541.2 L454.6 535.2 L454.8 541.2 L455.0 536.8 L455.3 531.9 L455.5 524.7 L455.7 537.0 L455.9 539.0 L456.2 546.0 L456.4 543.9 L456.6 536.9 L456.8 528.4 L457.1 537.3 L457.3 528.1 L457.5 536.5 L457.7 537.0 L458.0 538.8 L458.2 536.4 L458.4 534.0 L458.6 535.3 L458.9 532.1 L459.1 537.3 L459.3 539.8 L459.6 531.7 L459.8 526.8 L460.0 538.0 L460.2 528.6 L460.5 535.4 L460.7 532.0 L460.9 537.3 L461.1 535.0 L461.4 538.9 L461.6 535.2 L461.8 535.7 L462.0 532.9 L462.3 539.7 L462.5 537.2 L462.7 529.0 L462.9 531.5 L463.2 539.1 L463.4 538.7 L463.6 543.5 L463.9 531.6 L464.1 540.2 L464.3 531.5 L464.5 539.4 L464.8 536.6 L465.0 532.9 L465.2 543.3 L465.4 542.6 L465.7 537.8 L465.9 539.1 L466.1 534.8 L466.3 535.5 L466.6 545.3 L466.8 527.7 L467.0 541.6 L467.2 537.4 L467.5 539.5 L467.7 528.2 L467.9 534.1 L468.2 535.4 L468.4 532.4 L468.6 542.4 L468.8 542.1 L469.1 542.4 L469.3 535.3 L469.5 532.7 L469.7 535.6 L470.0 535.4 L470.2 533.9 L470.4 538.7 L470.6 530.8 L470.9 534.9 L471.1 542.9 L471.3 537.4 L471.5 524.9 L471.8 529.7 L472.0 536.9 L472.2 532.9 L472.4 546.0 L472.7 540.0 L472.9 535.0 L473.1 544.6 L473.4 537.6 L473.6 533.4 L473.8 531.7 L474.0 538.3 L474.3 528.0 L474.5 541.9 L474.7 535.3 L474.9 539.9 L475.2 541.3 L475.4 536.3 L475.6 535.1 L475.8 545.1 L476.1 540.5 L476.3 535.2 L476.5 531.6 L476.7 529.6 L477.0 532.2 L477.2 541.4 L477.4 535.9 L477.7 536.8 L477.9 536.5 L478.1 535.8 L478.3 533.9 L478.6 530.0 L478.8 531.0 L479.0 532.5 L479.2 544.1 L479.5 539.6 L479.7 541.1 L479.9 531.8 L480.1 532.5 L480.4 528.1 L480.6 538.1 L480.8 530.4 L481.0 536.1 L481.3 547.3 L481.5 532.4 L481.7 533.9 L481.9 537.5 L482.2 537.9 L482.4 527.4 L482.6 536.3 L482.9 526.4 L483.1 522.9 L483.3 532.7 L483.5 533.8 L483.8 537.1 L484.0 536.2 L484.2 540.6 L484.4 530.9 L484.7 532.0 L484.9 532.5 L485.1 533.2 L485.3 529.5 L485.6 531.7 L485.8 538.7 L486.0 540.0 L486.2 539.1 L486.5 537.8 L486.7 531.1 L486.9 532.6 L487.2 537.6 L487.4 527.9 L487.6 530.9 L487.8 530.4 L488.1 536.2 L488.3 531.9 L488.5 525.6 L488.7 537.5 L489.0 528.7 L489.2 533.4 L489.4 534.0 L489.6 540.4 L489.9 537.5 L490.1 534.1 L490.3 541.7 L490.5 541.9 L490.8 531.7 L491.0 538.3 L491.2 531.9 L491.5 534.4 L491.7 539.8 L491.9 538.1 L492.1 539.4 L492.4 538.9 L492.6 532.3 L492.8 528.3 L493.0 537.7 L493.3 529.0 L493.5 529.2 L493.7 536.5 L493.9 536.0 L494.2 542.1 L494.4 543.5 L494.6 542.8 L494.8 537.4 L495.1 533.2 L495.3 525.5 L495.5 526.7 L495.7 533.9 L496.0 539.2 L496.2 536.8 L496.4 542.0 L496.7 538.4 L496.9 530.4 L497.1 535.4 L497.3 534.6 L497.6 527.5 L497.8 528.4 L498.0 528.8 L498.2 528.2 L498.5 531.2 L498.7 534.0 L498.9 536.7 L499.1 534.7 L499.4 527.3 L499.6 534.5 L499.8 539.9 L500.0 531.4 L500.3 520.5 L500.5 533.5" fill="none" stroke="#000" stroke-width="0.7" stroke-linejoin="round"/>
<path d="M296.9 438.6 L297.1 445.8 L297.4 451.6 L297.6 458.9 L297.8 469.1 L298.0 479.2 L298.3 488.6 L298.5 492.7 L298.7 495.1 L298.9 496.7 L299.2 498.9 L299.4 504.1 L299.6 506.2 L299.8 508.7 L300.1 511.4 L300.3 517.8 L300.5 516.6 L300.7 519.1 L301.0 521.5 L301.2 522.5 L301.4 524.7 L301.7 523.8 L301.9 524.4 L302.1 526.3 L302.3 526.0 L302.6 522.8 L302.8 529.2 L303.0 531.4 L303.2 535.1 L303.5 535.2 L303.7 530.4 L303.9 532.6 L304.1 538.6 L304.4 532.9 L304.6 539.9 L304.8 538.3 L305.0 530.1 L305.3 530.7 L305.5 530.3 L305.7 538.3 L305.9 530.6 L306.2 529.5 L306.4 535.9 L306.6 531.9 L306.9 534.7 L307.1 533.9 L307.3 533.3 L307.5 536.5 L307.8 537.4 L308.0 532.4 L308.2 537.7 L308.4 533.6 L308.7 533.1 L308.9 530.4 L309.1 531.3 L309.3 535.0 L309.6 529.4 L309.8 533.2 L310.0 526.4 L310.2 534.4 L310.5 531.5 L310.7 533.2 L310.9 537.0 L311.2 534.9 L311.4 534.5 L311.6 532.6 L311.8 534.4 L312.1 528.3 L312.3 533.3 L312.5 532.1 L312.7 523.7 L313.0 524.6 L313.2 528.6 L313.4 528.6 L313.6 525.2 L313.9 530.3 L314.1 528.6 L314.3 525.5 L314.5 533.5 L314.8 523.1 L315.0 530.7 L315.2 531.2 L315.5 527.1 L315.7 526.3 L315.9 527.2 L316.1 538.4 L316.4 531.8 L316.6 529.8 L316.8 529.2 L317.0 529.5 L317.3 530.0 L317.5 523.6 L317.7 527.5 L317.9 530.0 L318.2 523.9 L318.4 528.8 L318.6 527.0 L318.8 530.0 L319.1 529.0 L319.3 528.0 L319.5 538.3 L319.7 525.3 L320.0 528.9 L320.2 521.8 L320.4 533.0 L320.7 528.6 L320.9 531.3 L321.1 523.4 L321.3 525.5 L321.6 537.9 L321.8 529.8 L322.0 527.7 L322.2 527.1 L322.5 532.5 L322.7 527.0 L322.9 533.9 L323.1 525.2 L323.4 526.4 L323.6 533.9 L323.8 533.2 L324.0 525.2 L324.3 526.6 L324.5 529.8 L324.7 528.9 L325.0 538.3 L325.2 528.9 L325.4 532.3 L325.6 529.6 L325.9 527.8 L326.1 530.5 L326.3 528.9 L326.5 534.5 L326.8 532.2 L327.0 530.0 L327.2 532.8 L327.4 535.3 L327.7 535.1 L327.9 538.6 L328.1 536.8 L328.3 538.9 L328.6 534.6 L328.8 538.6 L329.0 538.0 L329.2 541.4 L329.5 536.0 L329.7 538.2 L329.9 534.8 L330.2 540.1 L330.4 544.5 L330.6 540.2 L330.8 541.8 L331.1 539.1 L331.3 537.0 L331.5 540.0 L331.7 538.0 L332.0 541.5 L332.2 542.2 L332.4 538.9 L332.6 541.9 L332.9 536.2 L333.1 541.2 L333.3 540.9 L333.5 547.2 L333.8 546.6 L334.0 541.3 L334.2 542.4 L334.5 541.5 L334.7 538.7 L334.9 548.7 L335.1 542.0 L335.4 551.5 L335.6 549.1 L335.8 548.8 L336.0 543.2 L336.3 548.7 L336.5 541.1 L336.7 545.2 L336.9 542.1 L337.2 542.4 L337.4 546.1 L337.6 556.5 L337.8 543.7 L338.1 547.1 L338.3 543.1 L338.5 549.1 L338.8 546.5 L339.0 542.8 L339.2 542.3 L339.4 542.9 L339.7 543.7 L339.9 544.2 L340.1 550.3 L340.3 552.9 L340.6 554.8 L340.8 555.6 L341.0 547.0 L341.2 549.1 L341.5 546.9 L341.7 547.2 L341.9 543.1 L342.1 554.8 L342.4 553.1 L342.6 555.1 L342.8 542.9 L343.0 545.9 L343.3 551.1 L343.5 553.4 L343.7 554.6 L344.0 550.0 L344.2 543.7 L344.4 545.9 L344.6 550.2 L344.9 553.7 L345.1 546.3 L345.3 549.1 L345.5 545.8 L345.8 549.6 L346.0 550.7 L346.2 549.8 L346.4 553.5 L346.7 547.7 L346.9 550.1 L347.1 555.2 L347.3 545.4 L347.6 549.3 L347.8 555.6 L348.0 547.7 L348.3 551.3 L348.5 550.3 L348.7 550.7 L348.9 549.2 L349.2 551.9 L349.4 556.9 L349.6 555.3 L349.8 552.0 L350.1 549.8 L350.3 556.3 L350.5 554.6 L350.7 546.7 L351.0 557.3 L351.2 552.9 L351.4 554.3 L351.6 556.5 L351.9 556.5 L352.1 550.1 L352.3 551.9 L352.6 553.4 L352.8 550.6 L353.0 548.7 L353.2 551.0 L353.5 549.6 L353.7 550.4 L353.9 547.8 L354.1 550.6 L354.4 554.4 L354.6 557.4 L354.8 546.3 L355.0 558.2 L355.3 555.2 L355.5 554.5 L355.7 556.8 L355.9 551.4 L356.2 552.9 L356.4 557.4 L356.6 552.3 L356.8 550.9 L357.1 556.0 L357.3 553.9 L357.5 560.7 L357.8 558.2 L358.0 551.7 L358.2 557.9 L358.4 554.3 L358.7 553.9 L358.9 555.3 L359.1 553.5 L359.3 553.6 L359.6 554.2 L359.8 554.1 L360.0 552.6 L360.2 556.7 L360.5 556.3 L360.7 547.1 L360.9 544.2 L361.1 555.1 L361.4 550.4 L361.6 550.0 L361.8 554.5 L362.1 551.1 L362.3 549.1 L362.5 546.0 L362.7 554.7 L363.0 546.6 L363.2 547.7 L363.4 548.1 L363.6 546.7 L363.9 546.8 L364.1 543.8 L364.3 549.1 L364.5 547.7 L364.8 558.6 L365.0 553.0 L365.2 550.4 L365.4 557.0 L365.7 555.3 L365.9 549.5 L366.1 547.8 L366.4 544.4 L366.6 548.5 L366.8 547.7 L367.0 551.9 L367.3 543.2 L367.5 552.6 L367.7 552.2 L367.9 551.0 L368.2 547.1 L368.4 551.3 L368.6 549.2 L368.8 556.8 L369.1 547.3 L369.3 545.4 L369.5 544.2 L369.7 544.8 L370.0 547.4 L370.2 541.9 L370.4 554.9 L370.6 544.7 L370.9 544.4 L371.1 542.8 L371.3 544.6 L371.6 544.3 L371.8 548.9 L372.0 546.7 L372.2 540.1 L372.5 544.1 L372.7 540.7 L372.9 541.9 L373.1 540.6 L373.4 538.8 L373.6 540.4 L373.8 537.7 L374.0 545.7 L374.3 543.5 L374.5 542.0 L374.7 539.9 L374.9 541.5 L375.2 543.2 L375.4 543.2 L375.6 542.9 L375.9 543.9 L376.1 540.5 L376.3 543.3 L376.5 545.1 L376.8 544.3 L377.0 537.9 L377.2 540.5 L377.4 535.7 L377.7 540.2 L377.9 536.4 L378.1 539.6 L378.3 543.0 L378.6 542.4 L378.8 544.4 L379.0 540.2 L379.2 538.5 L379.5 536.2 L379.7 534.0 L379.9 538.3 L380.1 529.3 L380.4 530.1 L380.6 534.4 L380.8 533.5 L381.1 539.9 L381.3 537.3 L381.5 537.0 L381.7 535.9 L382.0 529.2 L382.2 531.4 L382.4 528.7 L382.6 531.9 L382.9 531.9 L383.1 530.8 L383.3 530.1 L383.5 538.0 L383.8 535.8 L384.0 540.1 L384.2 535.5 L384.4 528.8 L384.7 534.7 L384.9 539.9 L385.1 532.7 L385.4 537.8 L385.6 537.9 L385.8 531.5 L386.0 533.9 L386.3 535.3 L386.5 527.6 L386.7 525.8 L386.9 531.4 L387.2 528.0 L387.4 534.0 L387.6 530.5 L387.8 532.4 L388.1 529.8 L388.3 528.1 L388.5 531.6 L388.7 532.9 L389.0 533.0 L389.2 534.3 L389.4 525.6 L389.7 524.7 L389.9 530.7 L390.1 527.2 L390.3 524.2 L390.6 529.4 L390.8 527.8 L391.0 539.1 L391.2 536.1 L391.5 531.1 L391.7 528.4 L391.9 527.2 L392.1 527.0 L392.4 529.8 L392.6 527.7 L392.8 529.0 L393.0 526.0 L393.3 530.8 L393.5 529.6 L393.7 529.6 L393.9 527.7 L394.2 532.5 L394.4 522.6 L394.6 524.5 L394.9 529.3 L395.1 524.3 L395.3 524.7 L395.5 525.9 L395.8 525.0 L396.0 527.6 L396.2 521.6 L396.4 523.1 L396.7 525.1 L396.9 526.4 L397.1 520.9 L397.3 524.6 L397.6 520.9 L397.8 522.1 L398.0 520.6 L398.2 523.2 L398.5 515.5 L398.7 518.8 L398.9 521.1 L399.2 522.2 L399.4 526.5 L399.6 524.3 L399.8 522.7 L400.1 527.6 L400.3 523.1 L400.5 525.3 L400.7 524.6 L401.0 525.1 L401.2 523.5 L401.4 526.1 L401.6 531.1 L401.9 527.0 L402.1 520.9 L402.3 529.5 L402.5 527.4 L402.8 524.5 L403.0 524.9 L403.2 524.1 L403.5 528.7 L403.7 522.0 L403.9 527.4 L404.1 520.8 L404.4 525.3 L404.6 525.3 L404.8 523.4 L405.0 526.9 L405.3 519.6 L405.5 526.1 L405.7 517.1 L405.9 514.5 L406.2 521.4 L406.4 522.9 L406.6 524.9 L406.8 517.8 L407.1 523.1 L407.3 526.0 L407.5 524.3 L407.7 519.2 L408.0 523.5 L408.2 525.2 L408.4 521.7 L408.7 526.7 L408.9 526.2 L409.1 520.8 L409.3 523.5 L409.6 528.3 L409.8 528.7 L410.0 526.0 L410.2 526.2 L410.5 526.2 L410.7 537.5 L410.9 532.0 L411.1 530.4 L411.4 528.4 L411.6 528.8 L411.8 525.6 L412.0 525.9 L412.3 527.1 L412.5 527.6 L412.7 522.7 L413.0 522.9 L413.2 526.3 L413.4 533.4 L413.6 535.6 L413.9 527.3 L414.1 536.0 L414.3 532.1 L414.5 531.9 L414.8 534.5 L415.0 534.8 L415.2 531.4 L415.4 526.6 L415.7 528.6 L415.9 529.4 L416.1 531.7 L416.3 533.3 L416.6 531.7 L416.8 527.5 L417.0 527.3 L417.3 526.7 L417.5 534.3 L417.7 530.1 L417.9 534.7 L418.2 529.8 L418.4 535.2 L418.6 534.3 L418.8 532.0 L419.1 528.8 L419.3 536.8 L419.5 534.2 L419.7 528.5 L420.0 534.8 L420.2 534.3 L420.4 529.4 L420.6 535.7 L420.9 537.3 L421.1 534.1 L421.3 540.0 L421.5 529.7 L421.8 537.1 L422.0 534.9 L422.2 536.2 L422.5 534.5 L422.7 538.7 L422.9 538.1 L423.1 535.3 L423.4 534.5 L423.6 536.3 L423.8 538.2 L424.0 538.2 L424.3 535.1 L424.5 529.8 L424.7 538.1 L424.9 532.6 L425.2 533.7 L425.4 545.6 L425.6 538.3 L425.8 535.5 L426.1 537.7 L426.3 539.6 L426.5 540.1 L426.8 536.0 L427.0 536.4 L427.2 541.0 L427.4 538.1 L427.7 537.3 L427.9 535.9 L428.1 535.3 L428.3 535.9 L428.6 533.6 L428.8 535.2 L429.0 534.9 L429.2 533.3 L429.5 545.3 L429.7 546.3 L429.9 539.8 L430.1 534.8 L430.4 537.1 L430.6 537.9 L430.8 535.9 L431.0 542.2 L431.3 538.8 L431.5 537.3 L431.7 537.8 L432.0 537.9 L432.2 529.1 L432.4 529.7 L432.6 536.5 L432.9 530.4 L433.1 536.5 L433.3 532.9 L433.5 539.9 L433.8 536.8 L434.0 539.4 L434.2 533.5 L434.4 540.2 L434.7 539.5 L434.9 537.8 L435.1 534.9 L435.3 527.5 L435.6 528.0 L435.8 529.0 L436.0 531.6 L436.3 533.3 L436.5 533.0 L436.7 532.8 L436.9 534.7 L437.2 535.5 L437.4 536.3 L437.6 537.5 L437.8 536.2 L438.1 529.7 L438.3 535.4 L438.5 534.3 L438.7 535.8 L439.0 532.4 L439.2 532.0 L439.4 535.6 L439.6 540.2 L439.9 544.7 L440.1 537.0 L440.3 542.6 L440.6 546.1 L440.8 537.2 L441.0 543.2 L441.2 532.1 L441.5 539.5 L441.7 540.0 L441.9 539.7 L442.1 535.7 L442.4 538.8 L442.6 535.3 L442.8 540.1 L443.0 538.1 L443.3 536.2 L443.5 538.0 L443.7 539.3 L443.9 538.1 L444.2 536.5 L444.4 539.9 L444.6 543.0 L444.8 540.9 L445.1 546.7 L445.3 538.7 L445.5 538.7 L445.8 542.2 L446.0 537.9 L446.2 537.8 L446.4 537.9 L446.7 541.1 L446.9 537.9 L447.1 543.3 L447.3 541.7 L447.6 541.1 L447.8 547.4 L448.0 549.2 L448.2 542.3 L448.5 547.9 L448.7 548.6 L448.9 544.1 L449.1 545.9 L449.4 545.1 L449.6 537.1 L449.8 546.8 L450.1 546.3 L450.3 542.4 L450.5 544.4 L450.7 541.2 L451.0 548.7 L451.2 545.1 L451.4 541.7 L451.6 540.2 L451.9 536.8 L452.1 540.7 L452.3 555.2 L452.5 546.6 L452.8 542.9 L453.0 546.9 L453.2 541.6 L453.4 540.6 L453.7 548.3 L453.9 550.8 L454.1 542.8 L454.4 545.6 L454.6 538.9 L454.8 538.9 L455.0 543.2 L455.3 538.2 L455.5 540.2 L455.7 542.8 L455.9 544.0 L456.2 535.9 L456.4 542.8 L456.6 545.5 L456.8 541.7 L457.1 536.1 L457.3 537.9 L457.5 542.2 L457.7 536.5 L458.0 540.7 L458.2 538.5 L458.4 538.0 L458.6 538.0 L458.9 542.1 L459.1 544.0 L459.3 543.8 L459.6 538.1 L459.8 535.8 L460.0 538.1 L460.2 535.0 L460.5 532.7 L460.7 530.9 L460.9 540.2 L461.1 542.1 L461.4 536.6 L461.6 537.1 L461.8 537.5 L462.0 539.3 L462.3 539.8 L462.5 541.6 L462.7 537.9 L462.9 545.5 L463.2 545.9 L463.4 544.3 L463.6 544.1 L463.9 541.0 L464.1 539.8 L464.3 547.2 L464.5 539.4 L464.8 542.5 L465.0 539.4 L465.2 535.6 L465.4 532.3 L465.7 542.0 L465.9 544.4 L466.1 536.0 L466.3 543.9 L466.6 545.9 L466.8 538.9 L467.0 539.6 L467.2 538.9 L467.5 545.4 L467.7 546.6 L467.9 543.6 L468.2 546.9 L468.4 536.5 L468.6 544.3 L468.8 546.7 L469.1 537.8 L469.3 548.4 L469.5 544.9 L469.7 541.5 L470.0 539.4 L470.2 533.0 L470.4 536.0 L470.6 537.6 L470.9 542.7 L471.1 537.4 L471.3 542.4 L471.5 538.2 L471.8 543.3 L472.0 548.4 L472.2 541.6 L472.4 550.1 L472.7 546.2 L472.9 540.0 L473.1 539.8 L473.4 540.4 L473.6 543.2 L473.8 544.3 L474.0 543.2 L474.3 540.8 L474.5 543.0 L474.7 539.4 L474.9 549.1 L475.2 542.4 L475.4 544.8 L475.6 552.1 L475.8 545.4 L476.1 550.2 L476.3 545.2 L476.5 544.7 L476.7 547.8 L477.0 537.4 L477.2 544.2 L477.4 554.9 L477.7 545.1 L477.9 540.3 L478.1 544.4 L478.3 544.3 L478.6 546.2 L478.8 541.4 L479.0 546.6 L479.2 550.2 L479.5 547.5 L479.7 550.0 L479.9 538.1 L480.1 544.7 L480.4 550.2 L480.6 539.1 L480.8 549.6 L481.0 551.9 L481.3 542.6 L481.5 536.1 L481.7 547.8 L481.9 546.4 L482.2 544.5 L482.4 556.1 L482.6 553.4 L482.9 553.0 L483.1 548.8 L483.3 543.8 L483.5 545.5 L483.8 543.7 L484.0 537.4 L484.2 549.5 L484.4 545.7 L484.7 545.0 L484.9 541.6 L485.1 545.9 L485.3 548.2 L485.6 547.7 L485.8 549.5 L486.0 545.5 L486.2 542.7 L486.5 544.5 L486.7 549.2 L486.9 546.0 L487.2 548.7 L487.4 545.5 L487.6 551.5 L487.8 544.8 L488.1 551.4 L488.3 551.6 L488.5 547.8 L488.7 546.3 L489.0 552.1 L489.2 544.8 L489.4 547.4 L489.6 543.1 L489.9 536.4 L490.1 552.8 L490.3 549.5 L490.5 550.4 L490.8 548.2 L491.0 554.3 L491.2 545.9 L491.5 544.9 L491.7 535.1 L491.9 549.5 L492.1 543.2 L492.4 546.3 L492.6 548.7 L492.8 552.3 L493.0 549.3 L493.3 541.4 L493.5 543.3 L493.7 547.8 L493.9 543.0 L494.2 542.0 L494.4 539.4 L494.6 545.0 L494.8 541.0 L495.1 545.8 L495.3 543.8 L495.5 536.2 L495.7 541.6 L496.0 543.0 L496.2 544.0 L496.4 547.8 L496.7 539.4 L496.9 545.8 L497.1 547.5 L497.3 547.4 L497.6 544.2 L497.8 540.7 L498.0 541.8 L498.2 537.2 L498.5 540.3 L498.7 545.2 L498.9 540.2 L499.1 549.8 L499.4 542.8 L499.6 540.7 L499.8 538.8 L500.0 543.8 L500.3 538.5 L500.5 544.0" fill="none" stroke="#e63fd0" stroke-width="0.75" stroke-linejoin="round"/>
<line x1="296.80" y1="426.3" x2="296.80" y2="586.40" stroke="#888" stroke-width="0.9"/>
<line x1="296.35" y1="586.40" x2="500.5" y2="586.40" stroke="#666" stroke-width="0.8"/>
<line x1="296.9" y1="586.3" x2="296.9" y2="584.3" stroke="#555" stroke-width="0.6"/>
<line x1="330.8" y1="586.3" x2="330.8" y2="584.3" stroke="#555" stroke-width="0.6"/>
<line x1="364.8" y1="586.3" x2="364.8" y2="584.3" stroke="#555" stroke-width="0.6"/>
<line x1="398.7" y1="586.3" x2="398.7" y2="584.3" stroke="#555" stroke-width="0.6"/>
<line x1="432.6" y1="586.3" x2="432.6" y2="584.3" stroke="#555" stroke-width="0.6"/>
<line x1="466.6" y1="586.3" x2="466.6" y2="584.3" stroke="#555" stroke-width="0.6"/>
<line x1="500.5" y1="586.3" x2="500.5" y2="584.3" stroke="#555" stroke-width="0.6"/>
<line x1="296.9" y1="586.3" x2="299.3" y2="586.3" stroke="#555" stroke-width="0.6"/>
<line x1="296.9" y1="570.3" x2="299.3" y2="570.3" stroke="#555" stroke-width="0.6"/>
<line x1="296.9" y1="554.3" x2="299.3" y2="554.3" stroke="#555" stroke-width="0.6"/>
<line x1="296.9" y1="538.3" x2="299.3" y2="538.3" stroke="#555" stroke-width="0.6"/>
<line x1="296.9" y1="522.3" x2="299.3" y2="522.3" stroke="#555" stroke-width="0.6"/>
<line x1="296.9" y1="506.3" x2="299.3" y2="506.3" stroke="#555" stroke-width="0.6"/>
<line x1="296.9" y1="490.3" x2="299.3" y2="490.3" stroke="#555" stroke-width="0.6"/>
<line x1="296.9" y1="474.3" x2="299.3" y2="474.3" stroke="#555" stroke-width="0.6"/>
<line x1="296.9" y1="458.3" x2="299.3" y2="458.3" stroke="#555" stroke-width="0.6"/>
<line x1="296.9" y1="442.3" x2="299.3" y2="442.3" stroke="#555" stroke-width="0.6"/>
<line x1="296.9" y1="426.3" x2="299.3" y2="426.3" stroke="#555" stroke-width="0.6"/>
<text x="269.3" y="589.5" textLength="21.4" lengthAdjust="spacingAndGlyphs" font-size="9.8" fill="#000">-1.5</text>
<text x="272.5" y="573.5" textLength="11.1" lengthAdjust="spacingAndGlyphs" font-size="9.8" fill="#000">-1</text>
<text x="269.3" y="557.5" textLength="21.4" lengthAdjust="spacingAndGlyphs" font-size="9.8" fill="#000">-0.5</text>
<text x="283.2" y="541.5" textLength="6.5" lengthAdjust="spacingAndGlyphs" font-size="9.8" fill="#000">0</text>
<text x="271.6" y="525.5" textLength="16.8" lengthAdjust="spacingAndGlyphs" font-size="9.8" fill="#000">0.5</text>
<text x="274.8" y="509.5" textLength="6.5" lengthAdjust="spacingAndGlyphs" font-size="9.8" fill="#000">1</text>
<text x="271.6" y="493.6" textLength="16.8" lengthAdjust="spacingAndGlyphs" font-size="9.8" fill="#000">1.5</text>
<text x="274.8" y="477.6" textLength="6.5" lengthAdjust="spacingAndGlyphs" font-size="9.8" fill="#000">2</text>
<text x="271.6" y="461.6" textLength="16.8" lengthAdjust="spacingAndGlyphs" font-size="9.8" fill="#000">2.5</text>
<text x="274.8" y="445.6" textLength="6.5" lengthAdjust="spacingAndGlyphs" font-size="9.8" fill="#000">3</text>
<text x="271.6" y="429.6" textLength="16.8" lengthAdjust="spacingAndGlyphs" font-size="9.8" fill="#000">3.5</text>
<text x="295.1" y="595.8" textLength="6.5" lengthAdjust="spacingAndGlyphs" font-size="9.8" fill="#000">0</text>
<text x="329.1" y="595.8" textLength="6.5" lengthAdjust="spacingAndGlyphs" font-size="9.8" fill="#000">5</text>
<text x="361.8" y="595.8" textLength="13.1" lengthAdjust="spacingAndGlyphs" font-size="9.8" fill="#000">10</text>
<text x="395.8" y="595.8" textLength="13.1" lengthAdjust="spacingAndGlyphs" font-size="9.8" fill="#000">15</text>
<text x="429.7" y="595.8" textLength="13.1" lengthAdjust="spacingAndGlyphs" font-size="9.8" fill="#000">20</text>
<text x="463.6" y="595.8" textLength="13.1" lengthAdjust="spacingAndGlyphs" font-size="9.8" fill="#000">25</text>
<text x="497.6" y="595.8" textLength="13.1" lengthAdjust="spacingAndGlyphs" font-size="9.8" fill="#000">30</text>
<text x="385.3" y="604.7" textLength="55.5" lengthAdjust="spacingAndGlyphs" font-size="9.2" fill="#000" word-spacing="1.5">Time in s</text>
<text transform="translate(266.0,570.5) rotate(-90)" x="0" y="0" textLength="114.1" lengthAdjust="spacingAndGlyphs" font-size="11.0" word-spacing="2.2">Mean intensity in 1</text>
<text transform="translate(266.0,454.9) rotate(-90)" x="0" y="0" textLength="3.0" lengthAdjust="spacingAndGlyphs" font-size="11.0" word-spacing="2.2">·</text>
<text transform="translate(266.0,450.6) rotate(-90)" x="0" y="0" textLength="12.4" lengthAdjust="spacingAndGlyphs" font-size="11.0" word-spacing="2.2">10</text>
<text transform="translate(261.9,436.4) rotate(-90)" x="0" y="0" textLength="15.5" lengthAdjust="spacingAndGlyphs" font-size="11.0" word-spacing="2.2">−2</text>
<line x1="305.7" y1="432.2" x2="433.0" y2="515.9" stroke="#25b2e8" stroke-width="1.35" stroke-dasharray="5.2 4.2"/>
<line x1="433.9" y1="432.2" x2="447.4" y2="515.9" stroke="#25b2e8" stroke-width="1.35" stroke-dasharray="5.2 4.2"/>
<line x1="305.7" y1="472.4" x2="433.0" y2="557.9" stroke="#25b2e8" stroke-width="1.35" stroke-dasharray="5.2 4.2"/>
<line x1="433.9" y1="472.4" x2="447.4" y2="557.9" stroke="#25b2e8" stroke-width="1.35" stroke-dasharray="5.2 4.2"/>
<rect x="433.0" y="515.9" width="14.4" height="42.0" fill="none" stroke="#25b2e8" stroke-width="1.35"/>
<rect x="305.7" y="432.2" width="128.2" height="40.2" fill="#fff"/>
<g clip-path="url(#ciE)">
<line x1="331.4" y1="432.2" x2="331.4" y2="472.4" stroke="#e9e9e9" stroke-width="0.6"/>
<line x1="365.3" y1="432.2" x2="365.3" y2="472.4" stroke="#e9e9e9" stroke-width="0.6"/>
<line x1="399.2" y1="432.2" x2="399.2" y2="472.4" stroke="#e9e9e9" stroke-width="0.6"/>
<line x1="305.7" y1="441.7" x2="433.9" y2="441.7" stroke="#e9e9e9" stroke-width="0.6"/>
<line x1="305.7" y1="457.7" x2="433.9" y2="457.7" stroke="#e9e9e9" stroke-width="0.6"/>
<path d="M306.5 451.4 L306.7 451.5 L306.8 451.6 L307.0 452.0 L307.1 452.2 L307.3 452.5 L307.5 452.6 L307.6 452.6 L307.8 452.9 L307.9 452.8 L308.1 452.6 L308.2 452.4 L308.4 452.1 L308.6 451.9 L308.7 451.6 L308.9 451.4 L309.0 451.4 L309.2 451.6 L309.4 451.7 L309.5 452.1 L309.7 452.1 L309.8 452.0 L310.0 452.1 L310.1 451.8 L310.3 451.5 L310.5 450.7 L310.6 450.2 L310.8 449.4 L310.9 448.4 L311.1 447.6 L311.3 447.0 L311.4 446.5 L311.6 446.2 L311.7 446.6 L311.9 447.4 L312.0 448.2 L312.2 449.0 L312.4 450.0 L312.5 450.7 L312.7 451.3 L312.8 451.6 L313.0 451.7 L313.2 451.9 L313.3 451.7 L313.5 451.8 L313.6 451.8 L313.8 451.6 L313.9 451.5 L314.1 451.3 L314.3 451.6 L314.4 451.6 L314.6 451.4 L314.7 451.5 L314.9 451.7 L315.1 451.6 L315.2 451.6 L315.4 451.6 L315.5 451.8 L315.7 451.9 L315.8 452.1 L316.0 452.4 L316.2 452.4 L316.3 452.4 L316.5 452.3 L316.6 452.2 L316.8 451.9 L317.0 451.8 L317.1 451.7 L317.3 451.7 L317.4 451.6 L317.6 451.6 L317.7 451.7 L317.9 451.6 L318.1 451.1 L318.2 451.2 L318.4 450.9 L318.5 450.3 L318.7 449.5 L318.9 448.8 L319.0 448.1 L319.2 447.1 L319.3 446.7 L319.5 446.3 L319.7 446.4 L319.8 446.9 L320.0 447.5 L320.1 448.4 L320.3 449.2 L320.4 450.2 L320.6 451.0 L320.8 451.4 L320.9 451.9 L321.1 451.9 L321.2 451.9 L321.4 451.9 L321.6 451.8 L321.7 451.4 L321.9 451.3 L322.0 451.2 L322.2 451.2 L322.3 451.0 L322.5 451.2 L322.7 451.5 L322.8 451.7 L323.0 452.1 L323.1 452.1 L323.3 452.4 L323.5 452.3 L323.6 452.2 L323.8 452.4 L323.9 452.1 L324.1 452.2 L324.2 452.0 L324.4 452.0 L324.6 451.9 L324.7 451.6 L324.9 451.5 L325.0 451.4 L325.2 451.6 L325.4 451.6 L325.5 451.8 L325.7 452.1 L325.8 452.1 L326.0 452.3 L326.1 451.8 L326.3 451.5 L326.5 451.0 L326.6 450.4 L326.8 449.7 L326.9 448.5 L327.1 447.8 L327.3 447.1 L327.4 446.6 L327.6 446.2 L327.7 446.4 L327.9 447.1 L328.0 447.9 L328.2 448.6 L328.4 449.5 L328.5 450.2 L328.7 451.0 L328.8 451.3 L329.0 451.6 L329.2 451.8 L329.3 451.7 L329.5 451.8 L329.6 451.3 L329.8 451.2 L330.0 451.0 L330.1 450.9 L330.3 450.5 L330.4 450.3 L330.6 450.3 L330.7 450.6 L330.9 450.7 L331.1 451.0 L331.2 451.5 L331.4 451.9 L331.5 452.1 L331.7 452.3 L331.9 452.2 L332.0 452.2 L332.2 452.0 L332.3 451.9 L332.5 451.9 L332.6 451.5 L332.8 451.4 L333.0 451.3 L333.1 451.5 L333.3 451.5 L333.4 451.6 L333.6 452.1 L333.8 452.3 L333.9 452.4 L334.1 452.3 L334.2 452.2 L334.4 452.0 L334.5 451.3 L334.7 450.5 L334.9 449.7 L335.0 448.8 L335.2 447.9 L335.3 447.0 L335.5 446.5 L335.7 446.4 L335.8 446.6 L336.0 447.0 L336.1 448.0 L336.3 448.7 L336.4 449.7 L336.6 450.4 L336.8 451.0 L336.9 451.6 L337.1 451.7 L337.2 451.9 L337.4 451.8 L337.6 451.7 L337.7 451.5 L337.9 451.2 L338.0 451.2 L338.2 451.2 L338.3 451.1 L338.5 451.2 L338.7 451.5 L338.8 451.7 L339.0 451.5 L339.1 451.6 L339.3 452.0 L339.5 452.3 L339.6 452.3 L339.8 452.3 L339.9 452.5 L340.1 452.4 L340.2 452.0 L340.4 452.0 L340.6 452.0 L340.7 451.8 L340.9 451.5 L341.0 451.5 L341.2 451.4 L341.4 451.3 L341.5 451.4 L341.7 451.6 L341.8 451.9 L342.0 451.9 L342.2 452.2 L342.3 452.2 L342.5 451.8 L342.6 451.5 L342.8 450.8 L342.9 450.1 L343.1 449.1 L343.3 448.2 L343.4 447.6 L343.6 447.2 L343.7 447.2 L343.9 447.5 L344.1 448.2 L344.2 448.9 L344.4 449.7 L344.5 450.5 L344.7 451.4 L344.8 451.7 L345.0 451.9 L345.2 452.1 L345.3 452.1 L345.5 452.0 L345.6 451.7 L345.8 451.8 L346.0 451.7 L346.1 451.5 L346.3 451.4 L346.4 451.4 L346.6 451.2 L346.7 451.1 L346.9 451.3 L347.1 451.6 L347.2 451.7 L347.4 451.7 L347.5 451.8 L347.7 451.9 L347.9 452.0 L348.0 452.0 L348.2 452.0 L348.3 452.1 L348.5 452.1 L348.6 451.9 L348.8 451.8 L349.0 451.6 L349.1 451.5 L349.3 451.8 L349.4 451.8 L349.6 452.0 L349.8 451.8 L349.9 451.8 L350.1 451.8 L350.2 451.4 L350.4 451.3 L350.5 451.2 L350.7 450.7 L350.9 450.1 L351.0 449.2 L351.2 448.5 L351.3 447.8 L351.5 447.0 L351.7 447.2 L351.8 447.3 L352.0 447.7 L352.1 448.3 L352.3 448.8 L352.4 449.8 L352.6 450.1 L352.8 450.7 L352.9 451.2 L353.1 451.7 L353.2 452.0 L353.4 451.6 L353.6 451.8 L353.7 451.5 L353.9 451.5 L354.0 451.3 L354.2 451.0 L354.4 451.4 L354.5 451.4 L354.7 451.6 L354.8 451.7 L355.0 451.7 L355.1 452.0 L355.3 452.2 L355.5 452.4 L355.6 452.5 L355.8 452.5 L355.9 452.6 L356.1 452.7 L356.3 452.5 L356.4 452.5 L356.6 452.4 L356.7 452.2 L356.9 451.9 L357.0 451.7 L357.2 451.7 L357.4 451.6 L357.5 451.5 L357.7 451.7 L357.8 452.1 L358.0 452.2 L358.2 452.1 L358.3 452.0 L358.5 451.6 L358.6 451.1 L358.8 450.3 L358.9 449.6 L359.1 448.6 L359.3 447.6 L359.4 446.9 L359.6 446.3 L359.7 446.1 L359.9 446.2 L360.1 446.9 L360.2 447.5 L360.4 448.3 L360.5 449.2 L360.7 450.3 L360.8 451.0 L361.0 451.4 L361.2 451.9 L361.3 451.9 L361.5 452.0 L361.6 451.6 L361.8 451.2 L362.0 451.3 L362.1 451.2 L362.3 451.3 L362.4 451.3 L362.6 451.4 L362.7 451.7 L362.9 451.6 L363.1 451.7 L363.2 452.0 L363.4 452.2 L363.5 452.4 L363.7 452.5 L363.9 452.4 L364.0 452.2 L364.2 451.8 L364.3 451.8 L364.5 451.7 L364.7 451.4 L364.8 451.5 L365.0 451.7 L365.1 451.7 L365.3 451.4 L365.4 451.3 L365.6 451.5 L365.8 451.6 L365.9 451.6 L366.1 451.7 L366.2 451.8 L366.4 451.6 L366.6 451.1 L366.7 450.5 L366.9 449.7 L367.0 449.3 L367.2 448.5 L367.3 447.7 L367.5 447.1 L367.7 446.9 L367.8 446.7 L368.0 446.8 L368.1 447.3 L368.3 448.3 L368.5 449.3 L368.6 450.2 L368.8 451.0 L368.9 451.4 L369.1 451.8 L369.2 451.6 L369.4 451.7 L369.6 451.4 L369.7 451.5 L369.9 451.5 L370.0 451.7 L370.2 451.7 L370.4 451.5 L370.5 451.5 L370.7 451.5 L370.8 451.3 L371.0 451.1 L371.1 451.3 L371.3 451.5 L371.5 451.6 L371.6 451.5 L371.8 451.8 L371.9 451.7 L372.1 451.8 L372.3 451.9 L372.4 452.0 L372.6 451.9 L372.7 451.9 L372.9 452.0 L373.0 451.9 L373.2 451.5 L373.4 451.5 L373.5 451.6 L373.7 451.7 L373.8 451.8 L374.0 451.6 L374.2 451.7 L374.3 451.6 L374.5 451.5 L374.6 451.3 L374.8 450.7 L374.9 450.2 L375.1 449.3 L375.3 448.3 L375.4 447.5 L375.6 446.5 L375.7 446.1 L375.9 446.1 L376.1 446.6 L376.2 447.6 L376.4 448.3 L376.5 449.2 L376.7 450.2 L376.9 450.5 L377.0 451.0 L377.2 451.0 L377.3 451.1 L377.5 451.3 L377.6 451.4 L377.8 451.7 L378.0 451.8 L378.1 451.7 L378.3 451.5 L378.4 451.3 L378.6 451.2 L378.8 451.3 L378.9 451.1 L379.1 451.4 L379.2 452.0 L379.4 452.3 L379.5 452.3 L379.7 452.3 L379.9 452.5 L380.0 452.7 L380.2 452.3 L380.3 452.2 L380.5 452.4 L380.7 452.1 L380.8 451.6 L381.0 451.5 L381.1 451.5 L381.3 451.4 L381.4 451.6 L381.6 452.0 L381.8 452.6 L381.9 452.6 L382.1 452.6 L382.2 452.6 L382.4 452.0 L382.6 451.5 L382.7 450.7 L382.9 450.2 L383.0 449.5 L383.2 448.8 L383.3 448.0 L383.5 447.4 L383.7 446.8 L383.8 446.7 L384.0 446.8 L384.1 447.1 L384.3 447.9 L384.5 448.2 L384.6 449.1 L384.8 449.8 L384.9 450.5 L385.1 450.8 L385.2 451.3 L385.4 451.8 L385.6 452.0 L385.7 452.1 L385.9 451.9 L386.0 451.8 L386.2 451.7 L386.4 451.6 L386.5 451.4 L386.7 451.2 L386.8 451.2 L387.0 451.4 L387.2 451.5 L387.3 451.6 L387.5 451.7 L387.6 452.1 L387.8 452.2 L387.9 452.2 L388.1 452.3 L388.3 452.4 L388.4 452.3 L388.6 451.9 L388.7 452.2 L388.9 452.2 L389.1 452.0 L389.2 452.0 L389.4 452.2 L389.5 452.3 L389.7 452.0 L389.8 452.0 L390.0 452.0 L390.2 452.0 L390.3 451.8 L390.5 451.7 L390.6 451.6 L390.8 450.9 L391.0 450.2 L391.1 449.6 L391.3 448.9 L391.4 448.1 L391.6 447.3 L391.7 447.0 L391.9 447.0 L392.1 446.9 L392.2 447.5 L392.4 448.3 L392.5 449.0 L392.7 449.8 L392.9 450.3 L393.0 450.9 L393.2 451.1 L393.3 451.2 L393.5 451.2 L393.6 451.5 L393.8 451.6 L394.0 451.6 L394.1 451.4 L394.3 451.2 L394.4 451.4 L394.6 451.2 L394.8 451.3 L394.9 451.3 L395.1 451.5 L395.2 451.8 L395.4 451.6 L395.5 451.9 L395.7 451.9 L395.9 452.1 L396.0 452.4 L396.2 452.5 L396.3 452.8 L396.5 452.4 L396.7 452.3 L396.8 452.2 L397.0 452.0 L397.1 451.5 L397.3 451.6 L397.4 451.7 L397.6 451.6 L397.8 451.5 L397.9 451.3 L398.1 451.5 L398.2 451.5 L398.4 451.2 L398.6 451.1 L398.7 450.8 L398.9 450.4 L399.0 449.9 L399.2 448.8 L399.4 448.3 L399.5 447.7 L399.7 447.0 L399.8 447.0 L400.0 447.0 L400.1 447.4 L400.3 447.9 L400.5 448.7 L400.6 449.7 L400.8 450.1 L400.9 450.6 L401.1 451.1 L401.3 451.5 L401.4 451.7 L401.6 451.7 L401.7 451.8 L401.9 451.6 L402.0 451.4 L402.2 451.4 L402.4 451.1 L402.5 451.3 L402.7 451.2 L402.8 451.5 L403.0 451.7 L403.2 451.6 L403.3 451.7 L403.5 451.6 L403.6 451.9 L403.8 451.8 L403.9 451.9 L404.1 452.0 L404.3 452.3 L404.4 452.4 L404.6 452.6 L404.7 452.6 L404.9 452.3 L405.1 452.1 L405.2 451.9 L405.4 451.7 L405.5 451.5 L405.7 451.7 L405.8 452.2 L406.0 452.3 L406.2 452.3 L406.3 452.2 L406.5 451.8 L406.6 451.4 L406.8 450.7 L407.0 450.2 L407.1 449.4 L407.3 448.7 L407.4 448.0 L407.6 447.3 L407.7 447.0 L407.9 446.6 L408.1 446.8 L408.2 447.1 L408.4 448.0 L408.5 448.7 L408.7 449.6 L408.9 450.4 L409.0 451.0 L409.2 451.6 L409.3 451.8 L409.5 452.1 L409.6 452.3 L409.8 452.0 L410.0 451.8 L410.1 451.7 L410.3 451.6 L410.4 451.3 L410.6 450.9 L410.8 451.1 L410.9 451.3 L411.1 451.5 L411.2 451.9 L411.4 452.1 L411.6 452.1 L411.7 452.5 L411.9 452.8 L412.0 452.7 L412.2 452.7 L412.3 452.9 L412.5 453.0 L412.7 453.0 L412.8 452.8 L413.0 452.4 L413.1 452.2 L413.3 452.0 L413.5 452.0 L413.6 451.6 L413.8 451.3 L413.9 451.8 L414.1 451.6 L414.2 451.5 L414.4 451.3 L414.6 451.2 L414.7 451.1 L414.9 450.6 L415.0 450.4 L415.2 449.7 L415.4 449.0 L415.5 448.2 L415.7 447.4 L415.8 447.1 L416.0 446.9 L416.1 447.2 L416.3 447.6 L416.5 448.4 L416.6 449.3 L416.8 449.8 L416.9 450.3 L417.1 450.8 L417.3 451.3 L417.4 451.4 L417.6 451.6 L417.7 451.8 L417.9 452.0 L418.0 451.7 L418.2 451.5 L418.4 451.6 L418.5 451.2 L418.7 450.9 L418.8 450.8 L419.0 451.1 L419.2 451.2 L419.3 451.4 L419.5 451.9 L419.6 452.2 L419.8 452.1 L419.9 452.0 L420.1 452.2 L420.3 452.3 L420.4 452.0 L420.6 452.0 L420.7 452.1 L420.9 452.3 L421.1 452.1 L421.2 451.9 L421.4 451.8 L421.5 451.9 L421.7 451.8 L421.9 451.7 L422.0 451.8 L422.2 452.0 L422.3 452.2 L422.5 451.9 L422.6 451.9 L422.8 451.4 L423.0 450.9 L423.1 450.2 L423.3 449.4 L423.4 448.7 L423.6 447.8 L423.8 447.3 L423.9 446.9 L424.1 446.8 L424.2 447.1 L424.4 447.9 L424.5 448.7 L424.7 449.6 L424.9 450.4 L425.0 451.2 L425.2 451.3 L425.3 451.6 L425.5 451.7 L425.7 451.6 L425.8 451.5 L426.0 451.4 L426.1 451.6 L426.3 451.2 L426.4 451.1 L426.6 451.1 L426.8 451.3 L426.9 451.3 L427.1 451.3 L427.2 451.4 L427.4 451.4 L427.6 451.4 L427.7 451.4 L427.9 451.5 L428.0 451.7 L428.2 451.7 L428.3 452.1 L428.5 452.2 L428.7 452.0 L428.8 451.9 L429.0 451.7 L429.1 451.7 L429.3 451.4 L429.5 451.3 L429.6 451.4 L429.8 451.4 L429.9 451.6 L430.1 451.5 L430.2 451.4 L430.4 451.5 L430.6 451.4 L430.7 451.2 L430.9 450.8 L431.0 450.6 L431.2 450.1 L431.4 449.1 L431.5 448.4 L431.7 447.5 L431.8 446.9 L432.0 446.4 L432.1 446.4 L432.3 447.0 L432.5 447.8 L432.6 448.8 L432.8 449.8 L432.9 450.6 L433.1 451.2" fill="none" stroke="#f9d899" stroke-width="0.9" stroke-linejoin="round"/>
<path d="M306.1 457.6 L306.5 457.4 L306.9 456.8 L307.3 455.7 L307.7 454.5 L308.1 453.0 L308.5 451.6 L308.9 450.3 L309.3 449.3 L309.7 448.7 L310.2 448.4 L310.5 448.7 L310.8 449.4 L311.1 450.5 L311.4 452.0 L311.7 453.5 L312.0 455.1 L312.3 456.5 L312.6 457.7 L312.9 458.4 L313.2 458.7 L313.6 458.4 L313.9 457.7 L314.3 456.7 L314.6 455.3 L315.0 453.8 L315.4 452.3 L315.7 450.9 L316.1 449.9 L316.4 449.2 L316.8 448.9 L317.1 449.1 L317.4 449.5 L317.7 450.1 L318.0 450.9 L318.3 451.8 L318.6 452.6 L318.9 453.4 L319.2 454.0 L319.6 454.4 L319.9 454.6 L320.2 454.5 L320.6 454.3 L320.9 454.0 L321.3 453.7 L321.6 453.3 L322.0 452.9 L322.4 452.5 L322.7 452.3 L323.1 452.1 L323.4 452.0 L323.7 452.1 L324.1 452.4 L324.4 452.8 L324.7 453.2 L325.0 453.8 L325.3 454.4 L325.6 454.9 L325.9 455.2 L326.2 455.5 L326.5 455.6 L326.8 455.5 L327.2 455.2 L327.5 454.9 L327.8 454.4 L328.1 453.8 L328.5 453.2 L328.8 452.8 L329.1 452.4 L329.4 452.1 L329.8 452.0 L330.1 452.1 L330.3 452.2 L330.6 452.4 L330.9 452.7 L331.2 453.0 L331.5 453.4 L331.8 453.6 L332.1 453.9 L332.3 454.0 L332.6 454.1 L333.0 454.0 L333.5 453.8 L333.9 453.5 L334.3 453.2 L334.7 452.8 L335.1 452.4 L335.5 452.0 L335.9 451.7 L336.3 451.6 L336.7 451.5 L337.1 451.6 L337.5 451.8 L337.9 452.1 L338.4 452.6 L338.8 453.0 L339.2 453.5 L339.6 453.9 L340.0 454.3 L340.4 454.5 L340.8 454.6 L341.2 454.5 L341.5 454.1 L341.9 453.6 L342.2 453.0 L342.6 452.3 L343.0 451.6 L343.3 450.9 L343.7 450.4 L344.0 450.1 L344.4 450.0 L344.7 450.1 L345.1 450.4 L345.5 450.9 L345.8 451.6 L346.2 452.3 L346.5 453.0 L346.9 453.6 L347.2 454.1 L347.6 454.5 L348.0 454.6 L348.4 454.5 L348.8 454.4 L349.2 454.3 L349.6 454.0 L350.0 453.8 L350.4 453.6 L350.8 453.4 L351.2 453.2 L351.6 453.1 L352.0 453.0 L352.4 452.9 L352.8 452.6 L353.1 452.2 L353.5 451.6 L353.8 451.0 L354.2 450.4 L354.6 449.8 L354.9 449.3 L355.3 449.0 L355.6 448.9 L356.0 449.2 L356.3 449.8 L356.7 450.7 L357.1 451.9 L357.4 453.3 L357.8 454.6 L358.1 455.8 L358.5 456.8 L358.8 457.4 L359.2 457.6 L359.6 457.4 L359.9 456.8 L360.3 455.8 L360.6 454.6 L361.0 453.3 L361.3 451.9 L361.7 450.7 L362.1 449.8 L362.4 449.2 L362.8 448.9 L363.1 449.1 L363.5 449.5 L363.9 450.2 L364.2 451.1 L364.6 452.0 L364.9 453.0 L365.3 453.8 L365.6 454.5 L366.0 454.9 L366.4 455.1 L366.8 455.0 L367.2 454.8 L367.6 454.6 L368.0 454.2 L368.4 453.8 L368.8 453.4 L369.2 453.1 L369.6 452.8 L370.0 452.6 L370.4 452.5 L371.2 452.6 L371.9 452.8 L372.6 453.2 L373.3 453.6 L374.1 454.1 L374.8 454.5 L375.5 455.0 L376.3 455.3 L377.0 455.5 L377.7 455.6 L378.3 455.5 L378.8 455.2 L379.4 454.6 L380.0 454.0 L380.5 453.3 L381.1 452.6 L381.6 451.9 L382.2 451.4 L382.8 451.1 L383.3 451.0 L383.7 451.2 L384.0 451.6 L384.4 452.4 L384.8 453.3 L385.1 454.3 L385.5 455.3 L385.8 456.3 L386.2 457.0 L386.5 457.5 L386.9 457.6 L387.3 457.4 L387.7 456.8 L388.1 455.8 L388.5 454.6 L388.9 453.3 L389.4 451.9 L389.8 450.7 L390.2 449.8 L390.6 449.2 L391.0 448.9 L391.3 449.1 L391.6 449.6 L391.9 450.3 L392.2 451.2 L392.5 452.3 L392.8 453.3 L393.1 454.2 L393.4 455.0 L393.8 455.4 L394.1 455.6 L394.5 455.5 L395.0 455.2 L395.4 454.9 L395.9 454.4 L396.4 453.8 L396.8 453.2 L397.3 452.8 L397.7 452.4 L398.2 452.1 L398.7 452.0 L399.1 452.1 L399.5 452.4 L399.9 452.9 L400.3 453.4 L400.7 454.1 L401.1 454.7 L401.5 455.3 L401.9 455.7 L402.3 456.0 L402.7 456.1 L403.1 456.0 L403.5 455.5 L403.8 454.8 L404.2 454.0 L404.5 453.0 L404.9 452.1 L405.2 451.2 L405.6 450.6 L406.0 450.1 L406.3 450.0 L406.7 450.1 L407.0 450.6 L407.4 451.2 L407.8 452.1 L408.1 453.0 L408.5 454.0 L408.8 454.8 L409.2 455.5 L409.5 456.0 L409.9 456.1 L410.3 456.0 L410.7 455.7 L411.1 455.3 L411.5 454.7 L411.9 454.1 L412.3 453.4 L412.8 452.9 L413.2 452.4 L413.6 452.1 L414.0 452.0 L414.5 452.1 L415.0 452.3 L415.5 452.5 L416.0 452.9 L416.5 453.3 L417.0 453.7 L417.6 454.0 L418.1 454.3 L418.6 454.5 L419.1 454.6 L419.6 454.5 L420.1 454.3 L420.6 454.0 L421.1 453.7 L421.6 453.3 L422.2 452.9 L422.7 452.5 L423.2 452.3 L423.7 452.1 L424.2 452.0 L424.7 452.1 L425.2 452.3 L425.7 452.5 L426.2 452.9 L426.8 453.3 L427.3 453.7 L427.8 454.0 L428.3 454.3 L428.8 454.5 L429.3 454.6 L429.6 454.5 L430.0 454.5 L430.3 454.4 L430.6 454.2 L430.9 454.1 L431.3 453.9 L431.6 453.8 L431.9 453.6 L432.3 453.6 L432.6 453.5" fill="none" stroke="#ea6fd8" stroke-width="0.8" stroke-linejoin="round"/>
<path d="M306.1 460.7 L306.5 460.2 L306.9 458.8 L307.4 456.7 L307.8 454.0 L308.2 451.0 L308.6 448.0 L309.1 445.3 L309.5 443.1 L309.9 441.8 L310.4 441.3 L310.7 442.0 L311.0 444.0 L311.4 447.1 L311.7 451.0 L312.0 455.3 L312.4 459.7 L312.7 463.6 L313.1 466.7 L313.4 468.7 L313.7 469.4 L314.0 468.6 L314.3 466.3 L314.6 462.6 L315.0 458.1 L315.3 453.0 L315.6 448.0 L315.9 443.4 L316.2 439.8 L316.5 437.5 L316.8 436.7 L317.1 437.4 L317.5 439.7 L317.8 443.1 L318.1 447.5 L318.5 452.3 L318.8 457.1 L319.2 461.4 L319.5 464.9 L319.8 467.1 L320.2 467.9 L320.5 467.3 L320.8 465.5 L321.1 462.8 L321.4 459.4 L321.7 455.6 L322.0 451.8 L322.3 448.4 L322.6 445.7 L322.9 443.9 L323.2 443.3 L323.5 443.7 L323.8 444.7 L324.2 446.4 L324.5 448.4 L324.8 450.7 L325.1 453.0 L325.4 455.1 L325.7 456.7 L326.0 457.8 L326.3 458.1 L326.6 458.0 L326.9 457.7 L327.1 457.2 L327.4 456.6 L327.7 455.8 L328.0 455.1 L328.2 454.5 L328.5 454.0 L328.8 453.7 L329.1 453.5 L329.2 453.6 L329.3 453.7 L329.5 453.8 L329.6 454.0 L329.7 454.2 L329.9 454.3 L330.0 454.5 L330.1 454.7 L330.3 454.7 L330.4 454.8 L330.6 454.6 L330.8 454.2 L331.1 453.5 L331.3 452.6 L331.5 451.6 L331.7 450.6 L332.0 449.7 L332.2 449.0 L332.4 448.6 L332.6 448.4 L332.9 448.8 L333.2 449.8 L333.5 451.3 L333.8 453.2 L334.1 455.3 L334.4 457.5 L334.6 459.4 L334.9 460.9 L335.2 461.9 L335.5 462.2 L335.8 461.8 L336.1 460.4 L336.4 458.3 L336.7 455.7 L337.0 452.8 L337.3 449.9 L337.6 447.2 L337.9 445.1 L338.3 443.8 L338.6 443.3 L338.9 443.8 L339.2 445.1 L339.5 447.2 L339.8 449.9 L340.1 452.8 L340.4 455.7 L340.7 458.3 L341.0 460.4 L341.3 461.8 L341.6 462.2 L341.9 461.9 L342.2 460.9 L342.5 459.3 L342.7 457.3 L343.0 455.1 L343.3 452.9 L343.6 450.9 L343.8 449.3 L344.1 448.3 L344.4 447.9 L344.6 448.1 L344.9 448.6 L345.2 449.3 L345.4 450.2 L345.7 451.2 L345.9 452.3 L346.2 453.2 L346.4 453.9 L346.7 454.4 L346.9 454.6 L347.2 454.5 L347.5 454.2 L347.7 453.8 L348.0 453.3 L348.2 452.8 L348.5 452.2 L348.7 451.7 L349.0 451.3 L349.2 451.1 L349.5 451.0 L349.8 451.2 L350.1 451.9 L350.5 452.9 L350.8 454.2 L351.1 455.6 L351.5 457.0 L351.8 458.3 L352.1 459.3 L352.4 460.0 L352.8 460.2 L353.1 459.7 L353.4 458.4 L353.7 456.4 L354.0 453.8 L354.3 451.0 L354.7 448.2 L355.0 445.6 L355.3 443.6 L355.6 442.2 L355.9 441.8 L356.2 442.4 L356.5 444.0 L356.9 446.6 L357.2 449.9 L357.5 453.5 L357.8 457.2 L358.1 460.5 L358.4 463.1 L358.7 464.7 L359.0 465.3 L359.3 464.7 L359.7 463.2 L360.0 460.7 L360.3 457.5 L360.6 454.1 L361.0 450.6 L361.3 447.5 L361.6 445.0 L361.9 443.4 L362.3 442.8 L362.6 443.3 L362.9 444.5 L363.2 446.5 L363.6 449.0 L363.9 451.8 L364.2 454.5 L364.6 457.0 L364.9 459.0 L365.2 460.3 L365.5 460.7 L365.8 460.4 L366.1 459.6 L366.4 458.3 L366.7 456.6 L367.0 454.8 L367.3 453.0 L367.5 451.4 L367.8 450.1 L368.1 449.2 L368.4 448.9 L368.8 449.1 L369.1 449.6 L369.5 450.4 L369.9 451.4 L370.2 452.5 L370.6 453.6 L371.0 454.6 L371.3 455.4 L371.7 455.9 L372.1 456.1 L372.3 456.0 L372.6 455.6 L372.9 455.0 L373.1 454.3 L373.4 453.5 L373.6 452.8 L373.9 452.0 L374.1 451.5 L374.4 451.1 L374.6 451.0 L374.9 451.1 L375.3 451.5 L375.6 452.0 L375.9 452.8 L376.2 453.5 L376.5 454.3 L376.8 455.0 L377.1 455.6 L377.4 456.0 L377.7 456.1 L378.3 455.9 L378.9 455.4 L379.5 454.5 L380.2 453.5 L380.8 452.3 L381.4 451.1 L382.0 450.0 L382.6 449.2 L383.2 448.6 L383.8 448.4 L384.2 448.7 L384.5 449.6 L384.9 450.9 L385.2 452.5 L385.5 454.3 L385.9 456.1 L386.2 457.8 L386.5 459.1 L386.9 459.9 L387.2 460.2 L387.5 459.8 L387.9 458.8 L388.2 457.2 L388.5 455.2 L388.8 453.0 L389.2 450.8 L389.5 448.8 L389.8 447.2 L390.2 446.2 L390.5 445.9 L390.8 446.2 L391.1 447.1 L391.4 448.4 L391.7 450.1 L392.0 452.0 L392.3 453.9 L392.6 455.6 L392.9 457.0 L393.2 457.8 L393.5 458.1 L394.1 457.9 L394.6 457.4 L395.1 456.5 L395.6 455.3 L396.1 454.1 L396.6 452.8 L397.1 451.7 L397.6 450.8 L398.1 450.2 L398.7 450.0 L399.1 450.2 L399.6 450.7 L400.0 451.5 L400.5 452.6 L401.0 453.8 L401.4 455.0 L401.9 456.1 L402.3 456.9 L402.8 457.4 L403.3 457.6 L403.6 457.4 L403.9 456.6 L404.2 455.4 L404.5 453.9 L404.8 452.3 L405.1 450.6 L405.4 449.1 L405.7 447.9 L406.0 447.2 L406.3 446.9 L406.7 447.2 L407.0 448.1 L407.3 449.5 L407.7 451.3 L408.0 453.3 L408.3 455.3 L408.7 457.0 L409.0 458.5 L409.4 459.4 L409.7 459.7 L410.0 459.5 L410.3 458.8 L410.7 457.9 L411.0 456.7 L411.3 455.3 L411.7 454.0 L412.0 452.8 L412.3 451.8 L412.6 451.2 L413.0 451.0 L413.1 451.0 L413.2 451.1 L413.3 451.1 L413.5 451.2 L413.6 451.3 L413.7 451.5 L413.8 451.6 L413.9 451.6 L414.1 451.7 L414.2 451.7 L414.3 451.7 L414.5 451.5 L414.6 451.3 L414.7 451.1 L414.9 450.8 L415.0 450.6 L415.1 450.3 L415.3 450.1 L415.4 450.0 L415.5 450.0 L415.8 450.2 L416.1 451.0 L416.4 452.3 L416.7 453.9 L417.0 455.6 L417.4 457.3 L417.7 458.9 L418.0 460.1 L418.3 460.9 L418.6 461.2 L419.0 460.8 L419.5 459.5 L419.9 457.5 L420.3 455.0 L420.8 452.3 L421.2 449.5 L421.7 447.0 L422.1 445.0 L422.5 443.8 L423.0 443.3 L423.3 443.9 L423.7 445.6 L424.0 448.2 L424.4 451.4 L424.7 455.1 L425.1 458.7 L425.4 462.0 L425.8 464.6 L426.1 466.3 L426.5 466.8 L426.8 466.2 L427.1 464.3 L427.4 461.4 L427.7 457.7 L428.0 453.5 L428.4 449.4 L428.7 445.7 L429.0 442.8 L429.3 440.9 L429.6 440.3 L429.8 440.7 L430.1 442.0 L430.3 444.1 L430.5 446.6 L430.7 449.5 L431.0 452.3 L431.2 454.9 L431.4 456.9 L431.6 458.2 L431.9 458.7 L431.9 458.6 L432.0 458.5 L432.1 458.2 L432.2 457.9 L432.2 457.6 L432.3 457.3 L432.4 457.0 L432.4 456.8 L432.5 456.7 L432.6 456.6" fill="none" stroke="#3d3d3d" stroke-width="0.8" stroke-linejoin="round"/>
</g>
<rect x="305.7" y="432.2" width="128.2" height="40.2" fill="none" stroke="#25b2e8" stroke-width="1.1"/>
<text x="449.3" y="422.4" textLength="48.8" lengthAdjust="spacingAndGlyphs" font-size="9.2" fill="#000" word-spacing="1.5">top view</text>
<line x1="442.9" y1="435.5" x2="461.5" y2="435.5" stroke="#666" stroke-width="0.75"/>
<text x="463.6" y="437.7" textLength="34.5" lengthAdjust="spacingAndGlyphs" font-size="9.2" fill="#000">SAM2</text>
<line x1="442.9" y1="443.4" x2="461.5" y2="443.4" stroke="#f48de6" stroke-width="0.75"/>
<text x="463.6" y="445.5" textLength="32.0" lengthAdjust="spacingAndGlyphs" font-size="9.2" fill="#000">static</text>
<line x1="442.9" y1="452.5" x2="461.5" y2="452.5" stroke="#f9d59c" stroke-width="0.75"/>
<text x="463.6" y="453.6" textLength="27.6" lengthAdjust="spacingAndGlyphs" font-size="9.2" fill="#000">ECG</text>
</svg>
</body></html>
